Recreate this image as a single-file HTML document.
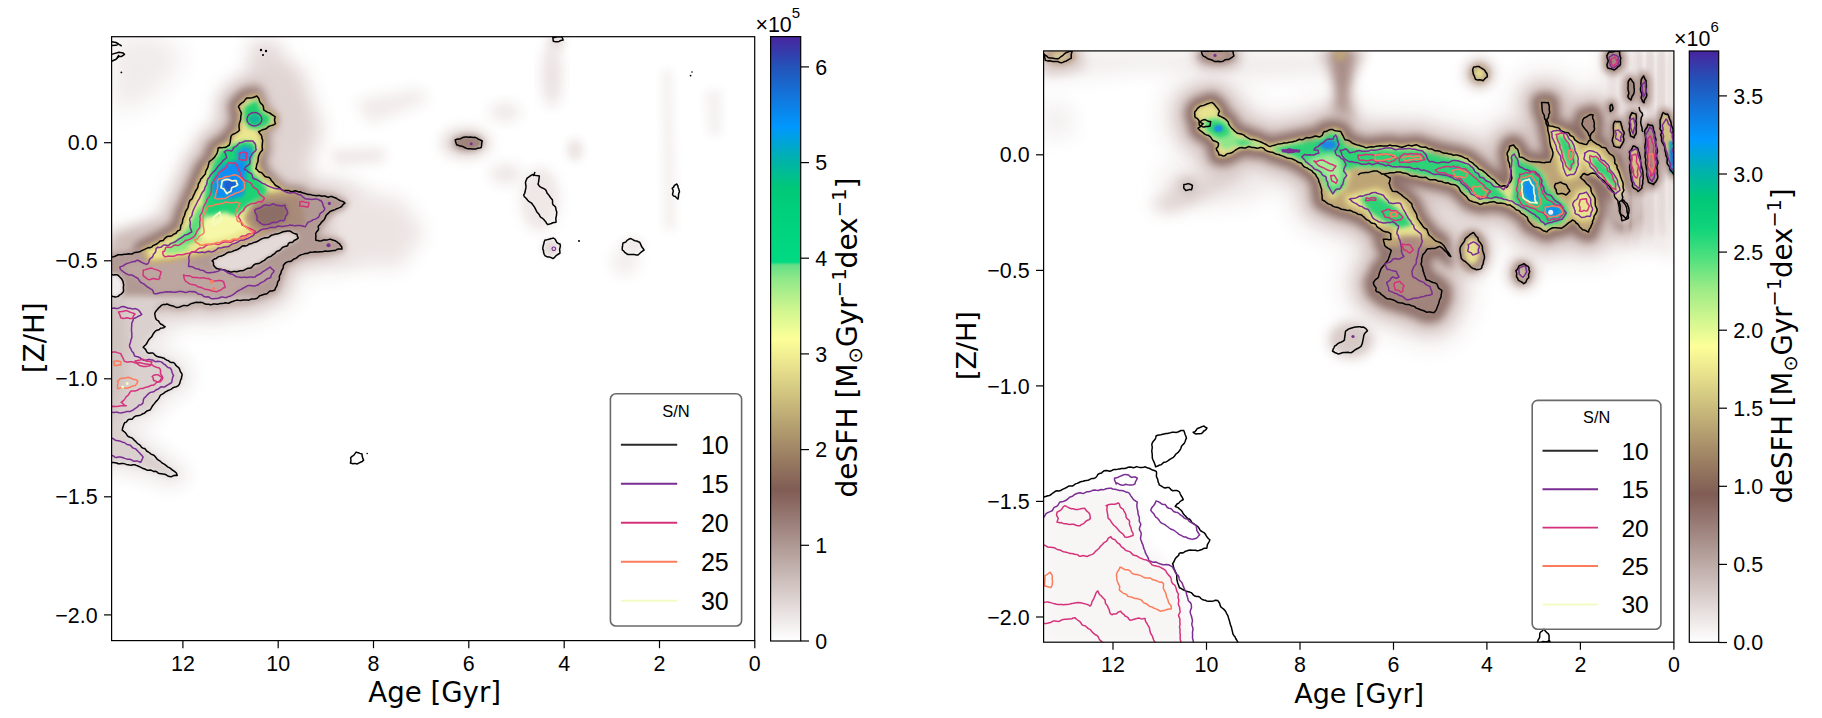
<!DOCTYPE html>
<html><head><meta charset="utf-8"><title>deSFH</title>
<style>html,body{margin:0;padding:0;background:#fff;} svg{display:block;}</style></head>
<body><svg width="1822" height="718" viewBox="0 0 1822 718">
<rect width="1822" height="718" fill="#fff"/>
<defs><clipPath id="clipL"><rect x="111.6" y="36.7" width="643.1" height="603.9"/></clipPath></defs>
<g clip-path="url(#clipL)">
<defs><filter id="b1" x="-50%" y="-50%" width="200%" height="200%"><feGaussianBlur stdDeviation="1"/></filter><filter id="b2" x="-50%" y="-50%" width="200%" height="200%"><feGaussianBlur stdDeviation="2"/></filter><filter id="b3" x="-50%" y="-50%" width="200%" height="200%"><feGaussianBlur stdDeviation="3"/></filter><filter id="b4" x="-50%" y="-50%" width="200%" height="200%"><feGaussianBlur stdDeviation="4"/></filter><filter id="b5" x="-50%" y="-50%" width="200%" height="200%"><feGaussianBlur stdDeviation="5"/></filter><filter id="b6" x="-50%" y="-50%" width="200%" height="200%"><feGaussianBlur stdDeviation="6"/></filter><filter id="b7" x="-50%" y="-50%" width="200%" height="200%"><feGaussianBlur stdDeviation="7"/></filter><filter id="b8" x="-50%" y="-50%" width="200%" height="200%"><feGaussianBlur stdDeviation="8"/></filter><filter id="b9" x="-50%" y="-50%" width="200%" height="200%"><feGaussianBlur stdDeviation="9"/></filter><filter id="b10" x="-50%" y="-50%" width="200%" height="200%"><feGaussianBlur stdDeviation="10"/></filter><filter id="b11" x="-50%" y="-50%" width="200%" height="200%"><feGaussianBlur stdDeviation="11"/></filter><filter id="b12" x="-50%" y="-50%" width="200%" height="200%"><feGaussianBlur stdDeviation="12"/></filter><filter id="b13" x="-50%" y="-50%" width="200%" height="200%"><feGaussianBlur stdDeviation="13"/></filter><filter id="b14" x="-50%" y="-50%" width="200%" height="200%"><feGaussianBlur stdDeviation="14"/></filter><filter id="b15" x="-50%" y="-50%" width="200%" height="200%"><feGaussianBlur stdDeviation="15"/></filter><filter id="b16" x="-50%" y="-50%" width="200%" height="200%"><feGaussianBlur stdDeviation="16"/></filter><filter id="b17" x="-50%" y="-50%" width="200%" height="200%"><feGaussianBlur stdDeviation="17"/></filter><filter id="b18" x="-50%" y="-50%" width="200%" height="200%"><feGaussianBlur stdDeviation="18"/></filter><filter id="b19" x="-50%" y="-50%" width="200%" height="200%"><feGaussianBlur stdDeviation="19"/></filter><filter id="b20" x="-50%" y="-50%" width="200%" height="200%"><feGaussianBlur stdDeviation="20"/></filter><filter id="b21" x="-50%" y="-50%" width="200%" height="200%"><feGaussianBlur stdDeviation="21"/></filter><filter id="b22" x="-50%" y="-50%" width="200%" height="200%"><feGaussianBlur stdDeviation="22"/></filter><filter id="b23" x="-50%" y="-50%" width="200%" height="200%"><feGaussianBlur stdDeviation="23"/></filter><filter id="b24" x="-50%" y="-50%" width="200%" height="200%"><feGaussianBlur stdDeviation="24"/></filter></defs><path d="M159.9,214.0 L157.7,215.4 L148.1,220.9 L147.7,221.1 L141.1,225.1 L135.6,227.3 L126.7,229.9 L116.7,231.2 L115.2,231.5 L110.0,232.6 L101.4,232.0 L99.1,232.0 L96.8,232.2 L94.6,232.6 L92.4,233.2 L90.2,234.1 L88.2,235.1 L86.2,236.4 L84.4,237.8 L82.7,239.3 L81.2,241.1 L79.9,242.9 L78.7,244.9 L77.7,247.0 L77.0,249.2 L76.4,251.4 L76.1,253.7 L76.0,256.0 L76.0,306.0 L76.1,308.4 L76.5,310.7 L77.0,313.0 L77.8,315.2 L78.8,317.3 L80.0,319.3 L81.4,321.2 L83.0,323.0 L84.8,324.6 L86.7,326.0 L88.7,327.2 L90.8,328.2 L93.0,329.0 L95.3,329.5 L97.6,329.9 L100.0,330.0 L159.6,330.0 L162.1,329.9 L164.5,329.5 L166.9,328.9 L166.9,328.9 L169.1,329.4 L171.6,329.9 L174.2,330.0 L181.3,330.0 L183.7,329.9 L186.1,329.5 L190.0,328.7 L190.5,328.6 L199.0,326.7 L202.6,327.9 L204.9,328.6 L207.2,329.0 L209.6,329.2 L212.0,329.1 L214.3,328.9 L224.3,327.2 L224.4,327.1 L233.2,325.6 L251.3,323.9 L254.2,323.4 L257.0,322.6 L274.0,316.6 L275.5,316.0 L284.8,312.0 L286.8,311.1 L288.7,309.9 L290.5,308.5 L292.2,307.0 L293.7,305.4 L295.1,303.6 L296.3,301.6 L297.3,299.6 L298.1,297.5 L301.2,288.1 L304.1,280.7 L304.2,280.4 L307.4,278.5 L310.8,277.1 L324.2,275.8 L325.3,275.7 L337.0,274.0 L338.0,273.8 L346.3,272.2 L348.7,271.6 L350.9,270.8 L353.0,269.8 L355.1,268.6 L357.0,267.2 L358.8,265.6 L360.4,263.8 L361.8,261.9 L363.0,259.9 L364.0,257.7 L364.8,255.5 L365.4,253.2 L365.7,250.8 L365.8,248.4 L365.7,246.1 L365.3,243.7 L364.7,241.4 L363.1,236.3 L362.3,234.0 L361.2,231.9 L359.9,229.8 L358.4,227.9 L356.8,226.1 L356.4,225.8 L357.1,225.3 L358.8,223.8 L362.2,220.4 L363.7,218.7 L365.1,216.8 L366.3,214.9 L367.3,212.8 L368.1,210.6 L368.7,208.4 L369.0,206.2 L369.2,203.9 L369.1,201.6 L368.8,199.3 L368.3,197.0 L367.6,194.9 L366.7,192.8 L365.6,190.8 L364.3,188.9 L362.8,187.1 L361.2,185.5 L359.4,184.0 L357.5,182.8 L349.1,177.8 L347.0,176.7 L344.9,175.8 L342.7,175.1 L336.0,173.4 L332.5,172.8 L316.9,171.2 L301.4,168.2 L299.8,167.9 L292.2,166.9 L288.7,164.6 L283.8,159.9 L284.2,159.0 L285.0,156.8 L285.6,154.4 L286.0,152.1 L286.1,149.7 L286.1,144.9 L288.1,143.8 L290.0,142.4 L291.9,140.9 L293.5,139.1 L295.0,137.2 L296.3,135.1 L297.4,132.9 L298.2,130.7 L298.8,128.3 L299.2,125.9 L299.3,123.5 L299.3,116.8 L299.2,114.5 L298.8,112.2 L298.3,109.9 L297.5,107.7 L296.5,105.6 L295.3,103.6 L293.9,101.7 L292.4,99.9 L290.7,98.4 L288.8,97.0 L283.8,93.6 L282.5,92.8 L282.4,92.7 L281.1,89.8 L277.8,84.0 L276.5,82.0 L275.0,80.1 L273.3,78.4 L271.5,76.9 L269.5,75.5 L267.4,74.3 L265.2,73.4 L262.9,72.7 L260.6,72.2 L258.2,71.9 L255.8,71.9 L253.4,72.2 L251.1,72.6 L241.1,75.1 L238.6,75.9 L236.3,76.9 L234.1,78.1 L232.0,79.6 L230.1,81.3 L225.0,86.3 L224.8,86.4 L221.5,89.7 L220.0,91.4 L218.6,93.2 L217.4,95.2 L216.4,97.3 L215.6,99.4 L215.0,101.6 L214.7,103.9 L214.5,106.1 L214.6,108.4 L214.8,110.7 L215.3,112.9 L216.0,115.1 L216.6,116.6 L216.4,118.2 L214.8,119.8 L213.4,121.4 L212.0,123.2 L210.9,125.0 L210.2,126.2 L210.1,126.3 L207.9,127.2 L205.8,128.3 L203.9,129.6 L202.0,131.2 L200.4,132.8 L198.9,134.7 L197.6,136.7 L196.5,138.8 L195.6,141.0 L195.4,141.5 L192.5,144.4 L191.0,146.1 L189.7,147.8 L188.6,149.7 L187.6,151.6 L186.8,153.7 L184.8,159.6 L184.4,160.8 L184.2,161.6 L183.7,162.0 L182.1,163.9 L180.6,165.8 L179.4,168.0 L178.4,170.2 L177.6,172.5 L176.3,177.0 L174.8,180.0 L173.0,183.1 L170.7,186.1 L169.5,187.9 L168.5,189.8 L167.6,191.8 L162.6,204.9 L161.9,206.9 Z" fill="#f3efee" fill-rule="evenodd" filter="url(#b10)"/><path d="M88.0,462.0 L88.1,463.2 L88.2,464.3 L88.5,465.4 L88.9,466.5 L89.4,467.6 L90.0,468.6 L90.7,469.5 L91.4,470.4 L92.3,471.2 L93.2,471.9 L94.2,472.5 L95.3,473.0 L96.4,473.4 L97.5,473.7 L98.6,473.9 L99.8,474.0 L111.0,474.2 L126.0,475.8 L139.5,479.2 L151.3,482.7 L159.9,486.1 L161.4,486.5 L168.6,488.3 L169.7,488.6 L170.8,488.7 L171.9,488.7 L173.0,488.6 L174.2,488.4 L175.2,488.1 L180.7,486.3 L181.8,485.9 L182.9,485.4 L183.9,484.7 L184.8,484.0 L185.7,483.2 L186.4,482.3 L187.1,481.4 L187.7,480.4 L188.2,479.3 L188.5,478.2 L188.8,477.0 L189.0,475.9 L189.0,474.7 L188.9,473.5 L188.7,472.4 L188.4,471.2 L188.0,470.1 L187.5,469.1 L186.9,468.1 L186.2,467.2 L185.4,466.3 L181.7,462.7 L180.9,462.0 L171.9,454.7 L171.7,454.6 L162.7,447.4 L153.8,440.2 L153.6,440.1 L144.6,432.9 L138.4,428.0 L141.3,426.5 L147.4,424.9 L148.7,424.5 L149.9,424.0 L151.1,423.3 L156.5,419.7 L157.5,418.9 L158.5,417.9 L159.4,416.9 L164.8,409.7 L168.9,404.3 L175.8,400.1 L184.9,394.7 L185.8,394.1 L186.7,393.5 L187.4,392.7 L188.2,391.9 L188.8,391.1 L192.4,385.7 L193.0,384.6 L193.5,383.6 L193.9,382.5 L194.2,381.3 L194.3,380.2 L194.4,379.0 L194.3,377.8 L194.2,376.7 L192.4,367.6 L192.1,366.4 L191.7,365.3 L191.2,364.2 L190.5,363.2 L189.8,362.2 L189.0,361.4 L181.7,354.2 L180.9,353.4 L180.0,352.8 L179.1,352.2 L178.1,351.7 L165.5,346.2 L165.5,346.2 L160.9,344.2 L163.0,341.4 L170.5,337.7 L171.6,337.1 L172.6,336.4 L173.5,335.6 L174.3,334.7 L175.0,333.8 L175.7,332.7 L176.2,331.7 L176.6,330.5 L176.9,329.4 L177.1,328.2 L177.2,327.0 L177.1,325.8 L177.0,324.6 L176.7,323.4 L176.3,322.3 L175.8,321.2 L175.1,320.2 L174.4,319.2 L173.7,318.5 L174.3,318.6 L175.5,318.8 L176.8,318.9 L178.1,318.8 L179.3,318.7 L187.6,317.0 L187.8,316.9 L199.6,314.2 L206.4,316.6 L207.6,316.9 L208.8,317.1 L209.9,317.2 L211.1,317.2 L212.3,317.0 L222.3,315.3 L222.4,315.3 L231.6,313.7 L250.1,311.9 L251.6,311.7 L253.0,311.3 L264.3,307.3 L265.4,306.9 L266.4,306.3 L267.4,305.7 L268.3,305.0 L269.1,304.2 L269.9,303.3 L270.5,302.3 L271.1,301.3 L271.6,300.2 L271.9,299.1 L272.2,298.0 L272.3,296.9 L272.3,295.7 L272.2,294.5 L272.0,293.4 L271.7,292.3 L271.3,291.2 L270.8,290.2 L270.2,289.2 L269.5,288.3 L268.7,287.4 L267.8,286.6 L266.9,286.0 L265.9,285.4 L264.9,284.9 L263.8,284.5 L262.6,284.2 L261.5,284.1 L260.3,284.0 L100.0,284.0 L98.8,284.1 L97.7,284.2 L96.5,284.5 L95.4,284.9 L94.3,285.4 L93.3,286.0 L92.4,286.7 L91.5,287.5 L90.7,288.4 L90.0,289.3 L89.4,290.3 L88.9,291.4 L88.5,292.5 L88.2,293.7 L88.1,294.8 L88.0,296.0 Z" fill="#f1ecec" fill-rule="evenodd" filter="url(#b8)"/><path d="M112.0,36.0 L165.0,36.0 L185.0,60.0 L150.0,100.0 L112.0,115.0 Z" fill="#f1ebeb" filter="url(#b12)"/><path d="M112.0,235.0 L160.0,225.0 L175.0,240.0 L150.0,262.0 L112.0,270.0 Z" fill="#bfa9a4" filter="url(#b8)"/><path d="M250.0,40.0 L280.0,40.0 L288.0,85.0 L262.0,96.0 L247.0,75.0 Z" fill="#e6dddc" filter="url(#b9)"/><path d="M159.7,218.8 L150.7,224.1 L134.5,232.1 L132.7,233.1 L131.1,234.2 L129.6,235.6 L128.2,237.0 L127.0,238.6 L125.9,240.3 L125.0,242.1 L124.3,244.0 L124.2,244.3 L118.6,245.1 L118.0,245.2 L111.0,246.6 L100.6,246.0 L99.6,246.0 L98.7,246.1 L97.7,246.3 L96.8,246.5 L95.9,246.9 L95.1,247.3 L94.3,247.8 L93.5,248.4 L92.8,249.1 L92.2,249.8 L91.6,250.6 L91.1,251.4 L90.7,252.3 L90.4,253.2 L90.2,254.1 L90.0,255.0 L90.0,256.0 L90.0,306.0 L90.0,307.0 L90.2,308.0 L90.4,308.9 L90.8,309.8 L91.2,310.7 L91.7,311.6 L92.3,312.3 L92.9,313.1 L93.7,313.7 L94.4,314.3 L95.3,314.8 L96.2,315.2 L97.1,315.6 L98.0,315.8 L99.0,316.0 L100.0,316.0 L159.6,316.0 L160.6,315.9 L161.7,315.8 L162.7,315.5 L163.6,315.2 L164.5,314.7 L165.4,314.2 L166.4,313.9 L171.0,315.5 L172.1,315.8 L173.1,315.9 L174.2,316.0 L181.3,316.0 L182.3,315.9 L183.3,315.8 L187.2,315.0 L187.4,315.0 L199.7,312.2 L207.1,314.7 L208.0,314.9 L209.0,315.1 L210.0,315.2 L211.0,315.2 L212.0,315.1 L222.0,313.4 L222.0,313.3 L231.3,311.7 L249.9,310.0 L251.2,309.8 L252.3,309.4 L269.3,303.4 L270.0,303.2 L279.3,299.2 L280.1,298.8 L280.9,298.3 L281.7,297.7 L282.3,297.1 L283.0,296.4 L283.5,295.7 L284.0,294.9 L284.5,294.0 L284.8,293.1 L288.0,283.4 L291.0,275.6 L291.4,274.3 L292.1,271.4 L293.8,270.3 L301.1,265.9 L307.5,263.4 L322.8,261.8 L323.2,261.8 L334.9,260.1 L335.4,260.0 L343.7,258.4 L344.7,258.2 L345.6,257.9 L346.5,257.4 L347.3,256.9 L348.1,256.3 L348.9,255.7 L349.5,254.9 L350.1,254.1 L350.6,253.3 L351.1,252.4 L351.4,251.5 L351.6,250.5 L351.8,249.5 L351.8,248.5 L351.7,247.5 L351.6,246.6 L351.3,245.6 L349.7,240.5 L349.4,239.6 L348.9,238.7 L348.4,237.8 L347.8,237.0 L347.1,236.3 L346.3,235.6 L345.5,235.0 L344.6,234.5 L337.9,231.2 L337.1,230.9 L336.2,230.6 L335.3,230.4 L334.4,230.2 L333.5,230.2 L328.4,230.2 L331.4,226.2 L336.4,220.0 L345.7,216.0 L346.6,215.6 L347.4,215.1 L348.2,214.5 L348.9,213.9 L352.3,210.5 L352.9,209.8 L353.5,209.0 L354.0,208.2 L354.4,207.3 L354.7,206.4 L355.0,205.5 L355.1,204.5 L355.2,203.6 L355.2,202.6 L355.1,201.7 L354.8,200.8 L354.5,199.8 L354.2,199.0 L353.7,198.1 L353.2,197.3 L352.5,196.6 L351.9,195.9 L351.1,195.3 L350.3,194.8 L341.9,189.8 L341.1,189.4 L340.2,189.0 L339.3,188.7 L332.6,187.0 L331.1,186.8 L314.9,185.1 L313.8,184.9 L313.5,184.2 L312.5,182.6 L311.3,181.1 L310.0,179.7 L308.6,178.4 L307.0,177.3 L305.4,176.3 L303.7,175.5 L301.9,174.9 L291.9,171.8 L281.9,164.7 L281.1,164.2 L278.8,162.7 L278.2,161.5 L280.7,157.2 L281.7,155.4 L282.5,153.6 L283.0,151.6 L283.4,149.6 L283.6,147.6 L283.6,145.6 L283.3,143.6 L283.1,142.0 L284.2,141.4 L285.9,140.4 L287.6,139.3 L289.1,138.0 L290.5,136.5 L291.7,134.9 L292.8,133.2 L293.7,131.4 L294.4,129.5 L294.9,127.5 L295.2,125.5 L295.3,123.5 L295.3,116.8 L295.2,114.9 L294.9,112.9 L294.5,111.0 L293.8,109.2 L293.0,107.4 L292.0,105.8 L290.8,104.2 L289.5,102.8 L288.1,101.4 L286.5,100.3 L281.5,96.9 L279.3,95.5 L278.7,94.2 L277.6,91.8 L274.3,86.0 L273.2,84.3 L272.0,82.8 L270.6,81.3 L269.1,80.0 L267.4,78.9 L265.7,77.9 L263.8,77.1 L261.9,76.5 L260.0,76.1 L258.0,75.9 L256.0,75.9 L254.0,76.1 L252.0,76.5 L242.0,79.0 L240.0,79.6 L238.1,80.5 L236.2,81.5 L234.5,82.7 L232.9,84.1 L227.8,89.1 L227.7,89.3 L224.4,92.6 L223.1,94.0 L221.9,95.5 L220.9,97.1 L220.1,98.8 L219.4,100.6 L219.0,102.5 L218.6,104.3 L218.5,106.2 L218.6,108.1 L218.8,110.0 L219.2,111.9 L219.8,113.7 L220.7,116.1 L220.4,118.8 L220.1,120.2 L217.7,122.7 L216.2,124.3 L214.9,126.1 L214.2,127.4 L210.9,129.1 L209.0,130.2 L207.3,131.5 L203.3,134.8 L201.7,136.2 L200.3,137.7 L199.1,139.4 L198.1,141.3 L197.3,143.2 L196.6,145.2 L195.4,149.9 L190.9,154.5 L189.6,155.8 L188.5,157.3 L187.5,158.9 L186.7,160.6 L181.7,172.0 L181.6,172.1 L176.6,183.8 L171.8,195.0 L167.1,204.6 L166.4,206.3 L165.8,208.0 L163.3,216.6 Z" fill="#d3c3c0" fill-rule="evenodd" filter="url(#b8)"/><path d="M234.7,96.3 L231.4,99.6 L230.8,100.3 L230.2,101.1 L229.7,101.9 L229.3,102.8 L229.0,103.7 L228.7,104.6 L228.6,105.5 L228.5,106.5 L228.5,107.4 L228.6,108.4 L228.8,109.3 L229.1,110.2 L230.8,114.7 L230.3,120.3 L229.3,125.2 L224.7,129.7 L224.0,130.5 L223.4,131.4 L222.8,132.4 L222.4,133.4 L221.9,134.7 L215.5,138.0 L214.5,138.5 L213.6,139.2 L209.6,142.5 L208.9,143.2 L208.2,144.0 L207.6,144.8 L207.1,145.7 L206.6,146.7 L206.3,147.7 L204.4,155.1 L197.9,161.5 L197.3,162.2 L196.7,163.0 L196.3,163.8 L195.8,164.6 L190.8,176.0 L190.8,176.1 L185.8,187.8 L180.9,199.2 L176.0,209.1 L175.7,209.9 L175.4,210.7 L172.2,221.8 L171.6,223.2 L164.9,227.4 L155.4,232.9 L138.9,241.0 L138.1,241.5 L137.2,242.1 L136.5,242.8 L135.8,243.5 L135.2,244.3 L134.6,245.2 L134.2,246.1 L133.9,247.0 L133.6,248.0 L133.5,249.0 L133.4,250.0 L133.4,251.0 L133.6,252.0 L133.9,253.0 L134.2,253.9 L134.6,254.8 L141.2,266.8 L141.7,267.6 L142.3,268.4 L143.0,269.1 L143.7,269.8 L144.5,270.4 L145.3,270.9 L146.2,271.3 L147.1,271.6 L148.1,271.8 L149.1,272.0 L150.0,272.0 L151.0,272.0 L171.0,270.0 L171.8,269.8 L193.8,265.8 L194.4,265.7 L214.4,260.7 L214.7,260.6 L232.7,255.6 L233.7,255.3 L253.7,247.3 L254.5,246.9 L274.5,236.9 L275.4,236.4 L276.3,235.8 L277.1,235.1 L289.1,223.1 L289.4,222.7 L299.4,211.7 L300.0,211.0 L300.6,210.2 L301.0,209.3 L301.4,208.4 L305.4,197.4 L305.7,196.5 L305.9,195.6 L306.0,194.6 L306.0,193.7 L305.9,192.7 L305.8,191.8 L305.5,190.9 L305.2,190.0 L304.7,189.1 L304.2,188.3 L303.6,187.6 L303.0,186.9 L302.3,186.2 L301.5,185.7 L300.7,185.2 L299.8,184.8 L298.9,184.4 L287.5,180.9 L276.1,172.8 L275.7,172.6 L271.2,169.7 L269.1,165.7 L267.4,162.2 L268.1,158.9 L272.2,152.1 L272.6,151.2 L273.0,150.2 L273.3,149.3 L273.5,148.3 L273.6,147.3 L273.6,146.2 L273.5,145.2 L272.0,136.3 L279.7,132.5 L280.6,132.0 L281.4,131.4 L282.2,130.7 L282.9,130.0 L283.5,129.2 L284.1,128.3 L284.5,127.4 L284.8,126.5 L285.1,125.5 L285.2,124.5 L285.3,123.5 L285.3,116.8 L285.3,115.8 L285.1,114.9 L284.9,113.9 L284.6,113.0 L284.1,112.1 L283.6,111.3 L283.1,110.5 L282.4,109.8 L281.7,109.1 L280.9,108.5 L275.9,105.1 L274.7,104.4 L271.4,102.8 L269.5,97.9 L268.9,96.8 L265.6,91.0 L265.1,90.1 L264.4,89.3 L263.7,88.6 L263.0,88.0 L262.2,87.4 L261.3,86.9 L260.4,86.5 L259.4,86.2 L258.4,86.0 L257.4,85.9 L256.4,85.9 L255.5,86.0 L254.5,86.2 L244.5,88.7 L243.5,89.0 L242.5,89.4 L241.6,89.9 L240.7,90.6 L239.9,91.3 L234.8,96.3 Z" fill="#8f716a" fill-rule="evenodd" filter="url(#b4)"/><path d="M330.0,188.0 L400.0,198.0 L425.0,232.0 L400.0,268.0 L340.0,264.0 Z" fill="#ece4e3" filter="url(#b10)"/><path d="M262.0,58.0 L300.0,66.0 L322.0,130.0 L300.0,192.0 L276.0,182.0 L266.0,120.0 Z" fill="#e0d4d2" filter="url(#b10)"/><path d="M355.0,100.0 L420.0,88.0 L430.0,100.0 L370.0,125.0 Z" fill="#f1ebea" filter="url(#b7)"/><path d="M330.0,150.0 L385.0,148.0 L385.0,162.0 L335.0,166.0 Z" fill="#efe8e7" filter="url(#b6)"/><path d="M162.0,307.8 L166.7,306.6 L173.3,308.8 L173.6,308.9 L173.9,309.0 L174.2,309.0 L181.3,309.0 L181.6,309.0 L181.9,308.9 L185.8,308.1 L185.9,308.1 L200.1,304.9 L209.3,308.0 L209.6,308.1 L209.9,308.2 L210.2,308.2 L210.5,308.2 L210.8,308.2 L220.8,306.5 L220.8,306.5 L230.4,304.8 L249.3,303.0 L249.6,302.9 L250.0,302.8 L267.0,296.8 L267.2,296.8 L276.5,292.8 L276.7,292.6 L277.0,292.5 L277.2,292.3 L277.4,292.1 L277.6,291.9 L277.8,291.7 L277.9,291.5 L278.0,291.2 L278.1,290.9 L281.4,281.0 L284.5,273.1 L284.6,272.7 L285.9,267.1 L290.0,264.4 L298.0,259.6 L305.8,256.5 L322.1,254.9 L322.2,254.9 L333.9,253.2 L334.1,253.1 L342.4,251.5 L342.7,251.5 L342.9,251.4 L343.2,251.3 L343.5,251.1 L343.7,250.9 L343.9,250.7 L344.1,250.5 L344.3,250.3 L344.4,250.0 L344.6,249.7 L344.7,249.5 L344.7,249.2 L344.8,248.9 L344.8,248.6 L344.8,248.3 L344.7,248.0 L344.7,247.7 L343.1,242.6 L343.0,242.3 L342.8,242.0 L342.7,241.8 L342.5,241.5 L342.3,241.3 L342.0,241.1 L341.8,241.0 L341.5,240.8 L334.8,237.5 L334.6,237.4 L334.3,237.3 L334.0,237.3 L333.8,237.2 L333.5,237.2 L318.9,237.2 L318.9,234.0 L321.1,228.3 L325.9,221.9 L332.0,214.3 L343.0,209.6 L343.2,209.4 L343.5,209.3 L343.7,209.1 L343.9,208.9 L347.3,205.5 L347.5,205.3 L347.7,205.1 L347.8,204.8 L348.0,204.6 L348.1,204.3 L348.1,204.0 L348.2,203.7 L348.2,203.5 L348.2,203.2 L348.2,202.9 L348.1,202.6 L348.0,202.3 L347.9,202.1 L347.7,201.8 L347.6,201.6 L347.4,201.4 L347.2,201.2 L347.0,201.0 L346.7,200.8 L338.3,195.8 L338.1,195.7 L337.8,195.6 L337.5,195.5 L330.8,193.8 L330.4,193.7 L313.8,192.0 L297.3,188.8 L297.1,188.7 L284.7,187.1 L275.5,181.1 L269.1,174.8 L268.8,174.6 L268.5,174.4 L263.7,171.6 L258.8,168.0 L260.2,163.3 L262.0,157.6 L264.9,150.9 L265.0,150.6 L265.0,150.3 L265.1,150.0 L265.1,149.7 L265.1,140.0 L265.1,139.8 L264.9,136.6 L264.9,136.3 L264.8,136.0 L264.7,135.7 L264.6,135.4 L264.4,135.1 L263.0,133.0 L266.5,131.2 L276.6,126.2 L276.9,126.0 L277.1,125.9 L277.4,125.7 L277.6,125.4 L277.8,125.2 L277.9,125.0 L278.1,124.7 L278.2,124.4 L278.2,124.1 L278.3,123.8 L278.3,123.5 L278.3,116.8 L278.3,116.5 L278.2,116.2 L278.2,115.9 L278.1,115.7 L278.0,115.4 L277.8,115.1 L277.6,114.9 L277.4,114.7 L277.2,114.5 L277.0,114.3 L272.0,110.9 L271.6,110.7 L266.0,107.9 L263.0,100.6 L262.8,100.2 L259.5,94.4 L259.3,94.2 L259.2,93.9 L259.0,93.7 L258.7,93.5 L258.5,93.3 L258.2,93.2 L257.9,93.1 L257.7,93.0 L257.4,92.9 L257.1,92.9 L256.8,92.9 L256.5,92.9 L256.2,93.0 L246.2,95.5 L245.9,95.6 L245.6,95.7 L245.3,95.9 L245.0,96.0 L244.8,96.3 L239.7,101.3 L239.7,101.3 L236.4,104.6 L236.2,104.8 L236.0,105.0 L235.9,105.3 L235.7,105.5 L235.6,105.8 L235.6,106.1 L235.5,106.3 L235.5,106.6 L235.5,106.9 L235.5,107.2 L235.6,107.5 L235.7,107.7 L237.9,113.8 L237.2,121.4 L235.7,128.6 L229.7,134.7 L229.5,134.9 L229.3,135.1 L229.2,135.3 L227.4,138.5 L227.2,138.8 L227.1,139.1 L227.1,139.4 L226.4,142.7 L217.3,146.0 L217.0,146.1 L216.7,146.2 L216.5,146.4 L216.3,146.6 L216.1,146.8 L215.9,147.0 L215.7,147.3 L215.6,147.5 L215.5,147.8 L213.7,153.0 L207.4,159.3 L207.2,159.5 L207.0,159.7 L206.9,159.9 L206.8,160.2 L206.7,160.4 L204.7,166.3 L204.6,166.5 L202.9,172.5 L198.6,176.9 L198.4,177.1 L198.2,177.4 L198.0,177.6 L197.9,177.9 L197.8,178.2 L196.0,184.7 L193.2,190.2 L190.4,194.8 L187.6,198.6 L187.4,198.8 L187.3,199.1 L187.2,199.3 L182.2,212.4 L182.1,212.7 L178.9,224.0 L177.3,228.0 L168.5,233.4 L158.6,239.1 L158.6,239.1 L150.5,244.0 L142.4,247.2 L131.1,250.5 L119.6,252.0 L119.4,252.1 L111.5,253.7 L100.2,253.0 L99.9,253.0 L99.6,253.0 L99.3,253.1 L99.0,253.2 L98.8,253.3 L98.5,253.4 L98.3,253.5 L98.1,253.7 L97.8,253.9 L97.7,254.1 L97.5,254.4 L97.3,254.6 L97.2,254.9 L97.1,255.1 L97.1,255.4 L97.0,255.7 L97.0,256.0 L97.0,306.0 L97.0,306.3 L97.1,306.6 L97.1,306.9 L97.2,307.1 L97.4,307.4 L97.5,307.7 L97.7,307.9 L97.9,308.1 L98.1,308.3 L98.3,308.5 L98.6,308.6 L98.9,308.8 L99.1,308.9 L99.4,308.9 L99.7,309.0 L100.0,309.0 L159.6,309.0 L159.9,309.0 L160.2,308.9 L160.5,308.9 L160.8,308.7 L161.1,308.6 L161.4,308.4 L161.6,308.3 L161.8,308.0 Z" fill="#b29a94" fill-rule="evenodd" filter="url(#b3)"/><path d="M100.0,462.0 L111.8,462.2 L128.1,464.0 L142.6,467.6 L155.2,471.3 L164.3,474.9 L171.5,476.7 L177.0,474.9 L173.3,471.3 L164.3,464.0 L155.2,456.8 L146.2,449.5 L137.1,442.3 L128.1,435.1 L122.7,429.6 L124.5,422.4 L129.9,418.8 L137.1,415.2 L144.4,413.3 L149.8,409.7 L155.2,402.5 L160.7,395.2 L169.7,389.8 L178.8,384.4 L182.4,379.0 L180.6,369.9 L173.3,362.7 L160.7,357.2 L146.2,350.9 L143.4,347.0 L150.1,338.6 L155.1,331.9 L165.2,326.9 L156.8,320.2 L155.1,313.5 L160.1,305.2 L166.8,303.5 L176.9,306.9 L185.2,305.2 L200.3,301.8 L210.3,305.2 L220.3,303.5 L230.0,301.8 L249.0,300.0 L260.3,296.0 L100.0,296.0 Z" fill="#dad0ce" fill-rule="evenodd" filter="url(#b3)"/><path d="M100.0,300.0 L122.0,300.0 L126.0,330.0 L126.0,380.0 L112.0,420.0 L100.0,420.0 Z" fill="#cfc2bf" filter="url(#b6)"/><path d="M150.1,260.1 L146.7,264.3 L141.7,262.6 L136.7,260.1 L130.0,262.6 L120.0,267.6 L123.4,271.8 L135.1,276.8 L143.4,283.5 L151.8,290.1 L153.5,293.5 L160.1,293.5 L176.9,291.8 L193.6,291.8 L210.3,298.5 L230.0,296.8 L243.5,287.0 L258.6,285.3 L270.3,277.0 L273.6,270.3 L270.3,267.0 L255.2,277.0 L238.5,277.0 L221.8,270.3 L210.0,272.7 L196.9,268.5 L188.5,266.8 L189.4,260.1 L189.7,258.0 L151.4,258.0 Z" fill="#bda5a0" fill-rule="evenodd" filter="url(#b3)"/><path d="M240.0,101.6 L236.7,104.9 L236.6,105.1 L236.4,105.3 L236.3,105.5 L236.2,105.7 L236.1,105.9 L236.1,106.2 L236.0,106.4 L236.0,106.6 L236.0,106.9 L236.0,107.1 L236.1,107.3 L236.2,107.6 L238.5,113.7 L237.7,121.4 L236.2,128.9 L230.0,135.0 L229.8,135.2 L229.7,135.5 L229.6,135.7 L229.4,136.0 L228.0,140.0 L218.9,144.7 L218.6,144.8 L218.4,145.0 L214.4,148.3 L214.2,148.4 L214.0,148.6 L213.9,148.9 L213.8,149.1 L213.7,149.3 L213.6,149.6 L211.2,158.9 L203.2,166.8 L203.1,167.0 L202.9,167.2 L202.8,167.4 L202.7,167.6 L197.7,179.0 L197.7,179.0 L192.7,190.7 L187.7,202.4 L182.8,212.4 L182.7,212.6 L182.6,212.8 L179.3,224.2 L177.7,228.3 L168.7,233.9 L158.9,239.5 L142.3,247.8 L142.1,247.9 L141.9,248.0 L141.7,248.2 L141.5,248.4 L141.3,248.6 L141.2,248.8 L141.1,249.0 L141.0,249.3 L141.0,249.5 L140.9,249.7 L140.9,250.0 L140.9,250.2 L141.0,250.5 L141.0,250.7 L141.1,251.0 L141.2,251.2 L147.8,263.2 L147.9,263.4 L148.1,263.6 L148.2,263.8 L148.4,263.9 L148.6,264.1 L148.8,264.2 L149.1,264.3 L149.3,264.4 L149.5,264.5 L149.8,264.5 L150.0,264.5 L150.2,264.5 L170.2,262.5 L170.4,262.5 L192.4,258.5 L192.6,258.4 L212.6,253.4 L212.7,253.4 L230.7,248.4 L230.9,248.3 L250.9,240.3 L251.1,240.2 L271.1,230.2 L271.4,230.1 L271.6,229.9 L271.8,229.8 L283.8,217.8 L283.8,217.7 L293.8,206.7 L294.0,206.5 L294.1,206.3 L294.3,206.1 L294.3,205.9 L298.3,194.9 L298.4,194.6 L298.5,194.4 L298.5,194.2 L298.5,193.9 L298.5,193.7 L298.4,193.4 L298.4,193.2 L298.3,193.0 L298.2,192.8 L298.1,192.6 L297.9,192.4 L297.7,192.2 L297.6,192.1 L297.4,191.9 L297.2,191.8 L297.0,191.7 L296.7,191.6 L284.1,187.7 L271.7,179.0 L271.7,178.9 L265.5,174.9 L262.4,169.2 L259.5,163.3 L261.0,156.1 L265.7,148.2 L265.9,148.0 L266.0,147.7 L266.0,147.5 L266.1,147.2 L266.1,147.0 L266.1,146.7 L266.1,146.5 L264.4,136.4 L264.3,136.1 L264.2,135.9 L264.1,135.6 L264.0,135.4 L262.2,132.8 L266.3,130.7 L276.4,125.7 L276.6,125.6 L276.8,125.5 L277.0,125.3 L277.2,125.1 L277.4,124.9 L277.5,124.7 L277.6,124.5 L277.7,124.2 L277.7,124.0 L277.8,123.8 L277.8,123.5 L277.8,116.8 L277.8,116.6 L277.8,116.3 L277.7,116.1 L277.6,115.9 L277.5,115.6 L277.4,115.4 L277.2,115.2 L277.1,115.0 L276.9,114.9 L276.7,114.7 L271.7,111.3 L271.4,111.2 L265.6,108.3 L262.5,100.8 L262.4,100.5 L259.1,94.7 L258.9,94.5 L258.8,94.3 L258.6,94.1 L258.4,93.9 L258.2,93.8 L258.0,93.7 L257.8,93.6 L257.5,93.5 L257.3,93.4 L257.0,93.4 L256.8,93.4 L256.5,93.4 L256.3,93.5 L246.3,96.0 L246.0,96.1 L245.8,96.2 L245.6,96.3 L245.3,96.4 L245.1,96.6 L240.0,101.6 Z" fill="#c6ad76" fill-rule="evenodd" filter="url(#b2)"/><path d="M240.8,107.2 L242.9,112.7 L242.9,112.9 L243.0,113.0 L243.0,113.2 L243.0,113.4 L243.0,113.6 L242.2,122.0 L242.2,122.2 L240.5,130.5 L240.4,130.7 L240.3,130.9 L240.3,131.0 L240.2,131.2 L240.0,131.4 L239.9,131.5 L233.5,137.9 L231.9,142.5 L231.8,142.7 L231.7,142.8 L231.6,143.0 L231.5,143.1 L231.4,143.3 L231.2,143.4 L231.1,143.5 L230.9,143.6 L221.1,148.6 L217.8,151.3 L215.3,160.7 L215.3,160.9 L215.2,161.1 L215.1,161.3 L215.0,161.5 L214.8,161.6 L206.7,169.7 L201.8,180.8 L196.8,192.5 L191.8,204.2 L191.8,204.3 L186.9,214.2 L183.6,225.6 L183.6,225.7 L181.6,230.7 L181.5,230.9 L181.4,231.1 L181.2,231.3 L181.1,231.4 L180.9,231.6 L180.8,231.7 L171.1,237.7 L171.0,237.7 L161.1,243.4 L161.0,243.5 L146.2,250.9 L151.1,259.9 L169.7,258.0 L191.6,254.0 L211.5,249.1 L229.4,244.1 L249.2,236.2 L254.5,233.5 L252.0,232.0 L244.0,220.0 L252.0,205.0 L262.0,193.0 L281.6,191.5 L269.2,182.7 L262.5,178.4 L262.4,178.3 L262.2,178.1 L262.1,178.0 L261.9,177.8 L261.8,177.6 L258.4,171.2 L258.4,171.2 L255.1,164.5 L255.0,164.3 L255.0,164.1 L254.9,164.0 L254.9,163.8 L254.9,163.6 L254.9,163.4 L254.9,163.2 L256.6,154.8 L256.7,154.6 L256.8,154.4 L256.9,154.2 L261.5,146.5 L260.0,137.5 L256.9,132.9 L256.8,132.7 L256.7,132.6 L256.7,132.4 L256.6,132.2 L256.6,132.0 L256.6,131.8 L256.6,131.6 L256.6,131.4 L256.7,131.2 L256.8,131.0 L256.9,130.8 L257.0,130.7 L257.1,130.5 L257.2,130.4 L257.4,130.2 L257.5,130.1 L257.7,130.0 L264.3,126.7 L264.3,126.7 L273.3,122.3 L273.3,117.9 L269.3,115.1 L262.7,111.9 L262.5,111.8 L262.4,111.7 L262.2,111.5 L262.1,111.4 L261.9,111.2 L261.8,111.0 L261.7,110.9 L258.4,102.6 L255.9,98.2 L247.9,100.2 L243.2,104.8 Z" fill="#ebe68f" fill-rule="evenodd" filter="url(#b2)"/><path d="M262.0,197.0 L300.0,194.0 L306.0,226.0 L285.0,229.0 L262.0,232.0 L252.0,228.0 L246.0,216.0 L254.0,204.0 Z" fill="#a88a78" fill-rule="evenodd" filter="url(#b3)"/><path d="M256.3,220.9 L263.0,226.0 L263.1,226.1 L263.2,226.1 L263.3,226.1 L263.4,226.2 L263.5,226.2 L263.6,226.2 L263.7,226.2 L263.8,226.2 L273.8,224.5 L273.8,224.5 L273.9,224.4 L283.9,221.0 L284.0,221.0 L284.1,221.0 L284.2,220.9 L284.3,220.9 L284.3,220.8 L284.4,220.7 L284.4,220.6 L284.5,220.6 L287.9,214.0 L287.9,213.9 L288.0,213.8 L288.0,213.7 L288.0,213.6 L288.0,213.5 L288.0,213.4 L288.0,213.3 L286.3,204.8 L286.3,204.7 L286.2,204.6 L286.2,204.5 L286.1,204.4 L286.1,204.4 L286.0,204.3 L285.9,204.2 L285.9,204.2 L285.8,204.1 L285.7,204.1 L285.6,204.0 L285.5,204.0 L285.4,204.0 L285.3,204.0 L267.0,204.0 L266.9,204.0 L266.8,204.0 L266.7,204.0 L266.6,204.1 L254.8,209.2 L254.7,209.2 L254.6,209.3 L254.6,209.3 L254.5,209.4 L254.4,209.5 L254.4,209.5 L254.3,209.6 L254.3,209.7 L254.2,209.8 L254.2,209.9 L254.2,210.0 L254.2,210.1 L254.2,210.2 L254.2,210.3 L255.9,220.3 L255.9,220.4 L256.0,220.4 L256.0,220.5 L256.0,220.6 L256.1,220.7 L256.2,220.8 L256.2,220.8 Z" fill="#8d6e66" fill-rule="evenodd" filter="url(#b2)"/><path d="M211.8,260.3 L221.8,255.2 L235.2,250.2 L250.2,243.5 L266.9,236.9 L283.6,231.8 L290.0,231.5 L297.0,234.3 L298.7,238.5 L290.3,243.5 L273.6,253.6 L258.6,263.6 L243.5,270.3 L230.1,272.0 L216.8,268.6 L213.4,265.3 Z" fill="#e4dad8" fill-rule="evenodd" filter="url(#b2)"/><path d="M100.0,274.0 L111.7,274.3 L118.4,275.1 L123.4,281.8 L123.4,291.8 L118.4,296.8 L111.7,296.8 L100.0,297.0 Z" fill="#f2eded" fill-rule="evenodd" filter="url(#b2)"/><path d="M256.0,100.0 L244.0,107.0 L244.0,120.0 L249.0,128.0 L258.0,129.0 L264.8,125.9 L269.0,123.8 L270.8,116.8 L269.0,115.6 L262.5,112.3 L262.3,112.2 L262.1,112.1 L261.9,111.9 L261.7,111.7 L261.5,111.5 L261.4,111.3 L261.3,111.0 L257.9,102.8 L256.6,100.4 Z" fill="#22cf70" fill-rule="evenodd" filter="url(#b2)"/><path d="M220.2,150.9 L218.7,155.4 L218.6,155.6 L218.5,155.8 L218.4,156.0 L218.2,156.2 L218.1,156.4 L215.2,159.3 L211.0,170.0 L207.0,184.0 L204.0,200.0 L203.0,220.0 L215.0,224.0 L232.0,220.0 L240.0,212.0 L250.0,204.0 L262.0,197.0 L268.0,190.0 L262.0,182.0 L252.0,172.0 L252.0,160.0 L256.0,150.0 L254.0,143.0 L244.0,141.0 L231.4,145.5 L231.4,145.6 L231.3,145.9 L231.2,146.1 L231.1,146.3 L230.9,146.5 L230.7,146.7 L230.5,146.9 L230.3,147.0 L230.1,147.1 L229.9,147.2 L221.2,150.4 Z" fill="#1fd274" fill-rule="evenodd" filter="url(#b2)"/><path d="M200.0,205.0 L214.0,222.0 L205.0,236.0 L185.0,246.0 L166.0,251.0 L176.0,240.0 L188.0,228.0 L195.0,214.0 Z" fill="#5ddc7c" filter="url(#b2)"/><path d="M166.0,247.0 L184.0,243.0 L190.0,249.0 L176.0,253.0 L164.0,253.0 Z" fill="#8ee884" filter="url(#b2)"/><path d="M204.0,218.0 L225.0,212.0 L240.0,218.0 L246.0,228.0 L230.0,236.0 L210.0,241.0 L198.0,238.0 Z" fill="#f6f8a8" filter="url(#b2)"/><path d="M222.0,166.0 L235.0,161.0 L246.0,159.0 L246.0,170.0 L245.0,185.0 L243.0,196.0 L231.0,199.0 L215.0,199.0 L212.0,186.0 L216.0,175.0 Z" fill="#0a8ff5" filter="url(#b2)"/><path d="M236.0,152.0 L246.0,146.0 L252.0,150.0 L250.0,160.0 L240.0,162.0 Z" fill="#1a8ff0" filter="url(#b2)"/><path d="M224.0,181.0 L232.0,179.0 L237.0,183.0 L233.0,190.0 L227.0,192.0 L224.0,187.0 Z" fill="#1a5fd0" filter="url(#b1)"/><ellipse cx="254.4" cy="119.3" rx="5" ry="4.5" fill="#14b59a" filter="url(#b1)"/><ellipse cx="466" cy="143" rx="24" ry="14" fill="#ddd0cd" filter="url(#b7)"/><ellipse cx="468" cy="143" rx="15" ry="8" fill="#a9918b" filter="url(#b3)"/><ellipse cx="468" cy="143" rx="12" ry="5.5" fill="#a0857d" filter="url(#b1)"/><ellipse cx="540" cy="199" rx="14" ry="28" fill="#ebe3e2" filter="url(#b6)"/><ellipse cx="551" cy="248" rx="9" ry="9" fill="#e3dad8" filter="url(#b3)"/><ellipse cx="632" cy="246" rx="12" ry="8" fill="#efe8e7" filter="url(#b4)"/><ellipse cx="552" cy="75" rx="9" ry="32" fill="#e8dfde" filter="url(#b7)"/><ellipse cx="556" cy="42" rx="8" ry="8" fill="#e4dad9" filter="url(#b5)"/><ellipse cx="505" cy="112" rx="16" ry="9" fill="#eee7e6" filter="url(#b7)"/><ellipse cx="575" cy="150" rx="8" ry="11" fill="#eae2e1" filter="url(#b5)"/><ellipse cx="506" cy="174" rx="16" ry="10" fill="#ede6e5" filter="url(#b7)"/><ellipse cx="540" cy="200" rx="18" ry="30" fill="#efe8e7" filter="url(#b8)"/><ellipse cx="625" cy="262" rx="14" ry="14" fill="#f3eeed" filter="url(#b7)"/><path d="M662.0,70.0 L672.0,70.0 L676.0,230.0 L664.0,230.0 Z" fill="#f4f0ef" filter="url(#b5)"/><path d="M705.0,90.0 L722.0,90.0 L722.0,135.0 L708.0,135.0 Z" fill="#f5f1f1" filter="url(#b5)"/><path d="M241.6,103.2 L243.1,102.2 L244.3,100.9 L245.4,99.4 L246.8,98.0 L248.6,97.9 L250.3,98.0 L252.0,97.7 L253.7,97.2 L255.3,96.7 L256.7,96.0 L257.9,97.3 L258.9,98.6 L259.3,100.3 L259.8,101.9 L260.9,103.4 L262.4,104.7 L263.3,106.3 L263.6,108.1 L263.7,109.8 L265.3,110.9 L266.9,111.9 L268.6,112.6 L270.3,113.3 L271.9,114.6 L273.6,115.7 L275.2,116.8 L274.7,118.5 L274.5,120.2 L274.9,121.8 L275.4,123.6 L274.1,124.6 L272.5,125.2 L271.0,125.6 L269.4,126.1 L268.0,127.0 L266.8,128.1 L265.4,129.0 L263.6,129.5 L261.8,130.0 L260.3,131.0 L258.6,131.8 L259.8,133.4 L261.2,134.9 L261.9,136.8 L261.9,138.4 L262.7,140.0 L262.6,141.6 L262.4,143.2 L262.3,144.8 L262.1,146.5 L262.3,148.1 L262.5,149.9 L261.2,151.4 L260.1,152.9 L259.2,154.6 L258.5,156.4 L258.2,158.4 L258.1,160.5 L257.6,162.5 L256.9,164.1 L256.5,165.9 L256.3,167.6 L255.7,168.6 L257.1,169.6 L258.1,171.0 L259.4,172.1 L261.2,172.5 L262.5,173.3 L263.7,175.1 L265.0,176.6 L266.9,177.1 L269.1,177.5 L270.5,178.7 L271.3,180.5 L272.6,181.8 L273.8,183.1 L274.8,184.6 L276.1,185.8 L277.7,186.5 L279.2,187.3 L280.5,188.5 L281.7,189.7 L283.5,190.6 L285.2,190.6 L286.9,190.4 L288.5,190.4 L290.1,191.2 L291.7,191.8 L293.4,191.3 L295.2,190.7 L296.8,191.3 L298.4,191.9 L300.1,191.8 L301.8,192.5 L303.4,193.1 L305.0,193.4 L306.6,194.1 L308.3,194.5 L310.0,194.4 L311.7,194.9 L313.4,195.3 L315.0,195.5 L316.7,195.7 L318.4,195.4 L320.1,195.6 L321.7,196.2 L323.4,196.1 L325.1,196.0 L326.7,196.8 L328.4,197.2 L330.1,196.6 L331.9,196.5 L333.5,197.2 L335.2,197.8 L336.7,198.5 L338.1,199.5 L339.5,200.2 L341.0,200.9 L342.6,201.4 L344.0,202.2 L345.0,203.2 L343.6,204.0 L342.5,205.2 L341.7,206.5 L340.1,207.4 L338.4,208.1 L336.7,208.7 L335.1,209.6 L333.4,210.2 L331.7,210.8 L329.9,211.6 L328.7,212.9 L327.3,214.1 L326.1,215.4 L325.4,217.1 L324.7,218.8 L323.7,220.2 L322.4,221.4 L321.2,222.6 L320.3,224.0 L319.1,225.2 L318.1,226.7 L318.6,228.8 L318.0,230.4 L316.6,231.8 L315.7,233.5 L315.8,235.2 L315.9,236.8 L315.7,238.5 L315.9,240.3 L317.9,240.5 L319.8,241.1 L321.8,240.7 L323.5,240.0 L325.1,240.0 L326.8,240.1 L328.5,239.6 L330.2,239.1 L331.8,239.7 L333.5,240.3 L335.3,240.8 L336.9,241.8 L338.3,243.1 L339.5,243.7 L340.4,245.3 L341.7,246.8 L341.9,249.1 L340.2,249.0 L338.4,248.9 L336.8,249.5 L335.3,250.5 L333.6,250.6 L331.9,250.7 L330.2,251.0 L328.5,251.3 L326.8,251.2 L325.1,251.0 L323.4,251.5 L321.8,251.7 L320.1,251.7 L318.4,252.1 L316.8,252.1 L315.0,251.8 L313.4,252.1 L311.7,252.3 L310.0,252.3 L308.4,253.0 L306.8,253.4 L305.1,253.5 L303.4,254.1 L301.6,254.6 L299.9,255.3 L298.4,256.2 L297.1,257.5 L295.7,258.4 L294.1,258.8 L292.8,259.8 L291.6,261.0 L290.0,261.5 L288.2,261.6 L286.3,262.4 L284.7,263.7 L283.4,265.3 L283.3,267.1 L282.8,268.7 L281.7,270.2 L281.2,271.8 L280.8,273.5 L279.9,275.0 L279.3,276.6 L279.5,278.5 L279.1,280.2 L277.9,281.6 L277.4,283.3 L277.1,285.1 L276.3,286.6 L275.4,288.2 L275.1,289.6 L273.7,290.6 L272.0,290.9 L270.2,291.0 L268.8,291.9 L267.5,293.3 L266.0,294.1 L264.4,294.3 L262.8,294.8 L261.3,295.3 L259.6,295.7 L258.4,297.0 L257.1,298.2 L255.5,298.7 L253.8,298.9 L252.1,298.9 L250.5,299.3 L249.0,300.2 L247.3,300.1 L245.5,300.0 L243.8,300.1 L242.0,300.2 L240.3,300.4 L238.6,300.3 L236.8,300.1 L235.1,300.6 L233.4,301.3 L231.7,301.8 L230.1,302.5 L228.6,303.2 L226.9,303.1 L225.2,302.8 L223.6,303.2 L222.0,303.5 L220.3,303.6 L218.7,303.9 L217.0,304.2 L215.2,304.0 L213.5,303.9 L211.9,304.5 L210.4,304.8 L208.8,304.2 L206.9,304.2 L205.1,304.1 L203.6,303.2 L202.0,302.4 L200.4,302.3 L198.7,302.5 L196.9,302.2 L195.2,302.5 L193.5,303.0 L191.8,303.4 L190.2,304.1 L188.7,305.1 L187.1,305.7 L185.3,305.6 L183.5,305.4 L181.9,306.1 L180.3,306.8 L178.7,307.3 L176.7,307.6 L175.0,306.9 L173.4,306.1 L171.7,305.7 L169.9,305.3 L168.3,304.5 L166.9,304.0 L165.3,304.6 L163.5,304.5 L161.9,305.1 L161.0,305.7 L159.9,306.9 L158.6,308.0 L157.6,309.3 L156.5,310.6 L155.5,311.8 L154.7,313.6 L155.0,315.3 L155.3,317.0 L155.8,318.7 L156.9,320.1 L158.5,320.9 L159.5,322.6 L160.6,324.0 L162.4,324.7 L163.7,325.9 L165.1,326.6 L163.8,327.8 L162.2,328.1 L160.5,328.3 L159.3,329.5 L157.8,330.1 L156.2,330.5 L154.8,331.7 L153.8,333.0 L152.9,334.4 L152.2,336.0 L151.2,337.3 L149.9,338.4 L148.7,339.8 L147.8,341.3 L147.0,343.0 L146.0,344.5 L144.6,345.7 L143.2,347.2 L144.3,348.3 L145.6,349.3 L146.2,350.9 L147.4,352.6 L149.0,353.3 L151.0,353.0 L152.9,353.0 L154.3,354.3 L155.6,355.7 L157.2,356.5 L158.9,356.9 L160.6,357.3 L162.3,357.7 L164.0,358.2 L165.4,359.3 L166.9,360.1 L168.6,360.7 L169.9,362.0 L171.5,362.6 L173.5,362.5 L174.8,363.6 L175.7,365.1 L176.9,366.3 L178.4,367.3 L179.4,368.7 L179.8,370.1 L180.4,371.8 L181.8,373.4 L182.1,375.3 L181.5,377.3 L181.5,378.4 L180.7,379.8 L180.2,381.4 L179.8,383.1 L179.0,384.8 L177.7,386.1 L176.1,386.8 L174.3,387.2 L172.7,388.0 L171.3,389.1 L169.7,389.9 L168.1,390.5 L166.5,391.3 L165.0,392.2 L163.6,393.3 L162.2,394.2 L160.5,395.1 L159.6,396.7 L158.8,398.4 L157.7,399.8 L156.4,401.1 L155.2,402.5 L154.1,403.9 L153.0,405.3 L151.9,406.8 L151.1,408.4 L150.0,410.0 L148.4,410.5 L146.8,411.0 L145.6,412.1 L144.4,413.2 L142.6,413.8 L140.9,414.9 L139.1,415.6 L137.3,415.7 L135.7,416.1 L134.3,416.7 L133.1,418.0 L132.0,419.3 L130.2,419.3 L128.4,419.4 L127.3,420.7 L126.3,422.1 L124.9,422.5 L123.9,424.2 L123.3,425.9 L122.7,427.7 L122.2,430.1 L123.7,431.4 L125.2,432.5 L126.4,434.1 L127.5,435.8 L128.8,436.8 L130.4,437.4 L132.1,438.0 L133.3,439.1 L134.4,440.4 L135.7,441.4 L136.8,442.7 L138.0,443.8 L139.4,444.7 L140.6,445.8 L141.6,447.3 L143.0,448.2 L144.8,448.6 L145.9,449.9 L146.9,451.3 L148.4,452.0 L149.8,453.0 L151.0,454.1 L152.6,454.7 L154.2,455.4 L155.3,456.7 L156.3,458.1 L157.4,459.4 L158.8,460.3 L160.2,461.2 L161.4,462.3 L162.8,463.3 L164.2,464.1 L165.6,465.1 L166.8,466.1 L168.1,467.1 L169.7,467.9 L171.0,468.9 L172.3,470.0 L173.7,470.8 L175.1,471.9 L176.4,473.0 L177.2,475.4 L175.1,475.3 L173.2,475.8 L171.5,476.7 L169.6,476.6 L167.8,476.0 L166.2,474.8 L164.6,474.2 L162.9,474.0 L161.2,473.8 L159.5,473.6 L158.0,473.0 L156.8,471.8 L155.2,471.2 L153.5,471.4 L152.0,470.6 L150.4,470.0 L148.7,470.3 L147.0,470.2 L145.5,469.3 L144.0,468.7 L142.4,468.2 L140.9,467.4 L139.4,466.6 L137.9,466.0 L136.3,465.4 L134.8,464.7 L133.0,464.7 L131.2,465.2 L129.6,465.0 L128.0,464.7 L126.4,464.4 L124.8,463.9 L123.2,463.4 L121.6,463.4 L119.9,463.8 L118.2,463.7 L116.7,463.0 L115.0,462.7 L113.4,462.5 L111.8,462.4 L110.1,462.3 L108.4,462.0 L106.7,461.9 L105.1,462.2 L103.4,462.4 L101.7,462.7 L98.8,462.0 L99.1,460.4 L99.5,458.8 L99.5,457.2 L99.8,455.6 L99.8,454.0 L99.5,452.3 L99.6,450.7 L99.9,449.1 L100.2,447.5 L100.3,445.9 L99.9,444.3 L99.6,442.7 L99.8,441.1 L100.1,439.5 L100.3,437.9 L100.1,436.2 L99.5,434.6 L99.3,433.0 L99.5,431.4 L99.4,429.8 L99.4,428.2 L99.7,426.6 L99.8,425.0 L100.0,423.4 L100.1,421.8 L100.4,420.2 L100.7,418.5 L100.5,416.9 L100.4,415.3 L100.5,413.7 L100.0,412.1 L99.2,410.5 L99.3,408.9 L100.1,407.3 L100.7,405.7 L101.0,404.1 L100.8,402.5 L100.7,400.8 L100.7,399.2 L100.6,397.6 L100.3,396.0 L100.1,394.4 L100.0,392.8 L99.9,391.2 L100.1,389.6 L99.9,388.0 L100.3,386.4 L100.8,384.8 L100.3,383.1 L100.2,381.5 L100.4,379.9 L100.1,378.3 L99.8,376.7 L100.1,375.1 L100.4,373.5 L100.2,371.9 L100.2,370.3 L100.8,368.7 L101.0,367.0 L100.4,365.4 L100.0,363.8 L100.2,362.2 L100.3,360.6 L100.1,359.0 L100.0,357.4 L99.8,355.8 L99.8,354.2 L100.4,352.6 L100.6,351.0 L100.1,349.3 L99.9,347.7 L100.2,346.1 L100.2,344.5 L100.4,342.9 L100.8,341.3 L100.6,339.7 L100.4,338.1 L100.8,336.5 L100.6,334.9 L100.2,333.2 L99.9,331.6 L99.5,330.0 L99.7,328.4 L100.6,326.8 L100.6,325.2 L99.5,323.6 L98.9,322.0 L99.3,320.4 L100.1,318.8 L100.0,317.2 L99.8,315.5 L99.8,313.9 L99.7,312.3 L99.6,310.7 L99.5,309.1 L99.5,307.5 L99.8,305.9 L100.2,304.3 L100.2,302.7 L99.8,301.1 L99.6,299.5 L99.8,297.8 L100.1,296.2 L100.6,294.6 L100.6,293.0 L100.0,291.4 L99.7,289.8 L99.5,288.2 L99.5,286.6 L99.7,285.0 L100.1,283.4 L100.4,281.8 L100.7,280.1 L100.8,278.5 L100.1,276.9 L100.4,275.3 L100.7,273.7 L99.7,272.1 L99.5,270.5 L100.0,268.9 L100.2,267.3 L100.1,265.7 L100.1,264.0 L100.1,262.4 L100.2,260.8 L99.9,259.2 L99.3,257.6 L100.0,255.3 L101.7,255.7 L103.4,255.6 L105.0,255.8 L106.7,256.3 L108.4,256.5 L110.0,256.9 L111.8,257.1 L113.4,256.7 L115.1,256.2 L116.6,255.5 L118.2,254.8 L120.0,254.8 L121.7,254.8 L123.3,254.4 L125.0,254.3 L126.7,254.2 L128.3,253.8 L130.1,254.0 L131.9,254.1 L133.4,253.1 L135.0,252.4 L136.8,252.2 L138.6,252.0 L140.2,251.5 L141.8,250.7 L143.4,249.9 L145.0,249.2 L146.6,248.4 L148.3,247.6 L150.3,247.7 L151.9,246.9 L153.0,245.6 L154.5,245.0 L156.0,244.3 L157.4,243.5 L158.7,242.5 L159.8,241.2 L161.5,240.8 L163.1,240.4 L164.3,239.1 L165.4,237.8 L166.7,236.8 L168.3,236.3 L170.1,236.2 L171.8,235.8 L173.0,234.7 L174.5,233.9 L176.0,233.2 L177.0,231.8 L178.2,230.6 L179.9,230.1 L180.5,228.4 L180.6,226.5 L181.1,224.8 L182.1,223.3 L182.5,221.7 L182.7,219.9 L183.2,218.3 L183.9,216.7 L184.6,215.2 L185.0,213.5 L185.5,211.8 L186.3,210.2 L187.4,208.8 L188.1,207.2 L188.4,205.4 L188.8,203.7 L189.3,202.0 L190.0,200.4 L191.4,199.4 L192.4,198.2 L193.0,196.6 L193.8,194.9 L194.6,193.2 L195.3,191.5 L196.2,190.0 L197.1,188.7 L197.9,187.2 L198.1,185.6 L198.4,183.8 L199.5,182.3 L200.2,180.7 L200.7,179.0 L202.1,177.9 L203.1,176.5 L204.2,175.2 L205.4,174.0 L205.5,172.2 L206.0,170.6 L207.0,169.0 L207.8,167.4 L208.3,165.4 L208.8,163.4 L209.4,161.3 L210.8,160.5 L212.2,159.5 L213.3,158.4 L214.5,157.3 L215.3,155.9 L216.2,154.6 L217.2,152.8 L217.8,150.8 L218.1,148.2 L219.5,147.4 L221.4,147.7 L223.1,147.6 L224.7,147.4 L226.3,147.1 L227.7,146.0 L229.3,145.0 L229.8,143.4 L230.3,141.8 L230.4,140.2 L230.7,138.3 L231.1,136.1 L232.3,134.6 L234.2,133.8 L236.0,132.9 L237.6,131.9 L239.5,130.3 L239.2,128.5 L239.0,126.7 L239.1,125.0 L239.3,123.4 L239.9,121.8 L240.5,120.1 L240.7,118.5 L240.7,116.8 L241.0,115.1 L241.4,113.3 L240.7,111.6 L239.9,110.0 L239.3,108.3 L238.4,106.6 L239.8,104.7 Z" fill="none" stroke="#000000" stroke-width="1.5" stroke-linejoin="round"/><path d="M212.1,260.9 L213.4,259.8 L214.6,258.8 L216.2,258.4 L217.5,257.4 L218.8,256.5 L220.5,256.3 L222.0,255.8 L223.6,255.0 L225.2,254.1 L226.7,253.0 L228.4,252.3 L230.2,252.1 L231.9,251.6 L233.5,250.8 L235.2,250.3 L236.8,249.7 L238.3,249.0 L239.7,248.2 L241.0,247.1 L242.3,246.0 L244.0,245.8 L245.9,245.9 L247.4,245.4 L248.7,244.3 L250.3,243.7 L251.9,243.4 L253.4,242.6 L254.9,242.2 L256.6,241.8 L258.0,241.0 L259.4,240.2 L260.8,239.3 L262.3,238.6 L263.9,238.1 L265.5,237.7 L267.2,237.8 L268.9,237.3 L270.3,236.0 L271.8,235.1 L273.5,234.7 L275.2,234.1 L276.9,233.9 L278.7,233.6 L280.3,232.9 L281.9,232.2 L283.6,231.5 L285.2,231.4 L286.8,231.1 L288.4,230.9 L290.2,231.1 L291.8,232.1 L293.4,233.1 L295.2,233.7 L297.0,234.3 L297.5,236.6 L298.3,237.9 L297.1,239.0 L295.7,239.8 L294.2,240.5 L293.1,241.8 L291.7,242.6 L289.7,242.6 L288.4,243.6 L287.7,245.5 L286.3,246.3 L284.6,246.6 L283.0,247.2 L281.8,248.2 L280.6,249.5 L279.4,250.6 L277.8,251.0 L276.3,251.7 L275.2,253.1 L273.9,254.1 L272.5,255.0 L271.3,256.1 L269.8,256.8 L268.2,257.3 L266.8,258.2 L265.6,259.3 L264.4,260.4 L262.9,261.1 L261.4,262.0 L260.1,262.9 L258.6,263.6 L256.9,263.8 L255.2,264.1 L253.8,265.0 L252.6,266.3 L251.4,267.7 L249.8,268.2 L248.0,268.2 L246.5,268.9 L245.0,269.7 L243.5,270.4 L241.9,270.8 L240.2,270.8 L238.5,271.2 L236.9,271.8 L235.1,271.4 L233.4,271.4 L231.8,272.1 L230.1,272.0 L228.5,271.3 L226.8,270.9 L225.2,270.2 L223.6,269.8 L221.9,269.6 L220.2,269.2 L218.5,268.9 L216.8,268.6 L215.0,267.1 L213.5,265.3 L213.5,263.4 L213.1,261.7 Z" fill="none" stroke="#000000" stroke-width="1.5" stroke-linejoin="round"/><path d="M100.0,274.0 L101.7,273.4 L103.4,273.6 L105.0,274.2 L106.7,274.6 L108.3,274.6 L110.0,274.5 L111.7,274.6 L113.3,274.9 L115.0,274.7 L116.7,274.8 L118.2,275.2 L119.3,276.5 L120.6,277.7 L121.7,278.9 L122.5,280.4 L123.1,281.8 L123.4,283.5 L123.7,285.1 L123.4,286.8 L123.4,288.5 L123.6,290.1 L123.4,291.8 L122.2,293.1 L120.9,294.3 L119.3,295.2 L118.4,296.3 L116.7,296.7 L115.1,296.9 L113.4,296.6 L111.7,296.2 L110.0,296.4 L108.4,296.6 L106.7,296.8 L105.0,296.3 L103.3,296.4 L101.7,297.6 L100.0,297.0" fill="none" stroke="#000000" stroke-width="1.5" stroke-linejoin="round"/><path d="M130.0,262.6 L131.7,261.9 L133.4,261.5 L135.3,261.4 L136.6,260.2 L138.6,260.5 L140.2,261.5 L141.8,262.3 L143.4,263.2 L145.0,263.8 L146.8,264.4 L148.2,263.2 L149.0,261.5 L149.4,259.7 L150.4,258.4 L152.0,257.5 L152.9,256.1 L153.4,254.6 L154.5,253.3 L155.5,252.0 L155.9,250.4 L156.1,248.6 L157.5,247.2 L159.3,247.5 L160.9,247.3 L162.3,246.2 L163.7,245.0 L165.4,245.0 L167.3,245.5 L168.9,245.2 L170.2,243.9 L171.6,243.1 L173.3,242.7 L174.7,242.0 L176.1,241.1 L177.5,240.2 L178.8,239.2 L180.1,238.3 L181.6,237.5 L182.9,236.7 L184.2,235.5 L185.6,234.7 L187.3,234.5 L188.8,233.8 L190.0,232.7 L191.7,232.0 L191.2,229.9 L190.3,228.0 L189.9,226.0 L190.3,224.0 L190.2,222.0 L189.6,219.9 L190.0,218.1 L191.3,216.7 L192.0,215.1 L192.3,213.3 L192.8,211.6 L193.4,210.0 L194.3,208.0 L195.3,206.0 L196.1,204.5 L196.9,203.0 L197.6,201.4 L198.5,199.9 L199.5,198.4 L200.2,196.7 L201.0,195.0 L201.8,193.3 L202.9,191.8 L204.2,190.3 L204.8,188.3 L205.4,186.4 L206.5,184.8 L207.0,182.8 L207.2,180.7 L208.0,178.7 L209.4,177.2 L210.3,175.5 L211.5,173.9 L212.7,172.5 L214.0,171.4 L215.3,170.2 L216.3,168.8 L217.3,167.3 L218.4,166.0 L219.6,164.7 L220.8,163.5 L221.9,162.1 L222.9,160.7 L224.3,159.6 L225.6,158.5 L226.7,157.7 L226.2,156.1 L225.7,154.5 L225.2,153.0 L224.1,152.0 L225.7,150.8 L227.4,150.3 L229.1,150.4 L231.2,151.1 L232.7,150.1 L233.2,148.1 L234.6,147.1 L236.2,146.3 L237.5,145.1 L238.6,143.7 L239.9,142.7 L241.6,142.4 L243.3,142.0 L244.6,141.0 L246.6,140.9 L248.5,141.0 L250.4,141.0 L252.5,140.9 L253.9,142.3 L255.1,143.7 L255.7,145.7 L255.6,147.8 L256.2,149.6 L255.1,151.1 L253.7,152.3 L252.2,153.5 L251.4,155.4 L250.2,157.3 L249.6,159.2 L250.1,161.5 L249.8,163.6 L248.3,165.1 L246.6,166.0 L245.3,167.3 L244.4,169.5 L246.0,170.0 L247.3,171.0 L248.5,172.2 L250.1,173.0 L251.7,173.9 L252.3,175.6 L252.7,177.9 L254.3,179.1 L256.6,179.6 L258.4,180.6 L259.8,181.5 L261.1,182.4 L262.5,183.4 L264.1,183.9 L265.7,184.5 L267.0,185.5 L268.5,186.1 L270.0,186.8 L271.7,187.4 L273.5,188.0 L275.2,188.6 L277.1,188.8 L279.0,188.7 L280.7,189.1 L282.2,189.9 L283.7,190.8 L285.2,191.6 L286.7,192.3 L288.3,192.8 L290.0,193.0 L291.7,192.8 L293.5,192.7 L295.1,192.8 L296.7,193.6 L298.3,194.5 L299.8,194.7 L301.3,195.5 L302.5,196.5 L303.6,197.7 L305.1,198.7 L306.7,199.0 L308.4,199.1 L310.1,199.3 L311.7,199.5 L313.5,199.2 L315.2,199.0 L316.8,199.1 L318.5,199.6 L320.1,200.7 L320.9,200.5 L322.0,201.9 L322.7,203.6 L323.1,205.3 L323.7,207.0 L324.8,208.2 L324.3,210.0 L323.2,211.4 L321.5,212.4 L320.1,213.6 L319.4,215.3 L318.6,217.1 L317.2,218.0 L315.9,218.9 L314.3,219.4 L312.7,219.9 L311.5,220.9 L309.9,221.6 L308.1,222.3 L307.0,223.7 L306.2,225.4 L305.1,226.9 L303.5,226.3 L301.8,225.7 L300.2,225.5 L298.5,225.6 L296.8,225.6 L295.1,225.7 L293.4,225.6 L291.8,225.2 L290.1,225.1 L288.5,225.5 L286.8,225.8 L285.2,225.9 L283.6,226.4 L281.9,226.6 L280.2,226.2 L278.5,226.0 L276.9,226.5 L275.3,227.4 L273.6,227.6 L271.9,227.2 L270.2,227.4 L268.6,228.2 L267.0,228.6 L265.3,228.8 L263.8,228.9 L262.3,229.4 L260.7,230.0 L259.3,230.9 L258.1,231.9 L256.6,232.7 L255.1,233.3 L254.0,234.6 L252.9,235.9 L251.4,236.5 L249.9,237.3 L248.6,238.2 L247.0,238.7 L245.4,239.3 L244.0,240.1 L242.3,240.3 L240.6,240.3 L239.1,241.1 L237.7,242.1 L236.2,242.8 L234.7,243.4 L233.1,243.9 L231.5,244.4 L230.2,245.5 L228.7,246.6 L226.9,246.8 L225.2,246.9 L223.4,247.2 L221.8,247.8 L220.0,247.9 L218.2,248.1 L216.8,249.4 L215.3,250.5 L213.6,251.4 L212.0,251.9 L210.3,251.8 L208.5,251.3 L206.9,251.7 L205.3,252.5 L203.6,252.4 L201.9,252.1 L200.2,252.4 L198.6,252.6 L196.9,252.3 L195.1,251.9 L193.4,251.8 L191.8,252.4 L189.9,253.4 L189.6,255.0 L188.8,256.6 L188.8,258.3 L189.2,260.1 L189.0,261.8 L188.7,263.4 L188.7,265.1 L188.6,266.4 L190.3,266.5 L192.0,266.8 L193.6,267.4 L195.2,268.4 L196.8,268.7 L198.6,268.9 L200.0,270.0 L201.7,270.3 L203.5,270.4 L204.9,271.6 L206.4,272.6 L208.2,272.8 L210.0,272.7 L211.7,272.4 L213.4,272.3 L215.1,271.9 L216.8,271.6 L218.5,271.1 L220.0,270.1 L222.2,269.4 L223.6,270.1 L225.1,271.0 L226.5,271.9 L227.8,272.8 L229.3,273.5 L230.9,273.9 L232.6,274.3 L234.0,275.1 L235.3,276.2 L236.8,276.8 L238.5,277.1 L240.2,277.2 L241.8,277.4 L243.5,277.2 L245.2,277.3 L246.8,277.5 L248.5,277.3 L250.2,277.1 L251.9,276.9 L253.5,277.2 L255.2,277.0 L256.3,275.7 L257.8,275.0 L259.3,274.3 L260.8,273.5 L262.0,272.4 L263.4,271.4 L264.8,270.6 L266.2,269.7 L267.5,268.8 L268.9,267.9 L270.2,267.1 L271.8,268.8 L274.0,270.5 L273.5,272.3 L272.0,273.7 L271.2,275.4 L270.7,277.5 L269.0,278.2 L267.1,278.8 L265.7,279.9 L264.4,281.1 L262.8,281.9 L261.1,282.7 L259.6,283.6 L258.5,284.8 L256.9,285.3 L255.3,285.9 L253.6,286.1 L251.8,285.7 L250.1,285.4 L248.4,285.5 L246.8,286.1 L245.2,287.2 L244.0,287.7 L242.6,288.5 L241.1,289.4 L239.6,290.2 L238.0,290.8 L236.6,291.8 L235.4,292.9 L234.1,293.9 L232.7,294.8 L231.2,295.7 L230.0,296.3 L228.3,296.6 L226.7,297.4 L225.1,297.6 L223.4,297.1 L221.7,297.0 L220.1,297.5 L218.5,298.3 L216.9,298.4 L215.3,298.4 L213.6,298.8 L212.0,298.7 L210.4,298.1 L209.1,297.1 L207.5,296.7 L205.6,296.9 L204.0,296.6 L202.7,295.4 L201.4,294.4 L199.7,294.2 L198.0,293.9 L196.7,292.8 L195.3,291.9 L193.6,291.5 L191.9,291.8 L190.3,291.6 L188.6,291.6 L186.9,292.2 L185.2,292.5 L183.6,291.9 L181.9,291.6 L180.2,291.5 L178.6,291.6 L176.9,291.9 L175.2,292.2 L173.5,292.2 L171.8,291.9 L170.1,291.8 L168.4,292.1 L166.7,291.8 L165.0,291.9 L163.4,292.5 L161.7,292.6 L160.1,292.8 L158.4,293.3 L156.8,293.8 L155.2,293.8 L153.7,293.4 L153.3,291.5 L152.1,289.7 L150.5,288.8 L149.0,287.9 L147.5,287.0 L146.0,285.9 L144.8,284.6 L143.3,283.6 L141.6,282.9 L140.2,281.8 L139.1,280.4 L138.1,278.7 L136.7,277.7 L135.0,276.9 L133.5,275.8 L131.9,275.0 L130.0,275.0 L128.1,274.7 L126.5,273.9 L124.9,272.8 L123.4,271.8 L121.9,270.7 L120.5,269.5 L119.7,267.1 L121.5,266.4 L123.3,265.8 L124.8,264.7 L126.4,263.7 L128.2,263.1 Z" fill="none" stroke="#7a2d92" stroke-width="1.5" stroke-linejoin="round"/><path d="M256.9,220.1 L257.2,218.3 L257.0,216.7 L256.5,215.0 L255.7,213.4 L254.9,211.9 L255.0,209.6 L256.5,209.0 L258.0,208.5 L259.6,208.1 L261.0,207.3 L262.3,206.4 L263.7,205.4 L265.2,204.9 L267.0,205.1 L268.7,205.6 L270.3,205.1 L272.0,204.2 L273.7,203.8 L275.3,204.8 L277.0,205.5 L278.6,205.5 L280.3,205.7 L282.0,205.9 L283.6,205.6 L285.1,205.0 L285.2,206.8 L285.8,208.4 L286.8,210.0 L287.4,211.7 L287.6,213.8 L286.3,215.2 L285.3,216.8 L285.1,218.8 L283.8,220.8 L281.9,220.5 L280.1,220.6 L278.5,221.4 L276.9,222.4 L275.1,222.4 L273.4,222.2 L271.7,222.7 L270.2,223.7 L268.6,224.3 L266.9,224.5 L265.2,224.4 L264.0,224.7 L262.2,224.2 L260.7,223.4 L259.5,222.2 L258.2,221.2 Z" fill="none" stroke="#7a2d92" stroke-width="1.5" stroke-linejoin="round"/><path d="M100.0,308.0 L101.8,308.5 L103.7,308.9 L105.5,308.6 L107.3,308.1 L109.1,308.4 L111.0,308.6 L112.8,308.2 L114.6,308.1 L116.3,308.5 L118.1,308.4 L119.8,307.6 L121.4,306.7 L123.2,306.5 L125.0,307.0 L126.5,307.5 L128.1,308.2 L129.9,308.2 L131.6,308.7 L133.3,309.0 L135.2,308.6 L136.9,309.2 L138.5,310.1 L139.7,311.5 L140.7,313.0 L141.8,314.4 L140.2,315.4 L138.5,316.2 L136.9,317.1 L135.2,318.0 L133.4,318.6 L133.1,320.3 L132.4,321.9 L131.7,323.4 L131.8,325.2 L131.6,326.9 L131.5,328.6 L131.5,330.2 L131.6,331.9 L131.9,333.6 L131.8,335.2 L131.9,336.9 L131.5,338.6 L130.8,340.2 L130.6,341.9 L130.0,343.5 L129.5,345.2 L129.7,347.3 L130.8,348.5 L131.3,350.0 L132.0,351.5 L133.3,352.6 L133.9,354.1 L134.6,356.1 L136.5,356.6 L138.5,357.0 L140.2,357.9 L141.7,359.2 L143.4,360.2 L145.1,360.2 L146.7,360.1 L148.2,359.5 L149.7,359.4 L151.2,360.0 L152.9,360.1 L154.3,361.1 L155.8,361.7 L157.7,361.3 L159.4,361.4 L161.2,361.9 L162.6,362.9 L164.0,364.1 L165.5,365.0 L166.6,366.4 L168.0,367.5 L170.1,367.9 L171.1,369.2 L171.7,370.7 L172.0,372.3 L172.7,373.8 L173.5,375.4 L172.8,377.1 L172.3,378.9 L172.0,380.8 L171.6,382.7 L170.1,383.5 L168.7,384.3 L167.4,385.1 L166.0,386.0 L164.6,386.9 L162.9,387.0 L161.0,386.8 L159.7,387.9 L158.4,389.0 L156.8,389.5 L155.5,390.3 L154.2,391.5 L152.4,392.0 L150.6,392.3 L149.1,393.2 L147.8,394.4 L146.7,395.5 L145.6,396.9 L144.1,398.1 L143.4,399.7 L143.2,401.6 L142.8,403.4 L141.1,404.7 L139.1,405.0 L137.9,406.4 L136.5,407.7 L134.9,408.6 L133.5,409.8 L131.8,410.6 L130.1,411.5 L128.2,411.6 L126.2,411.6 L124.5,412.2 L122.7,412.5 L120.9,412.9 L119.1,412.8 L117.2,412.2 L115.4,412.2 L113.6,412.5 L111.8,412.3 L110.1,412.3 L108.4,412.5 L106.7,412.5 L105.1,412.8 L103.4,412.9 L101.7,413.1 L100.0,412.4" fill="none" stroke="#7a2d92" stroke-width="1.5" stroke-linejoin="round"/><path d="M100.0,438.7 L101.7,438.0 L103.4,437.9 L105.1,438.4 L106.7,438.8 L108.4,438.9 L110.1,438.9 L111.9,438.3 L113.5,438.7 L114.9,440.0 L116.4,440.6 L118.1,440.8 L119.7,441.0 L121.3,441.6 L122.8,442.2 L124.3,442.5 L125.7,443.5 L127.0,444.4 L128.7,444.8 L130.3,445.3 L131.5,446.4 L132.6,447.7 L134.1,448.4 L135.8,449.0 L137.0,450.3 L138.1,451.5 L139.4,452.7 L140.5,454.0 L141.7,455.3 L143.1,457.0 L142.4,458.7 L141.6,460.5 L140.8,462.3 L139.2,461.7 L137.7,461.1 L136.0,461.1 L134.2,461.2 L132.7,460.7 L131.2,459.7 L129.6,459.2 L128.0,459.2 L126.4,458.9 L124.8,458.4 L123.2,457.8 L121.6,457.3 L120.0,457.1 L118.3,457.0 L116.6,457.4 L114.9,457.2 L113.5,456.0 L111.8,455.4 L110.1,455.6 L108.4,455.7 L106.7,455.9 L105.1,456.1 L103.4,455.9 L101.7,455.7 L100.0,455.9" fill="none" stroke="#7a2d92" stroke-width="1.5" stroke-linejoin="round"/><ellipse cx="254.4" cy="119.3" rx="7.5" ry="6.7" fill="none" stroke="#7a2d92" stroke-width="1.5"/><path d="M227.3,164.6 L226.9,166.5 L225.6,167.9 L224.0,169.1 L222.4,170.1 L220.9,171.3 L219.3,172.2 L218.4,173.9 L217.5,175.5 L216.3,177.0 L215.3,178.3 L214.3,179.7 L213.5,181.1 L212.4,182.6 L211.7,184.1 L211.5,185.7 L211.5,187.4 L211.5,189.1 L211.4,190.7 L211.0,192.3 L210.5,193.9 L209.9,195.5 L209.0,196.9 L208.0,198.1 L206.9,199.9 L206.2,202.0 L205.3,203.7 L204.3,205.2 L203.5,206.8 L203.1,208.6 L202.7,210.1 L202.4,211.8 L201.5,213.4 L200.5,214.9 L199.9,216.5 L200.2,218.3 L200.2,220.0 L199.7,221.6 L199.7,223.3 L199.8,225.0 L199.8,226.7 L199.4,228.3 L198.0,229.7 L196.9,231.3 L196.4,232.9 L195.4,234.6 L194.3,236.3 L192.8,237.6 L191.2,238.4 L189.7,239.4 L187.9,239.9 L186.1,240.2 L184.6,241.2 L183.3,242.4 L181.7,243.3 L180.3,244.4 L178.8,245.3 L177.2,245.5 L175.3,245.1 L173.7,245.4 L172.3,246.6 L170.9,247.4 L169.1,247.3 L167.3,246.9 L165.5,247.9 L165.1,249.8 L164.4,251.3 L162.9,251.6 L162.8,253.8 L163.5,255.5 L165.1,256.9 L166.8,256.4 L168.4,256.1 L170.0,256.2 L171.7,256.3 L173.5,256.2 L175.1,255.8 L176.7,255.0 L178.4,254.7 L180.1,254.8 L181.8,254.7 L183.6,254.6 L185.2,254.0 L186.8,253.4 L188.6,253.6 L190.2,252.8 L191.8,251.8 L193.7,251.7 L195.5,251.3 L196.9,250.0 L198.3,248.7 L199.9,248.1 L201.8,248.1 L203.5,247.6 L204.9,246.4 L206.4,245.3 L208.0,244.7 L209.9,244.6 L211.6,244.5 L213.2,243.8 L215.0,243.8 L216.8,244.3 L218.5,244.5 L220.1,243.9 L221.7,243.0 L223.3,242.3 L225.0,242.0 L226.7,242.0 L228.4,242.1 L230.2,242.2 L231.9,241.9 L233.2,240.9 L234.7,240.0 L236.4,240.0 L238.0,239.5 L239.3,238.3 L240.6,237.1 L241.9,236.1 L243.6,235.9 L245.4,235.8 L246.8,234.9 L248.3,234.0 L250.2,233.7 L252.0,233.4 L253.7,232.8 L255.5,231.3 L253.8,230.3 L251.9,229.5 L250.2,228.5 L248.5,227.9 L246.9,227.1 L245.2,226.3 L243.6,225.6 L242.2,225.1 L241.5,223.4 L241.0,221.6 L240.3,220.0 L239.3,218.4 L238.2,216.6 L238.9,215.2 L239.8,213.8 L240.8,212.5 L242.3,211.5 L243.7,210.4 L244.0,209.2 L245.0,207.8 L246.1,206.5 L247.5,205.5 L249.0,204.9 L250.4,204.1 L251.9,203.4 L253.6,203.4 L255.3,203.2 L256.9,202.5 L258.5,201.7 L260.2,201.7 L262.0,201.9 L263.2,200.3 L264.4,198.3 L263.3,197.1 L261.9,196.0 L260.5,195.1 L259.3,193.9 L258.5,192.5 L258.1,190.8 L256.9,189.3 L255.2,188.4 L253.6,187.4 L252.4,185.8 L251.5,183.9 L250.1,182.6 L248.3,181.7 L246.6,180.8 L244.8,180.2 L243.3,179.3 L242.4,177.8 L241.3,176.4 L240.4,175.0 L240.1,173.2 L239.7,172.0 L238.7,170.5 L238.0,168.9 L237.9,167.2 L237.0,165.9 L236.3,164.3 L234.9,162.8 L232.8,163.2 L230.9,163.0 L229.0,162.4 Z" fill="none" stroke="#d4337c" stroke-width="1.5" stroke-linejoin="round"/><path d="M239.3,153.5 L241.2,152.7 L243.1,152.1 L245.0,152.4 L247.1,153.5 L246.4,155.4 L246.7,157.5 L246.0,160.3 L244.0,160.1 L242.0,160.0 L239.2,159.5 L239.3,157.5 L239.7,155.4 Z" fill="none" stroke="#d4337c" stroke-width="1.5" stroke-linejoin="round"/><path d="M143.4,270.1 L145.2,269.8 L146.9,269.3 L148.5,268.7 L150.3,268.3 L151.9,268.1 L153.6,268.9 L155.2,269.4 L156.9,269.9 L158.6,270.5 L160.1,271.5 L161.0,271.8 L160.7,273.6 L160.2,275.3 L159.3,277.0 L159.9,278.3 L158.4,279.4 L156.7,279.2 L154.9,278.7 L153.2,278.6 L151.6,278.8 L150.2,279.7 L148.1,279.4 L146.4,278.4 L145.1,277.0 L143.4,276.0 L143.0,274.0 L143.2,272.0 Z" fill="none" stroke="#d4337c" stroke-width="1.5" stroke-linejoin="round"/><path d="M183.5,275.0 L185.2,275.4 L186.9,275.7 L188.6,275.7 L190.3,276.0 L191.8,277.0 L193.5,277.6 L195.2,277.4 L196.9,277.6 L198.6,277.8 L200.2,277.9 L201.9,277.8 L203.6,277.7 L205.3,278.2 L206.9,278.4 L208.6,278.5 L210.1,279.3 L211.6,280.3 L213.3,280.7 L215.0,280.9 L216.9,280.7 L218.7,280.4 L220.5,280.5 L222.1,281.0 L223.8,281.8 L224.0,283.5 L224.6,285.1 L225.1,286.8 L225.0,287.6 L223.2,288.0 L221.8,289.3 L220.2,290.2 L218.5,290.8 L217.0,291.7 L215.3,291.4 L213.6,291.2 L211.9,290.9 L210.3,290.2 L208.6,289.7 L206.9,289.4 L205.2,289.2 L203.6,288.6 L202.0,287.8 L200.3,287.3 L198.5,287.0 L197.0,286.1 L195.4,285.1 L193.7,284.8 L191.9,284.6 L190.1,284.1 L188.5,283.2 L187.1,282.0 L185.9,281.6 L184.9,280.1 L184.2,278.5 L183.9,276.8 Z" fill="none" stroke="#d4337c" stroke-width="1.5" stroke-linejoin="round"/><path d="M300.0,201.7 L301.7,201.5 L303.4,201.6 L305.0,202.2 L306.7,202.4 L308.9,202.5 L308.7,204.7 L308.0,207.0 L306.4,207.0 L304.8,206.6 L303.2,206.2 L301.6,206.3 L299.6,206.0 L299.8,203.9 Z" fill="none" stroke="#d4337c" stroke-width="1.5" stroke-linejoin="round"/><path d="M118.4,312.0 L120.0,311.7 L121.6,311.6 L123.2,311.4 L124.8,310.8 L126.4,310.8 L127.9,311.1 L129.7,312.0 L131.5,312.6 L133.3,313.2 L135.1,314.0 L133.9,315.3 L133.0,316.8 L133.0,318.3 L131.4,318.6 L129.7,318.5 L128.1,318.0 L126.5,317.7 L124.9,318.2 L123.2,318.5 L121.6,317.9 L120.7,317.8 L120.2,315.8 L119.4,313.8 Z" fill="none" stroke="#d4337c" stroke-width="1.5" stroke-linejoin="round"/><path d="M100.0,350.8 L101.7,351.5 L103.4,352.0 L105.1,351.8 L106.7,352.3 L108.4,352.9 L110.1,352.6 L111.7,352.3 L113.6,352.0 L115.5,352.0 L117.3,352.6 L119.1,353.1 L120.8,353.6 L121.4,355.2 L122.2,356.6 L122.9,358.0 L123.6,359.5 L124.4,361.3 L126.2,361.9 L128.0,361.9 L129.9,361.7 L131.7,361.8 L133.5,362.2 L135.2,362.9 L137.1,362.8 L138.8,362.4 L140.3,362.7 L141.9,363.1 L143.4,363.6 L145.0,363.9 L146.6,363.9 L148.2,364.3 L149.8,364.4 L151.5,364.7 L152.9,365.5 L154.3,366.4 L155.8,367.0 L157.4,367.5 L159.2,368.0 L160.2,369.3 L160.6,370.9 L160.4,372.7 L160.8,374.3 L161.8,375.6 L162.5,377.1 L161.2,378.5 L160.3,380.4 L158.9,381.6 L157.0,382.4 L155.6,383.2 L154.5,384.6 L153.0,385.3 L151.2,385.3 L149.8,386.0 L148.1,386.9 L146.2,387.1 L144.4,387.7 L142.8,388.6 L141.0,388.4 L139.5,388.9 L138.1,390.0 L136.5,390.5 L134.9,390.9 L133.2,390.9 L131.1,391.0 L129.8,392.4 L128.9,394.2 L127.6,395.7 L126.1,396.9 L125.1,398.6 L123.9,400.1 L122.5,401.4 L121.1,402.3 L122.4,403.1 L123.6,404.4 L124.8,405.5 L126.3,405.7 L124.7,405.5 L123.1,405.7 L121.5,405.8 L119.9,405.9 L118.2,406.3 L116.6,406.6 L115.0,406.4 L113.4,406.2 L111.8,406.4 L110.1,406.5 L108.4,406.5 L106.7,406.8 L105.1,407.2 L103.4,406.8 L101.7,406.5 L99.5,406.1 L99.5,404.5 L99.9,402.8 L100.2,401.2 L100.0,399.5 L100.0,397.9 L100.6,396.2 L100.8,394.6 L100.7,392.9 L100.5,391.3 L100.1,389.6 L100.1,388.0 L100.3,386.4 L100.0,384.7 L99.9,383.1 L100.2,381.4 L100.2,379.8 L100.2,378.1 L100.3,376.5 L100.3,374.8 L100.4,373.2 L100.7,371.5 L100.6,369.9 L100.2,368.3 L99.5,366.6 L99.2,365.0 L99.6,363.3 L100.3,361.7 L100.4,360.0 L99.9,358.4 L99.7,356.7 L99.6,355.1 L99.2,353.4 Z" fill="none" stroke="#d4337c" stroke-width="1.5" stroke-linejoin="round"/><path d="M219.0,178.6 L220.8,178.7 L222.5,178.2 L224.0,177.5 L225.4,176.7 L227.0,176.4 L228.8,176.4 L230.5,175.9 L232.2,175.4 L234.0,174.8 L235.8,175.0 L237.4,175.6 L238.9,176.7 L240.0,177.5 L241.5,179.1 L242.9,180.6 L244.2,181.9 L244.3,183.6 L244.4,185.3 L244.6,187.0 L244.5,188.5 L243.1,189.7 L241.9,191.0 L240.2,191.6 L238.6,192.2 L236.9,192.7 L235.4,193.2 L233.9,194.2 L232.4,194.8 L230.8,195.4 L229.3,196.2 L227.8,196.8 L226.4,197.9 L224.9,198.5 L223.1,198.8 L221.2,198.8 L219.2,199.1 L217.2,199.1 L214.8,198.4 L215.3,196.8 L215.6,195.2 L215.9,193.5 L216.5,191.9 L217.0,190.3 L217.3,188.7 L217.6,186.8 L217.8,184.8 L217.4,182.7 L217.5,180.7 Z" fill="none" stroke="#fb7d5d" stroke-width="1.5" stroke-linejoin="round"/><path d="M203.3,216.7 L203.8,214.9 L204.8,213.3 L205.6,211.7 L206.0,209.8 L206.9,208.1 L208.3,206.2 L210.0,205.9 L211.7,205.9 L213.4,205.4 L215.0,204.6 L216.7,204.3 L218.4,204.2 L220.1,203.8 L221.8,203.6 L223.5,203.1 L225.1,202.2 L226.7,202.0 L228.5,202.5 L230.2,202.7 L231.9,202.7 L233.6,202.6 L235.1,202.2 L236.9,202.3 L238.5,202.9 L240.1,203.3 L239.2,204.7 L238.5,206.2 L237.9,207.7 L236.9,209.0 L236.3,210.6 L235.8,211.7 L235.5,213.5 L235.5,215.2 L236.3,216.8 L237.0,218.3 L236.9,220.0 L237.9,221.4 L239.8,221.7 L241.6,222.0 L242.6,223.4 L243.5,224.9 L244.6,226.1 L245.9,227.2 L247.2,228.0 L248.7,229.1 L250.2,230.1 L251.8,231.0 L253.3,231.5 L252.2,232.9 L251.1,234.1 L249.4,234.7 L248.1,235.8 L246.9,237.0 L245.3,237.5 L243.7,238.3 L242.0,238.4 L240.1,238.0 L238.5,238.7 L236.9,239.3 L235.1,239.1 L233.4,239.1 L231.8,240.0 L230.2,240.9 L228.5,240.9 L226.7,240.6 L225.0,240.5 L223.3,240.7 L221.7,241.7 L220.1,242.4 L218.4,242.4 L216.7,242.6 L215.0,243.1 L213.4,243.7 L211.8,244.3 L210.1,244.3 L208.4,244.2 L206.7,244.2 L205.0,244.4 L203.4,245.1 L201.7,245.2 L200.1,245.1 L198.8,243.9 L197.2,243.0 L195.6,242.1 L194.7,239.9 L196.7,239.5 L198.0,238.2 L199.0,236.5 L200.3,235.4 L202.0,234.6 L203.6,233.5 L204.0,231.8 L204.0,230.2 L203.7,228.5 L203.5,226.9 L203.1,225.2 L203.0,223.5 L202.9,221.8 L202.8,220.2 L203.2,218.5 Z" fill="none" stroke="#fb7d5d" stroke-width="1.5" stroke-linejoin="round"/><path d="M117.4,381.4 L118.7,380.2 L120.0,378.7 L121.5,378.2 L123.2,378.2 L124.9,377.9 L126.6,377.8 L128.0,377.3 L129.6,377.7 L131.1,378.3 L132.5,379.1 L134.1,379.5 L135.9,379.6 L137.8,381.1 L137.2,382.6 L136.5,384.1 L135.3,385.4 L133.5,385.8 L131.7,386.5 L130.0,387.3 L128.2,387.9 L126.3,388.3 L124.6,388.1 L122.9,387.7 L121.3,387.5 L119.7,388.1 L118.0,388.9 L117.4,387.3 L117.4,385.7 L117.9,384.0 L118.1,382.3 Z" fill="none" stroke="#fb7d5d" stroke-width="1.5" stroke-linejoin="round"/><path d="M113.6,361.7 L115.4,360.9 L117.2,360.7 L119.1,361.2 L120.9,361.8 L120.7,363.6 L120.9,365.0 L119.1,364.8 L117.2,365.5 L115.4,365.5 L114.2,365.4 L114.2,363.6 Z" fill="none" stroke="#fb7d5d" stroke-width="1.5" stroke-linejoin="round"/><path d="M222.0,181.3 L223.6,180.3 L225.2,179.6 L227.0,179.3 L229.1,179.6 L230.7,180.4 L232.4,180.8 L234.1,180.7 L236.2,180.7 L236.8,182.8 L237.7,184.6 L236.4,185.8 L235.0,186.5 L233.3,186.9 L231.7,187.8 L231.3,189.7 L230.8,191.5 L228.8,192.3 L227.0,193.6 L225.8,192.1 L224.8,190.5 L224.0,189.1 L220.9,187.7 L221.4,185.8 L221.7,183.8 Z" fill="none" stroke="#f4fbc4" stroke-width="1.7" stroke-linejoin="round"/><path d="M213.7,217.3 L215.1,216.3 L216.2,215.0 L217.5,214.0 L219.0,213.1 L219.8,211.9 L220.2,213.5 L220.8,215.1 L221.4,216.7 L221.7,218.4 L221.6,219.7 L220.0,220.3 L218.7,221.3 L217.4,222.4 L216.1,223.4 L215.0,224.7 L212.8,225.2 L213.4,223.5 L213.5,221.8 L213.0,220.2 L213.2,218.5 Z" fill="none" stroke="#f4fbc4" stroke-width="1.7" stroke-linejoin="round"/><path d="M455.2,140.0 L456.9,139.2 L458.8,138.9 L460.7,138.7 L462.0,137.9 L463.6,137.2 L465.3,136.9 L466.9,137.0 L468.5,137.2 L470.1,137.1 L471.8,137.3 L473.4,137.6 L475.1,137.3 L476.9,138.2 L478.5,139.3 L480.3,140.0 L482.2,141.0 L481.7,143.0 L481.6,145.1 L481.2,147.5 L479.5,148.1 L477.6,148.3 L476.0,148.9 L474.2,149.0 L472.3,148.9 L470.5,148.8 L468.6,148.8 L466.8,148.4 L465.1,147.8 L463.4,146.7 L461.6,146.1 L459.7,145.9 L458.0,145.1 L456.8,144.9 L456.1,143.3 L455.6,141.6 Z" fill="none" stroke="#000000" stroke-width="1.5" stroke-linejoin="round"/><path d="M527.1,178.1 L528.6,177.2 L530.0,176.1 L531.5,175.1 L532.9,174.4 L534.5,175.2 L536.3,175.6 L538.2,175.8 L539.4,175.9 L539.1,177.5 L539.0,179.2 L538.7,180.8 L538.5,182.4 L538.0,184.0 L539.0,185.7 L540.3,186.9 L542.0,187.8 L543.8,188.6 L545.5,189.6 L546.4,191.2 L547.0,192.9 L548.1,194.2 L549.2,195.6 L550.1,197.1 L551.2,198.4 L552.4,199.8 L552.6,201.5 L552.5,203.3 L553.1,204.8 L554.6,206.0 L555.6,207.3 L555.9,208.9 L556.2,210.6 L556.8,212.0 L556.6,213.6 L556.5,215.3 L556.1,217.0 L555.8,218.6 L556.0,220.3 L556.0,222.2 L554.4,222.5 L552.8,222.8 L551.3,223.5 L549.7,224.0 L547.6,224.4 L546.5,223.2 L545.7,221.7 L544.6,220.5 L543.6,219.3 L542.3,218.2 L540.9,217.4 L539.8,216.1 L539.2,214.5 L538.1,213.2 L536.9,211.9 L536.1,210.4 L535.4,208.8 L534.6,207.3 L533.6,205.9 L532.6,204.5 L531.7,203.2 L530.3,202.3 L528.8,201.4 L527.7,200.2 L526.7,199.0 L525.6,197.8 L524.4,196.7 L523.7,194.9 L524.7,193.3 L525.2,191.5 L525.5,189.7 L525.9,187.9 L526.0,186.0 L525.7,184.3 L525.5,182.7 L525.8,181.1 L526.5,179.6 Z" fill="none" stroke="#000000" stroke-width="1.5" stroke-linejoin="round"/><path d="M533.0,176.0 L534.2,174.1 L535.0,172.0" fill="none" stroke="#000000" stroke-width="1.5" stroke-linejoin="round"/><path d="M545.0,240.0 L546.6,239.9 L548.2,239.4 L549.8,239.0 L551.4,238.6 L553.4,238.0 L554.9,239.0 L555.9,240.6 L556.8,242.4 L558.2,243.5 L560.0,244.0 L560.4,245.8 L560.0,247.6 L559.6,249.4 L559.8,251.2 L560.0,253.1 L558.6,254.0 L557.2,254.9 L555.8,255.9 L554.6,257.3 L552.9,258.6 L551.4,257.7 L549.8,257.1 L548.1,257.1 L546.6,256.5 L545.2,255.9 L544.2,254.3 L543.6,252.5 L543.5,250.4 L542.8,249.3 L542.9,247.3 L543.3,245.4 L543.9,243.6 L544.2,241.7 Z" fill="none" stroke="#000000" stroke-width="1.5" stroke-linejoin="round"/><path d="M623.0,242.9 L624.6,242.6 L626.0,241.8 L627.1,240.4 L628.4,239.5 L630.1,238.6 L631.8,239.0 L633.3,240.0 L634.9,240.7 L636.7,241.0 L638.3,241.7 L639.6,242.2 L640.5,243.8 L641.1,245.4 L641.9,247.1 L643.1,248.5 L644.1,250.1 L642.5,251.2 L640.9,252.3 L639.4,253.7 L638.0,254.9 L636.2,254.9 L634.3,254.6 L632.5,254.4 L630.7,254.5 L628.8,254.4 L627.6,254.4 L626.2,253.3 L624.7,252.3 L623.6,250.9 L622.3,250.0 L622.2,248.2 L622.5,246.5 L622.7,244.7 Z" fill="none" stroke="#000000" stroke-width="1.5" stroke-linejoin="round"/><path d="M672.2,188.3 L673.6,187.1 L674.4,185.4 L676.9,184.0 L677.7,185.5 L678.1,187.2 L678.7,188.9 L679.2,190.5 L679.5,191.9 L678.7,193.5 L678.5,195.4 L678.4,197.2 L678.0,199.1 L676.5,197.7 L675.1,196.3 L673.4,196.0 L672.5,194.4 L672.9,192.8 L673.3,191.1 L672.8,189.5 Z" fill="none" stroke="#000000" stroke-width="1.5" stroke-linejoin="round"/><path d="M350.6,457.7 L352.0,456.4 L353.7,455.4 L354.8,453.9 L356.1,452.1 L358.1,452.7 L360.0,453.4 L362.0,454.0 L362.2,456.1 L362.7,458.1 L363.6,460.1 L362.2,461.5 L360.4,462.3 L358.7,463.1 L357.0,464.0 L355.0,463.4 L352.9,463.7 L350.3,463.0 L350.9,461.3 L350.9,459.7 Z" fill="none" stroke="#000000" stroke-width="1.5" stroke-linejoin="round"/><circle cx="471.2" cy="143.8" r="1.5" fill="#7a2d92"/><circle cx="553.8" cy="248.8" r="1.8" fill="none" stroke="#7a2d92" stroke-width="1.2"/><circle cx="212" cy="281.8" r="2" fill="#fb7d5d"/><circle cx="213.6" cy="288.5" r="1.6" fill="#fb7d5d"/><circle cx="127.2" cy="383.5" r="1.5" fill="#f4fbc4"/><circle cx="122.7" cy="387.1" r="1.5" fill="#f4fbc4"/><path d="M135.0,361.1 L136.7,360.7 L138.5,360.3 L140.2,360.0 L142.1,359.3 L143.8,359.5 L145.3,360.6 L146.9,361.3 L148.7,361.3 L150.4,361.5 L152.0,362.0 L151.0,364.0 L150.0,365.8 L148.3,365.9 L146.7,366.4 L145.0,366.4 L143.3,366.4 L141.7,366.0 L140.2,365.8 L138.7,364.8 L137.3,363.7 L136.2,362.3 Z" fill="none" stroke="#d4337c" stroke-width="1.5" stroke-linejoin="round"/><path d="M152.1,376.5 L153.9,375.2 L155.9,374.7 L158.1,374.8 L159.7,375.9 L161.3,377.0 L162.9,377.9 L162.2,379.4 L161.2,380.8 L160.0,381.9 L158.3,381.7 L156.5,381.4 L154.8,380.6 L153.9,380.8 L153.2,379.2 L153.1,377.5 Z" fill="none" stroke="#d4337c" stroke-width="1.5" stroke-linejoin="round"/><circle cx="329.3" cy="203.4" r="1.6" fill="#7a2d92"/><circle cx="328.5" cy="245.2" r="2" fill="#7a2d92"/><path d="M111.6,41.8 L116.0,42.5 L118.5,44.0 L116.0,45.3 L111.6,45.5" fill="none" stroke="#000000" stroke-width="1.5" stroke-linejoin="round"/><path d="M119.0,44.3 L121.7,46.0" fill="none" stroke="#000000" stroke-width="1.5" stroke-linejoin="round"/><path d="M111.6,54.4 L118.9,52.3 L123.1,53.0 L124.5,54.4 L121.7,56.4 L118.9,56.4 L116.1,59.2 L111.6,61.3" fill="none" stroke="#000000" stroke-width="1.5" stroke-linejoin="round"/><path d="M119.0,55.0 L117.0,58.0" fill="none" stroke="#000000" stroke-width="1.5" stroke-linejoin="round"/><circle cx="121.4" cy="72.4" r="0.9" fill="#000"/><circle cx="261" cy="50" r="1.2" fill="#000"/><circle cx="266" cy="51" r="1.2" fill="#000"/><circle cx="263" cy="55" r="1.1" fill="#000"/><path d="M552.8,37.4 L554.5,37.5 L556.0,37.0 L557.7,36.8 L559.3,36.7 L561.4,36.7 L562.5,38.1 L563.1,40.1 L560.7,40.5 L559.1,41.4 L557.3,41.7 L555.6,41.7 L553.3,41.2 Z" fill="none" stroke="#000000" stroke-width="1.5" stroke-linejoin="round"/><circle cx="690.6" cy="75.6" r="0.9" fill="#000"/><circle cx="692" cy="72" r="0.8" fill="#000"/><circle cx="367.2" cy="453.5" r="0.8" fill="#000"/><circle cx="579" cy="241" r="1" fill="#000"/>
</g>
<rect x="610.4" y="393.7" width="131.2" height="232.3" rx="5.5" fill="#fff" fill-opacity="0.8" stroke="#6a6a6a" stroke-width="1.6"/>
<text x="676.0" y="416.7" font-size="16.5" text-anchor="middle" font-family="'Liberation Sans', Arial, sans-serif">S/N</text>
<line x1="620.9" y1="444.8" x2="677.2" y2="444.8" stroke="#2a2a2a" stroke-width="1.9"/>
<text x="700.9" y="453.8" font-size="25.0" font-family="'Liberation Sans', Arial, sans-serif">10</text>
<line x1="620.9" y1="483.8" x2="677.2" y2="483.8" stroke="#7a2d92" stroke-width="1.9"/>
<text x="700.9" y="492.8" font-size="25.0" font-family="'Liberation Sans', Arial, sans-serif">15</text>
<line x1="620.9" y1="522.8" x2="677.2" y2="522.8" stroke="#d4337c" stroke-width="1.9"/>
<text x="700.9" y="531.8" font-size="25.0" font-family="'Liberation Sans', Arial, sans-serif">20</text>
<line x1="620.9" y1="561.8" x2="677.2" y2="561.8" stroke="#fb7d5d" stroke-width="1.9"/>
<text x="700.9" y="570.8" font-size="25.0" font-family="'Liberation Sans', Arial, sans-serif">25</text>
<line x1="620.9" y1="600.8" x2="677.2" y2="600.8" stroke="#f4fbc4" stroke-width="1.9"/>
<text x="700.9" y="609.8" font-size="25.0" font-family="'Liberation Sans', Arial, sans-serif">30</text>
<rect x="111.6" y="36.7" width="643.1" height="603.9" fill="none" stroke="#000" stroke-width="1.2"/>
<line x1="182.9" y1="640.6" x2="182.9" y2="648.2" stroke="#000" stroke-width="1.2"/>
<text x="182.9" y="670.6" font-size="21.4" text-anchor="middle" font-family="'Liberation Sans', Arial, sans-serif">12</text>
<line x1="278.2" y1="640.6" x2="278.2" y2="648.2" stroke="#000" stroke-width="1.2"/>
<text x="278.2" y="670.6" font-size="21.4" text-anchor="middle" font-family="'Liberation Sans', Arial, sans-serif">10</text>
<line x1="373.5" y1="640.6" x2="373.5" y2="648.2" stroke="#000" stroke-width="1.2"/>
<text x="373.5" y="670.6" font-size="21.4" text-anchor="middle" font-family="'Liberation Sans', Arial, sans-serif">8</text>
<line x1="468.8" y1="640.6" x2="468.8" y2="648.2" stroke="#000" stroke-width="1.2"/>
<text x="468.8" y="670.6" font-size="21.4" text-anchor="middle" font-family="'Liberation Sans', Arial, sans-serif">6</text>
<line x1="564.2" y1="640.6" x2="564.2" y2="648.2" stroke="#000" stroke-width="1.2"/>
<text x="564.2" y="670.6" font-size="21.4" text-anchor="middle" font-family="'Liberation Sans', Arial, sans-serif">4</text>
<line x1="659.5" y1="640.6" x2="659.5" y2="648.2" stroke="#000" stroke-width="1.2"/>
<text x="659.5" y="670.6" font-size="21.4" text-anchor="middle" font-family="'Liberation Sans', Arial, sans-serif">2</text>
<line x1="754.8" y1="640.6" x2="754.8" y2="648.2" stroke="#000" stroke-width="1.2"/>
<text x="754.8" y="670.6" font-size="21.4" text-anchor="middle" font-family="'Liberation Sans', Arial, sans-serif">0</text>
<line x1="104.0" y1="142.7" x2="111.6" y2="142.7" stroke="#000" stroke-width="1.2"/>
<text x="97.6" y="150.3" font-size="21.4" text-anchor="end" font-family="'Liberation Sans', Arial, sans-serif">0.0</text>
<line x1="104.0" y1="260.8" x2="111.6" y2="260.8" stroke="#000" stroke-width="1.2"/>
<text x="97.6" y="268.4" font-size="21.4" text-anchor="end" font-family="'Liberation Sans', Arial, sans-serif">−0.5</text>
<line x1="104.0" y1="378.8" x2="111.6" y2="378.8" stroke="#000" stroke-width="1.2"/>
<text x="97.6" y="386.4" font-size="21.4" text-anchor="end" font-family="'Liberation Sans', Arial, sans-serif">−1.0</text>
<line x1="104.0" y1="496.8" x2="111.6" y2="496.8" stroke="#000" stroke-width="1.2"/>
<text x="97.6" y="504.4" font-size="21.4" text-anchor="end" font-family="'Liberation Sans', Arial, sans-serif">−1.5</text>
<line x1="104.0" y1="614.9" x2="111.6" y2="614.9" stroke="#000" stroke-width="1.2"/>
<text x="97.6" y="622.5" font-size="21.4" text-anchor="end" font-family="'Liberation Sans', Arial, sans-serif">−2.0</text>
<text x="434.7" y="702.4" font-size="27.6" text-anchor="middle" font-family="'DejaVu Sans', sans-serif">Age [Gyr]</text>
<text transform="translate(43.9,337.7) rotate(-90)" font-size="27.6" text-anchor="middle" font-family="'DejaVu Sans', sans-serif">[Z/H]</text>
<defs><linearGradient id="gL" x1="0" y1="1" x2="0" y2="0"><stop offset="0" stop-color="#ffffff"/><stop offset="0.05" stop-color="#e7e0df"/><stop offset="0.1" stop-color="#cdbfbc"/><stop offset="0.15" stop-color="#b39e99"/><stop offset="0.2" stop-color="#997c76"/><stop offset="0.25" stop-color="#805c54"/><stop offset="0.3" stop-color="#987b61"/><stop offset="0.35" stop-color="#b29c6f"/><stop offset="0.4" stop-color="#ccbe7d"/><stop offset="0.45" stop-color="#e6df8c"/><stop offset="0.5" stop-color="#fdff99"/><stop offset="0.55" stop-color="#cdf58f"/><stop offset="0.6" stop-color="#8ee888"/><stop offset="0.622" stop-color="#66de88"/><stop offset="0.627" stop-color="#00da82"/><stop offset="0.7" stop-color="#00d27c"/><stop offset="0.75" stop-color="#00c878"/><stop offset="0.8" stop-color="#00b0b0"/><stop offset="0.85" stop-color="#0098fe"/><stop offset="0.9" stop-color="#1276dc"/><stop offset="0.95" stop-color="#2353b9"/><stop offset="1.0" stop-color="#48249e"/></linearGradient></defs>
<rect x="770.6" y="36.6" width="30.1" height="604.4" fill="url(#gL)" stroke="#000" stroke-width="1.2"/>
<line x1="800.7" y1="641.0" x2="809.0" y2="641.0" stroke="#000" stroke-width="1.2"/>
<text x="815.3" y="648.6" font-size="21.4" font-family="'Liberation Sans', Arial, sans-serif">0</text>
<line x1="800.7" y1="545.3" x2="809.0" y2="545.3" stroke="#000" stroke-width="1.2"/>
<text x="815.3" y="552.9" font-size="21.4" font-family="'Liberation Sans', Arial, sans-serif">1</text>
<line x1="800.7" y1="449.6" x2="809.0" y2="449.6" stroke="#000" stroke-width="1.2"/>
<text x="815.3" y="457.2" font-size="21.4" font-family="'Liberation Sans', Arial, sans-serif">2</text>
<line x1="800.7" y1="353.9" x2="809.0" y2="353.9" stroke="#000" stroke-width="1.2"/>
<text x="815.3" y="361.5" font-size="21.4" font-family="'Liberation Sans', Arial, sans-serif">3</text>
<line x1="800.7" y1="258.2" x2="809.0" y2="258.2" stroke="#000" stroke-width="1.2"/>
<text x="815.3" y="265.8" font-size="21.4" font-family="'Liberation Sans', Arial, sans-serif">4</text>
<line x1="800.7" y1="162.6" x2="809.0" y2="162.6" stroke="#000" stroke-width="1.2"/>
<text x="815.3" y="170.2" font-size="21.4" font-family="'Liberation Sans', Arial, sans-serif">5</text>
<line x1="800.7" y1="66.9" x2="809.0" y2="66.9" stroke="#000" stroke-width="1.2"/>
<text x="815.3" y="74.5" font-size="21.4" font-family="'Liberation Sans', Arial, sans-serif">6</text>
<text x="755.4" y="32.0" font-size="21.4" font-family="'Liberation Sans', Arial, sans-serif">×10<tspan font-size="15" dy="-14.5">5</tspan></text>
<text transform="translate(857.2,497.4) rotate(-90)" font-size="28.0" font-family="'DejaVu Sans', sans-serif">deSFH [M<tspan font-size="19.6" dy="5.0">⊙</tspan><tspan dy="-5.0">Gyr</tspan><tspan font-size="19.6" dy="-11.0">−1</tspan><tspan dy="11.0">dex</tspan><tspan font-size="19.6" dy="-11.0">−1</tspan><tspan dy="11.0">]</tspan></text>
<defs><clipPath id="clipR"><rect x="1043.6" y="50.9" width="630.3" height="591.3"/></clipPath></defs>
<g clip-path="url(#clipR)">
<path d="M1163.0,111.7 L1163.0,116.7 L1163.2,119.8 L1163.6,122.9 L1164.4,126.0 L1165.4,128.9 L1166.5,131.3 L1166.6,131.6 L1167.0,134.6 L1167.7,137.6 L1168.8,140.5 L1170.1,143.3 L1171.6,145.9 L1173.4,148.4 L1175.4,150.7 L1178.7,154.1 L1181.4,156.6 L1184.4,158.7 L1186.6,160.0 L1187.3,162.6 L1188.2,165.7 L1189.3,168.6 L1190.8,171.4 L1192.5,174.0 L1194.5,176.5 L1196.7,178.7 L1199.1,180.7 L1201.7,182.5 L1204.5,184.0 L1207.4,185.2 L1210.4,186.2 L1213.4,186.8 L1218.5,187.6 L1221.8,188.0 L1225.1,188.0 L1228.4,187.6 L1231.7,186.9 L1234.8,185.9 L1241.4,183.4 L1244.0,182.3 L1246.5,181.0 L1248.8,179.6 L1251.5,180.0 L1254.2,180.4 L1256.1,180.5 L1256.2,180.5 L1259.8,182.0 L1269.9,185.5 L1271.3,186.0 L1279.0,188.3 L1284.8,191.2 L1289.3,194.3 L1289.4,195.7 L1289.4,195.8 L1290.4,203.9 L1291.0,207.1 L1291.9,210.3 L1293.1,213.3 L1294.6,216.2 L1296.4,219.0 L1298.5,221.5 L1300.8,223.8 L1303.4,225.9 L1306.1,227.7 L1312.3,231.3 L1315.9,233.1 L1327.5,238.0 L1329.9,238.9 L1332.3,239.6 L1341.0,241.7 L1347.9,244.7 L1352.6,248.4 L1352.8,249.1 L1353.8,252.4 L1353.0,253.5 L1351.5,256.0 L1350.2,258.6 L1349.1,261.4 L1348.6,263.1 L1347.2,265.2 L1345.5,268.0 L1344.2,271.0 L1343.1,274.1 L1342.4,277.3 L1342.0,280.5 L1341.9,283.8 L1342.2,287.0 L1342.8,290.3 L1344.6,297.8 L1345.4,300.7 L1346.5,303.5 L1347.9,306.2 L1349.5,308.7 L1351.4,311.1 L1353.5,313.3 L1355.7,315.3 L1365.1,322.8 L1367.4,324.5 L1369.8,325.9 L1372.3,327.1 L1374.9,328.1 L1386.2,331.9 L1387.5,332.4 L1399.3,335.7 L1405.9,338.3 L1412.0,341.4 L1414.9,342.7 L1417.9,343.7 L1420.9,344.4 L1424.0,344.8 L1427.2,344.9 L1430.3,344.7 L1437.8,343.8 L1441.1,343.2 L1444.2,342.3 L1447.3,341.1 L1450.2,339.6 L1453.0,337.8 L1455.5,335.7 L1457.9,333.3 L1459.9,330.7 L1461.7,328.0 L1465.5,321.4 L1466.4,319.7 L1470.2,312.1 L1471.4,309.4 L1472.4,306.6 L1473.1,303.7 L1473.5,300.8 L1473.6,297.8 L1473.6,290.3 L1473.4,287.1 L1473.0,284.0 L1472.2,280.9 L1472.1,280.5 L1473.5,279.3 L1475.6,276.9 L1477.5,274.4 L1479.1,271.7 L1480.5,268.9 L1481.6,265.9 L1482.4,262.9 L1482.8,259.8 L1483.0,256.6 L1482.9,253.5 L1482.4,250.3 L1481.6,247.3 L1480.6,244.3 L1479.2,241.5 L1477.6,238.7 L1475.3,235.2 L1475.5,235.3 L1478.4,235.6 L1481.3,235.6 L1484.2,235.3 L1492.9,234.2 L1496.4,234.8 L1496.9,235.0 L1501.3,237.6 L1501.9,238.8 L1503.5,241.6 L1505.5,244.2 L1507.7,246.6 L1510.2,248.7 L1512.9,250.6 L1515.7,252.2 L1524.0,256.4 L1532.3,260.6 L1535.1,261.8 L1538.0,262.8 L1541.0,263.5 L1544.0,263.9 L1547.1,264.0 L1550.1,263.8 L1553.2,263.3 L1556.2,262.6 L1559.0,261.5 L1561.8,260.2 L1562.6,259.7 L1564.4,259.6 L1567.5,259.2 L1568.7,258.9 L1569.3,259.2 L1572.1,260.3 L1578.4,262.4 L1581.5,263.2 L1584.7,263.8 L1587.9,264.0 L1591.2,263.9 L1594.4,263.5 L1597.5,262.7 L1600.6,261.6 L1603.5,260.2 L1606.3,258.6 L1608.9,256.6 L1611.3,254.5 L1613.5,252.0 L1614.0,251.2 L1615.0,251.5 L1618.1,252.1 L1621.3,252.5 L1624.5,252.5 L1627.7,252.1 L1630.8,251.5 L1633.9,250.5 L1636.9,249.3 L1639.7,247.8 L1644.9,244.6 L1647.5,242.8 L1649.9,240.7 L1652.1,238.5 L1654.1,236.0 L1655.8,233.3 L1657.2,230.5 L1658.4,227.6 L1659.3,224.6 L1659.8,221.4 L1660.1,218.3 L1660.0,215.1 L1659.7,212.0 L1657.6,199.5 L1656.9,196.3 L1655.8,193.3 L1655.8,193.2 L1656.0,190.7 L1655.9,187.8 L1655.6,184.9 L1653.5,172.4 L1652.7,169.1 L1651.6,165.8 L1647.4,155.3 L1647.4,155.2 L1643.2,144.8 L1641.8,141.9 L1640.2,139.1 L1638.3,136.6 L1636.1,134.2 L1627.8,125.9 L1626.6,124.8 L1626.7,124.3 L1626.6,121.3 L1626.3,118.4 L1625.7,115.6 L1623.6,107.3 L1622.7,104.3 L1621.5,101.4 L1620.0,98.6 L1618.3,96.0 L1616.3,93.6 L1614.1,91.4 L1611.7,89.4 L1609.1,87.7 L1606.4,86.2 L1603.5,85.0 L1600.5,84.1 L1597.5,83.5 L1594.4,83.2 L1591.3,83.1 L1588.2,83.4 L1585.1,84.0 L1576.8,86.0 L1576.3,86.2 L1575.4,84.8 L1573.6,82.2 L1571.5,79.9 L1569.1,77.8 L1566.6,75.9 L1563.9,74.3 L1561.1,72.9 L1558.1,71.9 L1555.1,71.1 L1551.9,70.7 L1548.8,70.5 L1541.5,70.5 L1538.3,70.7 L1535.2,71.1 L1532.1,71.9 L1529.1,73.0 L1526.2,74.4 L1523.5,76.0 L1521.0,77.9 L1518.7,80.1 L1516.5,82.5 L1514.7,85.0 L1513.1,87.8 L1511.8,90.7 L1510.7,93.7 L1510.0,96.8 L1509.6,99.9 L1509.5,103.1 L1509.7,106.3 L1510.5,113.1 L1508.4,113.3 L1505.4,114.0 L1502.5,114.9 L1499.7,116.1 L1495.8,118.0 L1493.1,119.5 L1490.5,121.2 L1488.2,123.2 L1486.0,125.4 L1484.1,127.8 L1482.4,130.4 L1482.3,130.4 L1481.6,130.0 L1478.6,128.6 L1475.6,127.6 L1463.9,124.3 L1461.1,123.6 L1449.1,121.4 L1439.2,118.6 L1426.3,114.6 L1423.1,113.8 L1419.9,113.3 L1416.7,113.1 L1413.4,113.3 L1401.4,114.5 L1395.7,113.6 L1391.9,113.1 L1388.1,113.2 L1376.4,114.0 L1372.7,114.4 L1369.3,115.1 L1368.6,115.0 L1368.4,114.6 L1366.6,112.0 L1364.6,109.6 L1362.4,107.4 L1360.0,105.5 L1357.4,103.8 L1354.7,102.3 L1351.8,101.2 L1348.9,100.3 L1340.5,98.2 L1337.4,97.5 L1334.3,97.2 L1331.1,97.2 L1328.0,97.5 L1324.9,98.2 L1316.5,100.3 L1313.6,101.1 L1310.8,102.3 L1308.1,103.7 L1305.6,105.3 L1304.3,106.4 L1295.0,108.2 L1295.0,108.2 L1284.6,110.3 L1274.1,112.4 L1274.1,112.4 L1273.4,112.6 L1271.4,111.6 L1267.9,110.1 L1264.3,109.0 L1261.3,108.3 L1258.0,106.6 L1256.1,105.8 L1255.5,104.6 L1253.6,102.0 L1251.5,99.5 L1249.1,97.3 L1248.4,96.8 L1248.4,96.7 L1246.8,94.1 L1243.5,89.1 L1241.7,86.6 L1239.6,84.3 L1237.4,82.2 L1232.4,78.0 L1229.9,76.1 L1227.2,74.4 L1224.3,73.1 L1221.4,72.0 L1218.3,71.2 L1215.2,70.7 L1212.0,70.5 L1208.9,70.6 L1205.7,71.1 L1202.7,71.8 L1194.3,74.3 L1191.5,75.3 L1188.9,76.5 L1182.2,79.9 L1179.3,81.5 L1176.6,83.5 L1174.1,85.7 L1171.9,88.2 L1169.9,90.9 L1168.3,93.7 L1166.6,97.0 L1165.3,99.8 L1164.3,102.7 L1163.6,105.6 L1163.1,108.7 Z" fill="#efe9e8" fill-rule="evenodd" filter="url(#b12)"/><path d="M1043.0,50.0 L1360.0,50.0 L1350.0,75.0 L1250.0,80.0 L1150.0,70.0 L1043.0,80.0 Z" fill="#f1ecec" filter="url(#b10)"/><path d="M1318.0,50.0 L1366.0,50.0 L1356.0,72.0 L1352.0,88.0 L1356.0,125.0 L1328.0,125.0 L1334.0,88.0 L1328.0,70.0 Z" fill="#cdbcb8" filter="url(#b6)"/><path d="M1330.0,50.0 L1354.0,50.0 L1350.0,75.0 L1346.0,95.0 L1350.0,122.0 L1334.0,122.0 L1338.0,95.0 L1334.0,72.0 Z" fill="#a98e88" filter="url(#b4)"/><path d="M1334.0,50.0 L1347.0,50.0 L1345.0,60.0 L1336.0,60.0 Z" fill="#c0a674" filter="url(#b3)"/><path d="M1043.0,50.0 L1080.0,50.0 L1085.0,68.0 L1043.0,75.0 Z" fill="#dcd0ce" filter="url(#b6)"/><path d="M1195.0,50.0 L1240.0,50.0 L1238.0,68.0 L1200.0,68.0 Z" fill="#d7cac7" filter="url(#b5)"/><path d="M1043.0,100.0 L1070.0,105.0 L1075.0,135.0 L1043.0,140.0 Z" fill="#f3efef" filter="url(#b10)"/><path d="M1160.0,170.0 L1240.0,160.0 L1280.0,175.0 L1250.0,200.0 L1200.0,205.0 L1165.0,200.0 Z" fill="#efe9e8" filter="url(#b12)"/><path d="M1148.0,206.0 L1170.0,192.0 L1200.0,180.0 L1235.0,166.0 L1242.0,178.0 L1205.0,196.0 L1170.0,213.0 Z" fill="#ddd0ce" filter="url(#b8)"/><path d="M1600.0,50.0 L1676.0,50.0 L1676.0,260.0 L1600.0,230.0 Z" fill="#f1ebea" filter="url(#b8)"/><path d="M1609.5,50.0 L1614.5,50.0 L1616.0,235.0 L1611.0,235.0 Z" fill="#e4d9d8" filter="url(#b3)"/><path d="M1622.5,50.0 L1627.5,50.0 L1629.0,235.0 L1624.0,235.0 Z" fill="#e4d9d8" filter="url(#b3)"/><path d="M1634.5,50.0 L1639.5,50.0 L1641.0,235.0 L1636.0,235.0 Z" fill="#e4d9d8" filter="url(#b3)"/><path d="M1647.5,50.0 L1652.5,50.0 L1654.0,235.0 L1649.0,235.0 Z" fill="#e4d9d8" filter="url(#b3)"/><path d="M1659.5,50.0 L1664.5,50.0 L1666.0,235.0 L1661.0,235.0 Z" fill="#e4d9d8" filter="url(#b3)"/><path d="M1043.0,500.0 L1077.0,490.0 L1128.0,488.0 L1140.0,505.0 L1145.0,545.0 L1170.0,565.0 L1185.0,590.0 L1193.0,645.0 L1043.0,645.0 Z" fill="#f8f5f5" filter="url(#b6)"/><path d="M1175.0,111.7 L1175.0,116.7 L1175.1,118.7 L1175.4,120.6 L1175.9,122.5 L1176.5,124.4 L1177.4,126.1 L1178.4,127.8 L1178.4,127.9 L1178.4,128.5 L1178.5,130.4 L1178.8,132.3 L1179.2,134.1 L1179.9,135.9 L1180.7,137.7 L1181.7,139.3 L1182.8,140.9 L1184.0,142.3 L1187.3,145.7 L1189.0,147.3 L1190.9,148.6 L1192.9,149.7 L1196.6,151.6 L1197.2,152.1 L1197.3,153.1 L1198.9,159.8 L1199.5,161.7 L1200.2,163.6 L1201.1,165.3 L1202.2,167.0 L1203.4,168.5 L1204.8,169.9 L1206.3,171.2 L1208.0,172.3 L1209.7,173.2 L1211.5,174.0 L1213.4,174.6 L1215.3,175.0 L1220.4,175.8 L1222.5,176.0 L1224.5,176.0 L1226.6,175.8 L1228.6,175.3 L1230.6,174.7 L1237.2,172.2 L1238.8,171.5 L1240.3,170.7 L1245.8,167.4 L1247.2,167.1 L1253.5,168.2 L1255.2,168.4 L1256.9,168.5 L1258.9,168.5 L1261.5,169.7 L1263.8,170.7 L1273.9,174.2 L1274.7,174.5 L1283.5,177.1 L1291.0,180.9 L1299.0,186.4 L1300.6,188.0 L1301.3,194.3 L1301.4,194.4 L1302.4,202.5 L1302.7,204.5 L1303.3,206.4 L1304.0,208.3 L1305.0,210.2 L1306.1,211.9 L1307.4,213.4 L1308.8,214.9 L1310.4,216.2 L1312.2,217.3 L1318.4,220.9 L1320.6,222.0 L1332.2,226.9 L1333.7,227.5 L1335.2,227.9 L1344.9,230.3 L1354.1,234.3 L1361.4,240.1 L1361.9,240.5 L1363.4,241.6 L1363.4,241.7 L1363.7,243.6 L1364.2,245.5 L1366.0,251.2 L1366.7,253.1 L1367.2,254.1 L1366.8,254.7 L1363.0,260.3 L1362.0,261.8 L1361.2,263.5 L1360.5,265.2 L1359.5,268.4 L1357.2,271.8 L1356.2,273.5 L1355.3,275.4 L1354.7,277.3 L1354.2,279.3 L1354.0,281.4 L1353.9,283.4 L1354.1,285.5 L1354.5,287.5 L1356.3,295.0 L1356.8,296.8 L1357.5,298.5 L1358.3,300.2 L1359.3,301.8 L1360.5,303.3 L1361.8,304.7 L1363.2,305.9 L1372.6,313.4 L1374.0,314.5 L1375.5,315.4 L1377.1,316.1 L1378.7,316.8 L1390.0,320.6 L1390.9,320.8 L1403.2,324.4 L1410.8,327.4 L1417.5,330.7 L1419.3,331.5 L1421.1,332.2 L1423.0,332.6 L1425.0,332.8 L1426.9,332.9 L1428.9,332.8 L1436.4,331.9 L1438.4,331.5 L1440.4,330.9 L1442.3,330.2 L1444.2,329.2 L1445.9,328.1 L1447.5,326.8 L1448.9,325.3 L1450.2,323.7 L1451.3,322.0 L1455.1,315.4 L1455.7,314.3 L1459.5,306.7 L1460.2,305.0 L1460.8,303.3 L1461.3,301.5 L1461.5,299.7 L1461.6,297.8 L1461.6,290.3 L1461.5,288.3 L1461.2,286.4 L1460.7,284.4 L1460.0,282.6 L1459.2,280.8 L1458.2,279.1 L1457.0,277.5 L1455.6,276.0 L1455.5,276.0 L1456.6,275.7 L1458.5,275.0 L1460.3,274.2 L1462.0,273.2 L1463.6,272.0 L1465.1,270.7 L1466.4,269.3 L1467.6,267.7 L1468.6,266.0 L1469.4,264.2 L1470.1,262.4 L1470.6,260.5 L1470.9,258.5 L1471.0,256.6 L1470.9,254.6 L1470.6,252.6 L1470.2,250.7 L1469.5,248.9 L1468.7,247.1 L1467.6,245.4 L1463.8,239.7 L1463.2,238.8 L1457.6,231.3 L1456.4,229.8 L1455.0,228.4 L1453.5,227.2 L1451.8,226.1 L1445.5,222.3 L1440.4,216.1 L1436.1,210.2 L1433.5,205.0 L1431.6,200.2 L1437.4,201.3 L1444.9,203.2 L1449.4,207.6 L1456.1,214.3 L1457.4,215.6 L1458.9,216.7 L1460.4,217.6 L1462.1,218.5 L1463.8,219.1 L1473.8,222.5 L1475.5,223.0 L1477.3,223.4 L1479.1,223.6 L1480.9,223.6 L1482.7,223.4 L1493.2,222.1 L1499.1,223.1 L1501.7,223.9 L1508.3,227.8 L1510.9,229.8 L1511.5,231.3 L1512.4,233.1 L1513.5,234.9 L1514.7,236.5 L1516.1,238.0 L1517.6,239.3 L1519.3,240.5 L1521.1,241.5 L1529.4,245.7 L1537.7,249.8 L1539.4,250.6 L1541.2,251.2 L1543.1,251.7 L1545.0,251.9 L1546.9,252.0 L1548.9,251.9 L1550.7,251.6 L1552.6,251.1 L1554.4,250.5 L1556.1,249.6 L1557.8,248.6 L1559.1,247.8 L1561.3,247.8 L1563.3,247.7 L1565.2,247.4 L1567.1,246.9 L1568.9,246.3 L1570.1,245.8 L1570.8,246.3 L1572.4,247.3 L1574.1,248.2 L1575.9,248.9 L1582.2,251.0 L1584.1,251.5 L1586.1,251.9 L1588.1,252.0 L1590.2,251.9 L1592.2,251.7 L1594.1,251.2 L1596.1,250.5 L1597.9,249.7 L1599.6,248.6 L1601.3,247.4 L1602.8,246.0 L1604.1,244.5 L1605.3,242.9 L1606.3,241.1 L1607.1,239.3 L1608.9,234.8 L1609.3,235.1 L1610.8,236.4 L1612.4,237.5 L1614.2,238.5 L1616.0,239.3 L1618.0,239.9 L1619.9,240.3 L1621.9,240.5 L1623.9,240.5 L1625.9,240.3 L1627.9,239.9 L1629.8,239.3 L1631.6,238.5 L1633.4,237.5 L1638.6,234.3 L1640.2,233.2 L1641.7,231.9 L1643.1,230.5 L1644.3,229.0 L1645.4,227.3 L1646.3,225.6 L1647.0,223.7 L1647.6,221.8 L1647.9,219.9 L1648.1,217.9 L1648.1,215.9 L1647.8,214.0 L1645.7,201.5 L1645.3,199.5 L1644.7,197.6 L1643.8,195.7 L1643.4,195.0 L1643.6,194.2 L1643.9,192.4 L1644.0,190.5 L1643.9,188.7 L1643.7,186.9 L1641.6,174.4 L1641.2,172.3 L1640.5,170.3 L1636.3,159.8 L1636.2,159.7 L1632.0,149.3 L1631.2,147.5 L1630.2,145.8 L1629.0,144.1 L1627.6,142.7 L1619.3,134.4 L1617.7,132.9 L1616.0,131.7 L1614.1,130.6 L1614.0,130.5 L1614.6,125.8 L1614.7,123.9 L1614.7,122.1 L1614.5,120.3 L1614.1,118.5 L1612.0,110.2 L1611.4,108.3 L1610.7,106.5 L1609.8,104.8 L1608.7,103.2 L1607.4,101.7 L1606.1,100.3 L1604.6,99.1 L1602.9,98.0 L1601.2,97.1 L1599.4,96.3 L1597.6,95.7 L1595.7,95.3 L1593.7,95.1 L1591.8,95.1 L1589.8,95.3 L1587.9,95.7 L1579.6,97.7 L1577.7,98.2 L1575.8,99.0 L1574.0,99.9 L1572.3,101.1 L1570.8,102.4 L1569.4,103.8 L1569.1,104.2 L1568.7,100.6 L1568.4,98.7 L1568.0,96.7 L1567.3,94.9 L1566.5,93.1 L1565.5,91.4 L1564.3,89.8 L1563.0,88.4 L1561.5,87.1 L1559.9,85.9 L1558.2,84.9 L1556.5,84.0 L1554.6,83.4 L1552.7,82.9 L1550.8,82.6 L1548.8,82.5 L1541.5,82.5 L1539.5,82.6 L1537.6,82.9 L1535.6,83.4 L1533.8,84.1 L1532.0,84.9 L1530.3,86.0 L1528.7,87.1 L1527.2,88.5 L1525.9,90.0 L1524.7,91.6 L1523.7,93.3 L1522.9,95.1 L1522.3,97.0 L1521.8,98.9 L1521.6,100.9 L1521.5,102.9 L1521.6,104.9 L1522.6,113.3 L1522.9,115.0 L1523.4,116.7 L1524.0,118.4 L1527.5,127.1 L1528.3,131.2 L1527.8,130.8 L1526.4,129.5 L1524.9,128.3 L1523.3,127.3 L1521.6,126.5 L1519.8,125.8 L1517.9,125.4 L1516.1,125.0 L1514.2,124.9 L1512.3,125.0 L1510.4,125.2 L1508.5,125.6 L1506.7,126.2 L1504.9,126.9 L1501.0,128.8 L1499.4,129.7 L1497.8,130.8 L1496.3,132.1 L1494.9,133.4 L1493.7,134.9 L1492.6,136.5 L1491.7,138.2 L1491.0,140.0 L1490.4,141.8 L1488.4,149.6 L1488.3,150.0 L1487.7,149.5 L1479.5,142.8 L1477.8,141.6 L1476.1,140.6 L1474.2,139.8 L1472.3,139.2 L1460.6,135.9 L1458.9,135.4 L1446.4,133.1 L1435.8,130.1 L1422.7,126.0 L1420.7,125.5 L1418.7,125.2 L1416.7,125.1 L1414.6,125.2 L1401.0,126.6 L1393.7,125.4 L1391.3,125.1 L1388.9,125.1 L1377.2,125.9 L1374.9,126.2 L1369.6,127.2 L1364.2,126.5 L1360.2,124.7 L1359.1,122.5 L1358.1,120.8 L1357.1,119.2 L1355.8,117.7 L1354.4,116.4 L1352.9,115.2 L1351.3,114.1 L1349.6,113.2 L1347.8,112.5 L1346.0,111.9 L1337.6,109.8 L1335.6,109.4 L1333.7,109.2 L1331.7,109.2 L1329.8,109.4 L1327.8,109.8 L1319.4,111.9 L1317.6,112.4 L1315.9,113.2 L1314.2,114.0 L1312.6,115.1 L1311.1,116.2 L1309.8,117.5 L1307.9,117.9 L1297.4,120.0 L1297.3,120.0 L1287.0,122.1 L1276.5,124.2 L1276.4,124.2 L1271.7,125.2 L1266.0,122.3 L1263.8,121.3 L1261.5,120.6 L1257.1,119.6 L1252.6,117.3 L1250.4,116.3 L1248.1,115.6 L1247.7,115.5 L1246.4,112.9 L1245.4,111.1 L1244.2,109.4 L1242.9,107.9 L1241.4,106.5 L1239.7,105.3 L1238.8,104.6 L1238.6,104.0 L1237.8,102.3 L1236.8,100.7 L1233.5,95.7 L1232.4,94.1 L1231.1,92.7 L1229.7,91.4 L1224.7,87.2 L1223.1,86.0 L1221.4,85.0 L1219.6,84.1 L1217.8,83.4 L1215.9,82.9 L1213.9,82.6 L1211.9,82.5 L1210.0,82.6 L1208.0,82.9 L1206.1,83.3 L1197.7,85.8 L1196.0,86.4 L1194.3,87.2 L1187.6,90.6 L1185.8,91.6 L1184.2,92.8 L1182.6,94.2 L1181.2,95.8 L1180.0,97.4 L1178.9,99.2 L1177.2,102.5 L1176.4,104.3 L1175.8,106.1 L1175.4,107.9 L1175.1,109.8 Z" fill="#d3c3c0" fill-rule="evenodd" filter="url(#b8)"/><path d="M1185.0,111.7 L1185.0,116.7 L1185.0,117.7 L1185.2,118.7 L1185.4,119.6 L1185.8,120.5 L1186.2,121.4 L1186.7,122.3 L1187.3,123.0 L1187.9,123.8 L1189.0,124.9 L1188.8,125.6 L1188.6,126.5 L1188.4,127.5 L1188.4,128.4 L1188.4,129.4 L1188.6,130.3 L1188.8,131.3 L1189.1,132.2 L1189.5,133.0 L1190.0,133.9 L1190.6,134.6 L1191.2,135.4 L1194.5,138.8 L1195.4,139.5 L1196.3,140.2 L1197.3,140.8 L1202.5,143.3 L1206.3,147.2 L1206.8,147.6 L1206.8,148.1 L1206.8,149.0 L1206.9,149.9 L1207.1,150.8 L1208.7,157.5 L1208.9,158.5 L1209.3,159.4 L1209.8,160.3 L1210.3,161.1 L1210.9,161.8 L1211.6,162.5 L1212.4,163.2 L1213.2,163.7 L1214.0,164.2 L1214.9,164.6 L1215.9,164.9 L1216.9,165.1 L1222.0,165.9 L1223.0,166.0 L1224.0,166.0 L1225.0,165.9 L1226.1,165.7 L1227.0,165.4 L1233.6,162.9 L1234.4,162.5 L1235.2,162.1 L1242.2,158.0 L1247.1,157.0 L1255.2,158.4 L1256.1,158.5 L1256.9,158.5 L1261.3,158.5 L1265.9,160.8 L1267.0,161.2 L1277.1,164.7 L1277.6,164.9 L1287.2,167.7 L1296.2,172.3 L1305.4,178.7 L1309.4,182.6 L1310.4,185.7 L1311.3,193.1 L1311.3,193.1 L1312.3,201.2 L1312.5,202.2 L1312.7,203.2 L1313.1,204.2 L1313.6,205.1 L1314.1,205.9 L1314.8,206.7 L1315.5,207.4 L1316.3,208.1 L1317.2,208.6 L1323.4,212.2 L1324.5,212.8 L1336.1,217.7 L1336.8,218.0 L1337.6,218.2 L1348.1,220.8 L1359.3,225.7 L1367.7,232.3 L1367.9,232.5 L1373.7,236.8 L1373.5,237.6 L1373.3,238.6 L1373.3,239.6 L1373.4,240.6 L1373.5,241.6 L1373.8,242.5 L1375.6,248.2 L1375.9,249.1 L1376.3,250.0 L1376.8,250.8 L1377.4,251.6 L1378.1,252.3 L1379.9,254.1 L1379.7,255.3 L1376.2,258.9 L1375.6,259.6 L1375.0,260.3 L1371.2,265.9 L1370.7,266.7 L1370.3,267.5 L1370.0,268.3 L1368.5,272.8 L1365.6,277.3 L1365.0,278.2 L1364.6,279.1 L1364.3,280.1 L1364.1,281.1 L1363.9,282.1 L1363.9,283.1 L1364.0,284.1 L1364.2,285.1 L1366.0,292.6 L1366.2,293.5 L1366.6,294.4 L1367.0,295.3 L1367.5,296.1 L1368.1,296.8 L1368.8,297.5 L1369.5,298.1 L1378.9,305.6 L1379.6,306.1 L1380.3,306.6 L1381.1,307.0 L1381.9,307.3 L1393.2,311.1 L1393.6,311.2 L1406.4,314.9 L1414.9,318.2 L1422.0,321.8 L1422.9,322.2 L1423.8,322.5 L1424.8,322.7 L1425.7,322.9 L1426.7,322.9 L1427.7,322.8 L1435.2,321.9 L1436.2,321.8 L1437.2,321.5 L1438.2,321.1 L1439.1,320.6 L1439.9,320.0 L1440.7,319.4 L1441.5,318.7 L1442.1,317.9 L1442.7,317.0 L1446.5,310.4 L1446.7,309.9 L1450.5,302.3 L1450.9,301.4 L1451.2,300.5 L1451.4,299.6 L1451.6,298.7 L1451.6,297.8 L1451.6,290.3 L1451.6,289.3 L1451.4,288.3 L1451.2,287.4 L1450.8,286.4 L1450.4,285.5 L1449.9,284.7 L1449.3,283.9 L1448.6,283.2 L1442.9,277.6 L1442.0,276.8 L1441.1,276.1 L1434.2,272.0 L1432.2,268.0 L1431.2,263.8 L1432.0,259.5 L1433.2,258.3 L1437.2,257.7 L1440.4,260.0 L1443.8,263.5 L1444.6,264.2 L1445.3,264.7 L1446.2,265.3 L1447.1,265.7 L1448.0,266.0 L1449.0,266.3 L1449.9,266.4 L1450.9,266.5 L1451.9,266.5 L1452.9,266.3 L1453.8,266.1 L1454.8,265.8 L1455.6,265.4 L1456.5,264.9 L1457.3,264.3 L1458.0,263.6 L1458.7,262.9 L1459.3,262.1 L1459.8,261.3 L1460.2,260.4 L1460.6,259.4 L1460.8,258.5 L1460.9,257.5 L1461.0,256.5 L1461.0,255.5 L1460.8,254.6 L1460.6,253.6 L1460.2,252.7 L1459.8,251.8 L1459.3,251.0 L1455.5,245.3 L1455.2,244.8 L1449.6,237.3 L1449.0,236.6 L1448.3,235.9 L1447.5,235.3 L1446.7,234.7 L1438.9,230.0 L1432.5,222.2 L1427.5,215.4 L1424.3,209.1 L1420.8,200.1 L1420.4,199.2 L1419.8,198.3 L1419.2,197.5 L1418.5,196.7 L1410.9,189.2 L1410.2,188.5 L1409.3,187.9 L1408.4,187.4 L1399.9,183.0 L1399.4,182.3 L1399.5,182.2 L1406.8,184.7 L1407.9,185.0 L1423.0,188.3 L1423.2,188.3 L1439.6,191.6 L1450.1,194.2 L1456.4,200.6 L1463.1,207.3 L1463.8,207.9 L1464.5,208.4 L1465.3,208.9 L1466.1,209.3 L1467.0,209.7 L1477.0,213.1 L1477.9,213.3 L1478.7,213.5 L1479.6,213.6 L1480.6,213.6 L1481.5,213.5 L1493.4,212.0 L1501.4,213.4 L1505.8,214.6 L1513.9,219.5 L1519.1,223.4 L1520.8,227.4 L1521.2,228.4 L1521.7,229.2 L1522.3,230.0 L1523.0,230.8 L1523.8,231.5 L1524.6,232.0 L1525.5,232.5 L1533.9,236.7 L1542.2,240.9 L1543.1,241.3 L1544.0,241.6 L1544.9,241.8 L1545.9,242.0 L1546.8,242.0 L1547.8,241.9 L1548.7,241.8 L1549.7,241.6 L1550.6,241.2 L1551.4,240.8 L1552.2,240.3 L1556.0,237.8 L1561.3,237.8 L1562.3,237.8 L1563.2,237.6 L1564.2,237.4 L1565.1,237.0 L1566.0,236.6 L1566.8,236.1 L1572.0,232.7 L1573.9,235.4 L1574.4,236.2 L1575.1,236.9 L1575.8,237.6 L1576.5,238.1 L1577.3,238.6 L1578.2,239.0 L1579.0,239.4 L1585.3,241.5 L1586.3,241.8 L1587.3,241.9 L1588.3,242.0 L1589.3,242.0 L1590.3,241.8 L1591.3,241.6 L1592.3,241.3 L1593.2,240.8 L1594.1,240.3 L1594.9,239.7 L1595.6,239.0 L1596.3,238.3 L1596.9,237.4 L1597.4,236.6 L1597.8,235.6 L1601.9,225.2 L1606.1,214.8 L1606.4,214.0 L1606.6,213.1 L1606.7,212.2 L1606.8,211.3 L1606.8,210.4 L1606.7,209.4 L1604.6,197.1 L1605.0,197.6 L1608.2,203.9 L1610.0,213.1 L1610.3,214.2 L1613.4,223.6 L1613.8,224.6 L1614.2,225.5 L1614.8,226.3 L1615.4,227.1 L1616.1,227.8 L1616.8,228.5 L1617.7,229.0 L1618.5,229.5 L1619.5,229.9 L1620.4,230.2 L1621.4,230.4 L1622.4,230.5 L1623.4,230.5 L1624.4,230.4 L1625.4,230.2 L1626.3,229.9 L1627.3,229.5 L1628.1,229.0 L1633.3,225.8 L1634.2,225.3 L1634.9,224.6 L1635.6,223.9 L1636.2,223.1 L1636.8,222.3 L1637.2,221.4 L1637.6,220.5 L1637.8,219.6 L1638.0,218.6 L1638.1,217.6 L1638.1,216.6 L1638.0,215.6 L1635.9,203.1 L1635.6,202.2 L1635.3,201.2 L1634.9,200.3 L1634.4,199.4 L1633.8,198.6 L1633.2,197.8 L1632.7,197.4 L1633.8,192.2 L1633.9,191.3 L1634.0,190.4 L1634.0,189.5 L1633.9,188.5 L1631.8,176.0 L1631.5,175.0 L1631.2,174.0 L1627.0,163.5 L1627.0,163.5 L1622.8,153.1 L1622.4,152.1 L1621.8,151.3 L1621.2,150.5 L1620.6,149.7 L1612.3,141.4 L1611.5,140.7 L1610.6,140.1 L1609.7,139.6 L1602.7,136.1 L1603.0,135.6 L1603.3,134.7 L1603.5,133.9 L1603.6,133.0 L1604.6,124.6 L1604.7,123.7 L1604.7,122.8 L1604.6,121.8 L1604.4,120.9 L1602.3,112.6 L1602.0,111.7 L1601.6,110.8 L1601.2,110.0 L1600.6,109.1 L1600.0,108.4 L1599.3,107.7 L1598.6,107.1 L1597.8,106.5 L1596.9,106.1 L1596.0,105.7 L1595.1,105.4 L1594.1,105.2 L1593.2,105.1 L1592.2,105.1 L1591.2,105.2 L1590.3,105.4 L1582.0,107.4 L1581.0,107.7 L1580.0,108.0 L1579.2,108.5 L1578.3,109.1 L1577.5,109.7 L1576.8,110.5 L1576.2,111.2 L1575.6,112.1 L1575.2,113.0 L1574.8,113.9 L1572.7,120.2 L1572.4,121.2 L1572.3,122.1 L1572.2,123.1 L1572.2,123.9 L1563.6,119.6 L1562.9,119.3 L1562.1,119.0 L1558.5,118.0 L1558.7,117.5 L1559.1,116.6 L1559.4,115.7 L1559.6,114.8 L1559.8,113.9 L1559.8,113.0 L1559.8,112.1 L1558.8,101.6 L1558.6,100.6 L1558.4,99.6 L1558.0,98.7 L1557.6,97.8 L1557.1,97.0 L1556.5,96.2 L1555.9,95.4 L1555.2,94.8 L1554.4,94.2 L1553.5,93.7 L1552.6,93.3 L1551.7,92.9 L1550.8,92.7 L1549.8,92.5 L1548.8,92.5 L1541.5,92.5 L1540.5,92.5 L1539.5,92.7 L1538.6,92.9 L1537.6,93.3 L1536.7,93.7 L1535.9,94.2 L1535.1,94.8 L1534.4,95.5 L1533.7,96.2 L1533.1,97.0 L1532.6,97.9 L1532.2,98.8 L1531.9,99.7 L1531.7,100.7 L1531.5,101.7 L1531.5,102.7 L1531.6,103.7 L1532.6,112.1 L1532.7,113.0 L1532.9,113.8 L1533.2,114.6 L1537.1,124.2 L1539.0,133.6 L1541.0,146.0 L1541.2,146.8 L1542.6,152.4 L1541.4,152.5 L1534.9,151.7 L1528.9,150.1 L1528.1,149.7 L1527.3,146.4 L1527.1,145.6 L1526.7,144.7 L1526.3,143.9 L1525.8,143.1 L1525.3,142.4 L1524.7,141.7 L1520.8,137.8 L1520.1,137.2 L1519.3,136.6 L1518.5,136.1 L1517.6,135.7 L1516.7,135.4 L1515.8,135.1 L1514.9,135.0 L1513.9,134.9 L1513.0,134.9 L1512.0,135.0 L1511.1,135.2 L1510.2,135.5 L1509.3,135.9 L1505.4,137.8 L1504.6,138.3 L1503.8,138.8 L1503.0,139.4 L1502.4,140.1 L1501.8,140.9 L1501.2,141.7 L1500.8,142.5 L1500.4,143.4 L1500.1,144.3 L1498.1,152.1 L1497.9,153.0 L1497.8,153.9 L1497.8,154.8 L1497.9,155.7 L1498.0,156.6 L1499.9,166.1 L1500.9,173.2 L1498.6,171.0 L1498.2,170.7 L1489.9,164.0 L1489.8,164.0 L1481.5,157.3 L1473.2,150.6 L1472.4,150.0 L1471.5,149.5 L1470.6,149.1 L1469.6,148.8 L1457.9,145.5 L1457.0,145.3 L1444.1,142.9 L1433.0,139.7 L1419.7,135.6 L1418.7,135.3 L1417.7,135.2 L1416.7,135.1 L1415.7,135.2 L1400.6,136.7 L1392.0,135.2 L1390.8,135.1 L1389.6,135.1 L1377.9,135.9 L1376.8,136.1 L1369.8,137.4 L1361.5,136.2 L1355.7,133.7 L1352.7,132.2 L1352.1,131.0 L1350.1,126.9 L1349.6,126.1 L1349.1,125.3 L1348.5,124.5 L1347.8,123.8 L1347.0,123.2 L1346.2,122.7 L1345.3,122.2 L1344.5,121.9 L1343.5,121.6 L1335.1,119.5 L1334.2,119.3 L1333.2,119.2 L1332.2,119.2 L1331.2,119.3 L1330.3,119.5 L1321.9,121.6 L1321.0,121.9 L1320.1,122.2 L1319.3,122.7 L1318.5,123.2 L1317.7,123.8 L1317.0,124.4 L1316.4,125.1 L1315.9,125.9 L1315.5,126.5 L1309.8,127.7 L1299.3,129.8 L1299.3,129.8 L1288.9,131.9 L1278.4,134.0 L1278.4,134.0 L1270.8,135.5 L1267.6,134.3 L1261.4,131.2 L1260.3,130.7 L1259.2,130.4 L1253.7,129.0 L1248.0,126.2 L1246.9,125.7 L1245.8,125.4 L1241.9,124.4 L1240.0,122.5 L1237.4,117.3 L1236.9,116.4 L1236.4,115.6 L1235.7,114.8 L1234.9,114.1 L1234.1,113.5 L1230.1,110.8 L1230.0,110.6 L1229.9,109.7 L1229.7,108.8 L1229.3,107.9 L1228.9,107.0 L1228.4,106.2 L1225.1,101.2 L1224.6,100.4 L1223.9,99.7 L1223.2,99.0 L1218.2,94.8 L1217.4,94.2 L1216.6,93.7 L1215.7,93.3 L1214.8,93.0 L1213.8,92.7 L1212.9,92.6 L1211.9,92.5 L1210.9,92.5 L1209.9,92.7 L1208.9,92.9 L1200.5,95.4 L1199.7,95.7 L1198.9,96.1 L1192.2,99.5 L1191.3,100.0 L1190.4,100.6 L1189.7,101.3 L1189.0,102.1 L1188.3,102.9 L1187.8,103.8 L1186.1,107.1 L1185.7,108.0 L1185.4,108.9 L1185.2,109.8 L1185.0,110.8 Z" fill="#8f716a" fill-rule="evenodd" filter="url(#b4)"/><path d="M1193.0,111.7 L1193.0,116.7 L1193.0,116.9 L1193.0,117.1 L1193.1,117.3 L1193.2,117.5 L1193.2,117.6 L1193.3,117.8 L1193.5,118.0 L1193.6,118.1 L1197.0,121.5 L1197.1,121.6 L1197.3,121.8 L1199.4,123.2 L1199.2,123.3 L1199.0,123.4 L1198.8,123.5 L1198.7,123.7 L1198.5,123.8 L1198.4,124.0 L1198.3,124.2 L1196.6,127.5 L1196.5,127.7 L1196.5,127.8 L1196.4,128.0 L1196.4,128.2 L1196.4,128.4 L1196.4,128.6 L1196.4,128.8 L1196.5,129.0 L1196.5,129.2 L1196.6,129.3 L1196.7,129.5 L1196.8,129.6 L1197.0,129.8 L1200.3,133.2 L1200.4,133.3 L1200.6,133.5 L1200.8,133.6 L1207.2,136.7 L1212.0,141.5 L1212.1,141.6 L1212.3,141.8 L1216.0,144.3 L1214.9,147.9 L1214.8,148.1 L1214.8,148.2 L1214.8,148.4 L1214.8,148.6 L1214.8,148.8 L1214.9,149.0 L1216.5,155.7 L1216.5,155.9 L1216.6,156.0 L1216.7,156.2 L1216.8,156.4 L1216.9,156.5 L1217.0,156.7 L1217.2,156.8 L1217.4,156.9 L1217.5,157.0 L1217.7,157.1 L1217.9,157.1 L1218.1,157.2 L1223.2,158.0 L1223.4,158.0 L1223.6,158.0 L1223.8,158.0 L1224.0,157.9 L1224.2,157.9 L1230.8,155.4 L1231.0,155.3 L1231.1,155.2 L1239.2,150.4 L1246.9,148.8 L1256.6,150.5 L1256.7,150.5 L1256.9,150.5 L1263.1,150.5 L1269.4,153.6 L1269.6,153.7 L1279.7,157.2 L1279.8,157.2 L1290.2,160.3 L1300.3,165.4 L1310.5,172.5 L1316.4,178.3 L1318.2,183.9 L1319.2,192.1 L1319.2,192.1 L1320.2,200.2 L1320.3,200.4 L1320.3,200.6 L1320.4,200.8 L1320.5,201.0 L1320.6,201.2 L1320.7,201.3 L1320.9,201.5 L1321.0,201.6 L1321.2,201.7 L1327.4,205.3 L1327.6,205.4 L1339.2,210.3 L1339.4,210.4 L1339.5,210.4 L1350.7,213.2 L1363.5,218.7 L1372.7,226.1 L1372.7,226.1 L1380.2,231.7 L1380.3,231.8 L1380.5,231.9 L1380.7,232.0 L1388.8,235.2 L1388.8,237.5 L1383.3,237.5 L1383.1,237.5 L1382.9,237.5 L1382.7,237.6 L1382.5,237.7 L1382.4,237.7 L1382.2,237.8 L1382.0,238.0 L1381.9,238.1 L1381.7,238.2 L1381.6,238.4 L1381.5,238.6 L1381.4,238.7 L1381.4,238.9 L1381.3,239.1 L1381.3,239.3 L1381.3,239.5 L1381.3,239.7 L1381.3,239.9 L1381.4,240.1 L1383.2,245.8 L1383.3,246.0 L1383.3,246.2 L1383.4,246.3 L1383.6,246.5 L1383.7,246.6 L1388.6,251.5 L1387.1,259.2 L1381.9,264.5 L1381.8,264.6 L1381.6,264.8 L1377.8,270.4 L1377.7,270.5 L1377.7,270.7 L1377.6,270.9 L1375.8,276.3 L1372.2,281.7 L1372.1,281.9 L1372.0,282.1 L1372.0,282.3 L1371.9,282.5 L1371.9,282.7 L1371.9,282.9 L1371.9,283.1 L1372.0,283.3 L1373.8,290.8 L1373.8,290.9 L1373.9,291.1 L1374.0,291.3 L1374.1,291.5 L1374.2,291.6 L1374.3,291.7 L1374.5,291.9 L1383.9,299.4 L1384.0,299.5 L1384.1,299.6 L1384.3,299.6 L1384.5,299.7 L1395.8,303.5 L1395.8,303.5 L1409.0,307.3 L1418.2,310.9 L1425.6,314.7 L1425.8,314.8 L1426.0,314.8 L1426.2,314.9 L1426.3,314.9 L1426.5,314.9 L1426.7,314.9 L1434.2,314.0 L1434.4,314.0 L1434.6,313.9 L1434.8,313.8 L1435.0,313.7 L1435.2,313.6 L1435.3,313.5 L1435.5,313.3 L1435.6,313.2 L1435.7,313.0 L1439.5,306.4 L1439.6,306.3 L1443.4,298.7 L1443.5,298.5 L1443.5,298.3 L1443.6,298.2 L1443.6,298.0 L1443.6,297.8 L1443.6,290.3 L1443.6,290.1 L1443.6,289.9 L1443.5,289.7 L1443.4,289.5 L1443.4,289.3 L1443.3,289.2 L1443.1,289.0 L1443.0,288.9 L1437.3,283.3 L1437.1,283.1 L1436.9,283.0 L1428.0,277.6 L1424.7,270.8 L1423.0,264.0 L1424.6,255.6 L1429.4,250.9 L1439.2,249.2 L1445.7,253.9 L1449.6,257.9 L1449.7,258.0 L1449.9,258.1 L1450.0,258.3 L1450.2,258.3 L1450.4,258.4 L1450.6,258.5 L1450.8,258.5 L1451.0,258.5 L1451.2,258.5 L1451.4,258.5 L1451.6,258.4 L1451.8,258.4 L1451.9,258.3 L1452.1,258.2 L1452.3,258.1 L1452.4,257.9 L1452.5,257.8 L1452.7,257.6 L1452.8,257.5 L1452.8,257.3 L1452.9,257.1 L1453.0,256.9 L1453.0,256.7 L1453.0,256.5 L1453.0,256.3 L1453.0,256.1 L1452.9,255.9 L1452.8,255.7 L1452.8,255.6 L1452.7,255.4 L1448.9,249.7 L1448.8,249.6 L1443.2,242.1 L1443.1,242.0 L1442.9,241.8 L1442.8,241.7 L1442.6,241.6 L1433.5,236.2 L1426.2,227.1 L1420.7,219.6 L1417.0,212.4 L1413.4,203.1 L1413.3,202.9 L1413.2,202.7 L1413.0,202.5 L1412.9,202.4 L1405.3,194.9 L1405.2,194.7 L1405.0,194.6 L1404.8,194.5 L1394.1,189.1 L1390.8,183.3 L1392.2,178.6 L1392.3,178.4 L1392.3,178.2 L1392.3,178.0 L1392.3,177.8 L1392.3,177.6 L1392.2,177.5 L1392.2,177.3 L1392.1,177.1 L1392.0,176.9 L1391.9,176.8 L1391.8,176.6 L1391.6,176.5 L1391.5,176.4 L1391.3,176.3 L1388.9,174.8 L1390.3,174.5 L1399.7,173.8 L1409.4,177.1 L1409.6,177.2 L1424.7,180.5 L1424.7,180.5 L1441.4,183.8 L1454.2,187.0 L1462.1,194.9 L1468.8,201.6 L1468.9,201.7 L1469.1,201.8 L1469.2,201.9 L1469.4,202.0 L1469.6,202.1 L1479.6,205.5 L1479.7,205.5 L1479.9,205.6 L1480.1,205.6 L1480.3,205.6 L1480.5,205.6 L1493.6,203.9 L1503.2,205.6 L1509.0,207.2 L1518.4,212.9 L1525.7,218.4 L1528.2,224.4 L1528.2,224.6 L1528.3,224.7 L1528.5,224.9 L1528.6,225.0 L1528.8,225.2 L1528.9,225.3 L1529.1,225.4 L1537.5,229.6 L1545.8,233.8 L1546.0,233.9 L1546.2,233.9 L1546.3,234.0 L1546.5,234.0 L1546.7,234.0 L1546.9,234.0 L1547.1,234.0 L1547.3,233.9 L1547.5,233.8 L1547.6,233.8 L1547.8,233.7 L1553.6,229.8 L1561.3,229.8 L1561.5,229.8 L1561.7,229.8 L1561.9,229.7 L1562.1,229.6 L1562.2,229.6 L1562.4,229.5 L1568.7,225.3 L1568.9,225.1 L1569.0,225.0 L1572.0,222.0 L1576.6,225.0 L1580.5,231.0 L1580.6,231.2 L1580.8,231.3 L1580.9,231.4 L1581.1,231.5 L1581.2,231.6 L1581.4,231.7 L1581.6,231.8 L1587.9,233.9 L1588.1,234.0 L1588.3,234.0 L1588.5,234.0 L1588.7,234.0 L1588.9,234.0 L1589.1,233.9 L1589.3,233.9 L1589.4,233.8 L1589.6,233.7 L1589.8,233.5 L1589.9,233.4 L1590.1,233.3 L1590.2,233.1 L1590.3,232.9 L1590.4,232.7 L1594.5,222.2 L1598.7,211.8 L1598.7,211.7 L1598.8,211.5 L1598.8,211.3 L1598.8,211.1 L1598.8,211.0 L1598.8,210.8 L1596.7,198.3 L1596.6,198.1 L1596.6,197.9 L1592.4,187.4 L1592.3,187.2 L1592.2,187.0 L1592.0,186.8 L1591.9,186.7 L1585.7,180.5 L1582.9,177.7 L1585.1,175.5 L1592.1,175.5 L1599.8,179.3 L1605.7,185.3 L1611.8,193.4 L1615.8,201.3 L1617.8,211.5 L1617.9,211.7 L1621.0,221.1 L1621.1,221.3 L1621.2,221.5 L1621.3,221.7 L1621.4,221.8 L1621.5,222.0 L1621.7,222.1 L1621.9,222.2 L1622.0,222.3 L1622.2,222.4 L1622.4,222.4 L1622.6,222.5 L1622.8,222.5 L1623.0,222.5 L1623.2,222.5 L1623.4,222.4 L1623.6,222.4 L1623.8,222.3 L1623.9,222.2 L1629.1,219.0 L1629.3,218.9 L1629.5,218.8 L1629.6,218.6 L1629.7,218.5 L1629.8,218.3 L1629.9,218.1 L1630.0,217.9 L1630.0,217.8 L1630.1,217.6 L1630.1,217.4 L1630.1,217.2 L1630.1,217.0 L1628.0,204.5 L1627.9,204.3 L1627.9,204.1 L1627.8,203.9 L1627.7,203.7 L1627.6,203.6 L1627.4,203.4 L1624.1,200.0 L1626.0,190.6 L1626.0,190.4 L1626.0,190.2 L1626.0,190.1 L1626.0,189.9 L1623.9,177.4 L1623.8,177.2 L1623.8,177.0 L1619.6,166.5 L1619.6,166.5 L1615.4,156.1 L1615.3,155.9 L1615.2,155.7 L1615.0,155.5 L1614.9,155.4 L1606.6,147.1 L1606.5,146.9 L1606.3,146.8 L1606.1,146.7 L1598.0,142.7 L1592.9,137.6 L1595.5,132.7 L1595.6,132.6 L1595.6,132.4 L1595.7,132.2 L1595.7,132.0 L1596.7,123.6 L1596.7,123.5 L1596.7,123.3 L1596.7,123.1 L1596.6,122.9 L1594.5,114.6 L1594.5,114.4 L1594.4,114.2 L1594.3,114.1 L1594.2,113.9 L1594.1,113.8 L1593.9,113.6 L1593.8,113.5 L1593.6,113.4 L1593.5,113.3 L1593.3,113.2 L1593.1,113.2 L1592.9,113.1 L1592.7,113.1 L1592.5,113.1 L1592.3,113.1 L1592.1,113.2 L1583.8,115.2 L1583.6,115.2 L1583.4,115.3 L1583.3,115.4 L1583.1,115.5 L1582.9,115.6 L1582.8,115.8 L1582.7,115.9 L1582.6,116.1 L1582.5,116.3 L1582.4,116.5 L1580.3,122.8 L1580.2,123.0 L1580.2,123.1 L1580.2,123.3 L1580.2,123.5 L1580.2,123.7 L1580.3,123.9 L1580.3,124.1 L1580.4,124.3 L1584.6,132.7 L1588.1,139.7 L1585.8,142.1 L1579.0,140.4 L1571.1,132.4 L1571.0,132.2 L1570.8,132.1 L1570.6,132.0 L1560.1,126.8 L1559.9,126.7 L1559.8,126.7 L1550.4,123.9 L1548.9,119.4 L1551.6,113.9 L1551.7,113.7 L1551.7,113.5 L1551.8,113.4 L1551.8,113.2 L1551.8,113.0 L1551.8,112.8 L1550.8,102.3 L1550.8,102.1 L1550.7,101.9 L1550.6,101.7 L1550.6,101.6 L1550.5,101.4 L1550.3,101.2 L1550.2,101.1 L1550.1,101.0 L1549.9,100.8 L1549.7,100.7 L1549.6,100.7 L1549.4,100.6 L1549.2,100.5 L1549.0,100.5 L1548.8,100.5 L1541.5,100.5 L1541.3,100.5 L1541.1,100.5 L1540.9,100.6 L1540.7,100.7 L1540.5,100.7 L1540.4,100.8 L1540.2,101.0 L1540.1,101.1 L1539.9,101.2 L1539.8,101.4 L1539.7,101.6 L1539.6,101.8 L1539.6,101.9 L1539.5,102.1 L1539.5,102.3 L1539.5,102.5 L1539.5,102.7 L1540.5,111.1 L1540.5,111.3 L1540.6,111.5 L1540.6,111.6 L1544.8,121.9 L1546.8,132.2 L1548.9,144.6 L1549.0,144.8 L1550.9,152.6 L1549.4,160.1 L1541.1,160.5 L1533.4,159.5 L1526.1,157.6 L1521.2,155.2 L1519.5,148.3 L1519.5,148.2 L1519.4,148.0 L1519.3,147.8 L1519.2,147.7 L1519.1,147.5 L1519.0,147.4 L1515.1,143.5 L1515.0,143.4 L1514.8,143.2 L1514.7,143.1 L1514.5,143.1 L1514.3,143.0 L1514.1,142.9 L1513.9,142.9 L1513.7,142.9 L1513.6,142.9 L1513.4,142.9 L1513.2,143.0 L1513.0,143.0 L1512.8,143.1 L1508.9,145.0 L1508.8,145.1 L1508.6,145.2 L1508.4,145.3 L1508.3,145.5 L1508.2,145.6 L1508.1,145.8 L1508.0,145.9 L1507.9,146.1 L1507.9,146.3 L1505.9,154.1 L1505.8,154.3 L1505.8,154.5 L1505.8,154.6 L1505.8,154.8 L1505.8,155.0 L1507.8,164.7 L1509.6,177.7 L1505.9,185.4 L1501.3,184.2 L1493.2,177.0 L1493.2,176.9 L1484.9,170.2 L1484.8,170.2 L1476.5,163.5 L1468.2,156.8 L1468.0,156.7 L1467.8,156.6 L1467.6,156.5 L1467.4,156.5 L1455.7,153.2 L1455.6,153.1 L1442.3,150.7 L1430.7,147.4 L1417.3,143.2 L1417.1,143.1 L1416.9,143.1 L1416.7,143.1 L1416.5,143.1 L1400.4,144.8 L1390.6,143.1 L1390.4,143.1 L1390.2,143.1 L1378.5,143.9 L1378.2,143.9 L1370.0,145.5 L1359.3,144.0 L1352.3,141.0 L1346.7,138.1 L1344.9,134.5 L1342.9,130.4 L1342.8,130.3 L1342.7,130.1 L1342.6,129.9 L1342.4,129.8 L1342.3,129.7 L1342.1,129.6 L1341.9,129.5 L1341.8,129.4 L1341.6,129.4 L1333.2,127.3 L1333.0,127.2 L1332.8,127.2 L1332.6,127.2 L1332.4,127.2 L1332.2,127.3 L1323.8,129.4 L1323.6,129.4 L1323.5,129.5 L1323.3,129.6 L1323.1,129.7 L1323.0,129.8 L1322.8,129.9 L1322.7,130.1 L1322.6,130.2 L1322.5,130.4 L1320.9,133.6 L1311.4,135.5 L1300.9,137.6 L1300.9,137.6 L1290.5,139.7 L1280.0,141.8 L1280.0,141.8 L1270.2,143.8 L1264.4,141.7 L1257.8,138.3 L1257.6,138.2 L1257.4,138.2 L1250.9,136.6 L1244.4,133.3 L1244.2,133.2 L1244.0,133.2 L1237.8,131.7 L1233.4,127.2 L1230.3,120.9 L1230.2,120.7 L1230.1,120.6 L1229.9,120.4 L1229.8,120.3 L1229.6,120.1 L1224.6,116.7 L1224.6,116.7 L1221.0,114.4 L1221.9,112.6 L1222.0,112.4 L1222.0,112.2 L1222.1,112.1 L1222.1,111.9 L1222.1,111.7 L1222.1,111.5 L1222.1,111.3 L1222.0,111.1 L1221.9,110.9 L1221.9,110.8 L1221.8,110.6 L1218.5,105.6 L1218.4,105.4 L1218.2,105.3 L1218.1,105.2 L1213.1,101.0 L1212.9,100.8 L1212.8,100.7 L1212.6,100.7 L1212.4,100.6 L1212.2,100.5 L1212.0,100.5 L1211.8,100.5 L1211.6,100.5 L1211.4,100.5 L1211.2,100.6 L1202.8,103.1 L1202.7,103.1 L1202.5,103.2 L1195.8,106.6 L1195.6,106.7 L1195.4,106.8 L1195.3,107.0 L1195.2,107.1 L1195.0,107.3 L1194.9,107.5 L1193.2,110.8 L1193.1,111.0 L1193.1,111.1 L1193.0,111.3 L1193.0,111.5 Z" fill="#a0847c" fill-rule="evenodd" filter="url(#b2)"/><path d="M1442.8,242.4 L1442.7,242.3 L1442.6,242.2 L1442.5,242.1 L1442.4,242.0 L1433.2,236.5 L1425.8,227.4 L1420.3,219.9 L1416.6,212.6 L1412.9,203.3 L1412.8,203.1 L1412.8,203.0 L1412.7,202.8 L1412.6,202.7 L1405.0,195.2 L1404.8,195.1 L1404.7,195.0 L1404.6,195.0 L1393.8,189.5 L1390.2,183.3 L1391.7,178.4 L1391.8,178.3 L1391.8,178.2 L1391.8,178.0 L1391.8,177.9 L1391.8,177.7 L1391.7,177.6 L1391.7,177.5 L1391.6,177.3 L1391.6,177.2 L1391.5,177.1 L1391.4,177.0 L1391.3,176.9 L1391.2,176.8 L1391.1,176.7 L1387.6,174.6 L1390.2,174.0 L1399.8,173.3 L1409.5,176.6 L1409.7,176.7 L1424.8,180.0 L1424.8,180.0 L1441.5,183.3 L1454.4,186.6 L1462.4,194.6 L1469.1,201.3 L1469.2,201.4 L1469.4,201.4 L1469.5,201.5 L1469.6,201.6 L1469.7,201.6 L1479.7,205.0 L1479.8,205.1 L1480.0,205.1 L1480.1,205.1 L1480.3,205.1 L1480.4,205.1 L1493.6,203.4 L1503.3,205.1 L1509.2,206.8 L1518.7,212.4 L1526.1,218.1 L1528.6,224.2 L1528.7,224.3 L1528.8,224.4 L1528.9,224.6 L1529.0,224.7 L1529.1,224.8 L1529.2,224.9 L1529.3,224.9 L1537.7,229.1 L1546.0,233.3 L1546.2,233.4 L1546.3,233.4 L1546.4,233.5 L1546.6,233.5 L1546.7,233.5 L1546.9,233.5 L1547.0,233.5 L1547.1,233.4 L1547.3,233.4 L1547.4,233.3 L1547.5,233.2 L1553.5,229.3 L1561.3,229.3 L1561.4,229.3 L1561.6,229.3 L1561.7,229.2 L1561.9,229.2 L1562.0,229.1 L1562.1,229.0 L1568.4,224.8 L1568.6,224.8 L1568.7,224.7 L1572.0,221.3 L1576.9,224.7 L1581.0,230.7 L1581.0,230.8 L1581.1,231.0 L1581.2,231.0 L1581.3,231.1 L1581.5,231.2 L1581.6,231.3 L1581.7,231.3 L1588.0,233.4 L1588.2,233.5 L1588.3,233.5 L1588.5,233.5 L1588.6,233.5 L1588.8,233.5 L1588.9,233.4 L1589.1,233.4 L1589.2,233.3 L1589.3,233.2 L1589.5,233.2 L1589.6,233.1 L1589.7,232.9 L1589.8,232.8 L1589.8,232.7 L1589.9,232.5 L1594.0,222.1 L1598.2,211.7 L1598.2,211.5 L1598.3,211.4 L1598.3,211.3 L1598.3,211.1 L1598.3,211.0 L1598.3,210.9 L1596.2,198.4 L1596.1,198.2 L1596.1,198.0 L1591.9,187.5 L1591.8,187.4 L1591.8,187.3 L1591.7,187.2 L1591.6,187.0 L1585.4,180.8 L1582.2,177.7 L1584.9,175.0 L1592.2,175.0 L1600.1,178.9 L1606.1,185.0 L1612.2,193.1 L1616.3,201.1 L1618.3,211.4 L1618.4,211.6 L1621.5,221.0 L1621.5,221.1 L1621.6,221.2 L1621.7,221.4 L1621.8,221.5 L1621.9,221.6 L1622.0,221.7 L1622.1,221.8 L1622.2,221.9 L1622.4,221.9 L1622.5,222.0 L1622.7,222.0 L1622.8,222.0 L1623.0,222.0 L1623.1,222.0 L1623.3,222.0 L1623.4,221.9 L1623.6,221.8 L1623.7,221.8 L1628.9,218.6 L1629.0,218.5 L1629.1,218.4 L1629.2,218.3 L1629.3,218.2 L1629.4,218.1 L1629.5,217.9 L1629.5,217.8 L1629.6,217.6 L1629.6,217.5 L1629.6,217.3 L1629.6,217.2 L1629.6,217.1 L1627.5,204.6 L1627.4,204.4 L1627.4,204.3 L1627.3,204.1 L1627.3,204.0 L1627.2,203.9 L1627.1,203.8 L1623.5,200.1 L1625.5,190.5 L1625.5,190.4 L1625.5,190.2 L1625.5,190.1 L1625.5,190.0 L1623.4,177.5 L1623.3,177.3 L1623.3,177.1 L1619.1,166.6 L1619.1,166.6 L1614.9,156.2 L1614.8,156.1 L1614.8,156.0 L1614.7,155.9 L1614.6,155.7 L1606.3,147.4 L1606.1,147.3 L1606.0,147.2 L1605.9,147.2 L1597.7,143.1 L1592.3,137.7 L1595.0,132.5 L1595.1,132.4 L1595.1,132.2 L1595.2,132.1 L1595.2,132.0 L1596.2,123.6 L1596.2,123.4 L1596.2,123.3 L1596.2,123.2 L1596.2,123.0 L1594.1,114.7 L1594.0,114.6 L1594.0,114.5 L1593.9,114.3 L1593.8,114.2 L1593.7,114.1 L1593.6,114.0 L1593.5,113.9 L1593.4,113.8 L1593.2,113.7 L1593.1,113.7 L1593.0,113.6 L1592.8,113.6 L1592.7,113.6 L1592.5,113.6 L1592.4,113.6 L1592.2,113.6 L1583.9,115.6 L1583.8,115.7 L1583.7,115.7 L1583.5,115.8 L1583.4,115.9 L1583.3,116.0 L1583.2,116.1 L1583.1,116.2 L1583.0,116.3 L1582.9,116.5 L1582.9,116.6 L1580.8,122.9 L1580.7,123.1 L1580.7,123.2 L1580.7,123.4 L1580.7,123.5 L1580.7,123.7 L1580.8,123.8 L1580.8,123.9 L1580.9,124.1 L1585.1,132.5 L1588.7,139.8 L1585.9,142.6 L1578.8,140.8 L1570.8,132.7 L1570.6,132.6 L1570.5,132.5 L1570.4,132.5 L1559.9,127.3 L1559.7,127.2 L1559.6,127.2 L1550.0,124.3 L1548.3,119.3 L1551.1,113.7 L1551.2,113.5 L1551.2,113.4 L1551.3,113.3 L1551.3,113.1 L1551.3,113.0 L1551.3,112.9 L1550.3,102.4 L1550.3,102.2 L1550.2,102.1 L1550.2,101.9 L1550.1,101.8 L1550.0,101.7 L1550.0,101.6 L1549.9,101.4 L1549.8,101.3 L1549.6,101.3 L1549.5,101.2 L1549.4,101.1 L1549.2,101.1 L1549.1,101.0 L1548.9,101.0 L1548.8,101.0 L1541.5,101.0 L1541.4,101.0 L1541.2,101.0 L1541.1,101.1 L1540.9,101.1 L1540.8,101.2 L1540.7,101.3 L1540.5,101.3 L1540.4,101.4 L1540.3,101.6 L1540.2,101.7 L1540.2,101.8 L1540.1,101.9 L1540.1,102.1 L1540.0,102.2 L1540.0,102.4 L1540.0,102.5 L1540.0,102.7 L1541.0,111.1 L1541.0,111.2 L1541.1,111.3 L1541.1,111.5 L1545.3,121.7 L1547.3,132.1 L1549.4,144.5 L1549.4,144.7 L1551.5,152.6 L1549.8,160.6 L1541.1,161.0 L1533.3,160.0 L1525.9,158.1 L1520.8,155.6 L1519.1,148.4 L1519.0,148.3 L1519.0,148.2 L1518.9,148.1 L1518.8,147.9 L1518.8,147.8 L1518.7,147.7 L1514.8,143.8 L1514.7,143.7 L1514.5,143.7 L1514.4,143.6 L1514.3,143.5 L1514.2,143.5 L1514.0,143.4 L1513.9,143.4 L1513.7,143.4 L1513.6,143.4 L1513.4,143.4 L1513.3,143.5 L1513.2,143.5 L1513.0,143.6 L1509.1,145.5 L1509.0,145.5 L1508.9,145.6 L1508.8,145.7 L1508.7,145.8 L1508.6,145.9 L1508.5,146.0 L1508.4,146.2 L1508.4,146.3 L1508.3,146.4 L1506.3,154.2 L1506.3,154.4 L1506.3,154.5 L1506.3,154.6 L1506.3,154.8 L1506.3,154.9 L1508.3,164.7 L1510.2,177.8 L1506.2,185.9 L1501.0,184.6 L1492.9,177.4 L1492.8,177.3 L1484.5,170.6 L1484.5,170.6 L1476.1,163.9 L1467.8,157.2 L1467.7,157.1 L1467.6,157.1 L1467.5,157.0 L1467.3,157.0 L1455.6,153.7 L1455.5,153.6 L1442.1,151.1 L1430.5,147.9 L1417.1,143.7 L1417.0,143.6 L1416.9,143.6 L1416.7,143.6 L1416.5,143.6 L1400.3,145.3 L1390.6,143.6 L1390.4,143.6 L1390.2,143.6 L1378.5,144.4 L1378.3,144.4 L1370.0,146.0 L1359.2,144.4 L1352.1,141.4 L1346.3,138.5 L1344.4,134.7 L1342.4,130.6 L1342.4,130.5 L1342.3,130.4 L1342.2,130.3 L1342.1,130.2 L1342.0,130.1 L1341.9,130.0 L1341.7,129.9 L1341.6,129.9 L1341.5,129.8 L1333.1,127.7 L1332.9,127.7 L1332.8,127.7 L1332.6,127.7 L1332.5,127.7 L1332.3,127.7 L1323.9,129.8 L1323.8,129.9 L1323.7,129.9 L1323.5,130.0 L1323.4,130.1 L1323.3,130.2 L1323.2,130.3 L1323.1,130.4 L1323.0,130.5 L1323.0,130.6 L1321.2,134.1 L1311.5,136.0 L1301.0,138.1 L1301.0,138.1 L1290.6,140.2 L1280.1,142.3 L1280.1,142.3 L1270.1,144.3 L1264.2,142.1 L1257.6,138.8 L1257.4,138.7 L1257.2,138.6 L1250.7,137.1 L1244.2,133.8 L1244.0,133.7 L1243.8,133.6 L1237.6,132.1 L1233.0,127.5 L1229.8,121.1 L1229.8,121.0 L1229.7,120.9 L1229.6,120.8 L1229.5,120.7 L1229.3,120.6 L1224.3,117.2 L1224.3,117.1 L1220.3,114.6 L1221.4,112.4 L1221.5,112.2 L1221.5,112.1 L1221.6,112.0 L1221.6,111.8 L1221.6,111.7 L1221.6,111.5 L1221.6,111.4 L1221.5,111.3 L1221.5,111.1 L1221.4,111.0 L1221.4,110.9 L1218.1,105.9 L1218.0,105.8 L1217.9,105.6 L1217.8,105.6 L1212.8,101.4 L1212.6,101.3 L1212.5,101.2 L1212.4,101.1 L1212.2,101.1 L1212.1,101.0 L1212.0,101.0 L1211.8,101.0 L1211.7,101.0 L1211.5,101.0 L1211.4,101.1 L1203.0,103.6 L1202.8,103.6 L1202.7,103.7 L1196.0,107.1 L1195.9,107.1 L1195.8,107.2 L1195.6,107.3 L1195.5,107.5 L1195.4,107.6 L1195.4,107.7 L1193.7,111.0 L1193.6,111.1 L1193.6,111.3 L1193.5,111.4 L1193.5,111.6 L1193.5,111.7 L1193.5,116.7 L1193.5,116.8 L1193.5,117.0 L1193.6,117.1 L1193.6,117.3 L1193.7,117.4 L1193.8,117.5 L1193.8,117.7 L1193.9,117.8 L1197.3,121.2 L1197.5,121.3 L1197.6,121.4 L1200.4,123.2 L1199.4,123.8 L1199.3,123.8 L1199.2,123.9 L1199.0,124.0 L1198.9,124.2 L1198.8,124.3 L1198.8,124.4 L1197.1,127.7 L1197.0,127.8 L1197.0,128.0 L1196.9,128.1 L1196.9,128.3 L1196.9,128.4 L1196.9,128.5 L1196.9,128.7 L1197.0,128.8 L1197.0,129.0 L1197.1,129.1 L1197.1,129.2 L1197.2,129.3 L1197.3,129.4 L1200.6,132.8 L1200.7,133.0 L1200.9,133.1 L1201.0,133.1 L1207.5,136.3 L1212.3,141.2 L1212.4,141.3 L1212.6,141.3 L1216.6,144.1 L1215.4,148.0 L1215.3,148.2 L1215.3,148.3 L1215.3,148.4 L1215.3,148.6 L1215.3,148.7 L1215.3,148.8 L1216.9,155.5 L1217.0,155.7 L1217.0,155.8 L1217.1,156.0 L1217.2,156.1 L1217.3,156.2 L1217.4,156.3 L1217.5,156.4 L1217.6,156.5 L1217.7,156.6 L1217.9,156.6 L1218.0,156.7 L1218.2,156.7 L1223.3,157.5 L1223.4,157.5 L1223.6,157.5 L1223.7,157.5 L1223.9,157.5 L1224.0,157.4 L1230.6,154.9 L1230.8,154.9 L1230.9,154.8 L1239.0,149.9 L1246.9,148.3 L1256.6,150.0 L1256.8,150.0 L1256.9,150.0 L1263.3,150.0 L1269.6,153.1 L1269.8,153.2 L1279.9,156.7 L1280.0,156.7 L1290.3,159.8 L1300.5,165.0 L1310.8,172.2 L1316.8,178.0 L1318.7,183.8 L1319.7,192.1 L1319.7,192.1 L1320.7,200.2 L1320.7,200.3 L1320.8,200.5 L1320.8,200.6 L1320.9,200.8 L1321.0,200.9 L1321.1,201.0 L1321.2,201.1 L1321.3,201.2 L1321.4,201.3 L1327.6,204.9 L1327.8,205.0 L1339.4,209.9 L1339.5,209.9 L1339.6,210.0 L1350.8,212.7 L1363.7,218.3 L1373.0,225.7 L1373.0,225.7 L1380.5,231.3 L1380.6,231.4 L1380.7,231.4 L1380.8,231.5 L1389.3,234.9 L1389.3,238.0 L1383.3,238.0 L1383.2,238.0 L1383.0,238.0 L1382.9,238.1 L1382.7,238.1 L1382.6,238.2 L1382.5,238.3 L1382.3,238.3 L1382.2,238.4 L1382.1,238.6 L1382.0,238.7 L1382.0,238.8 L1381.9,238.9 L1381.9,239.1 L1381.8,239.2 L1381.8,239.4 L1381.8,239.5 L1381.8,239.7 L1381.8,239.8 L1381.9,240.0 L1383.6,245.5 L1383.7,245.6 L1383.7,245.7 L1383.8,245.8 L1383.9,246.0 L1384.0,246.1 L1384.1,246.2 L1384.2,246.3 L1384.3,246.3 L1384.5,246.4 L1384.6,246.4 L1384.7,246.5 L1384.9,246.5 L1385.0,246.5 L1442.9,246.5 L1443.0,246.5 L1443.2,246.5 L1443.3,246.4 L1443.4,246.4 L1443.6,246.3 L1443.7,246.3 L1443.8,246.2 L1443.9,246.1 L1444.0,246.0 L1444.1,245.9 L1444.2,245.7 L1444.2,245.6 L1444.3,245.5 L1444.3,245.3 L1444.4,245.2 L1444.4,245.0 L1444.4,244.9 L1444.4,244.8 L1444.3,244.6 L1444.3,244.5 L1444.2,244.3 L1444.2,244.2 L1444.1,244.1 Z" fill="#bda576" fill-rule="evenodd" filter="url(#b2)"/><path d="M1556.7,171.3 L1556.9,172.0 L1557.2,172.6 L1557.6,173.2 L1561.8,179.5 L1562.2,180.0 L1562.7,180.6 L1563.2,181.0 L1563.8,181.5 L1564.4,181.8 L1565.0,182.1 L1565.7,182.3 L1566.4,182.5 L1567.1,182.6 L1567.8,182.6 L1568.5,182.5 L1569.2,182.4 L1569.8,182.2 L1576.0,180.1 L1576.7,179.9 L1577.2,179.6 L1577.8,179.2 L1578.3,178.8 L1578.8,178.4 L1579.2,177.9 L1579.6,177.4 L1583.8,171.1 L1584.2,170.5 L1584.5,169.9 L1584.6,169.6 L1588.3,174.5 L1592.4,174.5 L1600.4,178.5 L1606.4,184.7 L1612.6,192.8 L1616.7,200.9 L1616.8,201.3 L1617.0,201.3 L1617.6,201.1 L1618.3,200.9 L1618.9,200.6 L1619.5,200.2 L1620.0,199.8 L1620.5,199.3 L1623.8,196.1 L1625.0,190.4 L1625.0,190.3 L1625.0,190.2 L1625.0,190.1 L1625.0,190.0 L1622.9,177.5 L1622.9,177.4 L1622.8,177.3 L1621.2,173.2 L1619.8,170.4 L1619.4,169.8 L1619.1,169.3 L1612.8,161.0 L1612.2,160.3 L1606.5,154.5 L1602.6,148.7 L1602.2,148.2 L1601.8,147.7 L1601.3,147.2 L1600.8,146.8 L1600.2,146.5 L1599.6,146.2 L1599.0,146.0 L1592.7,143.9 L1592.1,143.7 L1591.5,143.6 L1590.8,143.5 L1590.2,143.5 L1589.5,143.6 L1588.9,143.7 L1588.3,143.9 L1582.1,146.0 L1581.6,146.2 L1579.3,141.5 L1578.5,141.3 L1570.4,133.1 L1570.3,133.0 L1570.2,133.0 L1570.1,132.9 L1559.6,127.7 L1559.6,127.7 L1559.5,127.6 L1549.8,124.8 L1548.7,125.2 L1548.0,125.4 L1547.4,125.7 L1546.8,126.1 L1546.7,126.2 L1547.8,132.0 L1549.9,144.5 L1549.9,144.5 L1552.0,152.6 L1551.7,153.9 L1554.6,160.9 L1556.5,170.7 ZM1297.9,163.1 L1300.8,164.6 L1311.2,171.8 L1317.2,177.7 L1317.6,179.0 L1319.9,180.9 L1320.6,185.6 L1320.7,186.4 L1320.9,187.1 L1321.2,187.7 L1321.6,188.4 L1322.1,189.0 L1322.6,189.5 L1324.5,191.5 L1326.1,196.2 L1326.3,196.8 L1326.6,197.5 L1327.0,198.0 L1327.4,198.6 L1327.9,199.1 L1328.4,199.5 L1328.9,199.9 L1329.5,200.2 L1330.1,200.5 L1330.8,200.7 L1331.5,200.9 L1332.1,201.0 L1332.8,201.0 L1333.5,201.0 L1334.2,200.8 L1334.8,200.7 L1335.5,200.4 L1336.1,200.1 L1336.7,199.8 L1337.2,199.4 L1337.7,198.9 L1338.2,198.4 L1338.6,197.8 L1339.6,196.2 L1344.2,194.0 L1344.7,193.7 L1345.3,193.3 L1345.8,192.9 L1346.2,192.5 L1346.6,192.0 L1347.0,191.5 L1349.0,188.4 L1349.3,187.8 L1349.6,187.2 L1349.8,186.6 L1350.0,185.9 L1350.1,185.3 L1350.1,184.6 L1350.1,181.7 L1351.8,179.5 L1352.2,178.9 L1352.6,178.3 L1352.9,177.6 L1353.1,177.0 L1353.2,176.3 L1353.3,175.5 L1353.3,174.8 L1353.2,174.1 L1353.1,173.4 L1352.8,172.7 L1352.6,172.1 L1351.5,169.9 L1351.6,169.3 L1357.3,170.5 L1358.1,170.7 L1358.9,170.7 L1373.3,170.5 L1389.4,172.1 L1395.4,173.1 L1399.9,172.8 L1404.1,174.3 L1415.3,175.4 L1431.4,180.2 L1432.0,180.4 L1447.8,183.5 L1451.4,185.3 L1454.7,186.1 L1456.3,187.7 L1459.1,189.1 L1466.3,197.7 L1467.6,199.0 L1468.2,199.5 L1472.3,202.0 L1479.9,204.5 L1480.0,204.6 L1480.1,204.6 L1480.1,204.6 L1480.2,204.6 L1480.3,204.6 L1493.6,202.9 L1503.4,204.6 L1509.4,206.3 L1518.9,212.0 L1526.1,217.4 L1534.2,222.4 L1539.3,229.1 L1539.7,229.6 L1544.2,231.9 L1544.6,231.9 L1545.3,231.9 L1546.0,231.8 L1546.6,231.7 L1550.4,230.7 L1553.3,228.8 L1556.8,228.8 L1565.0,225.5 L1565.6,225.2 L1566.2,224.9 L1566.8,224.4 L1567.3,224.0 L1567.8,223.5 L1568.2,222.9 L1571.0,218.7 L1571.3,219.0 L1578.3,223.3 L1579.0,223.6 L1579.6,223.9 L1580.3,224.1 L1581.0,224.2 L1581.7,224.3 L1582.4,224.3 L1583.1,224.2 L1591.1,222.9 L1591.8,222.8 L1592.5,222.6 L1593.1,222.3 L1593.4,222.1 L1593.5,221.9 L1597.7,211.5 L1597.8,211.4 L1597.8,211.3 L1597.8,211.2 L1597.8,211.1 L1597.8,211.0 L1597.8,210.9 L1595.7,198.4 L1595.7,198.3 L1595.6,198.2 L1591.6,188.1 L1591.3,187.8 L1590.9,187.3 L1590.4,186.8 L1589.8,186.4 L1589.3,186.1 L1588.7,185.8 L1588.0,185.6 L1587.4,185.4 L1586.7,185.3 L1586.1,185.3 L1585.4,185.3 L1584.7,185.4 L1584.1,185.6 L1578.1,187.3 L1577.4,187.5 L1576.7,187.8 L1576.1,188.2 L1575.5,188.6 L1575.0,189.1 L1574.5,189.6 L1574.1,190.2 L1567.5,200.6 L1567.1,200.2 L1566.6,199.8 L1558.8,193.9 L1558.8,193.9 L1552.3,189.1 L1549.5,183.5 L1547.8,176.4 L1547.6,175.7 L1547.4,175.1 L1547.1,174.6 L1546.7,174.0 L1546.3,173.5 L1545.9,173.0 L1540.0,167.2 L1539.5,166.8 L1539.0,166.4 L1538.4,166.0 L1537.8,165.7 L1537.2,165.5 L1536.5,165.3 L1528.1,163.6 L1525.7,162.0 L1524.7,158.0 L1520.4,155.9 L1518.9,149.9 L1518.6,149.7 L1518.1,149.2 L1517.6,148.8 L1517.0,148.4 L1516.3,148.1 L1515.7,147.9 L1515.0,147.7 L1514.3,147.6 L1513.6,147.6 L1512.9,147.6 L1512.2,147.8 L1511.6,147.9 L1510.9,148.2 L1510.3,148.5 L1509.7,148.9 L1509.1,149.3 L1508.6,149.8 L1508.2,150.3 L1507.8,150.9 L1507.7,151.0 L1506.8,154.4 L1506.8,154.4 L1506.8,154.5 L1506.8,154.6 L1506.8,154.7 L1506.8,154.8 L1508.8,164.6 L1510.7,177.8 L1506.5,186.5 L1500.8,185.1 L1492.6,177.8 L1492.5,177.7 L1484.2,171.0 L1484.2,171.0 L1475.8,164.3 L1467.5,157.6 L1467.4,157.6 L1467.4,157.5 L1467.3,157.5 L1467.2,157.4 L1455.5,154.1 L1455.4,154.1 L1453.7,153.8 L1443.1,155.6 L1434.2,155.0 L1430.0,148.2 L1417.0,144.1 L1416.9,144.1 L1416.8,144.1 L1416.7,144.1 L1416.6,144.1 L1400.3,145.8 L1390.5,144.1 L1390.4,144.1 L1390.2,144.1 L1378.5,144.9 L1378.4,144.9 L1370.0,146.5 L1359.1,144.9 L1357.4,144.2 L1351.3,144.9 L1349.1,143.3 L1348.5,142.9 L1347.9,142.6 L1347.2,142.4 L1346.5,142.2 L1345.8,142.0 L1345.4,142.0 L1345.3,141.8 L1343.3,137.8 L1341.3,132.8 L1341.0,132.2 L1340.7,131.6 L1340.3,131.0 L1339.8,130.5 L1339.3,130.0 L1338.9,129.7 L1333.9,128.5 L1333.4,128.5 L1332.8,128.7 L1332.1,128.9 L1331.5,129.2 L1330.9,129.6 L1330.3,130.0 L1329.8,130.5 L1329.4,131.0 L1328.9,131.6 L1328.3,132.6 L1323.5,134.0 L1322.9,134.2 L1322.3,134.4 L1321.8,134.7 L1316.6,137.8 L1316.1,138.1 L1315.7,138.5 L1315.3,138.9 L1309.0,145.2 L1308.5,145.7 L1308.1,146.2 L1307.7,146.8 L1307.4,147.4 L1307.2,148.1 L1307.1,148.3 L1307.0,148.3 L1307.0,145.0 L1307.0,144.3 L1306.9,143.7 L1306.7,143.0 L1306.5,142.4 L1306.2,141.8 L1305.9,141.2 L1305.5,140.7 L1305.0,140.2 L1304.6,139.7 L1304.0,139.3 L1303.5,138.9 L1302.9,138.6 L1302.3,138.4 L1301.1,138.6 L1301.1,138.6 L1290.7,140.7 L1280.2,142.8 L1280.2,142.8 L1270.1,144.9 L1264.0,142.6 L1257.4,139.2 L1257.2,139.2 L1257.1,139.1 L1250.5,137.6 L1244.0,134.2 L1243.8,134.2 L1243.7,134.1 L1237.3,132.6 L1232.6,127.8 L1229.4,121.4 L1229.3,121.3 L1229.3,121.2 L1229.2,121.1 L1229.1,121.0 L1229.1,121.0 L1224.1,117.6 L1224.0,117.6 L1219.7,114.7 L1221.0,112.1 L1221.0,112.1 L1221.1,112.0 L1221.1,111.9 L1221.1,111.8 L1221.1,111.7 L1221.1,111.6 L1221.1,111.5 L1221.1,111.4 L1221.0,111.3 L1221.0,111.2 L1220.9,111.1 L1217.6,106.1 L1217.6,106.1 L1217.5,106.0 L1217.4,105.9 L1212.4,101.7 L1212.4,101.7 L1212.3,101.6 L1212.2,101.6 L1212.1,101.5 L1212.0,101.5 L1211.9,101.5 L1211.8,101.5 L1211.7,101.5 L1211.6,101.5 L1211.5,101.5 L1203.1,104.0 L1203.0,104.1 L1202.9,104.1 L1196.2,107.5 L1196.2,107.6 L1196.1,107.6 L1196.0,107.7 L1195.9,107.8 L1195.9,107.9 L1195.8,107.9 L1194.1,111.2 L1194.1,111.3 L1194.0,111.4 L1194.0,111.5 L1194.0,111.6 L1194.0,111.7 L1194.0,116.7 L1194.0,116.8 L1194.0,116.9 L1194.0,117.0 L1194.1,117.1 L1194.1,117.2 L1194.2,117.3 L1194.2,117.3 L1194.3,117.4 L1197.7,120.8 L1197.8,120.9 L1197.8,120.9 L1201.4,123.3 L1199.6,124.2 L1199.6,124.3 L1199.5,124.3 L1199.4,124.4 L1199.3,124.5 L1199.3,124.6 L1199.2,124.6 L1197.5,127.9 L1197.5,128.0 L1197.4,128.1 L1197.4,128.2 L1197.4,128.3 L1197.4,128.4 L1197.4,128.5 L1197.4,128.6 L1197.4,128.7 L1197.5,128.8 L1197.5,128.9 L1197.6,128.9 L1197.6,129.0 L1197.7,129.1 L1201.0,132.5 L1201.1,132.6 L1201.2,132.6 L1201.3,132.7 L1207.8,135.9 L1212.7,140.8 L1212.8,140.9 L1212.8,140.9 L1217.2,143.9 L1215.8,148.2 L1215.8,148.3 L1215.8,148.4 L1215.8,148.5 L1215.8,148.6 L1215.8,148.6 L1215.8,148.7 L1217.4,155.4 L1217.5,155.5 L1217.5,155.6 L1217.5,155.7 L1217.6,155.8 L1217.7,155.9 L1217.7,155.9 L1217.8,156.0 L1217.9,156.1 L1218.0,156.1 L1218.1,156.1 L1218.1,156.2 L1218.2,156.2 L1223.3,157.0 L1223.4,157.0 L1223.6,157.0 L1223.7,157.0 L1223.8,157.0 L1223.9,156.9 L1230.5,154.4 L1230.5,154.4 L1230.6,154.4 L1238.9,149.4 L1246.9,147.8 L1256.7,149.5 L1256.8,149.5 L1256.9,149.5 L1263.4,149.5 L1269.9,152.7 L1270.0,152.7 L1280.1,156.2 L1280.1,156.3 L1290.5,159.3 L1297.5,162.9 L1297.7,162.9 ZM1389.6,232.2 L1389.5,232.9 L1389.4,233.6 L1389.4,234.3 L1389.4,234.4 L1389.8,234.6 L1389.8,236.2 L1389.9,236.4 L1390.2,237.1 L1390.6,238.0 L1429.2,238.0 L1427.7,232.2 L1427.5,231.6 L1427.3,231.0 L1427.0,230.4 L1426.6,229.9 L1426.2,229.4 L1425.8,228.9 L1421.0,224.2 L1417.8,217.6 L1417.4,216.9 L1416.9,216.3 L1416.4,215.7 L1411.9,211.3 L1410.5,207.3 L1410.3,206.7 L1410.1,206.2 L1409.8,205.7 L1406.1,200.0 L1405.7,199.4 L1405.2,198.9 L1404.7,198.4 L1404.1,198.0 L1403.5,197.6 L1402.8,197.3 L1402.2,197.1 L1401.5,196.9 L1400.8,196.8 L1392.6,196.2 L1388.9,191.1 L1388.5,190.6 L1388.0,190.1 L1387.5,189.7 L1386.9,189.3 L1386.3,189.0 L1385.7,188.7 L1378.1,185.9 L1377.5,185.7 L1376.8,185.6 L1376.2,185.5 L1375.5,185.5 L1374.8,185.6 L1374.2,185.7 L1357.3,189.5 L1356.8,189.6 L1347.4,192.4 L1346.7,192.6 L1346.1,192.9 L1345.5,193.3 L1345.0,193.7 L1344.5,194.1 L1344.0,194.7 L1343.6,195.2 L1343.2,195.8 L1342.9,196.4 L1342.7,197.1 L1342.5,197.7 L1342.4,198.4 L1342.4,199.1 L1342.4,199.8 L1342.5,200.5 L1342.7,201.2 L1342.9,201.8 L1343.2,202.4 L1343.6,203.0 L1345.5,205.8 L1345.9,206.4 L1346.4,206.9 L1346.9,207.3 L1347.5,207.8 L1348.1,208.1 L1348.7,208.4 L1357.8,212.1 L1363.3,214.8 L1366.1,219.6 L1373.3,225.3 L1373.3,225.3 L1379.1,229.6 L1390.3,229.6 Z" fill="#cdb77c" fill-rule="evenodd" filter="url(#b2)"/><path d="M1617.7,196.5 L1621.9,192.3 L1622.1,192.2 L1622.5,190.2 L1621.7,185.3 L1620.6,181.2 L1620.5,180.9 L1620.4,180.6 L1616.2,172.2 L1616.0,171.9 L1615.9,171.7 L1609.6,163.4 L1609.3,163.1 L1603.3,157.0 L1599.3,150.9 L1599.1,150.7 L1598.9,150.5 L1598.7,150.3 L1598.5,150.1 L1598.3,150.0 L1598.0,149.9 L1597.7,149.8 L1591.4,147.7 L1591.2,147.6 L1590.9,147.5 L1590.6,147.5 L1590.4,147.5 L1590.1,147.5 L1589.8,147.6 L1589.5,147.7 L1583.3,149.8 L1583.1,149.9 L1582.8,150.0 L1582.6,150.1 L1582.3,150.3 L1582.1,150.5 L1581.9,150.7 L1581.8,151.0 L1581.6,151.2 L1581.5,151.5 L1581.4,151.8 L1581.4,152.0 L1581.3,152.3 L1581.3,152.6 L1581.3,158.9 L1581.3,159.2 L1581.4,159.5 L1581.4,159.8 L1581.5,160.0 L1581.7,160.3 L1581.8,160.6 L1582.0,160.8 L1582.2,161.0 L1586.2,165.1 L1591.4,172.0 L1592.6,172.0 L1592.7,172.0 L1592.9,172.0 L1593.0,172.1 L1593.1,172.1 L1593.3,172.2 L1601.7,176.4 L1601.8,176.4 L1601.9,176.5 L1602.1,176.6 L1608.3,182.9 L1608.4,183.1 L1614.7,191.4 L1614.8,191.5 L1614.8,191.6 L1617.4,196.8 L1617.5,196.7 ZM1591.1,218.8 L1591.3,218.7 L1591.6,218.5 L1591.8,218.4 L1592.1,218.2 L1592.3,218.0 L1592.5,217.7 L1592.6,217.5 L1593.0,216.6 L1595.1,210.0 L1593.2,199.0 L1591.8,195.3 L1588.5,190.6 L1588.3,190.4 L1588.1,190.1 L1587.9,190.0 L1587.6,189.8 L1587.4,189.6 L1587.1,189.5 L1586.9,189.4 L1586.6,189.4 L1586.3,189.3 L1586.0,189.3 L1585.7,189.3 L1585.5,189.3 L1585.2,189.4 L1579.2,191.1 L1578.9,191.2 L1578.6,191.3 L1578.3,191.5 L1578.1,191.7 L1577.9,191.9 L1577.6,192.1 L1577.5,192.4 L1570.5,203.4 L1570.3,203.7 L1570.2,203.9 L1570.1,204.2 L1570.0,204.5 L1570.0,204.8 L1570.0,205.1 L1570.0,205.4 L1570.1,205.7 L1572.1,213.7 L1572.2,214.0 L1572.3,214.3 L1572.4,214.5 L1572.6,214.8 L1572.8,215.0 L1573.0,215.2 L1573.2,215.4 L1573.4,215.6 L1580.4,219.9 L1580.7,220.0 L1581.0,220.1 L1581.3,220.2 L1581.6,220.3 L1581.9,220.3 L1582.2,220.3 L1582.5,220.3 L1590.5,219.0 L1590.8,218.9 ZM1560.5,170.2 L1560.6,170.5 L1560.8,170.7 L1560.9,171.0 L1565.1,177.3 L1565.3,177.5 L1565.5,177.7 L1565.7,177.9 L1566.0,178.1 L1566.2,178.3 L1566.5,178.4 L1566.8,178.5 L1567.1,178.6 L1567.4,178.6 L1567.7,178.6 L1568.0,178.6 L1568.3,178.5 L1568.6,178.4 L1574.8,176.3 L1575.0,176.2 L1575.3,176.1 L1575.5,176.0 L1575.7,175.8 L1575.9,175.6 L1576.1,175.4 L1576.3,175.2 L1580.5,168.9 L1580.6,168.6 L1580.8,168.3 L1580.9,168.1 L1580.9,167.8 L1581.0,167.5 L1581.0,167.2 L1581.0,158.9 L1581.0,158.5 L1580.9,158.2 L1578.8,149.8 L1578.7,149.5 L1578.6,149.2 L1574.5,140.9 L1574.4,140.7 L1568.8,135.0 L1558.6,130.0 L1552.4,128.1 L1549.9,129.0 L1549.8,129.0 L1550.3,131.5 L1550.3,131.6 L1552.4,144.0 L1553.2,147.4 L1554.4,149.7 L1558.4,159.8 L1560.5,169.9 ZM1299.9,159.0 L1300.0,159.2 L1302.7,162.8 L1312.7,169.8 L1312.8,169.8 L1312.9,169.9 L1314.4,171.4 L1318.3,174.4 L1323.6,178.8 L1324.5,185.0 L1324.6,185.4 L1324.7,185.7 L1324.8,185.9 L1325.0,186.2 L1325.2,186.5 L1325.4,186.7 L1328.0,189.3 L1329.9,194.9 L1330.0,195.2 L1330.1,195.5 L1330.2,195.7 L1330.4,196.0 L1330.6,196.2 L1330.8,196.4 L1331.1,196.5 L1331.3,196.7 L1331.6,196.8 L1331.9,196.9 L1332.2,197.0 L1332.5,197.0 L1332.7,197.0 L1333.0,197.0 L1333.3,196.9 L1333.6,196.9 L1333.9,196.8 L1334.1,196.6 L1334.4,196.5 L1334.6,196.3 L1334.8,196.1 L1335.0,195.9 L1335.2,195.6 L1336.9,193.1 L1342.4,190.4 L1342.7,190.3 L1342.9,190.1 L1343.1,189.9 L1343.3,189.8 L1343.5,189.5 L1343.6,189.3 L1345.6,186.2 L1345.8,186.0 L1345.9,185.7 L1346.0,185.4 L1346.0,185.2 L1346.1,184.9 L1346.1,184.6 L1346.1,180.3 L1348.7,177.0 L1348.8,176.8 L1349.0,176.5 L1349.1,176.2 L1349.2,176.0 L1349.3,175.7 L1349.3,175.3 L1349.3,175.0 L1349.3,174.7 L1349.2,174.4 L1349.1,174.1 L1349.0,173.9 L1347.3,170.5 L1348.2,165.2 L1348.2,164.9 L1348.2,164.6 L1348.2,164.4 L1348.2,164.3 L1348.2,164.4 L1348.5,164.5 L1348.7,164.5 L1358.1,166.6 L1358.5,166.7 L1358.8,166.7 L1373.5,166.5 L1389.9,168.2 L1399.5,169.8 L1399.7,169.8 L1416.1,171.5 L1432.5,176.4 L1432.8,176.4 L1449.1,179.7 L1461.6,185.9 L1469.6,195.4 L1469.8,195.7 L1470.1,195.9 L1470.3,196.1 L1478.6,201.2 L1478.9,201.3 L1479.2,201.4 L1479.4,201.5 L1479.7,201.6 L1480.0,201.6 L1480.3,201.6 L1480.6,201.6 L1493.6,199.9 L1501.3,200.9 L1507.4,203.2 L1510.2,204.0 L1510.3,204.0 L1510.5,204.1 L1510.6,204.1 L1512.4,205.2 L1518.1,208.0 L1527.8,213.8 L1537.0,219.4 L1542.5,226.7 L1542.7,226.9 L1542.9,227.1 L1543.1,227.3 L1543.4,227.5 L1543.6,227.6 L1543.9,227.7 L1544.2,227.8 L1544.5,227.9 L1544.8,227.9 L1545.1,227.9 L1545.4,227.9 L1545.6,227.8 L1553.4,225.8 L1553.8,225.7 L1563.5,221.8 L1563.8,221.7 L1564.0,221.5 L1564.3,221.3 L1564.5,221.1 L1564.7,220.9 L1564.9,220.7 L1568.8,214.9 L1568.9,214.6 L1569.1,214.4 L1569.2,214.1 L1569.2,213.8 L1569.3,213.5 L1569.3,213.2 L1569.3,213.0 L1569.3,212.7 L1569.2,212.4 L1569.1,212.1 L1569.0,211.9 L1565.1,204.1 L1564.9,203.8 L1564.8,203.6 L1564.6,203.4 L1564.4,203.2 L1564.2,203.0 L1556.4,197.1 L1556.4,197.1 L1549.2,191.7 L1545.7,184.9 L1543.9,177.3 L1543.8,177.0 L1543.7,176.8 L1543.6,176.5 L1543.5,176.3 L1543.3,176.1 L1543.1,175.9 L1537.2,170.1 L1537.0,169.9 L1536.8,169.7 L1536.5,169.6 L1536.3,169.4 L1536.0,169.3 L1535.7,169.3 L1526.6,167.4 L1522.1,164.4 L1520.8,158.9 L1518.8,157.9 L1518.7,157.9 L1518.6,157.8 L1518.5,157.7 L1518.4,157.6 L1518.3,157.5 L1518.2,157.4 L1518.1,157.2 L1518.1,157.1 L1518.0,157.0 L1517.3,154.0 L1515.8,152.5 L1515.6,152.3 L1515.4,152.1 L1515.1,151.9 L1514.8,151.8 L1514.6,151.7 L1514.3,151.7 L1514.0,151.6 L1513.7,151.6 L1513.4,151.6 L1513.1,151.7 L1512.8,151.7 L1512.5,151.8 L1512.2,152.0 L1512.0,152.1 L1511.7,152.3 L1511.5,152.5 L1511.3,152.8 L1511.2,153.0 L1511.0,153.3 L1509.6,156.0 L1511.3,164.1 L1511.3,164.2 L1513.2,177.8 L1513.2,177.9 L1513.2,178.1 L1513.2,178.2 L1513.2,178.4 L1513.1,178.5 L1513.0,178.7 L1508.3,188.4 L1508.3,188.5 L1508.2,188.6 L1508.1,188.7 L1508.0,188.8 L1507.9,188.9 L1507.8,189.0 L1507.6,189.1 L1507.5,189.1 L1507.4,189.2 L1507.2,189.2 L1507.1,189.2 L1506.9,189.2 L1506.8,189.2 L1506.6,189.2 L1499.9,187.5 L1499.8,187.4 L1499.7,187.4 L1499.5,187.3 L1499.4,187.2 L1499.3,187.1 L1492.2,180.8 L1482.2,174.5 L1477.0,168.5 L1474.3,166.3 L1474.3,166.3 L1467.2,160.5 L1463.7,159.0 L1457.3,157.3 L1443.3,159.6 L1431.8,158.9 L1426.1,149.6 L1418.1,147.1 L1415.4,146.7 L1400.5,148.3 L1400.3,148.3 L1400.2,148.3 L1400.0,148.3 L1390.2,146.6 L1378.8,147.4 L1370.3,149.0 L1370.1,149.0 L1370.0,149.0 L1369.8,149.0 L1361.7,147.8 L1358.5,148.1 L1358.5,148.1 L1350.2,149.1 L1346.8,146.6 L1346.5,146.4 L1346.2,146.3 L1345.9,146.2 L1345.6,146.1 L1345.3,146.0 L1345.0,146.0 L1344.7,146.0 L1344.4,146.1 L1341.5,146.6 L1341.7,146.3 L1341.8,146.0 L1341.9,145.7 L1341.9,145.5 L1342.0,145.2 L1342.0,144.9 L1342.0,144.6 L1342.0,144.4 L1341.9,144.1 L1341.8,143.8 L1341.7,143.6 L1339.6,139.5 L1337.6,134.3 L1337.5,134.0 L1337.3,133.8 L1337.1,133.5 L1336.9,133.3 L1336.7,133.1 L1336.5,132.9 L1336.2,132.8 L1336.0,132.6 L1335.7,132.5 L1335.4,132.5 L1335.1,132.4 L1334.8,132.4 L1334.5,132.4 L1334.2,132.5 L1333.9,132.5 L1333.6,132.6 L1333.4,132.8 L1333.1,132.9 L1332.9,133.1 L1332.7,133.3 L1332.5,133.5 L1332.3,133.8 L1330.8,136.0 L1324.6,137.8 L1324.3,137.9 L1324.1,138.0 L1323.9,138.1 L1318.7,141.2 L1318.5,141.4 L1318.3,141.5 L1318.1,141.7 L1311.8,148.0 L1311.6,148.2 L1311.4,148.4 L1311.3,148.7 L1311.1,149.0 L1311.0,149.2 L1311.0,149.5 L1310.9,149.8 L1310.9,150.1 L1310.9,150.4 L1311.0,150.7 L1311.0,151.0 L1311.1,151.2 L1311.3,151.5 L1311.4,151.8 L1311.6,152.0 L1311.8,152.2 L1311.4,152.3 L1304.5,152.3 L1304.2,152.3 L1303.9,152.4 L1303.6,152.4 L1303.4,152.5 L1303.1,152.7 L1303.0,152.7 L1303.0,145.0 L1303.0,144.7 L1302.9,144.4 L1302.9,144.2 L1302.8,143.9 L1302.7,143.6 L1302.5,143.4 L1302.4,143.1 L1302.2,142.9 L1302.0,142.7 L1301.7,142.5 L1301.5,142.4 L1301.2,142.3 L1301.0,142.2 L1300.7,142.1 L1300.4,142.0 L1300.1,142.0 L1299.8,142.0 L1295.9,142.2 L1291.2,143.2 L1291.2,143.2 L1280.7,145.3 L1270.3,147.4 L1270.2,147.4 L1270.0,147.4 L1269.9,147.4 L1269.7,147.4 L1269.6,147.3 L1269.5,147.3 L1263.1,144.9 L1262.9,144.8 L1256.4,141.5 L1249.9,140.0 L1249.7,139.9 L1249.5,139.8 L1243.0,136.5 L1236.5,135.0 L1236.3,134.9 L1236.2,134.9 L1236.1,134.8 L1235.9,134.7 L1235.8,134.6 L1235.7,134.6 L1230.7,129.5 L1230.6,129.3 L1230.5,129.2 L1230.5,129.1 L1227.3,122.8 L1222.7,119.7 L1217.6,116.4 L1217.5,116.3 L1217.4,116.2 L1217.3,116.1 L1217.2,116.0 L1217.1,115.8 L1217.0,115.7 L1217.0,115.6 L1216.9,115.4 L1216.9,115.3 L1216.9,115.1 L1216.9,115.0 L1216.9,114.8 L1217.0,114.7 L1217.0,114.6 L1217.1,114.4 L1218.4,111.8 L1215.7,107.7 L1211.5,104.2 L1204.0,106.4 L1197.8,109.5 L1196.5,112.1 L1196.5,116.1 L1199.4,118.9 L1204.2,122.1 L1204.3,122.2 L1204.5,122.3 L1204.6,122.4 L1204.6,122.6 L1204.7,122.7 L1204.8,122.8 L1204.8,123.0 L1204.9,123.1 L1204.9,123.3 L1204.9,123.4 L1204.9,123.6 L1204.9,123.7 L1204.8,123.8 L1204.8,124.0 L1204.7,124.1 L1204.6,124.2 L1204.5,124.4 L1204.4,124.5 L1204.3,124.6 L1204.2,124.7 L1204.1,124.7 L1201.2,126.2 L1200.2,128.1 L1202.6,130.6 L1209.1,133.8 L1209.2,133.8 L1209.3,133.9 L1209.5,134.0 L1214.4,138.9 L1219.2,142.3 L1219.4,142.3 L1219.5,142.4 L1219.6,142.6 L1219.7,142.7 L1219.7,142.8 L1219.8,142.9 L1219.8,143.1 L1219.9,143.2 L1219.9,143.4 L1219.9,143.5 L1219.9,143.7 L1219.9,143.8 L1219.8,144.0 L1218.4,148.6 L1219.6,153.9 L1223.3,154.5 L1229.4,152.1 L1237.7,147.2 L1237.9,147.1 L1238.0,147.1 L1238.2,147.0 L1246.6,145.3 L1246.7,145.3 L1246.9,145.3 L1247.0,145.3 L1247.2,145.3 L1257.0,147.0 L1263.6,147.0 L1263.7,147.0 L1263.9,147.0 L1264.0,147.1 L1264.1,147.1 L1264.3,147.2 L1270.9,150.4 L1280.9,153.9 L1291.3,157.0 L1291.5,157.0 L1291.6,157.1 L1294.8,158.7 L1299.8,159.0 ZM1374.8,223.3 L1377.9,225.6 L1391.8,225.6 L1394.9,227.7 L1393.5,233.2 L1393.4,233.5 L1393.4,233.8 L1393.4,234.1 L1393.4,234.4 L1393.5,234.7 L1393.6,235.0 L1393.7,235.3 L1395.1,238.0 L1425.0,238.0 L1423.8,233.2 L1423.7,232.9 L1423.6,232.6 L1423.5,232.4 L1423.4,232.2 L1423.2,232.0 L1423.0,231.8 L1417.7,226.5 L1414.2,219.4 L1414.0,219.1 L1413.8,218.8 L1413.6,218.6 L1408.4,213.5 L1406.7,208.5 L1406.7,208.3 L1406.5,208.1 L1406.4,207.9 L1402.7,202.2 L1402.5,201.9 L1402.3,201.7 L1402.1,201.5 L1401.9,201.3 L1401.6,201.1 L1401.3,201.0 L1401.0,200.9 L1400.7,200.8 L1400.4,200.8 L1390.5,200.0 L1385.7,193.5 L1385.5,193.3 L1385.3,193.1 L1385.1,192.9 L1384.9,192.7 L1384.6,192.6 L1384.3,192.5 L1376.7,189.7 L1376.5,189.6 L1376.2,189.5 L1375.9,189.5 L1375.6,189.5 L1375.3,189.5 L1375.0,189.6 L1358.1,193.4 L1357.9,193.4 L1348.5,196.2 L1348.3,196.3 L1348.0,196.4 L1347.7,196.6 L1347.5,196.8 L1347.3,197.0 L1347.1,197.2 L1346.9,197.4 L1346.8,197.7 L1346.6,198.0 L1346.5,198.2 L1346.5,198.5 L1346.4,198.8 L1346.4,199.1 L1346.4,199.4 L1346.5,199.7 L1346.5,200.0 L1346.6,200.3 L1346.8,200.5 L1346.9,200.8 L1348.8,203.6 L1349.0,203.8 L1349.2,204.0 L1349.4,204.2 L1349.7,204.4 L1349.9,204.6 L1350.2,204.7 L1359.5,208.4 L1366.1,211.8 L1371.3,220.5 L1371.5,220.6 Z" fill="#e8e38f" fill-rule="evenodd" filter="url(#b2)"/><path d="M1400.2,241.4 L1402.1,248.9 L1403.9,256.5 L1392.7,260.2 L1385.1,264.0 L1387.0,269.6 L1396.4,271.5 L1398.3,277.2 L1392.7,277.2 L1387.0,282.8 L1388.9,290.3 L1396.4,294.1 L1407.7,299.7 L1419.0,297.8 L1432.2,294.1 L1430.3,286.6 L1420.9,280.9 L1413.3,277.2 L1411.5,271.5 L1415.2,264.0 L1417.1,256.5 L1419.0,248.9 L1422.8,241.4 L1421.4,236.0 L1397.5,236.0 Z" fill="#ab8b80" fill-rule="evenodd" filter="url(#b3)"/><path d="M1541.0,102.6 L1542.0,111.0 L1542.0,111.0 L1544.5,126.1 L1544.5,126.1 L1544.5,126.2 L1544.6,126.2 L1544.6,126.3 L1544.6,126.3 L1544.6,126.3 L1544.7,126.4 L1544.7,126.4 L1544.7,126.4 L1544.8,126.5 L1544.8,126.5 L1544.9,126.5 L1544.9,126.5 L1545.0,126.5 L1545.0,126.5 L1545.1,126.5 L1548.9,126.0 L1548.9,126.0 L1549.0,126.0 L1549.0,126.0 L1549.0,125.9 L1549.1,125.9 L1549.1,125.9 L1549.2,125.8 L1549.2,125.8 L1549.2,125.8 L1549.2,125.7 L1549.3,125.7 L1549.3,125.6 L1549.3,125.6 L1549.3,125.5 L1549.3,125.5 L1549.3,125.4 L1549.3,125.4 L1549.3,125.3 L1547.2,119.2 L1550.2,113.2 L1550.3,113.2 L1550.3,113.1 L1550.3,113.1 L1550.3,113.0 L1550.3,113.0 L1550.3,113.0 L1549.3,102.5 L1549.3,102.4 L1549.3,102.4 L1549.3,102.3 L1549.2,102.3 L1549.2,102.2 L1549.2,102.2 L1549.2,102.1 L1549.1,102.1 L1549.1,102.1 L1549.0,102.1 L1549.0,102.0 L1548.9,102.0 L1548.9,102.0 L1548.8,102.0 L1548.8,102.0 L1541.5,102.0 L1541.5,102.0 L1541.4,102.0 L1541.4,102.0 L1541.3,102.0 L1541.3,102.1 L1541.2,102.1 L1541.2,102.1 L1541.1,102.1 L1541.1,102.2 L1541.1,102.2 L1541.1,102.3 L1541.0,102.3 L1541.0,102.4 L1541.0,102.4 L1541.0,102.5 L1541.0,102.5 Z" fill="#a3857c" fill-rule="evenodd" filter="url(#b1)"/><path d="M1586.0,132.1 L1590.1,138.3 L1590.1,138.3 L1590.1,138.4 L1590.2,138.4 L1590.2,138.4 L1590.3,138.4 L1590.3,138.5 L1590.4,138.5 L1590.4,138.5 L1590.5,138.5 L1590.5,138.5 L1590.6,138.5 L1590.6,138.5 L1590.6,138.5 L1590.7,138.5 L1590.7,138.4 L1590.8,138.4 L1590.8,138.4 L1590.9,138.3 L1590.9,138.3 L1590.9,138.3 L1590.9,138.2 L1594.1,132.0 L1594.2,132.0 L1594.2,131.9 L1594.2,131.9 L1594.2,131.9 L1595.2,123.5 L1595.2,123.4 L1595.2,123.4 L1595.2,123.3 L1595.2,123.3 L1593.1,115.0 L1593.1,114.9 L1593.1,114.9 L1593.0,114.8 L1593.0,114.8 L1593.0,114.8 L1592.9,114.7 L1592.9,114.7 L1592.9,114.7 L1592.8,114.6 L1592.8,114.6 L1592.7,114.6 L1592.7,114.6 L1592.6,114.6 L1592.6,114.6 L1592.5,114.6 L1592.5,114.6 L1584.2,116.6 L1584.1,116.6 L1584.1,116.6 L1584.0,116.7 L1584.0,116.7 L1584.0,116.7 L1583.9,116.8 L1583.9,116.8 L1583.9,116.8 L1583.8,116.9 L1583.8,116.9 L1581.7,123.2 L1581.7,123.3 L1581.7,123.3 L1581.7,123.4 L1581.7,123.4 L1581.7,123.5 L1581.7,123.5 L1581.7,123.6 L1581.8,123.6 L1586.0,132.0 Z" fill="#a3857c" fill-rule="evenodd" filter="url(#b1)"/><path d="M1214.0,117.0 L1203.0,120.0 L1203.1,120.8 L1204.5,121.7 L1204.7,121.8 L1204.8,122.0 L1204.9,122.1 L1205.1,122.3 L1205.2,122.5 L1205.2,122.6 L1205.3,122.8 L1205.4,123.0 L1205.4,123.2 L1205.4,123.4 L1205.4,123.6 L1205.4,123.8 L1205.3,124.0 L1205.2,124.2 L1205.2,124.4 L1205.1,124.5 L1204.9,124.7 L1204.8,124.8 L1204.6,125.0 L1204.5,125.1 L1204.3,125.2 L1203.6,125.6 L1204.0,130.0 L1205.4,131.4 L1209.3,133.3 L1209.5,133.4 L1209.7,133.5 L1209.8,133.7 L1214.7,138.6 L1219.5,141.8 L1219.7,142.0 L1219.8,142.1 L1220.0,142.2 L1220.1,142.4 L1220.2,142.6 L1220.3,142.8 L1220.3,142.9 L1220.4,143.1 L1220.4,143.3 L1220.4,143.5 L1220.4,143.7 L1220.4,143.9 L1220.3,144.1 L1219.8,145.8 L1220.0,146.0 L1226.0,150.0 L1236.0,146.0 L1240.8,146.0 L1246.5,144.8 L1246.7,144.8 L1246.9,144.8 L1247.1,144.8 L1247.2,144.8 L1257.1,146.5 L1262.0,146.5 L1262.0,144.9 L1259.3,143.5 L1250.0,142.0 L1240.0,139.0 L1236.5,135.5 L1236.3,135.4 L1236.2,135.4 L1236.0,135.3 L1235.8,135.2 L1235.7,135.1 L1235.5,135.0 L1235.4,134.9 L1230.4,129.8 L1230.2,129.6 L1230.1,129.5 L1230.0,129.3 L1227.3,123.8 L1226.7,123.0 L1224.0,121.2 Z" fill="#8fe68a" fill-rule="evenodd" filter="url(#b2)"/><path d="M1218.0,120.0 L1206.0,122.0 L1206.2,122.3 L1206.3,122.5 L1206.3,122.8 L1206.4,123.1 L1206.4,123.4 L1206.4,123.7 L1206.4,123.8 L1207.9,131.5 L1209.7,132.4 L1210.0,132.6 L1210.3,132.8 L1210.5,133.0 L1211.1,133.5 L1220.0,138.0 L1230.0,134.0 L1228.8,129.0 L1226.9,125.4 Z" fill="#2ed276" fill-rule="evenodd" filter="url(#b2)"/><path d="M1236.0,141.0 L1240.0,145.0 L1241.1,144.9 L1246.3,143.9 L1246.6,143.8 L1246.9,143.8 L1247.1,143.8 L1247.4,143.8 L1249.5,144.2 L1252.0,144.0 L1250.9,141.7 L1249.5,141.4 L1249.2,141.3 L1248.8,141.2 L1247.0,140.2 Z" fill="#2ed276" fill-rule="evenodd" filter="url(#b2)"/><path d="M1320.0,139.0 L1318.2,139.3 L1312.4,140.4 L1312.4,140.4 L1301.9,142.5 L1291.5,144.6 L1291.5,144.6 L1281.0,146.7 L1270.9,148.8 L1271.5,149.0 L1281.3,152.4 L1291.7,155.5 L1292.0,155.6 L1292.3,155.7 L1302.7,161.0 L1303.0,161.2 L1313.5,168.5 L1313.7,168.7 L1313.9,168.9 L1320.2,175.1 L1320.4,175.3 L1320.6,175.5 L1320.7,175.7 L1320.8,176.0 L1320.9,176.3 L1321.4,177.6 L1322.0,178.0 L1328.0,190.0 L1335.0,193.0 L1345.0,186.0 L1345.0,170.0 L1355.0,167.0 L1380.0,168.0 L1389.6,169.5 L1389.8,169.5 L1399.8,168.8 L1400.1,168.8 L1400.4,168.8 L1400.7,168.9 L1401.0,169.0 L1410.8,172.3 L1425.7,175.6 L1442.4,178.9 L1442.5,178.9 L1455.9,182.3 L1456.2,182.4 L1456.5,182.5 L1456.8,182.7 L1457.1,182.9 L1457.3,183.1 L1465.6,191.4 L1466.5,192.2 L1480.0,199.0 L1489.1,199.5 L1493.2,198.9 L1493.5,198.9 L1493.8,198.9 L1494.1,198.9 L1500.3,200.0 L1509.0,200.0 L1503.0,194.0 L1494.5,184.8 L1490.0,180.8 L1481.7,174.1 L1473.3,167.4 L1473.3,167.4 L1472.1,166.5 L1460.0,160.0 L1440.0,156.0 L1420.0,150.0 L1400.0,150.0 L1380.0,149.0 L1378.3,149.0 L1370.5,150.4 L1370.2,150.5 L1369.9,150.5 L1369.6,150.5 L1359.3,149.0 L1358.0,149.0 L1346.0,146.0 L1343.9,142.3 L1343.8,142.3 L1343.6,142.1 L1343.3,141.9 L1343.1,141.7 L1342.9,141.5 L1342.7,141.2 L1342.5,140.9 L1341.1,138.1 L1336.2,133.2 L1335.7,133.0 L1326.3,134.0 L1324.9,136.8 L1324.7,137.0 L1324.5,137.3 L1324.3,137.5 L1324.1,137.7 L1323.9,137.9 L1323.6,138.0 L1323.4,138.2 L1323.1,138.3 L1322.8,138.3 L1320.2,138.9 Z" fill="#2ed276" fill-rule="evenodd" filter="url(#b2)"/><path d="M1512.1,150.0 L1512.0,150.4 L1511.5,157.7 L1512.7,163.8 L1512.8,164.0 L1514.7,177.6 L1514.7,177.9 L1514.7,178.2 L1514.7,178.5 L1514.6,178.8 L1514.5,179.0 L1514.4,179.3 L1513.4,181.3 L1514.0,185.0 L1512.0,200.0 L1520.0,208.0 L1521.0,208.6 L1521.3,208.8 L1529.1,214.7 L1529.4,214.9 L1529.6,215.1 L1529.8,215.4 L1529.9,215.7 L1530.1,215.9 L1530.2,216.3 L1535.0,220.0 L1548.0,227.0 L1549.4,226.6 L1551.3,225.3 L1551.6,225.2 L1551.9,225.0 L1552.1,224.9 L1552.4,224.9 L1552.7,224.8 L1553.0,224.8 L1555.7,224.8 L1562.0,223.0 L1569.0,214.0 L1566.0,205.0 L1558.0,198.0 L1548.0,188.0 L1543.0,174.0 L1535.0,167.0 L1522.0,162.0 L1521.6,161.0 L1518.2,159.3 L1517.9,159.2 L1517.7,159.0 L1517.5,158.8 L1517.3,158.6 L1517.1,158.4 L1516.9,158.1 L1516.8,157.9 L1516.7,157.6 L1516.6,157.3 L1515.1,151.0 Z" fill="#2ed276" fill-rule="evenodd" filter="url(#b2)"/><path d="M1560.0,145.0 L1565.0,160.0 L1570.0,172.0 L1576.0,165.0 L1574.0,150.0 L1566.0,138.0 L1556.0,134.0 Z" fill="#2ed276" fill-rule="evenodd" filter="url(#b2)"/><path d="M1618.0,186.0 L1612.0,173.0 L1600.0,160.0 L1590.0,155.0 L1594.0,168.0 L1598.1,172.9 L1602.3,175.0 L1602.6,175.2 L1602.9,175.4 L1603.1,175.6 L1609.3,181.9 L1609.6,182.2 L1615.4,189.9 Z" fill="#2ed276" fill-rule="evenodd" filter="url(#b2)"/><path d="M1370.0,212.0 L1385.0,222.0 L1400.0,228.0 L1412.0,225.0 L1405.0,215.0 L1392.0,205.0 L1376.0,195.0 L1360.0,198.0 Z" fill="#2ed276" fill-rule="evenodd" filter="url(#b2)"/><path d="M1306.0,160.0 L1318.0,156.0 L1332.0,153.0 L1340.0,158.0 L1343.0,170.0 L1342.0,182.0 L1335.0,189.0 L1328.0,184.0 L1322.0,173.0 L1312.0,166.0 Z" fill="#a6ec98" filter="url(#b3)"/><path d="M1318.0,145.0 L1330.0,140.0 L1337.0,142.0 L1336.0,149.0 L1325.0,150.0 Z" fill="#1a86e8" filter="url(#b2)"/><ellipse cx="1218.4" cy="128.4" rx="4.5" ry="3.5" fill="#1a8fe0" filter="url(#b1)"/><path d="M1523.0,180.0 L1533.0,178.0 L1537.0,192.0 L1538.0,203.0 L1528.0,202.0 L1522.0,192.0 Z" fill="#0a8ff5" filter="url(#b2)"/><path d="M1544.0,206.0 L1558.0,205.0 L1563.0,212.0 L1556.0,218.0 L1546.0,216.0 Z" fill="#0a8ff5" filter="url(#b2)"/><ellipse cx="1550.7" cy="212.2" rx="2.5" ry="2.5" fill="#f0f4f8"/><ellipse cx="1328" cy="144.5" rx="6" ry="3" fill="#1a86e8" filter="url(#b1)"/><ellipse cx="1455" cy="168.5" rx="4" ry="2.5" fill="#14b5a0" filter="url(#b1)"/><ellipse cx="1671" cy="158" rx="3" ry="14" fill="#1a90e0" filter="url(#b1)"/><ellipse cx="1060" cy="56" rx="22" ry="15" fill="#ddd0ce" filter="url(#b6)"/><ellipse cx="1060" cy="56" rx="16" ry="9" fill="#b89a80" filter="url(#b3)"/><ellipse cx="1060" cy="56" rx="8.4" ry="4.8999999999999995" fill="#d5c59a" filter="url(#b2)"/><ellipse cx="1217" cy="56" rx="25" ry="15" fill="#ddd0ce" filter="url(#b6)"/><ellipse cx="1217" cy="56" rx="19" ry="9" fill="#a08680" filter="url(#b3)"/><ellipse cx="1217" cy="56" rx="10.2" ry="4.8999999999999995" fill="#b69a8f" filter="url(#b2)"/><ellipse cx="1188" cy="187" rx="13" ry="12" fill="#ddd0ce" filter="url(#b6)"/><ellipse cx="1188" cy="187" rx="7" ry="6" fill="#cfc2bf" filter="url(#b3)"/><ellipse cx="1188" cy="187" rx="3.0" ry="2.8" fill="#cfc2bf" filter="url(#b2)"/><ellipse cx="1479.5" cy="73.5" rx="16" ry="16" fill="#ddd0ce" filter="url(#b6)"/><ellipse cx="1479.5" cy="73.5" rx="10" ry="10" fill="#b49a80" filter="url(#b3)"/><ellipse cx="1479.5" cy="73.5" rx="4.8" ry="5.6" fill="#e6de90" filter="url(#b2)"/><ellipse cx="1472" cy="251" rx="21" ry="27" fill="#ddd0ce" filter="url(#b6)"/><ellipse cx="1472" cy="251" rx="15" ry="21" fill="#a88c80" filter="url(#b3)"/><ellipse cx="1472" cy="251" rx="7.8" ry="13.299999999999999" fill="#e6de90" filter="url(#b2)"/><ellipse cx="1522" cy="273" rx="16" ry="18" fill="#ddd0ce" filter="url(#b6)"/><ellipse cx="1522" cy="273" rx="10" ry="12" fill="#a88c80" filter="url(#b3)"/><ellipse cx="1522" cy="273" rx="4.8" ry="7.0" fill="#c9b6a0" filter="url(#b2)"/><ellipse cx="1351" cy="340" rx="23" ry="19" fill="#ddd0ce" filter="url(#b6)"/><ellipse cx="1351" cy="340" rx="17" ry="13" fill="#d9cdca" filter="url(#b3)"/><ellipse cx="1351" cy="340" rx="9.0" ry="7.699999999999999" fill="#d6c9c6" filter="url(#b2)"/><ellipse cx="1624" cy="209" rx="13" ry="17" fill="#ddd0ce" filter="url(#b6)"/><ellipse cx="1624" cy="209" rx="7" ry="11" fill="#a48a84" filter="url(#b3)"/><ellipse cx="1624" cy="209" rx="3.0" ry="6.3" fill="#b89c90" filter="url(#b2)"/><path d="M1648.0,50.0 L1652.0,50.0 L1652.0,220.0 L1650.0,245.0 L1648.0,220.0 Z" fill="#ddd0cd" filter="url(#b3)"/><path d="M1659.0,50.0 L1663.0,50.0 L1663.0,215.0 L1661.0,240.0 L1659.0,215.0 Z" fill="#ddd0cd" filter="url(#b3)"/><path d="M1669.5,50.0 L1672.5,50.0 L1672.5,210.0 L1671.0,235.0 L1669.5,210.0 Z" fill="#ddd0cd" filter="url(#b3)"/><path d="M1634.0,140.0 L1638.0,140.0 L1638.0,225.0 L1636.0,250.0 L1634.0,225.0 Z" fill="#ddd0cd" filter="url(#b3)"/><path d="M1624.5,190.0 L1627.5,190.0 L1627.5,225.0 L1626.0,250.0 L1624.5,225.0 Z" fill="#ddd0cd" filter="url(#b3)"/><path d="M1638.5,50.0 L1641.5,50.0 L1641.5,85.0 L1640.0,110.0 L1638.5,85.0 Z" fill="#ddd0cd" filter="url(#b3)"/><path d="M1602.0,56.4 L1603.0,68.4 L1603.1,68.9 L1603.2,69.4 L1603.4,69.9 L1603.6,70.3 L1603.8,70.7 L1604.1,71.1 L1604.4,71.5 L1604.8,71.8 L1605.2,72.1 L1605.6,72.4 L1606.1,72.6 L1612.1,75.1 L1612.5,75.3 L1613.0,75.4 L1613.4,75.5 L1613.9,75.5 L1614.4,75.5 L1614.9,75.4 L1615.3,75.3 L1615.8,75.2 L1616.2,75.0 L1616.6,74.8 L1617.0,74.5 L1623.0,70.0 L1623.4,69.7 L1623.7,69.3 L1624.1,68.9 L1624.3,68.5 L1624.6,68.1 L1624.7,67.6 L1624.9,67.1 L1625.0,66.6 L1626.0,58.6 L1626.0,58.2 L1626.0,57.7 L1625.9,57.3 L1625.9,56.8 L1625.7,56.4 L1623.7,50.4 L1623.6,50.0 L1623.4,49.5 L1623.1,49.1 L1622.8,48.8 L1622.5,48.4 L1622.1,48.1 L1621.7,47.8 L1621.3,47.6 L1620.9,47.4 L1620.4,47.2 L1620.0,47.1 L1619.5,47.0 L1619.0,47.0 L1609.0,47.0 L1608.5,47.0 L1608.0,47.1 L1607.5,47.2 L1607.0,47.4 L1606.6,47.6 L1606.2,47.9 L1605.8,48.2 L1605.4,48.5 L1605.1,48.9 L1604.8,49.3 L1604.5,49.8 L1602.5,53.8 L1602.3,54.2 L1602.2,54.6 L1602.1,55.1 L1602.0,55.5 L1602.0,56.0 Z" fill="#b09690" fill-rule="evenodd" filter="url(#b3)"/><path d="M1606.0,56.1 L1607.0,68.1 L1607.0,68.2 L1607.0,68.3 L1607.1,68.4 L1607.1,68.5 L1607.2,68.5 L1607.2,68.6 L1607.3,68.7 L1607.4,68.8 L1607.4,68.8 L1607.5,68.9 L1607.6,68.9 L1613.6,71.4 L1613.7,71.5 L1613.8,71.5 L1613.9,71.5 L1614.0,71.5 L1614.1,71.5 L1614.2,71.5 L1614.3,71.5 L1614.4,71.4 L1614.4,71.4 L1614.5,71.4 L1614.6,71.3 L1620.6,66.8 L1620.7,66.7 L1620.7,66.7 L1620.8,66.6 L1620.9,66.5 L1620.9,66.4 L1620.9,66.3 L1621.0,66.2 L1621.0,66.1 L1622.0,58.1 L1622.0,58.0 L1622.0,57.9 L1622.0,57.9 L1622.0,57.8 L1621.9,57.7 L1619.9,51.7 L1619.9,51.6 L1619.9,51.5 L1619.8,51.4 L1619.8,51.4 L1619.7,51.3 L1619.6,51.2 L1619.5,51.2 L1619.5,51.1 L1619.4,51.1 L1619.3,51.0 L1619.2,51.0 L1619.1,51.0 L1619.0,51.0 L1609.0,51.0 L1608.9,51.0 L1608.8,51.0 L1608.7,51.0 L1608.6,51.1 L1608.5,51.1 L1608.4,51.2 L1608.4,51.2 L1608.3,51.3 L1608.2,51.4 L1608.2,51.5 L1608.1,51.6 L1606.1,55.6 L1606.1,55.6 L1606.0,55.7 L1606.0,55.8 L1606.0,55.9 L1606.0,56.0 Z" fill="#a3877f" fill-rule="evenodd" filter="url(#b1)"/><path d="M1623.0,82.0 L1623.0,96.0 L1623.0,96.5 L1623.1,96.9 L1623.2,97.4 L1623.3,97.8 L1623.5,98.2 L1623.7,98.6 L1624.0,99.0 L1627.0,103.0 L1627.3,103.4 L1627.6,103.7 L1628.0,104.0 L1628.4,104.3 L1628.8,104.5 L1629.3,104.7 L1629.7,104.8 L1630.2,104.9 L1630.7,105.0 L1631.2,105.0 L1631.6,105.0 L1632.1,104.9 L1632.6,104.7 L1633.0,104.6 L1633.5,104.4 L1633.9,104.1 L1634.2,103.8 L1634.6,103.5 L1634.9,103.1 L1635.2,102.7 L1635.4,102.3 L1638.0,97.3 L1638.2,96.9 L1638.4,96.4 L1638.5,96.0 L1638.6,95.5 L1638.6,95.0 L1638.6,83.0 L1638.6,82.5 L1638.5,82.0 L1638.4,81.5 L1638.2,81.0 L1637.9,80.5 L1637.6,80.1 L1637.3,79.7 L1633.7,75.7 L1633.4,75.3 L1633.0,75.0 L1632.6,74.7 L1632.2,74.5 L1631.8,74.3 L1631.3,74.2 L1630.8,74.1 L1630.4,74.0 L1629.9,74.0 L1629.4,74.0 L1628.9,74.1 L1628.5,74.2 L1628.0,74.4 L1627.6,74.6 L1627.2,74.9 L1626.8,75.2 L1626.4,75.5 L1626.1,75.8 L1625.8,76.2 L1623.8,79.2 L1623.6,79.6 L1623.4,80.1 L1623.2,80.6 L1623.1,81.0 L1623.0,81.5 Z" fill="#b09690" fill-rule="evenodd" filter="url(#b3)"/><path d="M1627.0,82.0 L1627.0,96.0 L1627.0,96.1 L1627.0,96.2 L1627.0,96.3 L1627.1,96.4 L1627.1,96.4 L1627.1,96.5 L1627.2,96.6 L1630.2,100.6 L1630.3,100.7 L1630.3,100.7 L1630.4,100.8 L1630.5,100.9 L1630.6,100.9 L1630.7,100.9 L1630.7,101.0 L1630.8,101.0 L1630.9,101.0 L1631.0,101.0 L1631.1,101.0 L1631.2,101.0 L1631.3,100.9 L1631.4,100.9 L1631.5,100.9 L1631.6,100.8 L1631.6,100.8 L1631.7,100.7 L1631.8,100.6 L1631.8,100.5 L1631.9,100.5 L1634.5,95.5 L1634.5,95.4 L1634.6,95.3 L1634.6,95.2 L1634.6,95.1 L1634.6,95.0 L1634.6,83.0 L1634.6,82.9 L1634.6,82.8 L1634.6,82.7 L1634.5,82.6 L1634.5,82.5 L1634.4,82.4 L1634.3,82.3 L1630.7,78.3 L1630.7,78.3 L1630.6,78.2 L1630.5,78.1 L1630.4,78.1 L1630.4,78.1 L1630.3,78.0 L1630.2,78.0 L1630.1,78.0 L1630.0,78.0 L1629.9,78.0 L1629.8,78.0 L1629.7,78.0 L1629.6,78.1 L1629.5,78.1 L1629.4,78.2 L1629.4,78.2 L1629.3,78.3 L1629.2,78.4 L1629.2,78.4 L1627.2,81.4 L1627.1,81.5 L1627.1,81.6 L1627.0,81.7 L1627.0,81.8 L1627.0,81.9 Z" fill="#a3877f" fill-rule="evenodd" filter="url(#b1)"/><path d="M1636.0,80.0 L1636.0,98.0 L1636.0,98.5 L1636.1,98.9 L1636.2,99.4 L1636.3,99.8 L1636.5,100.2 L1636.8,100.6 L1639.8,105.4 L1640.0,105.8 L1640.3,106.2 L1640.7,106.6 L1641.1,106.9 L1641.5,107.1 L1641.9,107.3 L1642.3,107.5 L1642.8,107.7 L1643.3,107.7 L1643.8,107.8 L1644.2,107.8 L1644.7,107.7 L1645.2,107.7 L1645.7,107.5 L1646.1,107.3 L1646.5,107.1 L1646.9,106.8 L1647.3,106.5 L1647.7,106.2 L1648.0,105.8 L1648.2,105.4 L1648.5,105.0 L1648.7,104.6 L1650.9,98.8 L1651.0,98.3 L1651.1,97.9 L1651.2,97.5 L1651.2,97.0 L1651.2,81.0 L1651.2,80.5 L1651.1,80.0 L1651.0,79.5 L1650.8,79.1 L1650.6,78.6 L1647.9,73.6 L1647.6,73.2 L1647.3,72.8 L1647.0,72.4 L1646.6,72.1 L1646.2,71.8 L1645.8,71.6 L1645.4,71.4 L1644.9,71.2 L1644.4,71.1 L1643.9,71.0 L1643.4,71.0 L1642.9,71.0 L1642.4,71.1 L1641.9,71.2 L1641.5,71.4 L1641.0,71.6 L1640.6,71.9 L1640.2,72.2 L1639.9,72.6 L1639.5,72.9 L1639.3,73.4 L1636.8,77.4 L1636.5,77.8 L1636.3,78.2 L1636.2,78.6 L1636.1,79.1 L1636.0,79.5 Z" fill="#b09690" fill-rule="evenodd" filter="url(#b3)"/><path d="M1640.0,80.0 L1640.0,98.0 L1640.0,98.1 L1640.0,98.2 L1640.0,98.3 L1640.1,98.4 L1640.1,98.4 L1640.2,98.5 L1643.2,103.3 L1643.2,103.4 L1643.3,103.5 L1643.3,103.6 L1643.4,103.6 L1643.5,103.7 L1643.6,103.7 L1643.7,103.7 L1643.8,103.8 L1643.9,103.8 L1644.0,103.8 L1644.0,103.8 L1644.1,103.8 L1644.2,103.8 L1644.3,103.7 L1644.4,103.7 L1644.5,103.7 L1644.6,103.6 L1644.7,103.5 L1644.7,103.5 L1644.8,103.4 L1644.8,103.3 L1644.9,103.2 L1644.9,103.2 L1647.1,97.4 L1647.2,97.3 L1647.2,97.2 L1647.2,97.1 L1647.2,97.0 L1647.2,81.0 L1647.2,80.9 L1647.2,80.8 L1647.2,80.7 L1647.1,80.6 L1647.1,80.5 L1644.4,75.5 L1644.3,75.4 L1644.3,75.4 L1644.2,75.3 L1644.1,75.2 L1644.0,75.2 L1644.0,75.1 L1643.9,75.1 L1643.8,75.0 L1643.7,75.0 L1643.6,75.0 L1643.5,75.0 L1643.4,75.0 L1643.3,75.0 L1643.2,75.0 L1643.1,75.1 L1643.0,75.1 L1642.9,75.2 L1642.8,75.2 L1642.8,75.3 L1642.7,75.4 L1642.7,75.5 L1640.2,79.5 L1640.1,79.6 L1640.1,79.6 L1640.0,79.7 L1640.0,79.8 L1640.0,79.9 Z" fill="#a3877f" fill-rule="evenodd" filter="url(#b1)"/><path d="M1605.0,104.5 L1604.7,107.5 L1604.7,108.0 L1604.7,108.5 L1604.8,108.9 L1604.9,109.4 L1605.0,109.8 L1606.3,113.1 L1606.5,113.6 L1606.8,114.0 L1607.1,114.4 L1607.4,114.8 L1607.7,115.1 L1608.1,115.4 L1608.5,115.7 L1609.0,115.9 L1609.4,116.0 L1609.9,116.2 L1610.4,116.3 L1610.9,116.3 L1611.4,116.3 L1611.8,116.2 L1612.3,116.1 L1612.8,116.0 L1613.2,115.8 L1613.7,115.5 L1614.1,115.3 L1614.4,114.9 L1614.8,114.6 L1615.1,114.2 L1615.3,113.8 L1615.6,113.4 L1617.1,110.1 L1617.2,109.6 L1617.4,109.2 L1617.4,108.7 L1617.5,108.3 L1617.5,107.8 L1617.5,107.3 L1617.0,103.5 L1616.9,103.1 L1616.7,102.6 L1616.6,102.2 L1616.4,101.7 L1616.1,101.3 L1615.8,101.0 L1615.5,100.6 L1615.1,100.3 L1614.7,100.0 L1614.3,99.8 L1613.9,99.6 L1613.4,99.4 L1613.0,99.3 L1612.5,99.2 L1612.0,99.2 L1611.5,99.2 L1611.1,99.3 L1610.6,99.4 L1610.1,99.6 L1608.1,100.4 L1607.7,100.6 L1607.3,100.8 L1606.9,101.1 L1606.5,101.4 L1606.2,101.8 L1605.9,102.2 L1605.6,102.6 L1605.4,103.1 L1605.2,103.5 L1605.1,104.0 Z" fill="#b09690" fill-rule="evenodd" filter="url(#b3)"/><path d="M1609.0,104.9 L1608.7,107.9 L1608.7,108.0 L1608.7,108.1 L1608.7,108.2 L1608.7,108.3 L1608.8,108.4 L1610.1,111.7 L1610.1,111.8 L1610.2,111.8 L1610.2,111.9 L1610.3,112.0 L1610.3,112.1 L1610.4,112.1 L1610.5,112.2 L1610.6,112.2 L1610.7,112.2 L1610.8,112.3 L1610.9,112.3 L1611.0,112.3 L1611.1,112.3 L1611.2,112.3 L1611.3,112.3 L1611.4,112.2 L1611.4,112.2 L1611.5,112.1 L1611.6,112.1 L1611.7,112.0 L1611.8,112.0 L1611.8,111.9 L1611.9,111.8 L1611.9,111.7 L1613.4,108.4 L1613.4,108.3 L1613.5,108.2 L1613.5,108.1 L1613.5,108.1 L1613.5,108.0 L1613.5,107.9 L1613.0,104.1 L1613.0,104.0 L1612.9,103.9 L1612.9,103.8 L1612.9,103.7 L1612.8,103.6 L1612.8,103.6 L1612.7,103.5 L1612.6,103.4 L1612.5,103.4 L1612.5,103.3 L1612.4,103.3 L1612.3,103.2 L1612.2,103.2 L1612.1,103.2 L1612.0,103.2 L1611.9,103.2 L1611.8,103.2 L1611.7,103.2 L1611.6,103.3 L1609.6,104.1 L1609.5,104.1 L1609.5,104.2 L1609.4,104.2 L1609.3,104.3 L1609.2,104.4 L1609.2,104.4 L1609.1,104.5 L1609.1,104.6 L1609.0,104.7 L1609.0,104.8 Z" fill="#a3877f" fill-rule="evenodd" filter="url(#b1)"/><path d="M1607.5,128.0 L1607.5,137.0 L1607.5,137.4 L1607.6,137.8 L1609.1,146.8 L1609.2,147.3 L1609.3,147.8 L1609.5,148.2 L1609.8,148.7 L1610.0,149.1 L1610.4,149.4 L1610.7,149.8 L1611.1,150.1 L1611.5,150.3 L1612.0,150.6 L1612.4,150.7 L1618.4,152.7 L1618.9,152.9 L1619.4,153.0 L1619.9,153.0 L1620.3,153.0 L1620.8,152.9 L1621.3,152.8 L1621.8,152.7 L1622.2,152.5 L1622.6,152.2 L1623.0,152.0 L1623.4,151.7 L1623.7,151.3 L1624.1,150.9 L1624.3,150.5 L1627.8,144.5 L1628.1,144.1 L1628.2,143.6 L1628.4,143.1 L1628.5,142.6 L1628.5,142.1 L1628.7,132.1 L1628.7,131.6 L1628.6,131.2 L1628.5,130.7 L1628.4,130.3 L1624.7,120.3 L1624.5,119.8 L1624.2,119.4 L1623.9,118.9 L1623.6,118.5 L1623.2,118.2 L1622.8,117.9 L1622.4,117.6 L1622.0,117.4 L1621.5,117.2 L1621.0,117.1 L1616.0,116.1 L1615.5,116.0 L1615.0,116.0 L1614.6,116.0 L1614.1,116.1 L1613.6,116.2 L1613.2,116.3 L1612.7,116.5 L1612.3,116.8 L1611.9,117.0 L1611.6,117.4 L1611.3,117.7 L1611.0,118.1 L1610.7,118.5 L1610.5,118.9 L1610.3,119.3 L1607.8,126.3 L1607.6,126.9 L1607.5,127.4 Z" fill="#b09690" fill-rule="evenodd" filter="url(#b3)"/><path d="M1611.5,128.0 L1611.5,137.0 L1611.5,137.1 L1611.5,137.2 L1613.0,146.2 L1613.0,146.3 L1613.1,146.4 L1613.1,146.4 L1613.2,146.5 L1613.2,146.6 L1613.3,146.7 L1613.3,146.8 L1613.4,146.8 L1613.5,146.9 L1613.6,146.9 L1613.7,146.9 L1619.7,148.9 L1619.8,149.0 L1619.9,149.0 L1620.0,149.0 L1620.1,149.0 L1620.2,149.0 L1620.3,149.0 L1620.4,148.9 L1620.4,148.9 L1620.5,148.8 L1620.6,148.8 L1620.7,148.7 L1620.7,148.7 L1620.8,148.6 L1620.9,148.5 L1624.4,142.5 L1624.4,142.4 L1624.4,142.3 L1624.5,142.2 L1624.5,142.1 L1624.5,142.0 L1624.7,132.0 L1624.7,131.9 L1624.7,131.8 L1624.7,131.7 L1624.6,131.7 L1620.9,121.7 L1620.9,121.6 L1620.8,121.5 L1620.8,121.4 L1620.7,121.3 L1620.6,121.2 L1620.6,121.2 L1620.5,121.1 L1620.4,121.1 L1620.3,121.0 L1620.2,121.0 L1615.2,120.0 L1615.1,120.0 L1615.0,120.0 L1614.9,120.0 L1614.8,120.0 L1614.7,120.0 L1614.6,120.1 L1614.5,120.1 L1614.5,120.2 L1614.4,120.2 L1614.3,120.3 L1614.3,120.3 L1614.2,120.4 L1614.1,120.5 L1614.1,120.6 L1614.1,120.7 L1611.6,127.7 L1611.5,127.8 L1611.5,127.9 Z" fill="#a3877f" fill-rule="evenodd" filter="url(#b1)"/><path d="M1624.4,118.2 L1625.0,136.2 L1625.0,136.7 L1625.1,137.1 L1625.3,137.6 L1625.4,138.1 L1625.7,138.5 L1625.9,138.9 L1626.2,139.3 L1626.6,139.6 L1626.9,140.0 L1627.3,140.2 L1627.8,140.5 L1631.8,142.5 L1632.2,142.7 L1632.7,142.8 L1633.2,142.9 L1633.7,143.0 L1634.2,143.0 L1634.7,143.0 L1635.2,142.9 L1635.6,142.7 L1636.1,142.5 L1636.6,142.3 L1637.0,142.0 L1637.4,141.7 L1637.7,141.4 L1638.0,141.0 L1638.3,140.6 L1638.5,140.1 L1638.7,139.6 L1638.9,139.2 L1641.3,129.2 L1641.3,128.7 L1641.4,128.3 L1641.4,127.9 L1641.0,113.9 L1641.0,113.4 L1640.9,112.9 L1640.8,112.5 L1640.6,112.0 L1640.4,111.6 L1640.1,111.2 L1639.9,110.8 L1639.5,110.5 L1639.2,110.2 L1638.8,109.9 L1638.4,109.6 L1638.0,109.4 L1637.5,109.2 L1633.5,107.9 L1633.1,107.8 L1632.6,107.7 L1632.1,107.7 L1631.7,107.7 L1631.2,107.8 L1630.7,107.9 L1630.3,108.0 L1629.8,108.2 L1629.4,108.4 L1629.0,108.7 L1628.7,109.0 L1628.3,109.3 L1628.0,109.7 L1627.7,110.1 L1627.5,110.5 L1624.9,115.8 L1624.7,116.2 L1624.6,116.7 L1624.5,117.2 L1624.4,117.7 Z" fill="#b09690" fill-rule="evenodd" filter="url(#b3)"/><path d="M1628.4,118.0 L1629.0,136.0 L1629.0,136.1 L1629.0,136.2 L1629.1,136.3 L1629.1,136.4 L1629.1,136.5 L1629.2,136.6 L1629.2,136.7 L1629.3,136.7 L1629.4,136.8 L1629.5,136.8 L1629.6,136.9 L1633.6,138.9 L1633.6,138.9 L1633.7,139.0 L1633.8,139.0 L1633.9,139.0 L1634.0,139.0 L1634.1,139.0 L1634.2,139.0 L1634.3,138.9 L1634.4,138.9 L1634.5,138.9 L1634.6,138.8 L1634.7,138.7 L1634.7,138.7 L1634.8,138.6 L1634.9,138.5 L1634.9,138.4 L1634.9,138.3 L1635.0,138.2 L1637.4,128.2 L1637.4,128.1 L1637.4,128.1 L1637.4,128.0 L1637.0,114.0 L1637.0,113.9 L1637.0,113.8 L1637.0,113.7 L1636.9,113.6 L1636.9,113.5 L1636.8,113.4 L1636.8,113.4 L1636.7,113.3 L1636.6,113.2 L1636.6,113.2 L1636.5,113.1 L1636.4,113.1 L1636.3,113.0 L1632.3,111.7 L1632.2,111.7 L1632.1,111.7 L1632.0,111.7 L1631.9,111.7 L1631.8,111.7 L1631.7,111.7 L1631.7,111.8 L1631.6,111.8 L1631.5,111.8 L1631.4,111.9 L1631.3,112.0 L1631.3,112.0 L1631.2,112.1 L1631.1,112.2 L1631.1,112.3 L1628.5,117.6 L1628.5,117.6 L1628.4,117.7 L1628.4,117.8 L1628.4,117.9 Z" fill="#a3877f" fill-rule="evenodd" filter="url(#b1)"/><path d="M1624.4,152.2 L1625.0,170.2 L1625.0,170.5 L1625.1,170.9 L1628.1,186.9 L1628.2,187.4 L1628.3,187.8 L1628.5,188.2 L1628.8,188.7 L1629.0,189.0 L1629.3,189.4 L1634.3,194.8 L1634.7,195.1 L1635.0,195.4 L1635.4,195.7 L1635.9,195.9 L1636.3,196.1 L1636.8,196.2 L1637.2,196.3 L1637.7,196.4 L1638.2,196.4 L1638.7,196.4 L1639.1,196.3 L1639.6,196.1 L1640.0,196.0 L1640.5,195.8 L1640.9,195.5 L1641.2,195.2 L1645.2,191.8 L1645.6,191.5 L1645.9,191.1 L1646.2,190.7 L1646.4,190.3 L1646.6,189.9 L1646.8,189.5 L1646.9,189.0 L1647.0,188.5 L1648.4,175.5 L1648.4,175.1 L1648.4,174.7 L1648.3,174.2 L1645.9,159.2 L1645.9,158.8 L1642.9,146.8 L1642.7,146.3 L1642.5,145.8 L1642.3,145.4 L1642.0,145.0 L1641.6,144.6 L1641.3,144.2 L1640.9,143.9 L1640.5,143.6 L1640.0,143.4 L1639.5,143.2 L1634.5,141.6 L1634.0,141.5 L1633.5,141.4 L1633.0,141.4 L1632.5,141.4 L1632.0,141.5 L1631.5,141.6 L1631.1,141.8 L1630.6,142.0 L1630.2,142.3 L1629.8,142.6 L1629.4,142.9 L1629.1,143.3 L1628.8,143.7 L1625.2,149.3 L1624.9,149.7 L1624.7,150.2 L1624.6,150.7 L1624.5,151.2 L1624.4,151.7 Z" fill="#b09690" fill-rule="evenodd" filter="url(#b3)"/><path d="M1628.4,152.0 L1629.0,170.0 L1629.0,170.1 L1629.0,170.2 L1632.0,186.2 L1632.0,186.3 L1632.1,186.4 L1632.1,186.4 L1632.2,186.5 L1632.2,186.6 L1632.3,186.7 L1637.3,192.1 L1637.3,192.1 L1637.4,192.2 L1637.5,192.3 L1637.6,192.3 L1637.7,192.3 L1637.8,192.4 L1637.8,192.4 L1637.9,192.4 L1638.0,192.4 L1638.1,192.4 L1638.2,192.4 L1638.3,192.3 L1638.4,192.3 L1638.5,192.3 L1638.6,192.2 L1638.6,192.2 L1642.6,188.8 L1642.7,188.7 L1642.8,188.6 L1642.8,188.5 L1642.9,188.5 L1642.9,188.4 L1643.0,188.3 L1643.0,188.2 L1643.0,188.1 L1644.4,175.1 L1644.4,175.0 L1644.4,174.9 L1644.4,174.8 L1642.0,159.8 L1642.0,159.8 L1639.0,147.8 L1638.9,147.7 L1638.9,147.6 L1638.9,147.5 L1638.8,147.4 L1638.7,147.3 L1638.7,147.2 L1638.6,147.2 L1638.5,147.1 L1638.4,147.1 L1638.3,147.0 L1633.3,145.4 L1633.2,145.4 L1633.1,145.4 L1633.0,145.4 L1632.9,145.4 L1632.8,145.4 L1632.7,145.4 L1632.6,145.5 L1632.5,145.5 L1632.4,145.6 L1632.4,145.6 L1632.3,145.7 L1632.2,145.8 L1632.2,145.9 L1628.6,151.5 L1628.5,151.5 L1628.5,151.6 L1628.4,151.7 L1628.4,151.8 L1628.4,151.9 Z" fill="#a3877f" fill-rule="evenodd" filter="url(#b1)"/><path d="M1639.8,132.1 L1640.5,160.1 L1640.5,160.6 L1643.0,182.6 L1643.1,183.1 L1643.2,183.5 L1643.4,184.0 L1643.7,184.5 L1643.9,184.9 L1644.2,185.3 L1644.6,185.7 L1645.0,186.0 L1650.0,189.8 L1650.4,190.1 L1650.8,190.3 L1651.2,190.5 L1651.7,190.6 L1652.2,190.7 L1652.7,190.8 L1653.1,190.8 L1653.6,190.8 L1654.1,190.7 L1654.6,190.5 L1655.0,190.4 L1655.5,190.2 L1655.9,189.9 L1656.3,189.6 L1656.6,189.3 L1656.9,188.9 L1657.2,188.5 L1657.4,188.1 L1661.4,180.3 L1661.6,179.9 L1661.8,179.5 L1661.9,179.0 L1662.0,178.6 L1662.0,178.1 L1662.5,160.1 L1662.5,159.6 L1661.0,139.6 L1660.9,139.0 L1657.9,124.0 L1657.8,123.5 L1657.6,123.1 L1657.4,122.6 L1657.2,122.2 L1656.9,121.8 L1656.5,121.5 L1656.2,121.1 L1655.8,120.8 L1655.4,120.6 L1654.9,120.4 L1654.5,120.2 L1654.0,120.1 L1649.0,119.1 L1648.5,119.0 L1648.0,119.0 L1647.5,119.0 L1647.0,119.1 L1646.5,119.2 L1646.1,119.4 L1645.6,119.6 L1645.2,119.9 L1644.8,120.2 L1644.4,120.5 L1644.1,120.9 L1643.8,121.3 L1643.6,121.7 L1643.4,122.1 L1640.2,130.1 L1640.0,130.6 L1639.9,131.1 L1639.8,131.6 Z" fill="#b09690" fill-rule="evenodd" filter="url(#b3)"/><path d="M1643.8,132.0 L1644.5,160.0 L1644.5,160.1 L1647.0,182.1 L1647.0,182.2 L1647.0,182.3 L1647.1,182.4 L1647.1,182.5 L1647.2,182.6 L1647.2,182.7 L1647.3,182.7 L1647.4,182.8 L1652.4,186.6 L1652.5,186.7 L1652.6,186.7 L1652.6,186.7 L1652.7,186.8 L1652.8,186.8 L1652.9,186.8 L1653.0,186.8 L1653.1,186.8 L1653.2,186.8 L1653.3,186.7 L1653.4,186.7 L1653.5,186.7 L1653.6,186.6 L1653.7,186.6 L1653.7,186.5 L1653.8,186.4 L1653.8,186.3 L1653.9,186.3 L1657.9,178.5 L1657.9,178.4 L1658.0,178.3 L1658.0,178.2 L1658.0,178.1 L1658.0,178.0 L1658.5,160.0 L1658.5,159.9 L1657.0,139.9 L1657.0,139.8 L1654.0,124.8 L1654.0,124.7 L1653.9,124.6 L1653.9,124.5 L1653.8,124.4 L1653.8,124.4 L1653.7,124.3 L1653.6,124.2 L1653.6,124.2 L1653.5,124.1 L1653.4,124.1 L1653.3,124.0 L1653.2,124.0 L1648.2,123.0 L1648.1,123.0 L1648.0,123.0 L1647.9,123.0 L1647.8,123.0 L1647.7,123.0 L1647.6,123.1 L1647.5,123.1 L1647.4,123.2 L1647.4,123.2 L1647.3,123.3 L1647.2,123.4 L1647.2,123.5 L1647.1,123.5 L1647.1,123.6 L1643.9,131.6 L1643.8,131.7 L1643.8,131.8 L1643.8,131.9 Z" fill="#a3877f" fill-rule="evenodd" filter="url(#b1)"/><path d="M1655.0,120.3 L1656.0,135.3 L1656.1,135.8 L1656.2,136.3 L1660.2,151.3 L1665.1,171.2 L1665.3,171.6 L1665.4,172.1 L1665.6,172.5 L1665.9,172.8 L1666.2,173.2 L1666.5,173.5 L1671.0,178.0 L1671.3,178.4 L1671.7,178.7 L1672.1,178.9 L1672.6,179.1 L1673.0,179.3 L1673.5,179.4 L1674.0,179.5 L1674.5,179.5 L1675.0,179.5 L1675.5,179.4 L1676.0,179.3 L1676.4,179.1 L1676.9,178.9 L1677.3,178.7 L1677.7,178.4 L1678.0,178.0 L1678.4,177.7 L1678.7,177.3 L1678.9,176.9 L1679.1,176.4 L1679.3,176.0 L1679.4,175.5 L1679.5,175.0 L1679.5,174.5 L1679.5,140.0 L1679.5,139.6 L1679.4,139.2 L1676.9,124.2 L1676.8,123.7 L1676.7,123.3 L1672.7,112.3 L1672.5,111.8 L1672.3,111.4 L1672.0,111.0 L1671.7,110.6 L1671.4,110.3 L1671.0,110.0 L1670.6,109.7 L1670.2,109.5 L1669.7,109.3 L1669.3,109.2 L1664.3,107.9 L1663.8,107.8 L1663.3,107.7 L1662.8,107.7 L1662.4,107.7 L1661.9,107.8 L1661.4,108.0 L1661.0,108.1 L1660.6,108.3 L1660.1,108.6 L1659.8,108.9 L1659.4,109.2 L1659.1,109.6 L1658.8,110.0 L1658.6,110.4 L1658.4,110.8 L1655.4,118.1 L1655.2,118.5 L1655.1,119.0 L1655.0,119.4 L1655.0,119.9 Z" fill="#b09690" fill-rule="evenodd" filter="url(#b3)"/><path d="M1659.0,120.1 L1660.0,135.1 L1660.0,135.2 L1660.0,135.3 L1664.0,150.3 L1669.0,170.2 L1669.1,170.3 L1669.1,170.4 L1669.1,170.5 L1669.2,170.6 L1669.2,170.6 L1669.3,170.7 L1673.8,175.2 L1673.9,175.3 L1673.9,175.3 L1674.0,175.4 L1674.1,175.4 L1674.2,175.5 L1674.3,175.5 L1674.4,175.5 L1674.5,175.5 L1674.6,175.5 L1674.7,175.5 L1674.8,175.5 L1674.9,175.4 L1675.0,175.4 L1675.1,175.3 L1675.1,175.3 L1675.2,175.2 L1675.3,175.1 L1675.3,175.1 L1675.4,175.0 L1675.4,174.9 L1675.5,174.8 L1675.5,174.7 L1675.5,174.6 L1675.5,174.5 L1675.5,140.0 L1675.5,139.9 L1675.5,139.8 L1673.0,124.8 L1673.0,124.7 L1672.9,124.7 L1668.9,113.7 L1668.9,113.6 L1668.9,113.5 L1668.8,113.4 L1668.7,113.3 L1668.7,113.3 L1668.6,113.2 L1668.5,113.1 L1668.4,113.1 L1668.3,113.1 L1668.3,113.0 L1663.3,111.7 L1663.2,111.7 L1663.1,111.7 L1663.0,111.7 L1662.9,111.7 L1662.8,111.7 L1662.7,111.8 L1662.6,111.8 L1662.5,111.8 L1662.4,111.9 L1662.4,111.9 L1662.3,112.0 L1662.2,112.1 L1662.2,112.2 L1662.1,112.2 L1662.1,112.3 L1659.1,119.6 L1659.0,119.7 L1659.0,119.8 L1659.0,119.9 L1659.0,120.0 Z" fill="#a3877f" fill-rule="evenodd" filter="url(#b1)"/><path d="M1613.7,128.2 L1613.7,136.9 L1615.1,145.1 L1619.5,146.6 L1622.3,141.7 L1622.5,132.2 L1619.1,123.0 L1615.8,122.4 Z" fill="#d2bf84" fill-rule="evenodd" filter="url(#b1)"/><path d="M1630.6,118.3 L1631.2,135.2 L1633.2,136.3 L1635.2,127.9 L1634.8,114.9 L1632.6,114.2 Z" fill="#d2bf84" fill-rule="evenodd" filter="url(#b1)"/><path d="M1630.6,152.3 L1631.2,169.9 L1634.1,185.4 L1638.1,189.7 L1640.9,187.4 L1642.2,175.0 L1639.8,160.2 L1637.0,148.9 L1633.5,147.8 Z" fill="#d2bf84" fill-rule="evenodd" filter="url(#b1)"/><path d="M1661.2,120.2 L1662.2,134.8 L1666.2,149.7 L1666.2,149.7 L1671.1,169.4 L1673.3,171.6 L1673.3,140.1 L1670.8,125.3 L1667.1,115.0 L1663.7,114.1 Z" fill="#d2bf84" fill-rule="evenodd" filter="url(#b1)"/><path d="M1668.7,141.0 L1674.0,141.0 L1674.0,174.5 L1670.0,172.0 Z" fill="#19a6b0" filter="url(#b1)"/><path d="M1670.0,150.0 L1674.0,150.0 L1674.0,168.0 L1671.0,166.0 Z" fill="#2070d8" filter="url(#b1)"/><path d="M1194.9,111.6 L1196.3,110.3 L1197.0,108.9 L1198.4,107.6 L1199.9,106.4 L1201.6,105.7 L1203.5,105.4 L1205.2,104.8 L1206.8,104.0 L1208.4,103.5 L1210.1,102.9 L1211.9,102.4 L1213.2,103.3 L1214.4,104.4 L1215.4,105.8 L1216.4,106.9 L1217.7,108.5 L1218.9,110.1 L1219.5,111.4 L1218.6,113.1 L1218.2,115.4 L1220.1,116.2 L1221.9,117.1 L1223.7,118.0 L1225.4,119.1 L1226.9,120.5 L1228.2,121.9 L1228.7,123.8 L1229.5,125.4 L1230.6,126.9 L1231.8,128.4 L1233.2,129.5 L1234.4,130.9 L1235.8,132.0 L1236.9,133.0 L1238.6,133.6 L1240.3,133.8 L1241.9,134.2 L1243.6,134.9 L1245.1,136.1 L1246.6,137.2 L1248.3,138.1 L1250.0,139.2 L1251.7,139.5 L1253.5,139.4 L1255.2,140.0 L1256.7,140.5 L1258.5,141.1 L1260.3,141.7 L1262.0,142.5 L1263.7,143.4 L1265.2,144.0 L1266.7,144.8 L1268.2,145.9 L1270.1,146.6 L1271.8,145.9 L1273.5,145.4 L1275.3,145.1 L1276.9,144.4 L1278.6,143.9 L1280.4,143.8 L1282.2,143.5 L1283.9,143.1 L1285.7,142.9 L1287.5,142.7 L1289.2,142.2 L1291.0,142.1 L1292.7,141.9 L1294.4,141.2 L1296.1,140.9 L1297.8,140.0 L1299.4,139.3 L1301.3,139.7 L1303.1,139.6 L1304.7,138.5 L1306.4,137.6 L1308.2,137.7 L1310.0,137.7 L1311.8,137.3 L1313.4,136.7 L1315.1,136.0 L1317.0,136.3 L1318.9,136.9 L1320.6,136.5 L1322.2,135.4 L1323.0,133.2 L1324.3,131.5 L1326.1,131.4 L1327.7,130.7 L1329.3,129.8 L1331.0,129.5 L1332.6,129.5 L1334.2,130.4 L1335.9,130.8 L1337.6,131.1 L1339.3,131.3 L1340.8,131.5 L1341.7,133.5 L1342.9,135.5 L1343.9,137.6 L1345.1,139.8 L1346.9,140.1 L1348.7,140.5 L1350.3,141.3 L1351.6,142.6 L1353.3,143.5 L1355.2,144.3 L1357.1,144.9 L1358.9,145.2 L1360.5,145.8 L1362.0,146.3 L1363.6,146.6 L1365.1,147.4 L1366.7,147.7 L1368.4,147.3 L1369.9,147.0 L1371.7,146.8 L1373.4,146.9 L1375.2,146.6 L1376.9,146.2 L1378.6,145.9 L1380.3,145.7 L1382.0,145.9 L1383.6,145.9 L1385.3,146.1 L1387.0,146.1 L1388.6,145.5 L1390.3,145.1 L1391.9,145.7 L1393.6,145.8 L1395.3,145.7 L1397.0,146.0 L1398.7,146.4 L1400.3,147.1 L1402.0,147.2 L1403.6,146.7 L1405.2,146.3 L1406.8,145.6 L1408.4,145.1 L1410.1,145.6 L1411.8,146.0 L1413.4,145.5 L1415.0,145.0 L1416.8,144.8 L1418.4,145.6 L1419.9,146.5 L1421.6,147.1 L1423.4,147.2 L1425.3,147.0 L1426.9,147.7 L1428.4,148.8 L1430.2,149.1 L1432.0,149.1 L1433.5,149.9 L1435.1,150.8 L1436.9,150.8 L1438.7,150.9 L1440.3,151.5 L1441.9,152.3 L1443.4,153.1 L1445.2,153.2 L1446.9,153.2 L1448.5,153.9 L1450.2,154.1 L1451.9,154.5 L1453.4,155.3 L1455.2,155.1 L1457.0,155.0 L1458.7,155.5 L1460.4,156.0 L1462.0,156.5 L1463.6,157.3 L1465.1,158.2 L1466.9,158.4 L1468.2,159.6 L1469.3,161.1 L1470.9,161.9 L1472.5,162.8 L1473.7,164.1 L1475.1,165.3 L1476.5,166.3 L1477.7,167.7 L1478.9,169.1 L1480.7,169.7 L1482.4,170.4 L1483.7,171.6 L1485.2,172.7 L1486.5,173.8 L1487.7,175.2 L1489.1,176.3 L1490.4,177.5 L1491.8,178.7 L1493.2,179.5 L1494.5,180.4 L1495.5,181.7 L1496.5,183.0 L1497.7,184.0 L1499.0,185.0 L1500.3,186.1 L1502.0,186.2 L1503.9,185.7 L1505.6,186.1 L1506.6,187.5 L1507.8,186.1 L1508.3,184.4 L1509.5,182.9 L1510.7,181.5 L1511.4,179.8 L1511.9,178.0 L1511.4,176.3 L1511.2,174.6 L1511.1,172.9 L1511.1,171.2 L1510.8,169.5 L1510.2,167.8 L1509.7,166.2 L1509.6,164.5 L1509.2,162.8 L1508.4,161.3 L1508.0,159.7 L1508.0,158.0 L1507.8,156.3 L1507.1,154.4 L1507.2,152.8 L1508.0,151.3 L1509.0,149.9 L1509.3,148.3 L1509.5,146.2 L1511.6,145.5 L1513.6,145.0 L1514.7,146.5 L1515.8,148.0 L1517.2,148.9 L1518.1,150.3 L1518.4,151.9 L1518.9,153.4 L1519.2,155.0 L1519.4,156.9 L1521.0,157.2 L1522.7,157.6 L1524.1,158.4 L1525.5,159.3 L1527.2,160.3 L1529.1,161.1 L1530.9,161.6 L1533.0,161.8 L1534.6,161.7 L1536.2,162.0 L1537.8,162.0 L1539.4,162.0 L1541.0,162.4 L1542.7,162.6 L1544.3,162.7 L1546.0,162.3 L1547.7,162.2 L1549.3,161.9 L1550.4,161.9 L1550.7,160.3 L1551.5,158.8 L1552.2,157.3 L1552.6,155.8 L1552.9,154.2 L1553.0,152.6 L1552.5,151.0 L1552.1,149.3 L1551.2,147.7 L1550.6,146.1 L1550.3,144.4 L1549.9,142.6 L1549.7,140.8 L1549.5,139.0 L1549.4,137.2 L1549.1,135.4 L1548.7,133.6 L1548.2,131.9 L1547.8,130.2 L1547.7,128.4 L1547.5,126.6 L1546.9,124.9 L1546.0,123.3 L1546.0,121.6 L1545.6,120.0 L1544.7,118.7 L1544.4,117.1 L1544.3,115.4 L1543.5,114.0 L1542.7,112.6 L1542.3,110.9 L1542.2,109.2 L1541.9,107.6 L1542.0,105.9 L1541.8,104.2 L1541.5,102.4 L1543.3,102.4 L1545.2,102.6 L1547.0,102.8 L1548.3,102.5 L1548.7,104.3 L1549.3,106.0 L1549.3,107.7 L1549.2,109.5 L1549.5,111.3 L1549.7,112.9 L1548.8,114.4 L1548.6,116.3 L1548.2,118.0 L1547.0,119.1 L1547.1,120.8 L1547.8,122.3 L1548.3,123.9 L1548.7,125.8 L1550.5,126.1 L1552.4,126.2 L1554.1,126.8 L1555.8,127.4 L1557.6,127.6 L1559.3,128.4 L1560.4,130.0 L1561.7,131.0 L1563.3,131.6 L1564.8,132.3 L1566.6,132.5 L1568.3,132.8 L1569.4,134.0 L1570.3,135.5 L1572.0,136.2 L1573.5,137.1 L1574.2,138.8 L1575.2,140.2 L1576.7,141.1 L1578.0,142.3 L1579.6,142.9 L1581.3,143.3 L1582.9,143.8 L1584.6,144.2 L1586.6,144.5 L1587.7,142.8 L1588.6,141.0 L1590.5,140.1 L1590.6,138.0 L1589.7,136.4 L1588.7,134.8 L1588.1,133.0 L1587.2,131.4 L1585.9,129.9 L1584.6,128.5 L1583.5,127.0 L1582.4,125.4 L1582.0,123.3 L1582.6,121.8 L1582.7,120.1 L1583.6,118.6 L1584.4,117.7 L1586.1,117.2 L1587.6,116.1 L1589.1,115.2 L1590.7,114.5 L1593.2,114.9 L1592.6,116.9 L1592.8,118.6 L1593.7,120.1 L1593.9,121.8 L1594.4,123.4 L1594.2,125.0 L1594.1,126.7 L1594.6,128.5 L1594.3,130.2 L1593.3,131.6 L1591.9,132.8 L1590.8,134.2 L1590.3,135.9 L1590.0,138.5 L1591.3,139.7 L1592.5,141.1 L1593.9,142.1 L1595.4,143.2 L1596.8,144.2 L1598.7,144.8 L1600.2,145.8 L1601.7,147.2 L1603.6,147.5 L1605.8,147.9 L1606.6,149.5 L1607.5,150.9 L1608.5,152.3 L1609.5,153.7 L1611.0,154.6 L1612.5,155.4 L1613.8,156.7 L1614.3,158.2 L1614.8,159.7 L1614.8,161.5 L1614.7,163.2 L1616.0,164.4 L1617.0,165.8 L1617.0,167.5 L1617.5,169.0 L1618.4,170.4 L1619.0,171.9 L1619.6,173.4 L1620.1,174.9 L1620.5,176.5 L1621.0,177.8 L1621.6,179.6 L1622.4,181.3 L1623.0,183.0 L1623.2,184.8 L1623.0,186.7 L1623.3,188.5 L1623.9,190.2 L1623.1,191.8 L1622.0,193.4 L1622.2,195.3 L1622.8,197.2 L1622.4,198.9 L1621.8,200.7 L1623.1,202.1 L1624.4,203.6 L1625.4,204.9 L1626.2,206.6 L1626.8,208.3 L1626.9,210.2 L1627.1,212.0 L1627.6,213.7 L1628.2,215.4 L1628.5,218.0 L1626.8,219.0 L1624.9,219.9 L1622.0,220.8 L1621.5,219.2 L1621.6,217.5 L1621.0,215.9 L1620.5,214.4 L1620.0,212.8 L1619.3,211.2 L1619.4,209.4 L1619.2,207.6 L1618.8,205.8 L1618.4,204.1 L1618.1,202.3 L1617.8,200.6 L1616.6,199.1 L1615.2,197.7 L1614.4,196.0 L1614.3,194.0 L1613.8,192.1 L1612.6,190.8 L1611.5,189.5 L1610.5,188.0 L1609.6,186.5 L1608.4,185.3 L1607.0,184.2 L1605.8,182.9 L1604.7,181.5 L1603.3,180.4 L1601.9,179.3 L1600.7,178.3 L1599.0,177.5 L1597.6,176.1 L1596.4,174.3 L1594.8,173.4 L1592.6,173.1 L1590.9,173.4 L1589.3,174.2 L1587.6,175.0 L1586.0,174.6 L1584.3,173.5 L1582.5,174.5 L1581.5,176.3 L1580.4,177.4 L1581.8,178.8 L1583.4,180.0 L1584.8,181.4 L1585.8,182.8 L1587.0,184.1 L1588.4,185.2 L1589.7,186.4 L1590.9,187.9 L1590.9,189.7 L1591.2,191.3 L1591.8,192.8 L1592.5,194.3 L1593.6,195.6 L1594.5,196.9 L1595.1,198.5 L1595.2,200.3 L1595.2,202.2 L1595.2,204.0 L1595.5,205.8 L1596.4,207.5 L1597.1,209.2 L1597.0,211.2 L1596.3,212.6 L1595.6,214.1 L1594.5,215.4 L1593.9,216.8 L1593.9,218.6 L1593.1,220.0 L1592.5,221.5 L1592.5,223.2 L1591.7,224.6 L1591.1,226.1 L1590.6,227.6 L1589.4,228.9 L1588.9,230.4 L1588.5,232.1 L1587.0,231.3 L1585.5,230.5 L1583.9,229.9 L1582.6,229.7 L1581.2,228.3 L1579.7,227.0 L1578.8,225.4 L1577.7,224.0 L1576.1,223.0 L1575.0,221.3 L1573.4,220.4 L1572.4,220.0 L1571.0,221.4 L1569.2,222.4 L1567.6,223.6 L1566.2,224.9 L1564.7,226.1 L1563.2,227.2 L1561.3,228.3 L1559.6,228.1 L1558.0,227.9 L1556.3,227.7 L1554.7,227.7 L1552.9,227.7 L1551.2,228.5 L1549.5,229.4 L1548.0,230.5 L1546.8,231.9 L1545.0,231.3 L1543.2,230.7 L1541.7,229.6 L1540.2,228.4 L1538.5,227.7 L1536.6,227.3 L1534.7,226.9 L1533.0,225.9 L1531.7,224.4 L1530.5,223.4 L1529.4,221.9 L1528.2,220.5 L1527.7,218.8 L1527.2,217.2 L1525.9,216.3 L1524.7,215.2 L1523.3,214.3 L1521.8,213.6 L1520.5,212.5 L1519.6,211.1 L1518.2,210.3 L1516.5,209.9 L1515.2,209.0 L1514.1,207.7 L1512.7,206.8 L1511.3,206.0 L1509.9,204.9 L1508.2,205.0 L1506.6,204.7 L1505.2,203.9 L1503.6,203.4 L1501.9,203.2 L1500.2,203.1 L1498.5,203.3 L1496.8,203.1 L1495.3,202.2 L1493.6,201.6 L1491.9,202.0 L1490.2,202.0 L1488.6,202.4 L1486.9,203.1 L1485.2,203.0 L1483.5,203.1 L1482.0,204.0 L1479.9,204.4 L1478.4,203.5 L1476.8,202.7 L1475.1,202.3 L1473.3,201.9 L1471.7,201.3 L1469.8,200.6 L1468.3,199.4 L1467.3,197.8 L1466.1,196.2 L1464.6,195.1 L1463.2,193.8 L1462.0,192.6 L1460.8,191.5 L1459.9,190.0 L1459.2,188.3 L1458.2,187.0 L1456.9,185.9 L1455.3,184.9 L1453.6,184.6 L1451.8,184.5 L1450.1,184.1 L1448.6,183.1 L1446.9,182.7 L1445.1,182.9 L1443.4,182.4 L1441.9,181.4 L1440.2,181.2 L1438.4,181.3 L1436.9,180.4 L1435.3,179.7 L1433.5,179.7 L1431.8,179.8 L1430.1,179.7 L1428.4,179.3 L1426.9,178.0 L1425.4,177.2 L1423.5,177.6 L1421.8,177.6 L1420.1,177.2 L1418.4,176.9 L1416.8,176.3 L1415.1,176.1 L1413.3,176.3 L1411.6,176.1 L1410.0,175.3 L1408.4,174.3 L1406.8,173.6 L1405.1,173.3 L1403.3,173.1 L1401.6,172.5 L1400.0,171.9 L1398.3,171.9 L1396.7,172.1 L1395.0,172.5 L1393.4,172.7 L1391.7,172.8 L1390.1,172.8 L1388.5,173.2 L1386.9,173.5 L1385.2,173.8 L1383.6,174.0 L1385.2,175.2 L1386.9,176.1 L1388.5,177.2 L1390.2,178.0 L1390.1,179.9 L1389.6,181.8 L1389.0,183.3 L1389.7,184.8 L1390.1,186.4 L1390.6,188.0 L1391.5,189.4 L1392.4,191.1 L1394.2,191.6 L1396.3,191.5 L1397.9,192.2 L1399.3,193.4 L1400.9,194.3 L1402.3,195.6 L1403.5,196.7 L1405.0,197.8 L1406.5,198.8 L1407.8,200.0 L1409.0,201.3 L1410.3,202.4 L1411.8,203.7 L1412.1,205.4 L1412.5,207.0 L1413.3,208.5 L1414.1,210.0 L1415.0,211.5 L1415.8,212.9 L1416.6,214.4 L1416.9,216.1 L1417.2,217.8 L1418.1,219.3 L1419.0,220.7 L1420.1,222.3 L1421.2,223.8 L1422.3,225.3 L1423.3,226.9 L1424.8,228.2 L1426.5,229.0 L1427.4,230.5 L1427.8,232.3 L1428.5,234.0 L1429.4,235.5 L1430.9,236.5 L1432.2,237.7 L1433.5,239.1 L1434.9,240.3 L1436.4,241.3 L1438.2,241.9 L1440.0,242.5 L1441.5,243.3 L1442.9,244.7 L1444.2,246.1 L1445.2,247.6 L1446.1,249.3 L1447.1,250.9 L1448.1,252.2 L1449.2,253.6 L1450.0,255.1 L1450.8,256.7 L1449.0,255.7 L1447.9,254.1 L1446.9,252.5 L1445.4,251.5 L1444.2,250.1 L1442.9,248.8 L1441.6,247.6 L1439.6,246.4 L1438.0,247.0 L1436.5,247.8 L1434.9,248.4 L1433.3,248.5 L1431.7,248.6 L1430.0,248.8 L1428.1,248.7 L1426.5,249.9 L1425.5,251.7 L1424.2,253.2 L1422.8,254.6 L1422.4,256.5 L1421.8,258.3 L1421.7,260.3 L1421.6,262.2 L1421.0,264.0 L1421.7,265.8 L1422.6,267.6 L1422.8,269.5 L1423.2,271.3 L1423.9,272.8 L1424.2,274.5 L1424.9,276.1 L1425.5,277.7 L1426.1,279.7 L1427.8,280.3 L1429.7,280.8 L1431.2,281.8 L1433.0,282.5 L1434.9,282.8 L1436.8,283.8 L1437.6,285.8 L1438.4,287.8 L1440.0,289.1 L1441.8,290.3 L1441.7,292.2 L1441.3,294.1 L1441.1,295.9 L1440.9,297.5 L1440.0,298.9 L1439.4,300.5 L1439.0,302.2 L1438.5,303.9 L1437.9,305.5 L1437.2,307.3 L1436.6,309.1 L1435.6,310.7 L1434.1,312.6 L1432.1,312.4 L1430.2,312.1 L1428.3,312.1 L1426.8,312.3 L1425.3,311.5 L1423.8,310.8 L1422.2,310.2 L1420.5,309.8 L1419.0,309.0 L1417.4,308.5 L1415.9,307.9 L1414.6,306.6 L1413.0,305.9 L1411.3,305.7 L1409.8,304.8 L1408.1,304.5 L1406.3,304.6 L1404.7,304.0 L1403.1,303.3 L1401.4,302.9 L1399.6,302.8 L1397.9,302.6 L1396.4,301.7 L1394.9,300.6 L1393.3,300.0 L1391.7,299.4 L1390.1,299.1 L1388.3,299.0 L1386.7,298.5 L1385.3,297.6 L1384.0,296.4 L1382.6,295.4 L1381.2,294.4 L1380.1,293.1 L1378.6,292.1 L1376.8,291.7 L1375.7,290.3 L1376.2,288.2 L1375.0,286.5 L1373.8,284.8 L1373.4,282.5 L1374.3,281.1 L1375.4,279.7 L1376.9,278.7 L1378.3,277.4 L1378.8,275.5 L1379.3,273.6 L1379.9,271.8 L1380.5,270.2 L1381.2,268.5 L1382.2,267.2 L1383.3,265.9 L1384.6,264.4 L1385.8,262.8 L1387.1,261.3 L1388.1,260.0 L1388.6,258.2 L1389.4,256.4 L1389.9,254.5 L1390.6,252.7 L1391.2,250.4 L1389.6,249.1 L1387.8,248.1 L1386.1,247.0 L1384.6,245.4 L1384.3,243.4 L1383.7,241.5 L1383.3,239.3 L1385.2,239.2 L1387.0,239.3 L1388.9,239.7 L1391.1,239.5 L1390.8,237.6 L1390.6,235.8 L1390.8,233.9 L1389.4,232.9 L1387.9,232.1 L1386.1,231.9 L1384.4,231.6 L1382.9,230.9 L1381.5,230.0 L1380.1,228.7 L1378.4,227.8 L1376.9,226.7 L1376.0,224.8 L1374.6,223.6 L1372.6,223.3 L1371.0,222.7 L1369.8,221.4 L1368.4,220.4 L1366.7,219.7 L1365.4,218.6 L1364.3,217.4 L1362.9,216.2 L1361.5,214.9 L1359.7,214.5 L1357.9,214.2 L1356.4,213.1 L1354.8,212.3 L1353.0,211.9 L1351.4,210.9 L1349.8,210.3 L1348.1,210.4 L1346.4,210.3 L1344.8,209.7 L1343.2,209.4 L1341.5,209.2 L1340.0,208.5 L1338.4,207.7 L1336.6,207.2 L1334.8,206.9 L1333.1,206.4 L1331.6,205.2 L1330.0,204.4 L1328.2,203.9 L1326.8,202.9 L1325.4,201.7 L1323.9,200.7 L1322.4,200.0 L1322.1,198.4 L1322.1,196.7 L1322.1,195.1 L1321.6,193.5 L1321.5,191.9 L1321.7,190.1 L1321.3,188.5 L1320.7,186.8 L1320.3,185.2 L1319.8,183.6 L1319.0,182.2 L1318.7,180.5 L1318.2,178.9 L1317.5,177.9 L1316.4,176.4 L1315.7,174.6 L1314.4,173.4 L1313.0,172.3 L1311.9,170.8 L1310.3,169.9 L1308.7,169.1 L1307.2,168.0 L1305.4,167.4 L1303.8,166.5 L1302.6,165.0 L1301.5,163.3 L1299.9,162.7 L1298.2,162.3 L1296.9,161.3 L1295.5,160.4 L1294.0,159.7 L1292.5,159.0 L1290.9,158.4 L1289.0,158.3 L1287.2,158.0 L1285.5,157.3 L1283.9,156.5 L1282.1,155.9 L1280.4,155.3 L1278.8,154.5 L1277.0,154.2 L1275.3,153.7 L1273.7,152.8 L1272.1,152.2 L1270.2,152.0 L1268.3,151.5 L1266.6,150.9 L1265.0,149.8 L1263.6,148.2 L1261.9,147.6 L1260.2,147.5 L1258.6,147.9 L1257.0,148.2 L1255.3,147.7 L1253.6,147.5 L1251.9,147.5 L1250.3,146.9 L1248.7,146.6 L1247.0,147.3 L1245.4,148.1 L1243.6,147.9 L1241.8,147.5 L1240.1,147.7 L1238.4,148.3 L1237.0,149.2 L1235.6,150.0 L1234.3,151.0 L1233.0,152.0 L1231.6,152.8 L1230.0,153.3 L1228.2,153.4 L1226.6,154.1 L1225.2,155.5 L1223.5,156.1 L1221.8,155.5 L1220.2,154.9 L1219.1,155.0 L1218.6,153.4 L1217.9,151.8 L1216.7,150.3 L1216.3,148.4 L1217.8,147.0 L1218.4,145.3 L1218.5,143.4 L1217.0,142.0 L1215.1,141.2 L1213.0,140.5 L1211.9,139.1 L1210.9,137.6 L1209.7,136.3 L1208.3,135.3 L1206.4,134.9 L1204.7,134.1 L1203.3,132.8 L1201.8,131.7 L1199.8,130.4 L1198.0,128.2 L1199.9,127.1 L1200.6,126.1 L1202.0,124.7 L1203.2,123.6 L1201.3,123.0 L1199.7,121.8 L1198.5,120.0 L1197.5,118.7 L1196.0,117.9 L1194.8,116.7 L1194.9,115.0 L1194.6,113.4 Z" fill="none" stroke="#000000" stroke-width="1.5" stroke-linejoin="round"/><path d="M1555.6,183.5 L1557.5,183.4 L1559.2,182.6 L1560.8,182.2 L1562.4,183.4 L1564.3,184.0 L1566.3,184.8 L1567.2,186.3 L1567.8,188.0 L1568.9,189.4 L1569.9,191.2 L1568.6,192.3 L1567.6,193.6 L1565.9,195.0 L1564.4,194.2 L1562.8,193.6 L1561.2,193.6 L1559.6,193.8 L1557.3,193.9 L1556.4,192.0 L1556.2,189.7 L1554.9,188.0 L1554.5,186.3 L1555.1,184.6 Z" fill="none" stroke="#000000" stroke-width="1.5" stroke-linejoin="round"/><path d="M1358.0,175.0 L1359.8,173.6 L1361.9,172.9 L1363.6,172.8 L1365.3,172.5 L1367.0,172.5 L1368.7,172.4 L1370.3,171.9 L1371.9,171.4 L1373.6,171.1 L1375.2,170.9 L1376.9,170.9 L1378.6,171.8 L1380.2,172.6 L1381.6,174.0 L1383.6,174.0" fill="none" stroke="#000000" stroke-width="1.5" stroke-linejoin="round"/><path d="M1282.0,150.0 L1290.0,149.0 L1300.0,150.5 L1299.0,152.2 L1290.0,152.0 L1283.0,151.8 Z" fill="#7a2d92"/><path d="M1282.0,149.9 L1283.6,150.0 L1285.3,150.1 L1286.8,149.7 L1288.4,149.1 L1290.0,149.0 L1291.6,149.6 L1293.3,150.0 L1295.0,149.9 L1296.7,149.9 L1298.3,150.5 L1299.7,150.3 L1299.0,152.0 L1297.2,151.6 L1295.4,151.6 L1293.6,152.3 L1291.8,152.4 L1290.0,152.6 L1288.2,152.7 L1286.5,152.1 L1284.8,151.7 L1283.0,151.8 Z" fill="none" stroke="#7a2d92" stroke-width="1.5" stroke-linejoin="round"/><path d="M1301.9,156.9 L1304.5,154.5 L1306.3,154.8 L1308.2,155.1 L1310.0,154.7 L1311.7,154.9 L1313.7,155.0 L1315.4,154.2 L1317.2,153.4 L1318.8,153.3 L1318.3,151.7 L1318.1,150.2 L1316.0,150.1 L1313.9,150.1 L1314.7,148.4 L1316.1,147.3 L1318.0,146.6 L1319.3,145.4 L1320.4,144.2 L1322.3,143.3 L1323.9,142.1 L1325.4,140.5 L1327.0,139.4 L1328.9,139.0 L1330.9,139.3 L1333.1,138.9 L1333.8,137.0 L1335.6,135.1 L1336.7,136.7 L1337.1,138.6 L1337.4,140.4 L1338.3,142.6 L1339.0,144.9 L1337.7,146.8 L1336.9,149.0 L1334.9,151.0 L1335.6,153.3 L1336.9,155.4 L1338.5,155.7 L1339.7,156.6 L1341.1,158.3 L1343.2,159.4 L1344.3,161.0 L1345.2,162.7 L1346.0,164.8 L1344.9,166.8 L1344.0,168.8 L1343.7,171.3 L1345.3,173.1 L1346.8,175.6 L1345.6,176.9 L1344.5,178.2 L1343.9,179.3 L1343.6,181.1 L1343.1,182.8 L1342.8,184.4 L1341.5,185.7 L1341.0,187.5 L1339.7,188.9 L1337.9,189.1 L1336.1,189.5 L1334.8,190.8 L1333.8,192.5 L1332.9,193.9 L1332.0,192.5 L1331.1,191.0 L1330.2,189.6 L1329.8,188.5 L1328.6,186.6 L1327.8,184.6 L1327.8,182.7 L1326.8,180.9 L1326.1,179.1 L1326.3,177.4 L1325.1,176.3 L1323.5,175.7 L1322.2,174.6 L1321.4,173.1 L1320.3,171.8 L1318.9,170.8 L1317.4,170.0 L1315.5,169.6 L1314.0,168.7 L1312.9,167.2 L1311.6,166.1 L1310.1,165.0 L1308.6,163.8 L1307.1,162.7 L1305.6,161.6 L1304.8,160.0 L1303.5,158.8 Z" fill="none" stroke="#7a2d92" stroke-width="1.5" stroke-linejoin="round"/><path d="M1340.1,150.3 L1341.8,150.2 L1343.4,149.9 L1345.0,149.0 L1346.9,149.5 L1348.1,151.0 L1349.5,152.8 L1351.4,152.6 L1353.2,152.1 L1355.1,151.7 L1356.9,151.0 L1358.8,150.6 L1360.4,150.8 L1362.0,151.2 L1363.7,151.3 L1365.3,151.3 L1366.9,151.2 L1368.5,151.1 L1370.0,150.4 L1371.7,149.9 L1373.4,150.3 L1375.1,150.3 L1376.8,150.1 L1378.5,149.6 L1380.1,149.2 L1381.8,148.9 L1383.5,148.4 L1385.2,148.0 L1386.9,148.0 L1388.6,147.9 L1390.3,147.8 L1391.9,148.2 L1393.6,149.0 L1395.2,149.7 L1396.8,149.6 L1398.5,149.1 L1400.1,149.0 L1401.8,148.9 L1403.4,148.9 L1405.1,148.8 L1406.7,148.7 L1408.4,148.6 L1410.1,148.6 L1411.7,149.1 L1413.4,149.3 L1415.1,149.2 L1416.7,149.7 L1418.4,150.2 L1420.1,150.4 L1421.7,150.8 L1422.9,151.2 L1423.9,152.7 L1425.4,153.9 L1426.4,155.5 L1426.8,157.4 L1427.6,159.1 L1428.7,160.5 L1430.1,161.9 L1431.8,161.4 L1433.5,161.8 L1435.1,162.6 L1436.8,162.8 L1438.4,162.9 L1440.1,162.5 L1441.9,162.0 L1443.4,162.1 L1445.2,162.3 L1446.9,162.6 L1448.6,162.6 L1450.2,161.9 L1451.8,160.9 L1453.4,160.4 L1455.1,160.5 L1456.9,160.8 L1458.2,160.7 L1459.9,161.5 L1461.6,162.0 L1463.4,162.5 L1465.1,163.2 L1466.9,163.6 L1468.6,164.3 L1469.9,165.4 L1471.1,166.6 L1472.6,167.5 L1473.5,169.0 L1474.4,170.5 L1475.2,172.0 L1476.7,173.0 L1478.6,173.7 L1479.1,175.5 L1479.9,177.2 L1481.9,177.4 L1483.6,178.0 L1484.8,179.4 L1486.0,180.7 L1487.7,181.5 L1489.4,182.0 L1490.8,183.0 L1492.0,184.4 L1493.3,185.9 L1494.9,186.8 L1496.8,187.0 L1498.8,186.8 L1500.6,187.3 L1502.0,188.7 L1503.7,189.6 L1504.8,188.0 L1506.1,186.6 L1507.5,185.2 L1508.5,183.9 L1509.0,182.2 L1509.6,180.5 L1510.1,178.8 L1510.5,177.1 L1510.5,175.3 L1510.7,173.5 L1510.8,171.8 L1510.5,170.0 L1510.8,168.3 L1511.4,166.6 L1511.6,164.9 L1511.6,163.1 L1511.9,161.4 L1511.9,159.7 L1511.3,157.7 L1511.9,155.8 L1514.3,154.0 L1515.1,155.8 L1516.1,157.4 L1517.2,158.6 L1517.7,160.1 L1518.2,161.7 L1518.3,163.3 L1518.5,164.9 L1519.3,166.6 L1521.0,167.3 L1522.6,168.0 L1524.1,169.0 L1525.5,169.7 L1527.2,169.8 L1528.7,170.5 L1530.3,171.2 L1531.9,171.5 L1533.5,171.6 L1535.4,171.9 L1536.5,173.2 L1537.8,174.2 L1539.1,175.2 L1539.8,176.9 L1540.5,178.1 L1541.5,179.6 L1542.0,181.1 L1541.5,182.9 L1541.7,184.5 L1542.7,186.0 L1543.8,187.4 L1543.9,189.3 L1544.2,191.1 L1545.3,192.5 L1546.5,194.1 L1548.1,194.7 L1549.9,195.0 L1551.3,195.8 L1552.3,197.1 L1553.3,198.5 L1554.3,199.9 L1555.5,201.0 L1557.0,201.7 L1558.5,202.5 L1559.7,203.5 L1560.8,204.8 L1561.6,205.8 L1562.5,207.3 L1563.2,208.9 L1564.2,210.4 L1565.4,211.7 L1566.2,213.2 L1565.3,214.6 L1564.4,216.1 L1563.3,217.5 L1562.4,219.0 L1560.7,219.5 L1559.0,219.9 L1557.4,220.7 L1555.7,221.1 L1554.0,221.4 L1552.5,222.2 L1551.0,222.6 L1549.4,222.8 L1547.8,223.1 L1546.3,223.9 L1545.0,224.8 L1544.3,223.3 L1543.0,222.3 L1541.3,221.5 L1540.3,220.2 L1539.5,218.8 L1538.7,217.6 L1537.2,216.9 L1535.9,215.9 L1534.8,214.6 L1533.4,213.8 L1531.9,213.2 L1530.6,212.3 L1529.3,211.3 L1527.9,210.4 L1526.5,209.6 L1525.1,208.6 L1523.7,207.9 L1522.0,207.5 L1520.7,206.6 L1519.4,205.5 L1517.8,204.8 L1516.2,204.2 L1514.7,203.3 L1513.4,202.1 L1511.9,201.1 L1510.1,200.8 L1508.4,200.4 L1506.9,199.7 L1505.1,199.5 L1503.4,199.3 L1502.0,198.3 L1500.3,198.0 L1498.6,197.7 L1497.0,197.2 L1495.3,197.1 L1493.7,197.5 L1492.1,198.3 L1490.4,198.4 L1488.6,197.9 L1486.9,197.7 L1485.2,197.8 L1483.5,198.1 L1481.9,198.8 L1479.8,199.3 L1478.5,198.3 L1477.2,197.3 L1475.9,196.3 L1474.6,195.4 L1472.9,194.9 L1471.2,194.1 L1470.3,192.7 L1469.5,191.3 L1468.8,189.7 L1467.6,188.5 L1466.5,187.4 L1465.4,186.2 L1464.0,185.2 L1463.0,184.5 L1461.6,183.5 L1460.6,181.9 L1459.5,180.4 L1457.9,179.9 L1456.0,179.8 L1454.5,179.1 L1453.2,178.1 L1451.7,177.3 L1450.1,176.7 L1448.5,176.1 L1446.9,175.6 L1445.2,175.2 L1443.5,174.9 L1441.8,174.7 L1440.2,174.4 L1438.5,174.2 L1436.7,174.2 L1434.9,174.5 L1433.2,174.1 L1431.6,173.3 L1430.1,172.5 L1428.5,171.5 L1426.9,171.0 L1425.2,170.5 L1423.5,170.1 L1421.6,170.4 L1420.0,169.8 L1418.5,168.5 L1416.7,168.5 L1415.0,169.0 L1413.3,168.6 L1411.7,168.1 L1410.1,167.3 L1408.4,167.0 L1406.7,167.2 L1405.0,167.1 L1403.4,167.0 L1401.7,166.7 L1400.1,166.4 L1398.3,166.7 L1396.7,166.9 L1395.0,166.8 L1393.4,166.7 L1391.8,166.4 L1390.2,165.8 L1388.6,165.1 L1386.9,165.4 L1385.2,165.7 L1383.6,164.7 L1382.0,164.2 L1380.3,163.9 L1378.7,163.2 L1377.0,163.1 L1375.3,163.6 L1373.6,164.3 L1372.0,164.7 L1370.3,163.7 L1368.7,163.2 L1367.0,163.9 L1365.4,164.3 L1363.7,164.2 L1362.1,164.3 L1360.4,163.8 L1358.9,163.1 L1357.4,162.6 L1355.8,162.6 L1354.2,162.4 L1352.7,161.7 L1351.1,161.4 L1349.3,161.7 L1347.5,160.9 L1346.0,159.8 L1344.4,158.6 L1343.1,156.9 L1341.9,155.1 L1341.5,153.3 L1340.9,151.6 Z" fill="none" stroke="#7a2d92" stroke-width="1.5" stroke-linejoin="round"/><path d="M1349.4,199.2 L1351.0,198.6 L1352.6,198.4 L1354.3,198.2 L1355.9,197.9 L1357.4,197.4 L1358.8,196.4 L1360.5,196.1 L1362.3,196.2 L1364.0,195.6 L1365.6,194.9 L1367.3,194.5 L1369.0,194.2 L1370.6,193.5 L1372.2,192.8 L1373.9,192.6 L1375.7,192.5 L1377.2,193.2 L1378.7,193.7 L1380.3,194.1 L1381.8,194.7 L1383.3,195.3 L1384.4,196.8 L1385.5,198.4 L1387.0,199.6 L1388.2,201.1 L1388.9,202.7 L1390.5,203.1 L1392.1,203.4 L1393.7,203.4 L1395.4,203.2 L1397.0,203.0 L1398.6,203.1 L1400.6,203.6 L1401.3,205.1 L1402.0,206.7 L1402.7,208.3 L1403.5,209.6 L1404.5,211.4 L1405.6,213.1 L1406.2,214.7 L1407.3,216.4 L1408.3,218.3 L1409.5,219.9 L1410.8,221.0 L1411.3,222.7 L1412.2,224.1 L1413.6,225.3 L1414.0,227.0 L1414.6,228.9 L1416.1,230.2 L1417.8,231.4 L1419.3,232.7 L1420.9,233.9 L1421.5,235.7 L1421.5,237.7 L1421.7,239.7 L1422.4,241.2 L1421.7,242.8 L1421.2,244.4 L1420.7,246.0 L1419.7,247.4 L1418.8,248.9 L1418.5,250.8 L1418.1,252.7 L1417.9,254.7 L1417.5,256.6 L1416.7,258.4 L1416.4,260.3 L1416.4,262.3 L1415.9,264.3 L1414.7,265.6 L1413.7,267.0 L1413.1,268.5 L1412.5,270.1 L1411.9,271.4 L1412.2,273.4 L1412.4,275.4 L1413.3,277.3 L1414.9,277.8 L1416.4,278.6 L1417.7,279.7 L1419.2,280.6 L1420.7,281.2 L1422.5,281.9 L1424.1,282.7 L1425.4,284.1 L1426.9,285.1 L1428.7,285.8 L1430.1,286.7 L1430.6,288.5 L1431.4,290.3 L1431.9,292.2 L1432.2,294.0 L1430.6,294.9 L1429.0,295.3 L1427.2,295.4 L1425.5,295.7 L1423.9,296.4 L1422.3,296.8 L1420.6,297.0 L1419.0,297.6 L1417.4,298.1 L1415.7,298.1 L1414.1,298.2 L1412.5,298.5 L1410.9,299.2 L1409.3,299.6 L1407.6,300.0 L1405.9,299.2 L1404.5,298.1 L1403.1,296.9 L1401.5,296.0 L1399.7,295.5 L1398.1,294.6 L1396.6,293.7 L1395.0,293.2 L1393.4,292.6 L1391.9,291.9 L1390.2,291.4 L1388.6,290.4 L1388.7,288.4 L1388.2,286.5 L1387.3,284.7 L1386.7,282.5 L1388.4,281.4 L1390.0,280.2 L1391.0,278.3 L1392.7,276.9 L1394.6,277.7 L1396.4,278.2 L1399.0,277.0 L1397.9,275.2 L1397.0,273.4 L1396.4,271.6 L1394.5,271.1 L1392.6,270.7 L1390.8,270.1 L1389.0,269.4 L1387.3,269.5 L1386.4,267.7 L1385.8,265.9 L1385.1,264.0 L1386.6,263.1 L1388.2,262.6 L1389.9,262.2 L1391.3,261.2 L1392.5,259.5 L1394.0,258.7 L1395.7,258.6 L1397.7,259.1 L1399.4,259.1 L1400.9,258.1 L1402.4,257.3 L1403.9,256.5 L1402.7,254.8 L1401.9,253.0 L1401.4,251.1 L1401.5,249.1 L1401.4,247.1 L1400.9,245.2 L1400.6,243.3 L1400.2,241.4 L1399.7,239.8 L1398.9,238.3 L1398.5,236.6 L1398.0,235.0 L1396.9,234.0 L1397.0,232.1 L1397.4,230.2 L1398.3,228.4 L1398.6,225.9 L1397.1,225.1 L1395.9,223.9 L1394.7,222.7 L1392.7,221.8 L1390.8,222.4 L1388.9,222.4 L1387.1,222.5 L1385.2,223.1 L1383.3,223.0 L1381.4,222.4 L1379.5,222.0 L1378.4,221.8 L1377.1,220.6 L1375.5,219.8 L1373.9,218.9 L1372.6,217.6 L1371.8,215.9 L1371.1,214.2 L1370.1,212.6 L1369.2,211.0 L1368.2,209.4 L1366.5,209.0 L1364.9,208.6 L1363.5,207.7 L1362.2,206.5 L1360.5,206.2 L1358.9,205.7 L1357.5,204.5 L1356.1,203.6 L1354.5,202.9 L1353.0,202.1 L1352.0,201.4 L1350.9,200.1 Z" fill="none" stroke="#7a2d92" stroke-width="1.5" stroke-linejoin="round"/><path d="M1551.0,132.1 L1552.5,131.3 L1554.0,130.8 L1555.8,130.8 L1556.7,130.4 L1558.8,130.5 L1560.6,131.0 L1562.0,132.4 L1563.7,133.2 L1565.9,133.5 L1567.1,134.8 L1567.9,136.4 L1568.6,138.1 L1569.6,139.5 L1571.1,140.6 L1572.2,142.0 L1572.9,143.7 L1573.9,145.3 L1574.4,147.1 L1574.7,149.0 L1575.1,150.7 L1575.7,152.3 L1576.8,153.8 L1577.4,155.5 L1577.9,157.2 L1578.3,158.9 L1577.9,160.6 L1577.9,162.2 L1578.4,163.9 L1578.1,165.5 L1577.5,166.8 L1576.6,168.6 L1576.2,170.5 L1575.4,172.3 L1574.0,174.2 L1572.4,174.5 L1570.7,174.4 L1569.1,175.0 L1567.2,175.9 L1565.9,174.4 L1565.1,172.7 L1564.5,170.8 L1563.8,169.2 L1563.2,167.5 L1562.9,165.8 L1562.9,164.0 L1562.4,162.3 L1561.3,160.7 L1560.8,159.1 L1560.9,157.3 L1560.5,155.8 L1559.4,154.5 L1558.6,153.1 L1557.8,151.7 L1557.0,150.3 L1556.5,148.8 L1556.3,146.8 L1555.7,145.0 L1554.9,143.3 L1554.2,141.6 L1553.4,140.0 L1552.6,138.4 L1552.0,136.8 L1552.0,135.1 L1551.9,133.3 Z" fill="none" stroke="#7a2d92" stroke-width="1.5" stroke-linejoin="round"/><path d="M1584.5,153.2 L1586.0,152.5 L1587.4,151.4 L1588.9,150.8 L1590.4,150.7 L1592.1,151.1 L1593.7,151.5 L1595.2,152.1 L1596.9,152.6 L1598.0,154.1 L1599.4,155.4 L1600.3,157.1 L1600.7,159.2 L1602.2,160.2 L1604.1,160.8 L1605.4,162.1 L1606.5,163.4 L1608.0,164.6 L1609.0,166.0 L1609.3,168.0 L1609.8,169.8 L1611.1,170.9 L1612.2,172.3 L1613.4,173.6 L1614.5,175.1 L1615.3,176.8 L1616.5,178.3 L1617.4,180.0 L1617.7,181.9 L1617.7,183.7 L1618.3,185.3 L1619.1,186.8 L1619.7,188.5 L1619.9,190.3 L1618.3,191.5 L1616.6,192.6 L1616.0,193.7 L1614.3,192.9 L1612.5,192.2 L1611.0,191.0 L1609.8,189.8 L1608.6,188.6 L1607.5,187.2 L1607.0,185.5 L1606.0,184.1 L1604.5,183.0 L1603.1,181.9 L1602.0,180.6 L1601.2,179.2 L1600.1,177.8 L1599.0,176.6 L1597.8,175.4 L1596.8,174.0 L1595.9,172.6 L1594.8,171.3 L1593.8,169.9 L1592.6,168.6 L1591.2,167.6 L1590.1,166.2 L1589.6,164.4 L1588.9,162.7 L1587.2,161.6 L1585.4,160.6 L1583.9,158.9 L1584.4,156.8 L1584.9,154.7 Z" fill="none" stroke="#7a2d92" stroke-width="1.5" stroke-linejoin="round"/><path d="M1579.9,193.8 L1582.0,193.6 L1584.0,193.0 L1586.2,192.1 L1587.4,193.5 L1588.3,194.9 L1589.2,196.5 L1590.2,197.9 L1590.8,199.6 L1590.6,201.4 L1590.7,203.1 L1591.1,204.8 L1591.4,206.5 L1592.4,207.9 L1592.6,209.8 L1591.8,211.3 L1591.0,212.8 L1590.9,214.5 L1590.1,216.5 L1588.4,216.2 L1586.8,216.3 L1585.2,216.9 L1583.6,217.3 L1581.8,217.6 L1580.4,216.7 L1579.2,215.5 L1577.8,214.6 L1576.2,214.2 L1574.9,213.0 L1575.2,211.3 L1574.6,209.7 L1574.1,208.1 L1573.5,206.6 L1572.6,204.8 L1573.1,203.1 L1573.8,201.7 L1575.0,200.5 L1576.5,199.5 L1577.6,198.3 L1578.1,196.7 L1578.8,195.1 Z" fill="none" stroke="#7a2d92" stroke-width="1.5" stroke-linejoin="round"/><path d="M1468.1,244.4 L1469.8,243.9 L1471.3,242.9 L1473.4,241.9 L1475.0,242.6 L1476.5,243.4 L1477.8,244.7 L1479.4,246.0 L1479.1,247.8 L1478.3,249.5 L1478.2,251.2 L1478.9,252.6 L1476.9,253.5 L1475.0,254.3 L1472.9,255.1 L1471.9,253.8 L1470.8,252.6 L1469.2,252.1 L1467.6,251.0 L1468.1,249.2 L1468.5,247.5 L1468.5,245.8 Z" fill="none" stroke="#7a2d92" stroke-width="1.5" stroke-linejoin="round"/><path d="M1519.7,267.4 L1521.6,267.1 L1523.2,266.3 L1525.5,265.8 L1525.9,267.9 L1526.3,270.0 L1526.7,271.8 L1525.9,273.1 L1525.1,274.6 L1524.1,275.9 L1522.9,277.2 L1521.4,276.3 L1520.3,275.1 L1519.2,274.0 L1519.1,272.0 L1518.8,269.9 Z" fill="none" stroke="#7a2d92" stroke-width="1.5" stroke-linejoin="round"/><path d="M1313.9,160.9 L1315.6,161.4 L1317.2,161.5 L1318.8,160.6 L1320.4,160.2 L1322.1,160.1 L1323.7,160.5 L1325.2,161.4 L1326.8,162.1 L1328.3,163.0 L1329.6,163.7 L1331.2,164.2 L1332.7,164.8 L1334.2,165.5 L1336.0,166.1 L1334.9,167.7 L1333.4,169.0 L1333.1,170.4 L1331.4,170.8 L1329.8,170.8 L1328.2,170.2 L1326.7,169.5 L1325.7,169.1 L1324.2,168.1 L1322.6,167.5 L1320.9,166.8 L1319.4,166.0 L1317.9,165.1 L1316.7,163.6 L1315.3,162.3 Z" fill="none" stroke="#d4337c" stroke-width="1.5" stroke-linejoin="round"/><path d="M1330.6,175.6 L1332.3,175.7 L1333.8,175.1 L1335.3,176.7 L1336.2,178.6 L1337.4,179.7 L1336.9,181.7 L1336.0,183.4 L1334.7,182.3 L1333.2,181.5 L1331.8,181.0 L1331.2,179.1 L1331.0,177.1 Z" fill="none" stroke="#d4337c" stroke-width="1.5" stroke-linejoin="round"/><path d="M1400.1,156.2 L1401.7,155.7 L1403.3,154.2 L1404.9,153.6 L1406.6,154.2 L1408.3,154.2 L1410.0,153.7 L1411.6,153.6 L1413.3,153.9 L1415.0,153.9 L1416.7,153.7 L1418.4,154.3 L1420.1,154.8 L1420.6,153.9 L1422.0,155.4 L1423.2,156.8 L1424.1,158.5 L1425.0,159.8 L1423.3,159.9 L1421.7,160.4 L1420.0,160.9 L1418.4,161.4 L1416.7,161.8 L1415.0,161.4 L1413.3,161.3 L1411.7,161.8 L1410.0,162.3 L1408.4,162.5 L1406.7,162.1 L1405.0,162.1 L1403.3,162.3 L1401.6,162.1 L1400.0,162.6 L1399.1,160.7 L1399.3,158.8 L1400.4,157.0 Z" fill="none" stroke="#d4337c" stroke-width="1.5" stroke-linejoin="round"/><path d="M1435.1,170.0 L1436.8,169.5 L1438.3,168.4 L1440.1,168.0 L1441.9,167.7 L1443.5,166.9 L1445.2,166.7 L1446.8,166.6 L1448.5,166.5 L1450.2,166.9 L1451.9,166.8 L1453.5,166.1 L1455.1,166.7 L1456.7,167.2 L1458.5,167.1 L1460.1,167.9 L1461.6,169.1 L1463.3,168.7 L1465.3,168.8 L1466.6,169.9 L1467.6,171.1 L1468.7,172.4 L1469.9,173.4 L1471.3,174.3 L1472.5,175.5 L1473.6,176.7 L1474.9,177.6 L1476.3,178.5 L1477.4,179.8 L1478.6,181.0 L1479.8,182.0 L1481.1,183.1 L1482.5,183.9 L1483.8,185.0 L1484.8,186.7 L1486.0,188.2 L1487.7,189.2 L1489.4,190.1 L1490.5,192.0 L1488.7,193.2 L1487.7,195.0 L1486.9,197.2 L1485.2,197.4 L1483.6,197.0 L1481.9,196.4 L1480.2,196.8 L1478.6,197.5 L1476.8,197.0 L1476.1,195.3 L1474.9,193.9 L1473.7,192.6 L1472.5,191.2 L1471.4,189.8 L1470.2,188.5 L1468.8,187.4 L1467.7,186.0 L1466.5,184.7 L1465.1,183.6 L1463.6,182.6 L1462.4,181.3 L1461.5,179.7 L1460.2,178.6 L1458.3,178.7 L1456.7,177.8 L1455.3,176.3 L1453.6,175.9 L1451.8,175.6 L1450.2,175.0 L1448.4,174.9 L1446.7,174.2 L1445.3,173.0 L1443.5,172.8 L1441.6,172.8 L1439.8,172.6 L1438.1,172.1 L1436.6,171.3 Z" fill="none" stroke="#d4337c" stroke-width="1.5" stroke-linejoin="round"/><path d="M1357.9,155.2 L1359.6,155.2 L1361.4,155.4 L1363.1,155.1 L1364.8,154.5 L1366.5,154.4 L1368.4,154.7 L1370.0,154.6 L1371.6,154.5 L1373.3,155.0 L1374.9,155.4 L1376.6,155.2 L1378.3,154.5 L1380.0,154.1 L1381.7,154.5 L1383.3,154.7 L1385.0,154.4 L1386.7,154.1 L1388.4,154.5 L1390.0,154.9 L1391.7,155.4 L1393.1,156.4 L1394.6,157.5 L1396.3,157.6 L1397.9,157.8 L1396.2,158.5 L1395.0,160.1 L1393.5,161.0 L1391.7,161.3 L1390.0,162.6 L1388.3,162.8 L1386.7,162.0 L1385.0,161.5 L1383.3,161.5 L1381.7,161.1 L1380.0,160.8 L1378.3,161.2 L1376.6,161.7 L1375.0,161.2 L1373.4,160.2 L1371.7,159.8 L1370.1,160.2 L1368.4,160.6 L1366.7,160.7 L1365.0,160.5 L1363.3,160.2 L1361.7,160.2 L1359.6,160.2 L1358.3,158.3 Z" fill="none" stroke="#d4337c" stroke-width="1.5" stroke-linejoin="round"/><path d="M1519.5,174.2 L1521.3,174.2 L1523.0,174.0 L1524.6,173.1 L1526.2,172.4 L1528.1,172.9 L1529.8,173.1 L1531.4,171.8 L1534.0,171.4 L1534.8,172.9 L1535.7,174.3 L1537.0,175.4 L1538.4,176.3 L1539.9,177.8 L1539.9,179.5 L1539.7,181.3 L1539.8,183.0 L1540.2,184.6 L1540.8,186.1 L1541.1,187.8 L1541.7,189.4 L1542.2,191.1 L1542.6,192.8 L1543.5,194.4 L1544.6,195.8 L1545.3,197.1 L1546.3,198.5 L1547.4,199.7 L1548.9,200.4 L1550.4,201.1 L1551.9,201.7 L1553.0,202.7 L1554.3,204.2 L1555.7,205.2 L1557.6,205.2 L1559.4,205.3 L1561.1,206.0 L1563.1,207.1 L1563.1,209.3 L1563.1,211.5 L1564.1,212.9 L1563.1,214.2 L1561.8,215.3 L1560.8,216.6 L1559.6,217.8 L1558.5,218.8 L1556.9,219.1 L1555.3,219.3 L1553.7,218.8 L1552.0,219.0 L1550.4,220.2 L1547.7,220.1 L1547.2,218.2 L1546.7,216.4 L1545.5,215.2 L1544.3,214.1 L1543.1,212.8 L1541.5,212.1 L1539.7,211.8 L1538.1,211.1 L1536.7,210.0 L1535.2,208.9 L1533.6,208.4 L1531.8,208.1 L1530.1,207.5 L1528.5,206.7 L1526.9,206.0 L1525.1,205.9 L1523.0,205.7 L1522.0,204.4 L1520.9,203.2 L1520.1,201.8 L1519.4,200.3 L1518.4,199.0 L1517.4,197.6 L1517.4,195.9 L1517.7,194.3 L1517.6,192.6 L1516.9,190.9 L1516.4,189.2 L1516.9,187.6 L1517.5,185.9 L1517.7,184.2 L1518.1,182.5 L1518.2,180.8 L1518.5,179.1 L1519.5,177.6 L1519.8,175.9 Z" fill="none" stroke="#d4337c" stroke-width="1.5" stroke-linejoin="round"/><path d="M1381.5,211.5 L1383.3,211.0 L1385.2,210.5 L1386.9,209.5 L1389.0,209.2 L1390.7,210.4 L1392.5,210.8 L1394.6,210.7 L1396.6,211.1 L1397.7,212.2 L1399.1,213.2 L1400.2,214.4 L1401.4,215.4 L1402.9,217.4 L1401.2,218.9 L1400.3,220.1 L1398.4,220.0 L1396.3,220.4 L1394.4,220.2 L1392.5,219.7 L1390.7,218.7 L1389.0,217.6 L1387.0,217.5 L1384.9,217.1 L1384.3,215.5 L1383.6,213.9 L1382.8,212.4 Z" fill="none" stroke="#d4337c" stroke-width="1.5" stroke-linejoin="round"/><path d="M1366.3,197.8 L1368.2,198.4 L1370.1,198.2 L1371.9,197.8 L1373.8,197.8 L1375.9,198.2 L1375.7,200.3 L1373.8,200.3 L1371.9,200.0 L1370.1,199.9 L1368.2,200.7 L1365.6,200.5 Z" fill="none" stroke="#d4337c" stroke-width="1.5" stroke-linejoin="round"/><path d="M1402.0,244.1 L1403.6,244.2 L1405.2,244.7 L1406.8,244.8 L1408.4,244.5 L1410.2,244.9 L1411.2,246.6 L1412.3,248.3 L1413.3,249.8 L1411.7,251.4 L1409.9,253.1 L1408.2,252.1 L1406.7,250.8 L1405.1,249.9 L1403.7,249.9 L1403.2,248.0 L1402.5,246.1 Z" fill="none" stroke="#d4337c" stroke-width="1.5" stroke-linejoin="round"/><path d="M1394.6,282.7 L1396.4,282.3 L1398.2,281.7 L1399.7,281.3 L1400.7,282.5 L1401.8,283.6 L1403.2,284.6 L1404.2,286.1 L1403.0,287.5 L1403.0,289.3 L1402.8,291.2 L1400.9,292.5 L1399.3,290.7 L1397.2,290.1 L1395.1,290.0 L1394.9,288.4 L1394.5,286.8 L1393.9,285.3 L1394.4,283.6 Z" fill="none" stroke="#d4337c" stroke-width="1.5" stroke-linejoin="round"/><path d="M1556.0,134.4 L1558.0,134.3 L1560.0,133.3 L1563.1,133.2 L1563.8,135.0 L1564.1,136.9 L1564.9,138.6 L1565.9,140.1 L1567.0,141.5 L1568.3,142.9 L1569.1,144.3 L1569.3,146.0 L1569.7,147.6 L1570.2,149.2 L1571.0,150.6 L1572.7,151.9 L1573.8,153.6 L1573.4,155.5 L1572.7,157.6 L1573.2,159.4 L1573.7,161.2 L1573.8,162.9 L1572.4,164.0 L1571.3,165.2 L1571.3,167.0 L1571.0,168.7 L1569.9,170.1 L1568.8,168.7 L1567.5,167.5 L1566.2,166.3 L1565.5,164.9 L1565.4,163.2 L1564.6,161.7 L1563.9,160.1 L1563.1,158.6 L1562.6,157.0 L1562.5,155.3 L1562.0,153.7 L1561.8,152.1 L1561.4,150.3 L1560.4,148.8 L1559.8,147.1 L1559.9,145.1 L1559.3,143.4 L1558.3,141.9 L1557.8,140.4 L1557.2,138.8 L1556.9,137.2 L1556.7,135.5 Z" fill="none" stroke="#d4337c" stroke-width="1.5" stroke-linejoin="round"/><path d="M1590.0,155.6 L1592.0,156.5 L1594.0,156.9 L1595.7,156.3 L1597.3,157.3 L1598.4,158.8 L1599.2,160.5 L1600.7,161.7 L1602.2,162.8 L1603.3,164.1 L1604.7,165.2 L1606.1,166.2 L1607.1,167.7 L1607.3,169.8 L1608.1,171.4 L1610.0,172.0 L1611.3,173.5 L1612.1,175.1 L1612.7,176.9 L1613.0,178.8 L1613.8,180.5 L1615.0,182.0 L1615.6,183.6 L1615.7,185.2 L1615.4,186.8 L1615.7,188.4 L1616.0,190.0 L1614.5,188.9 L1612.9,188.2 L1611.6,187.6 L1610.8,186.0 L1609.6,184.8 L1608.0,183.7 L1607.0,182.3 L1606.1,180.8 L1605.2,179.3 L1604.3,177.7 L1603.2,176.6 L1602.4,175.2 L1601.3,174.0 L1599.5,173.4 L1598.3,172.3 L1597.5,170.9 L1596.8,169.4 L1596.0,168.0 L1594.8,166.8 L1593.5,165.7 L1592.3,164.5 L1591.2,163.2 L1590.3,162.0 L1590.2,160.0 L1589.6,158.0 Z" fill="none" stroke="#d4337c" stroke-width="1.5" stroke-linejoin="round"/><path d="M1580.0,199.9 L1581.9,199.3 L1583.9,198.9 L1586.4,198.8 L1586.6,200.8 L1587.1,202.7 L1588.3,204.2 L1589.3,206.2 L1588.6,207.7 L1588.1,209.3 L1587.1,210.7 L1586.2,211.1 L1584.2,210.4 L1582.0,211.4 L1579.4,211.0 L1580.1,209.2 L1580.0,207.3 L1579.2,205.5 L1579.1,203.7 L1579.8,201.8 Z" fill="none" stroke="#d4337c" stroke-width="1.5" stroke-linejoin="round"/><path d="M1375.0,154.9 L1376.7,155.0 L1378.3,154.9 L1380.0,154.6 L1381.7,154.5 L1383.3,154.2 L1385.0,154.1 L1386.7,154.3 L1388.4,154.5 L1389.9,154.2 L1391.6,154.6 L1393.1,155.2 L1394.7,155.8 L1396.2,157.4 L1394.4,157.6 L1392.6,157.7 L1391.1,158.5 L1390.0,159.4 L1388.2,159.1 L1386.5,159.3 L1384.8,159.8 L1383.0,160.2 L1381.2,160.4 L1379.5,160.2 L1377.8,160.4 L1375.1,160.2 L1375.3,158.4 L1375.4,156.6 Z" fill="none" stroke="#fb7d5d" stroke-width="1.5" stroke-linejoin="round"/><path d="M1452.1,170.5 L1453.6,170.1 L1455.2,169.7 L1456.8,169.4 L1458.4,169.5 L1459.8,169.4 L1461.5,170.0 L1463.1,170.9 L1464.6,171.7 L1466.4,172.2 L1468.1,173.1 L1467.1,174.7 L1466.0,176.3 L1465.0,177.8 L1463.4,177.5 L1461.7,177.1 L1460.1,176.6 L1458.3,176.6 L1456.6,176.9 L1454.7,176.2 L1454.2,174.5 L1453.6,172.9 L1453.2,171.3 Z" fill="none" stroke="#fb7d5d" stroke-width="1.5" stroke-linejoin="round"/><path d="M1568.0,150.7 L1570.0,150.2 L1572.4,149.9 L1572.6,151.5 L1573.0,153.1 L1573.3,154.7 L1572.6,156.4 L1572.6,157.3 L1570.8,158.7 L1569.4,160.0 L1569.3,158.3 L1568.5,156.7 L1568.2,155.0 L1568.5,153.3 L1568.6,151.6 Z" fill="none" stroke="#fb7d5d" stroke-width="1.5" stroke-linejoin="round"/><path d="M1521.4,177.6 L1523.1,177.5 L1524.8,177.5 L1526.4,177.1 L1527.9,176.2 L1529.5,175.8 L1531.5,175.8 L1532.4,177.2 L1533.5,178.5 L1534.4,179.9 L1535.4,181.4 L1536.7,182.1 L1537.0,183.7 L1537.0,185.4 L1537.5,186.9 L1538.4,188.5 L1539.1,190.0 L1539.1,191.7 L1539.1,193.4 L1539.3,195.1 L1539.5,196.8 L1540.0,198.4 L1540.8,200.0 L1541.0,201.7 L1540.8,203.2 L1539.8,204.8 L1538.6,206.2 L1537.2,207.1 L1535.4,206.8 L1533.7,206.3 L1532.2,205.4 L1530.4,205.1 L1528.8,204.4 L1527.4,203.3 L1526.4,202.0 L1525.5,200.5 L1524.5,199.2 L1523.4,198.0 L1522.1,197.5 L1521.1,196.0 L1520.6,194.4 L1520.2,192.8 L1519.9,191.1 L1519.9,189.4 L1519.5,187.8 L1519.3,186.1 L1519.2,184.3 L1519.8,182.8 L1521.0,181.3 L1521.2,179.6 Z" fill="none" stroke="#fb7d5d" stroke-width="1.5" stroke-linejoin="round"/><path d="M1545.1,207.2 L1546.8,206.8 L1548.6,206.7 L1550.3,206.3 L1551.9,205.8 L1553.6,206.1 L1555.2,206.4 L1556.9,206.6 L1558.6,207.0 L1560.2,207.9 L1561.5,209.4 L1562.5,211.1 L1563.0,212.9 L1561.6,213.8 L1560.1,214.5 L1558.5,215.1 L1558.0,215.7 L1556.2,216.2 L1554.4,216.4 L1552.6,216.4 L1550.8,217.0 L1549.0,217.0 L1547.9,215.4 L1546.4,214.3 L1544.8,213.0 L1545.1,211.0 L1545.4,209.0 Z" fill="none" stroke="#fb7d5d" stroke-width="1.5" stroke-linejoin="round"/><path d="M1473.4,186.0 L1475.2,186.9 L1476.8,187.1 L1478.4,186.5 L1480.0,186.0 L1481.4,187.0 L1482.3,188.7 L1483.4,190.0 L1485.2,190.4 L1486.6,190.8 L1486.0,192.4 L1485.7,194.1 L1485.0,195.5 L1484.0,197.3 L1482.3,197.5 L1480.8,197.0 L1479.2,196.0 L1477.6,195.8 L1476.2,195.9 L1475.0,193.8 L1473.5,192.0 L1472.8,190.3 L1472.4,188.6 Z" fill="none" stroke="#fb7d5d" stroke-width="1.5" stroke-linejoin="round"/><path d="M1403.0,157.2 L1404.7,157.2 L1406.4,156.5 L1408.1,156.1 L1409.8,156.2 L1411.5,156.6 L1413.2,156.7 L1414.9,156.3 L1416.6,156.0 L1418.3,156.1 L1420.1,156.0 L1421.0,159.2 L1419.4,159.2 L1417.8,159.2 L1416.2,159.0 L1414.6,159.1 L1413.0,159.5 L1411.4,159.5 L1409.8,159.7 L1408.2,160.2 L1406.6,160.7 L1404.2,160.6 L1403.5,158.8 Z" fill="none" stroke="#fb7d5d" stroke-width="1.5" stroke-linejoin="round"/><path d="M1390.8,212.5 L1392.7,212.7 L1394.5,212.3 L1396.4,212.3 L1396.1,214.7 L1396.4,216.6 L1394.5,216.5 L1392.7,216.3 L1391.2,217.0 L1390.7,214.7 Z" fill="none" stroke="#fb7d5d" stroke-width="1.5" stroke-linejoin="round"/><path d="M1523.0,181.2 L1524.5,180.5 L1526.1,180.1 L1527.9,179.8 L1529.2,179.1 L1530.1,180.8 L1530.8,182.7 L1531.8,184.4 L1533.4,185.9 L1533.8,187.5 L1533.7,189.3 L1533.8,191.0 L1534.0,192.6 L1534.4,194.3 L1535.0,195.9 L1534.8,197.7 L1535.0,199.8 L1535.8,201.7 L1537.2,203.1 L1535.6,203.0 L1534.0,202.6 L1532.4,202.5 L1530.7,202.6 L1529.0,201.9 L1527.7,200.7 L1526.1,199.9 L1524.6,199.0 L1523.1,197.7 L1522.9,196.1 L1522.6,194.5 L1522.3,192.9 L1522.1,191.3 L1521.9,189.9 L1522.2,188.3 L1522.2,186.7 L1521.7,184.9 L1521.8,183.3 Z" fill="none" stroke="#f4fbc4" stroke-width="1.7" stroke-linejoin="round"/><path d="M1043.2,52.8 L1044.2,54.3 L1045.6,55.4 L1047.1,56.4 L1048.0,57.6 L1049.7,58.0 L1051.3,58.0 L1053.0,58.2 L1054.7,58.6 L1056.3,58.8 L1058.5,58.8 L1059.9,57.5 L1061.4,56.4 L1063.0,55.3 L1064.3,53.9 L1065.9,52.8 L1067.9,52.0 L1069.9,51.3 L1072.2,51.0 L1071.7,52.7 L1071.2,54.5 L1071.3,56.3 L1071.2,58.3 L1069.4,59.1 L1067.8,60.1 L1066.0,61.2 L1064.4,61.6 L1062.8,62.4 L1061.1,62.9 L1059.4,62.3 L1057.6,61.4 L1056.1,61.5 L1054.3,61.6 L1052.6,61.5 L1051.0,61.1 L1049.3,60.8 L1047.5,60.9 L1045.3,60.3 L1045.0,58.3 L1044.6,56.5 L1043.5,54.8 Z" fill="none" stroke="#000000" stroke-width="1.5" stroke-linejoin="round"/><path d="M1201.3,51.1 L1201.8,52.9 L1202.3,54.7 L1203.8,56.4 L1205.5,57.0 L1206.9,58.2 L1208.5,59.1 L1210.3,59.5 L1212.0,60.0 L1213.5,60.9 L1215.0,61.6 L1216.8,61.4 L1218.5,61.2 L1219.9,61.7 L1221.7,61.6 L1223.3,61.1 L1224.7,60.0 L1226.3,59.5 L1228.3,59.5 L1230.1,58.6 L1231.9,57.4 L1233.9,56.0 L1233.4,54.3 L1233.1,52.7 L1233.0,50.9 L1231.3,50.7 L1229.7,50.6 L1228.0,50.7 L1226.4,50.9 L1224.7,50.7 L1223.1,50.7 L1221.4,51.1 L1219.7,51.3 L1218.1,51.1 L1216.4,51.0 L1214.8,51.1 L1213.1,51.3 L1211.4,50.9 L1209.8,50.8 L1208.1,51.2 L1206.5,51.3 L1204.8,51.2 L1203.2,51.0 Z" fill="none" stroke="#000000" stroke-width="1.5" stroke-linejoin="round"/><path d="M1183.9,184.6 L1186.0,184.2 L1188.1,183.6 L1190.2,184.2 L1192.4,185.5 L1192.1,187.8 L1191.5,189.8 L1189.6,189.4 L1187.8,190.1 L1185.8,190.4 L1183.7,188.0 Z" fill="none" stroke="#000000" stroke-width="1.5" stroke-linejoin="round"/><path d="M1199.0,122.1 L1200.9,121.2 L1202.7,120.0 L1205.1,119.6 L1207.0,120.6 L1208.9,121.5 L1210.7,121.4 L1210.4,123.7 L1210.0,126.0 L1208.0,126.4 L1206.0,126.4 L1204.0,126.9 L1202.3,126.7 L1200.7,125.7 L1199.5,125.5 L1199.2,123.8 Z" fill="none" stroke="#000000" stroke-width="1.5" stroke-linejoin="round"/><path d="M1473.7,67.0 L1475.5,66.8 L1477.2,66.5 L1479.1,66.6 L1480.5,67.6 L1482.0,68.4 L1483.4,69.4 L1484.6,70.1 L1485.7,72.0 L1487.0,73.8 L1487.4,76.6 L1485.8,77.8 L1484.4,79.2 L1483.0,80.7 L1481.3,80.0 L1479.5,79.8 L1477.6,80.1 L1475.5,79.3 L1474.8,77.4 L1474.2,75.6 L1473.3,74.1 L1473.0,71.9 L1472.6,69.8 Z" fill="none" stroke="#000000" stroke-width="1.5" stroke-linejoin="round"/><path d="M1459.9,250.0 L1460.1,248.2 L1460.6,246.6 L1461.6,245.1 L1462.5,243.7 L1463.6,242.4 L1464.5,240.9 L1465.1,239.1 L1466.3,237.7 L1467.4,236.8 L1468.7,235.7 L1470.0,234.5 L1471.5,233.7 L1473.4,232.5 L1474.6,233.8 L1475.5,235.5 L1476.8,236.7 L1478.0,238.0 L1478.2,239.9 L1479.0,241.5 L1480.4,242.8 L1481.3,244.3 L1482.2,245.9 L1482.5,247.7 L1482.4,249.5 L1482.9,251.2 L1483.5,252.9 L1484.1,254.5 L1484.4,256.2 L1484.5,258.0 L1484.0,259.6 L1483.5,261.3 L1483.3,263.0 L1482.8,264.7 L1481.9,266.2 L1481.9,267.8 L1480.6,268.9 L1479.1,269.4 L1477.3,269.4 L1476.6,269.8 L1475.0,269.0 L1473.2,268.5 L1471.6,267.7 L1470.4,266.5 L1469.3,265.2 L1468.0,264.0 L1466.6,262.8 L1465.3,261.5 L1463.6,260.6 L1462.2,259.5 L1461.1,258.0 L1461.0,256.4 L1460.7,254.8 L1460.4,253.2 L1460.1,251.6 Z" fill="none" stroke="#000000" stroke-width="1.5" stroke-linejoin="round"/><path d="M1515.9,270.7 L1517.2,269.7 L1517.9,268.2 L1518.6,266.7 L1519.2,265.7 L1520.9,265.1 L1522.5,264.5 L1523.9,263.7 L1525.2,264.7 L1526.6,265.7 L1528.1,266.4 L1529.1,268.0 L1528.9,269.7 L1529.7,271.3 L1529.2,273.0 L1528.5,274.7 L1528.7,276.3 L1528.7,277.7 L1527.3,278.8 L1526.5,280.5 L1525.8,282.3 L1523.7,283.7 L1522.4,282.5 L1521.0,281.6 L1519.4,280.9 L1518.2,279.9 L1517.6,278.3 L1516.5,276.8 L1516.6,275.0 L1516.7,273.1 L1516.2,271.5 Z" fill="none" stroke="#000000" stroke-width="1.5" stroke-linejoin="round"/><path d="M1345.6,331.1 L1347.1,330.1 L1348.4,329.1 L1350.1,328.5 L1351.7,328.0 L1353.4,327.6 L1355.0,327.0 L1356.7,327.0 L1358.4,326.8 L1360.0,326.8 L1361.7,327.2 L1363.5,327.1 L1365.0,328.0 L1366.3,329.1 L1367.5,330.7 L1366.0,332.1 L1364.7,333.5 L1363.8,335.3 L1363.5,337.4 L1363.1,339.3 L1362.7,341.3 L1362.4,343.1 L1361.7,344.9 L1361.0,346.4 L1359.5,347.3 L1358.1,348.3 L1356.5,349.0 L1354.7,350.1 L1353.1,351.5 L1351.2,352.7 L1349.4,352.5 L1347.5,352.2 L1345.7,352.5 L1343.8,352.5 L1342.0,352.8 L1340.2,353.6 L1338.3,354.1 L1336.6,353.2 L1334.8,352.5 L1332.5,351.0 L1333.2,349.2 L1334.1,347.5 L1334.7,346.0 L1336.3,345.1 L1337.7,343.7 L1339.3,342.8 L1341.0,342.2 L1342.7,341.4 L1344.4,340.1 L1344.6,337.9 L1345.0,335.7 L1345.2,333.4 Z" fill="none" stroke="#000000" stroke-width="1.5" stroke-linejoin="round"/><path d="M1151.8,444.9 L1152.1,443.3 L1152.9,441.8 L1154.0,440.5 L1155.1,439.2 L1155.8,437.7 L1156.0,436.0 L1157.6,435.3 L1159.3,435.0 L1160.9,434.7 L1162.6,434.3 L1164.3,433.9 L1165.9,433.6 L1167.6,433.4 L1169.3,433.1 L1170.9,432.6 L1172.6,432.2 L1174.3,432.2 L1176.1,432.4 L1177.8,432.0 L1179.5,431.2 L1181.1,430.5 L1183.8,430.6 L1184.5,432.4 L1185.0,434.3 L1185.8,436.0 L1186.5,438.2 L1185.7,439.6 L1185.2,441.2 L1184.6,442.8 L1183.6,444.1 L1182.2,445.3 L1181.4,446.5 L1180.9,448.2 L1180.2,449.8 L1179.2,451.1 L1178.1,452.4 L1176.7,453.5 L1175.6,454.4 L1174.6,456.0 L1173.4,457.3 L1171.9,458.2 L1170.3,459.1 L1168.9,460.0 L1167.5,461.1 L1166.0,461.9 L1164.1,462.2 L1162.6,463.4 L1161.2,464.7 L1159.4,465.1 L1157.8,466.0 L1155.6,466.7 L1155.1,464.9 L1154.4,463.1 L1153.7,461.4 L1152.9,459.7 L1152.3,458.0 L1152.3,456.4 L1152.2,454.8 L1152.1,453.1 L1151.8,451.5 L1151.9,449.9 L1152.2,448.2 L1152.2,446.6 Z" fill="none" stroke="#000000" stroke-width="1.5" stroke-linejoin="round"/><path d="M1193.1,432.2 L1194.9,431.8 L1196.0,430.6 L1196.8,429.1 L1198.1,428.2 L1200.1,427.5 L1202.0,426.6 L1204.0,426.0 L1205.3,427.3 L1207.0,428.0 L1206.2,429.4 L1204.9,430.5 L1203.4,431.2 L1202.9,432.4 L1201.3,433.6 L1199.5,433.8 L1197.8,433.8 L1195.9,434.1 L1194.3,433.2 Z" fill="none" stroke="#000000" stroke-width="1.5" stroke-linejoin="round"/><path d="M1619.4,201.6 L1620.9,200.9 L1622.4,200.2 L1623.6,200.0 L1624.6,201.7 L1626.2,203.0 L1627.4,204.1 L1627.8,205.7 L1628.6,207.3 L1628.9,209.0 L1629.1,210.6 L1628.8,212.3 L1628.6,213.7 L1627.7,215.1 L1627.1,216.8 L1625.7,218.4 L1624.4,216.9 L1623.0,215.4 L1621.4,215.0 L1620.5,213.4 L1619.8,211.8 L1620.0,210.2 L1620.2,208.5 L1620.1,206.9 L1620.2,205.2 L1619.6,203.6 Z" fill="none" stroke="#000000" stroke-width="1.5" stroke-linejoin="round"/><path d="M1537.5,641.9 L1538.1,640.2 L1539.0,638.7 L1539.7,637.1 L1539.7,635.2 L1539.8,633.4 L1540.8,631.8 L1542.4,630.9 L1543.4,629.6 L1543.9,628.1 L1544.6,629.8 L1545.5,631.3 L1546.9,632.6 L1548.4,633.9 L1549.0,635.4 L1549.1,637.1 L1549.0,638.9 L1549.2,640.5 L1550.0,641.2 L1548.3,641.1 L1546.6,641.7 L1544.9,641.7 L1543.1,641.5 L1541.4,642.2 L1539.7,642.6 Z" fill="none" stroke="#000000" stroke-width="1.5" stroke-linejoin="round"/><path d="M1606.8,55.9 L1607.8,53.9 L1609.0,51.8 L1610.7,51.9 L1612.3,52.0 L1614.0,51.6 L1615.7,51.1 L1617.3,51.0 L1619.7,51.8 L1619.6,54.0 L1620.0,56.1 L1620.8,58.0 L1620.4,59.6 L1620.3,61.2 L1620.5,62.8 L1620.3,64.4 L1619.7,65.6 L1618.1,66.5 L1616.8,68.0 L1615.4,69.2 L1614.2,70.0 L1612.7,69.3 L1611.2,68.7 L1609.6,68.4 L1607.8,68.0 L1607.2,66.3 L1606.9,64.6 L1607.6,62.9 L1608.3,61.1 L1607.8,59.4 L1607.2,57.7 Z" fill="none" stroke="#000000" stroke-width="1.5" stroke-linejoin="round"/><path d="M1628.1,82.1 L1628.9,80.4 L1630.4,78.6 L1631.6,80.0 L1632.5,81.6 L1633.7,83.0 L1633.9,84.7 L1633.9,86.4 L1634.1,88.1 L1634.3,89.9 L1634.2,91.6 L1633.9,93.3 L1633.2,94.8 L1632.1,96.3 L1631.5,98.1 L1630.9,100.0 L1629.6,99.0 L1628.4,97.8 L1627.8,96.0 L1628.7,94.2 L1628.8,92.5 L1628.3,90.8 L1628.0,89.0 L1628.0,87.2 L1628.2,85.5 L1628.1,83.8 Z" fill="none" stroke="#000000" stroke-width="1.5" stroke-linejoin="round"/><path d="M1641.1,80.1 L1642.1,77.9 L1643.7,75.9 L1644.3,77.7 L1645.2,79.4 L1646.2,81.0 L1646.0,82.6 L1646.1,84.2 L1646.4,85.8 L1646.3,87.4 L1646.2,89.0 L1646.2,90.6 L1646.2,92.2 L1646.6,93.8 L1646.8,95.4 L1646.3,97.0 L1645.1,98.8 L1644.1,100.6 L1644.1,102.8 L1642.6,101.4 L1642.0,99.6 L1641.1,98.0 L1641.5,96.4 L1642.1,94.7 L1641.6,93.1 L1640.8,91.5 L1640.5,89.8 L1640.5,88.2 L1641.1,86.5 L1641.1,84.9 L1640.8,83.3 L1641.1,81.6 Z" fill="none" stroke="#000000" stroke-width="1.5" stroke-linejoin="round"/><path d="M1610.2,105.5 L1611.7,104.2 L1612.5,106.1 L1613.0,108.2 L1612.5,110.0 L1610.4,111.5 L1610.2,109.7 L1609.9,108.0 Z" fill="none" stroke="#000000" stroke-width="1.5" stroke-linejoin="round"/><path d="M1613.3,128.3 L1613.4,126.3 L1613.4,124.4 L1614.1,122.6 L1614.9,121.3 L1616.6,121.7 L1618.4,121.5 L1620.5,121.8 L1621.0,123.5 L1621.4,125.3 L1622.0,127.0 L1622.3,128.7 L1622.8,130.4 L1624.0,132.0 L1624.2,133.7 L1623.5,135.3 L1623.2,137.0 L1623.8,138.7 L1623.9,140.3 L1623.3,141.9 L1622.5,143.4 L1621.7,145.0 L1620.6,146.4 L1620.1,147.8 L1618.0,147.3 L1615.9,146.9 L1613.7,146.0 L1613.5,144.2 L1612.8,142.5 L1612.2,140.7 L1612.5,138.8 L1613.1,137.0 L1613.5,135.2 L1613.7,133.4 L1613.6,131.6 L1613.5,129.8 Z" fill="none" stroke="#000000" stroke-width="1.5" stroke-linejoin="round"/><path d="M1629.7,118.2 L1630.2,116.2 L1631.1,114.4 L1632.0,112.6 L1634.0,113.4 L1636.0,114.0 L1636.2,115.7 L1636.4,117.5 L1636.2,119.2 L1635.9,121.0 L1636.3,122.7 L1636.5,124.5 L1636.2,126.3 L1636.1,127.9 L1636.1,129.7 L1636.3,131.5 L1636.2,133.2 L1635.4,134.8 L1634.3,136.3 L1634.1,137.8 L1632.2,136.7 L1630.5,136.0 L1630.3,134.4 L1630.0,132.7 L1629.4,131.1 L1629.2,129.5 L1629.6,127.8 L1629.9,126.2 L1629.6,124.5 L1629.3,122.9 L1629.6,121.3 L1630.2,119.6 Z" fill="none" stroke="#000000" stroke-width="1.5" stroke-linejoin="round"/><path d="M1629.3,151.9 L1630.4,150.7 L1631.6,149.4 L1632.3,147.9 L1633.1,146.0 L1634.9,146.3 L1636.4,147.3 L1637.8,148.1 L1638.1,149.8 L1638.7,151.5 L1639.4,153.1 L1639.7,154.9 L1640.2,156.5 L1640.5,158.3 L1640.4,160.1 L1640.6,161.8 L1641.2,163.4 L1641.3,165.1 L1641.5,166.8 L1642.0,168.4 L1642.5,170.0 L1642.8,171.7 L1642.9,173.4 L1643.1,175.0 L1643.1,176.6 L1643.2,178.3 L1642.9,179.9 L1642.7,181.5 L1642.8,183.2 L1642.4,184.8 L1641.9,186.3 L1641.9,187.9 L1640.7,189.2 L1639.4,190.4 L1638.0,191.4 L1636.9,189.9 L1635.3,188.9 L1633.6,188.0 L1632.3,186.1 L1632.6,184.4 L1632.4,182.8 L1631.7,181.3 L1631.2,179.7 L1631.1,178.1 L1630.8,176.5 L1630.5,174.9 L1630.3,173.2 L1630.1,171.6 L1629.8,170.0 L1629.7,168.4 L1629.6,166.7 L1629.9,165.1 L1630.6,163.4 L1630.7,161.8 L1630.2,160.2 L1629.5,158.5 L1629.6,156.9 L1630.0,155.3 L1629.8,153.6 Z" fill="none" stroke="#000000" stroke-width="1.5" stroke-linejoin="round"/><path d="M1644.5,131.9 L1645.0,130.2 L1645.9,128.7 L1647.0,127.3 L1647.6,125.7 L1647.9,124.3 L1649.5,125.0 L1651.2,125.4 L1652.2,125.2 L1653.0,126.7 L1653.4,128.4 L1653.4,130.1 L1654.3,131.7 L1654.7,133.3 L1654.6,135.1 L1655.0,136.7 L1655.7,138.3 L1656.0,140.0 L1655.5,141.7 L1655.5,143.4 L1655.9,145.0 L1656.3,146.7 L1656.8,148.3 L1657.3,150.0 L1657.5,151.6 L1656.9,153.3 L1656.4,155.1 L1656.5,156.7 L1656.8,158.4 L1657.2,160.0 L1657.9,161.6 L1657.9,163.3 L1657.3,164.9 L1657.0,166.5 L1656.9,168.2 L1657.3,169.8 L1657.5,171.5 L1657.2,173.1 L1657.5,174.7 L1657.8,176.4 L1657.6,178.3 L1656.8,179.8 L1656.0,181.4 L1654.8,182.8 L1653.2,183.9 L1653.8,184.7 L1651.9,183.7 L1649.9,183.0 L1648.3,182.0 L1648.1,180.3 L1647.6,178.6 L1647.2,176.9 L1646.8,175.3 L1646.8,173.6 L1647.1,171.8 L1646.8,170.1 L1646.4,168.5 L1646.2,166.8 L1645.9,165.1 L1645.5,163.4 L1645.5,161.7 L1645.9,160.0 L1645.5,158.4 L1645.0,156.7 L1645.1,155.1 L1645.1,153.4 L1645.3,151.8 L1645.4,150.1 L1645.0,148.5 L1644.9,146.8 L1645.1,145.2 L1645.4,143.5 L1645.7,141.9 L1645.7,140.2 L1645.7,138.6 L1645.5,136.9 L1645.2,135.3 L1645.0,133.6 Z" fill="none" stroke="#000000" stroke-width="1.5" stroke-linejoin="round"/><path d="M1660.1,120.1 L1660.9,118.3 L1661.6,116.4 L1662.1,114.5 L1663.1,112.5 L1664.6,113.5 L1666.1,114.4 L1667.6,114.1 L1668.5,115.6 L1669.0,117.2 L1669.5,118.8 L1670.2,120.3 L1670.9,121.9 L1671.1,123.5 L1671.3,125.1 L1671.9,126.7 L1672.9,128.3 L1673.2,129.9 L1673.1,131.7 L1672.9,133.4 L1673.2,135.1 L1673.5,136.7 L1673.5,138.5 L1673.9,140.0 L1673.8,141.6 L1673.4,143.3 L1673.6,144.9 L1674.0,146.6 L1674.5,148.2 L1675.3,149.9 L1675.5,151.5 L1674.9,153.1 L1674.1,154.8 L1674.0,156.4 L1674.2,158.1 L1674.0,159.7 L1673.8,161.4 L1674.1,163.0 L1675.0,164.6 L1675.3,166.3 L1675.2,167.9 L1674.7,169.6 L1674.2,171.2 L1674.7,172.9 L1674.1,174.9 L1672.9,173.1 L1671.6,171.4 L1670.1,170.0 L1669.9,168.3 L1669.4,166.6 L1668.2,165.1 L1667.2,163.6 L1667.0,161.9 L1667.2,160.1 L1667.3,158.3 L1666.5,156.7 L1665.8,155.1 L1665.8,153.3 L1665.3,151.7 L1664.9,150.0 L1664.9,148.2 L1664.7,146.5 L1663.8,145.0 L1662.9,143.4 L1662.0,141.9 L1661.5,140.2 L1661.7,138.4 L1661.5,136.7 L1660.7,135.0 L1661.3,133.3 L1661.8,131.6 L1660.6,130.0 L1659.8,128.4 L1660.3,126.7 L1660.2,125.0 L1660.1,123.3 L1660.2,121.7 Z" fill="none" stroke="#000000" stroke-width="1.5" stroke-linejoin="round"/><path d="M1609.1,57.1 L1610.6,56.4 L1612.0,55.5 L1612.7,54.5 L1614.7,54.9 L1616.6,55.6 L1618.2,57.0 L1618.2,58.6 L1617.9,60.2 L1618.0,61.8 L1618.4,63.4 L1618.0,65.1 L1616.3,65.9 L1614.8,67.2 L1612.8,68.2 L1611.6,66.9 L1610.5,65.7 L1609.8,64.0 L1610.2,62.2 L1610.0,60.4 L1609.3,58.7 Z" fill="none" stroke="#7a2d92" stroke-width="1.5" stroke-linejoin="round"/><path d="M1642.5,84.0 L1643.8,83.1 L1644.8,82.0 L1645.3,83.7 L1645.6,85.3 L1645.4,87.0 L1645.9,88.6 L1646.4,90.3 L1645.9,92.2 L1645.1,93.8 L1644.4,95.4 L1643.3,97.0 L1643.1,95.3 L1643.0,93.5 L1642.7,91.8 L1642.2,90.0 L1642.1,88.0 L1642.2,86.0 Z" fill="none" stroke="#7a2d92" stroke-width="1.5" stroke-linejoin="round"/><path d="M1614.9,130.8 L1617.0,130.3 L1618.4,129.9 L1619.4,131.4 L1620.9,132.6 L1622.2,134.0 L1621.4,135.7 L1620.6,137.3 L1620.7,139.0 L1620.9,141.2 L1619.2,140.6 L1617.7,139.5 L1616.2,139.0 L1615.5,137.4 L1615.7,135.8 L1616.3,134.1 L1615.8,132.5 Z" fill="none" stroke="#7a2d92" stroke-width="1.5" stroke-linejoin="round"/><path d="M1630.3,119.0 L1632.4,118.9 L1633.6,118.0 L1634.0,119.7 L1634.2,121.3 L1634.6,123.0 L1635.3,124.6 L1635.1,126.3 L1634.5,127.8 L1633.8,129.8 L1633.5,131.9 L1633.2,133.9 L1632.3,132.0 L1631.6,130.0 L1630.8,128.0 L1630.6,126.4 L1630.8,124.8 L1630.4,123.2 L1629.6,121.6 Z" fill="none" stroke="#7a2d92" stroke-width="1.5" stroke-linejoin="round"/><path d="M1630.6,151.4 L1632.4,150.5 L1634.0,149.5 L1636.6,148.8 L1637.4,150.3 L1637.9,151.9 L1637.8,153.7 L1638.1,155.4 L1638.8,156.9 L1639.5,158.4 L1640.1,160.0 L1640.4,161.6 L1640.9,163.2 L1641.0,164.8 L1640.5,166.4 L1640.1,168.0 L1640.0,169.6 L1640.3,171.2 L1641.1,172.8 L1641.4,174.4 L1641.1,176.0 L1640.1,177.6 L1639.7,179.3 L1639.9,181.1 L1639.7,182.8 L1639.7,184.6 L1639.7,186.4 L1638.8,188.4 L1637.3,187.1 L1635.9,185.6 L1634.7,184.9 L1634.3,183.2 L1633.2,181.7 L1632.4,180.1 L1632.5,178.4 L1632.1,176.7 L1631.2,175.2 L1631.5,173.4 L1632.0,171.5 L1631.6,170.0 L1631.1,168.4 L1631.2,166.7 L1631.2,165.1 L1630.9,163.5 L1631.0,161.8 L1631.2,160.2 L1631.4,158.5 L1631.3,156.9 L1630.7,155.3 L1630.3,153.6 Z" fill="none" stroke="#7a2d92" stroke-width="1.5" stroke-linejoin="round"/><path d="M1647.0,132.4 L1648.2,130.7 L1648.9,128.7 L1650.0,127.0 L1651.0,128.2 L1652.3,129.3 L1652.8,130.9 L1653.0,132.1 L1653.8,133.7 L1654.2,135.3 L1653.9,137.0 L1654.3,138.6 L1654.9,140.2 L1655.2,141.8 L1655.6,143.4 L1656.3,145.0 L1656.7,146.6 L1656.4,148.3 L1655.9,150.0 L1655.6,151.7 L1655.9,153.4 L1656.5,155.1 L1656.2,156.8 L1655.5,158.5 L1656.1,160.2 L1656.7,161.9 L1656.4,163.6 L1655.9,165.2 L1655.4,166.9 L1654.9,168.6 L1654.5,170.3 L1654.6,171.7 L1654.5,173.5 L1654.5,175.4 L1654.3,177.2 L1653.5,178.8 L1652.2,180.2 L1652.6,181.6 L1651.1,180.4 L1649.9,179.1 L1649.1,177.4 L1648.3,176.0 L1647.9,174.4 L1647.5,172.8 L1647.5,171.2 L1647.7,169.5 L1647.9,167.9 L1648.0,166.3 L1647.7,164.7 L1647.6,163.1 L1647.9,161.4 L1648.0,159.8 L1647.9,158.2 L1647.7,156.6 L1647.5,155.0 L1647.0,153.4 L1646.3,151.7 L1645.9,150.1 L1646.3,148.4 L1647.0,146.8 L1647.3,145.1 L1647.0,143.5 L1647.1,141.8 L1647.3,140.2 L1646.5,138.6 L1645.6,137.0 L1645.6,135.3 L1646.4,133.6 Z" fill="none" stroke="#7a2d92" stroke-width="1.5" stroke-linejoin="round"/><path d="M1662.3,125.2 L1663.3,123.7 L1664.2,122.1 L1665.2,120.6 L1666.0,119.0 L1667.1,120.2 L1667.7,121.7 L1668.1,123.4 L1669.0,124.7 L1670.4,125.9 L1670.9,127.6 L1670.5,129.6 L1670.5,131.4 L1671.8,132.9 L1672.5,134.6 L1672.2,136.5 L1672.5,138.3 L1673.1,140.0 L1673.1,141.7 L1673.3,143.3 L1673.8,145.0 L1673.6,146.7 L1673.0,148.4 L1672.8,150.0 L1673.0,151.7 L1673.7,153.3 L1674.1,155.0 L1673.5,156.7 L1673.5,158.4 L1673.9,160.0 L1673.6,161.7 L1673.6,163.4 L1674.5,165.0 L1675.3,166.6 L1675.1,168.3 L1674.2,170.4 L1672.5,169.4 L1670.6,168.1 L1670.2,166.5 L1670.4,164.6 L1670.2,162.9 L1669.3,161.4 L1668.8,159.8 L1668.4,158.2 L1667.9,156.5 L1667.6,154.8 L1667.2,153.2 L1666.6,151.6 L1666.0,150.0 L1665.5,148.3 L1665.1,146.6 L1664.9,144.8 L1664.4,143.1 L1663.3,141.6 L1662.9,139.8 L1663.3,138.0 L1663.6,136.3 L1663.2,134.7 L1662.6,133.1 L1662.5,131.5 L1663.0,129.8 L1663.0,128.2 L1662.6,126.6 Z" fill="none" stroke="#7a2d92" stroke-width="1.5" stroke-linejoin="round"/><path d="M1611.0,59.1 L1613.1,58.1 L1615.0,57.0 L1615.8,58.6 L1616.5,60.3 L1617.6,62.4 L1616.4,63.6 L1614.8,64.5 L1614.0,66.0 L1612.4,65.1 L1611.3,64.0 L1611.6,62.3 L1611.3,60.7 Z" fill="none" stroke="#d4337c" stroke-width="1.5" stroke-linejoin="round"/><path d="M1631.8,155.6 L1633.9,154.8 L1635.7,154.0 L1636.3,155.8 L1636.8,157.6 L1636.6,159.6 L1636.4,161.5 L1636.9,163.3 L1638.1,165.0 L1638.5,166.7 L1638.1,168.3 L1637.7,169.9 L1637.4,171.5 L1637.6,173.1 L1637.9,174.8 L1637.4,176.4 L1636.9,178.1 L1635.4,177.1 L1634.2,176.0 L1633.7,174.3 L1633.3,172.7 L1633.5,170.9 L1633.1,169.3 L1632.3,167.7 L1631.8,166.0 L1631.4,164.3 L1631.3,162.7 L1631.7,161.0 L1632.1,159.3 L1631.9,157.7 Z" fill="none" stroke="#d4337c" stroke-width="1.5" stroke-linejoin="round"/><path d="M1647.8,139.8 L1648.2,138.1 L1649.5,137.0 L1650.7,136.1 L1651.2,137.8 L1651.9,139.4 L1651.9,141.2 L1652.4,142.9 L1653.3,144.5 L1653.7,146.3 L1653.6,148.0 L1653.4,149.6 L1653.3,151.2 L1653.7,152.8 L1654.3,154.4 L1654.5,156.0 L1654.3,157.6 L1654.0,159.2 L1653.8,160.8 L1653.7,162.4 L1653.9,164.0 L1654.3,165.6 L1654.4,167.2 L1654.3,168.8 L1654.2,170.4 L1654.4,172.3 L1653.5,173.7 L1652.4,175.0 L1650.6,176.1 L1650.8,174.4 L1651.0,172.7 L1650.2,171.2 L1649.4,169.7 L1649.5,168.0 L1649.8,166.4 L1649.6,164.7 L1649.5,163.1 L1649.7,161.5 L1649.3,160.0 L1648.9,158.3 L1648.6,156.7 L1648.1,155.0 L1647.9,153.3 L1648.0,151.7 L1648.4,150.0 L1648.7,148.3 L1648.6,146.7 L1648.4,145.0 L1648.3,143.3 L1648.2,141.7 Z" fill="none" stroke="#d4337c" stroke-width="1.5" stroke-linejoin="round"/><path d="M1649.3,154.3 L1652.9,153.9 L1652.6,155.9 L1652.8,157.7 L1653.2,159.5 L1653.4,161.3 L1653.7,163.2 L1654.2,165.1 L1653.9,166.8 L1653.3,168.4 L1652.7,170.1 L1651.8,171.8 L1651.0,169.7 L1649.9,168.0 L1649.1,166.4 L1649.0,164.8 L1649.3,163.1 L1649.5,161.5 L1649.4,159.9 L1649.3,158.2 L1649.0,156.6 Z" fill="none" stroke="#fb7d5d" stroke-width="1.5" stroke-linejoin="round"/><path d="M1639.0,107.0 L1639.4,108.7 L1639.7,110.4 L1640.7,111.8 L1642.1,113.1 L1642.7,115.2 L1641.6,116.8 L1641.1,118.5 L1641.0,120.4 L1640.6,121.8 L1640.9,123.6 L1641.2,125.3 L1641.8,126.9 L1642.1,128.6 L1642.1,130.4 L1643.0,132.0" fill="none" stroke="#000000" stroke-width="1.5" stroke-linejoin="round"/><circle cx="1215" cy="55.4" r="1.6" fill="#7a2d92"/><circle cx="1353" cy="336.5" r="1.6" fill="#7a2d92"/><path d="M1030.0,497.2 L1031.6,497.0 L1033.2,496.8 L1034.9,497.5 L1036.5,498.1 L1038.1,498.1 L1039.8,497.9 L1041.4,497.6 L1043.1,497.4 L1044.7,496.8 L1046.3,496.3 L1047.9,495.7 L1049.6,495.4 L1051.1,494.5 L1052.5,493.3 L1053.9,492.3 L1055.3,491.3 L1057.0,490.8 L1058.8,490.9 L1060.6,490.6 L1062.0,489.7 L1063.6,488.9 L1065.1,488.2 L1066.5,487.5 L1067.9,486.7 L1069.3,485.9 L1071.1,486.0 L1072.8,485.9 L1074.2,484.9 L1075.5,483.9 L1077.1,483.4 L1078.6,482.8 L1080.0,482.0 L1081.6,481.6 L1083.1,481.3 L1084.7,480.8 L1086.3,480.5 L1087.9,480.3 L1089.4,479.7 L1090.8,478.9 L1092.3,478.4 L1094.0,478.4 L1095.7,477.6 L1096.9,476.1 L1097.9,474.4 L1099.5,473.5 L1101.6,473.1 L1102.7,471.8 L1104.3,470.7 L1106.0,470.5 L1107.8,470.8 L1109.6,471.2 L1111.3,470.8 L1112.9,469.8 L1114.6,469.6 L1116.4,469.6 L1118.1,469.1 L1119.8,469.0 L1121.4,468.6 L1123.1,468.4 L1124.9,468.5 L1126.5,468.1 L1128.2,467.2 L1129.9,466.9 L1131.6,467.3 L1133.4,467.8 L1135.1,467.3 L1136.7,466.6 L1138.5,467.1 L1140.2,467.6 L1141.9,467.5 L1143.6,467.2 L1145.2,466.8 L1146.6,467.5 L1148.2,468.1 L1149.8,468.5 L1151.2,469.3 L1152.6,470.1 L1154.2,470.5 L1156.3,471.4 L1156.6,473.1 L1156.4,475.0 L1156.5,476.8 L1157.3,478.4 L1157.9,480.1 L1158.1,481.9 L1158.9,483.5 L1159.2,484.8 L1160.6,485.7 L1162.1,486.5 L1163.5,487.5 L1165.1,487.9 L1167.0,487.4 L1168.7,487.4 L1170.1,488.5 L1171.3,490.0 L1172.9,490.7 L1174.7,490.5 L1176.5,490.4 L1178.0,491.0 L1179.5,492.0 L1180.2,493.8 L1181.0,495.5 L1182.1,497.2 L1183.3,499.5 L1181.6,500.5 L1180.0,501.6 L1178.8,503.1 L1177.0,504.0 L1175.2,506.5 L1176.8,507.1 L1178.4,507.9 L1179.5,509.0 L1180.8,510.0 L1181.9,511.2 L1182.7,512.7 L1183.5,514.1 L1184.6,515.3 L1185.8,516.4 L1186.7,517.7 L1188.1,518.7 L1189.7,519.3 L1190.8,520.5 L1191.5,522.1 L1192.8,523.1 L1194.2,524.0 L1195.4,525.0 L1196.8,525.9 L1198.1,526.8 L1199.0,528.2 L1199.8,529.7 L1201.0,531.0 L1202.6,531.9 L1204.3,532.8 L1205.4,534.2 L1206.3,535.9 L1207.3,537.4 L1208.6,538.7 L1209.9,539.8 L1209.2,541.5 L1208.3,543.1 L1207.4,544.7 L1207.1,546.6 L1206.7,548.3 L1205.0,548.3 L1203.4,548.6 L1201.9,549.5 L1200.3,550.0 L1198.8,550.5 L1197.2,550.8 L1195.4,550.2 L1193.7,550.2 L1192.1,550.3 L1190.4,550.0 L1188.8,550.3 L1187.2,550.8 L1185.6,551.2 L1184.2,552.2 L1182.6,553.0 L1180.9,552.8 L1179.2,553.4 L1178.7,555.2 L1177.5,556.4 L1176.1,557.6 L1175.1,559.0 L1174.4,560.7 L1173.6,562.3 L1172.6,563.7 L1173.2,565.3 L1173.5,566.9 L1174.0,568.5 L1174.7,570.0 L1175.3,571.5 L1176.1,573.0 L1176.7,574.6 L1176.8,576.3 L1176.8,578.0 L1176.9,579.7 L1177.3,581.3 L1177.7,582.9 L1178.3,584.5 L1178.9,586.0 L1179.4,587.7 L1180.8,588.3 L1182.2,589.2 L1183.6,590.0 L1185.1,590.6 L1186.5,591.3 L1188.1,591.7 L1189.7,592.1 L1191.2,592.6 L1192.4,593.8 L1193.5,595.2 L1194.9,596.1 L1196.5,596.4 L1198.3,596.5 L1199.8,597.1 L1200.9,598.5 L1202.2,599.5 L1203.8,599.9 L1205.4,600.2 L1206.7,601.1 L1208.4,601.3 L1210.1,601.3 L1211.8,601.3 L1213.6,600.9 L1215.3,600.3 L1217.8,600.6 L1218.8,602.0 L1219.7,603.5 L1220.1,605.3 L1220.8,606.9 L1222.2,608.0 L1223.6,609.1 L1224.8,610.3 L1225.8,611.7 L1226.5,613.3 L1227.4,614.8 L1228.1,616.4 L1228.5,617.9 L1229.0,619.5 L1229.5,621.1 L1229.9,622.7 L1230.3,624.3 L1230.9,625.9 L1231.5,627.4 L1231.8,629.0 L1232.2,630.7 L1232.6,632.3 L1232.9,633.9 L1233.8,635.4 L1235.0,636.8 L1235.7,638.5 L1236.7,640.0 L1237.6,641.6 L1238.2,643.4 L1239.0,645.0" fill="none" stroke="#000000" stroke-width="1.5" stroke-linejoin="round"/><path d="M1030.0,517.7 L1031.6,517.3 L1033.2,517.5 L1034.9,518.0 L1036.5,517.9 L1038.1,518.1 L1039.8,518.1 L1041.4,517.5 L1043.0,517.7 L1044.3,516.7 L1045.2,515.2 L1046.0,513.7 L1047.4,512.8 L1049.0,512.1 L1050.6,511.4 L1052.1,510.7 L1053.1,509.3 L1053.8,507.7 L1055.3,506.9 L1056.9,506.2 L1058.1,505.0 L1058.9,503.5 L1059.9,502.1 L1061.7,501.7 L1063.4,501.4 L1065.0,500.7 L1066.6,500.0 L1067.9,498.9 L1069.2,497.4 L1070.8,496.8 L1072.5,496.3 L1073.8,495.1 L1075.2,494.2 L1076.9,493.5 L1078.5,493.0 L1080.2,492.8 L1081.9,493.2 L1083.6,493.4 L1085.1,492.6 L1086.6,491.8 L1088.3,491.8 L1089.9,491.6 L1091.5,490.9 L1093.0,490.2 L1094.6,489.9 L1096.4,490.3 L1098.1,490.5 L1099.6,490.0 L1101.2,489.5 L1102.9,489.7 L1104.4,489.4 L1106.1,488.7 L1107.7,488.5 L1109.3,488.3 L1111.1,488.3 L1112.7,489.0 L1114.4,489.2 L1116.2,489.4 L1117.8,490.1 L1119.5,490.4 L1121.2,490.4 L1123.0,490.7 L1124.6,491.4 L1126.2,492.2 L1127.6,492.3 L1129.2,493.2 L1130.1,494.6 L1131.0,496.1 L1132.0,497.5 L1133.0,498.9 L1134.1,500.1 L1135.7,501.0 L1137.3,502.2 L1137.0,503.9 L1136.8,505.6 L1137.1,507.3 L1137.3,508.9 L1137.7,510.5 L1138.0,512.1 L1138.0,513.8 L1138.5,515.4 L1139.2,517.0 L1139.4,518.6 L1139.2,520.3 L1139.5,521.9 L1140.6,523.4 L1140.7,525.1 L1139.9,526.8 L1139.4,528.6 L1139.6,530.2 L1140.6,531.7 L1141.2,533.3 L1141.1,535.0 L1140.8,536.7 L1140.5,538.4 L1140.9,540.0 L1141.6,541.6 L1142.0,543.2 L1142.8,544.7 L1143.3,546.3 L1143.6,547.9 L1144.3,549.5 L1145.0,551.0 L1145.3,552.6 L1146.1,554.2 L1146.9,555.6 L1147.8,557.1 L1148.4,558.6 L1148.7,560.4 L1150.2,561.1 L1151.7,561.8 L1153.3,562.2 L1155.1,562.1 L1156.7,562.3 L1158.2,563.1 L1159.8,563.7 L1161.4,564.2 L1162.9,564.8 L1164.6,564.8 L1166.4,564.6 L1168.1,564.8 L1169.7,565.3 L1171.2,566.1 L1172.7,567.1 L1173.3,568.6 L1174.2,570.0 L1174.9,571.5 L1175.5,573.1 L1176.7,574.3 L1178.1,575.4 L1178.9,576.9 L1179.1,578.7 L1179.7,580.3 L1180.9,581.5 L1182.0,582.7 L1182.6,584.3 L1183.1,585.9 L1183.8,587.4 L1184.5,589.0 L1185.3,590.5 L1186.1,592.0 L1186.5,593.6 L1186.8,595.3 L1187.4,596.9 L1187.8,598.5 L1188.1,600.2 L1189.2,601.6 L1190.6,602.9 L1191.3,604.5 L1191.4,606.2 L1191.5,608.0 L1190.7,609.6 L1190.2,611.3 L1190.3,612.9 L1190.8,614.5 L1191.4,616.1 L1191.8,617.7 L1192.2,619.2 L1192.5,620.8 L1192.1,622.5 L1191.8,624.1 L1192.1,625.7 L1192.7,627.3 L1193.0,628.9 L1192.8,630.5 L1192.5,632.1 L1192.5,633.7 L1192.6,635.3 L1192.5,637.0 L1192.6,638.6 L1193.1,640.2 L1193.4,641.8 L1193.6,643.4 L1193.0,645.0" fill="none" stroke="#7a2d92" stroke-width="1.5" stroke-linejoin="round"/><path d="M1030.0,545.0 L1031.6,545.2 L1033.2,545.6 L1034.9,545.7 L1036.5,545.4 L1038.1,545.4 L1039.8,545.5 L1041.4,545.6 L1043.0,545.1 L1044.7,545.2 L1046.2,546.1 L1047.6,547.0 L1049.3,547.2 L1051.0,547.2 L1052.7,547.4 L1054.4,547.7 L1055.8,548.6 L1057.3,549.4 L1059.0,549.8 L1060.6,550.2 L1062.0,551.1 L1063.6,551.7 L1065.2,552.0 L1066.9,552.4 L1068.5,552.9 L1070.0,553.5 L1071.6,553.5 L1073.2,553.8 L1074.7,554.3 L1076.4,554.4 L1077.9,554.9 L1079.3,556.2 L1080.9,556.3 L1082.6,555.6 L1084.3,555.8 L1085.8,556.2 L1087.1,556.6 L1088.5,555.7 L1090.0,555.1 L1091.7,554.6 L1093.2,553.9 L1094.4,552.7 L1095.4,551.4 L1096.7,550.4 L1098.0,549.3 L1099.1,548.2 L1100.1,546.8 L1101.2,545.6 L1102.5,544.5 L1103.5,543.1 L1104.9,542.1 L1106.4,541.3 L1107.4,539.9 L1108.2,538.3 L1109.5,537.3 L1110.8,536.6 L1111.6,538.1 L1113.0,539.0 L1114.7,539.6 L1115.8,540.8 L1116.8,542.1 L1118.0,543.1 L1119.5,544.0 L1120.4,545.3 L1121.3,546.7 L1122.7,547.6 L1124.0,548.6 L1125.0,549.8 L1126.4,550.7 L1128.0,551.1 L1129.6,551.6 L1130.9,552.6 L1132.1,553.9 L1133.3,555.1 L1134.9,555.4 L1136.6,555.8 L1138.0,556.7 L1139.3,557.6 L1140.9,558.2 L1142.3,558.9 L1143.9,559.5 L1145.6,559.8 L1147.1,560.4 L1148.5,561.2 L1149.9,562.2 L1151.0,563.6 L1152.1,564.9 L1153.7,565.5 L1155.3,565.8 L1157.0,566.2 L1158.7,566.5 L1160.2,567.1 L1161.5,568.0 L1163.0,568.7 L1164.4,569.6 L1165.7,570.6 L1166.4,572.1 L1167.3,573.5 L1168.4,574.9 L1169.6,576.1 L1170.7,577.4 L1171.2,579.1 L1171.4,580.9 L1171.9,582.6 L1173.0,583.9 L1174.5,585.0 L1175.5,586.4 L1176.0,588.1 L1176.5,589.8 L1176.8,591.1 L1177.5,592.6 L1178.5,594.2 L1178.2,595.8 L1178.0,597.4 L1178.6,599.0 L1178.8,600.6 L1178.6,602.2 L1178.3,603.9 L1178.7,605.4 L1179.5,607.0 L1179.7,608.6 L1179.9,610.2 L1180.2,611.8 L1179.3,613.5 L1178.5,615.1 L1178.9,616.7 L1179.7,618.3 L1179.9,619.9 L1179.8,621.6 L1180.0,623.3 L1180.0,625.0 L1179.5,626.7 L1179.8,628.3 L1180.1,630.0 L1179.9,631.7 L1180.0,633.3 L1180.3,635.0 L1180.2,636.7 L1180.1,638.4 L1180.4,640.0 L1180.8,641.7 L1180.9,643.3 L1181.1,645.0" fill="none" stroke="#d4337c" stroke-width="1.5" stroke-linejoin="round"/><path d="M1030.0,601.2 L1031.6,601.6 L1033.2,600.9 L1034.9,600.6 L1036.5,600.8 L1038.1,601.2 L1039.8,601.3 L1041.4,601.3 L1042.9,602.0 L1044.6,602.4 L1046.4,601.9 L1048.1,602.0 L1049.8,602.4 L1051.5,602.9 L1053.2,603.4 L1054.9,603.7 L1056.5,604.2 L1058.2,604.6 L1060.0,604.4 L1061.8,604.5 L1063.5,604.7 L1065.2,604.5 L1066.8,604.4 L1068.5,604.2 L1070.1,603.9 L1071.7,603.5 L1073.4,603.3 L1075.0,603.0 L1076.6,602.7 L1078.3,602.6 L1080.1,602.7 L1081.8,603.1 L1083.5,603.4 L1085.2,603.9 L1086.8,604.4 L1088.5,605.0 L1090.1,606.1 L1091.2,604.7 L1091.7,603.1 L1092.1,601.4 L1093.0,600.0 L1093.9,598.6 L1094.4,596.9 L1095.2,595.4 L1095.7,593.8 L1096.4,592.3 L1097.7,590.9 L1098.5,592.4 L1099.2,594.0 L1100.4,595.2 L1101.6,596.3 L1102.6,597.6 L1103.9,598.7 L1105.1,600.0 L1105.2,601.7 L1105.5,603.4 L1106.6,604.7 L1107.7,606.1 L1108.1,607.7 L1108.9,609.1 L1109.5,610.7 L1109.7,612.4 L1110.6,613.8 L1111.9,614.7 L1113.4,614.0 L1115.3,614.1 L1116.9,613.5 L1118.2,612.1 L1120.7,611.2 L1121.5,612.7 L1122.8,613.6 L1124.1,614.6 L1125.0,616.0 L1126.6,616.6 L1127.9,617.5 L1128.8,619.0 L1130.0,620.2 L1131.7,620.1 L1133.4,619.5 L1135.1,619.0 L1136.7,618.6 L1138.4,618.0 L1140.2,618.4 L1141.9,619.1 L1143.6,618.6 L1145.1,618.4 L1145.2,620.3 L1145.9,621.9 L1147.0,623.5 L1147.8,625.1 L1148.8,626.6 L1149.5,628.3 L1149.8,630.1 L1150.1,631.8 L1150.7,633.5 L1151.7,635.0 L1152.6,636.6 L1153.0,638.3 L1153.7,640.0 L1154.6,641.6 L1155.2,643.2 L1155.5,645.0" fill="none" stroke="#d4337c" stroke-width="1.5" stroke-linejoin="round"/><path d="M1030.0,625.0 L1031.6,625.7 L1033.2,625.0 L1034.9,624.4 L1036.5,625.3 L1038.1,625.8 L1039.8,625.1 L1041.4,624.6 L1042.8,624.3 L1044.2,623.4 L1045.9,623.4 L1047.5,623.2 L1049.0,622.7 L1050.7,622.5 L1052.1,621.7 L1053.5,620.9 L1055.2,620.9 L1057.0,621.3 L1058.8,621.5 L1060.1,620.8 L1061.7,620.0 L1063.3,619.4 L1065.0,619.3 L1066.7,619.3 L1068.3,619.0 L1070.0,618.9 L1071.7,618.7 L1073.3,618.0 L1075.2,617.8 L1076.2,619.0 L1077.5,620.0 L1078.8,620.9 L1080.1,621.8 L1081.1,623.2 L1081.9,624.7 L1083.4,625.4 L1085.2,625.7 L1086.4,626.8 L1087.5,628.0 L1088.9,628.8 L1090.4,629.6 L1091.4,631.1 L1092.6,632.4 L1093.9,633.6 L1095.3,634.7 L1097.0,635.5 L1098.2,636.8 L1098.9,638.6 L1099.9,640.1 L1101.3,641.2 L1102.6,642.4 L1103.6,643.9 L1105.0,645.0" fill="none" stroke="#d4337c" stroke-width="1.5" stroke-linejoin="round"/><path d="M1150.7,510.2 L1151.4,508.5 L1152.3,507.0 L1153.5,505.7 L1154.6,504.3 L1155.4,502.7 L1156.0,500.9 L1157.6,501.4 L1159.1,502.1 L1160.5,503.0 L1161.8,504.1 L1163.4,504.4 L1165.3,504.6 L1166.3,506.0 L1167.3,507.5 L1168.8,508.2 L1170.5,508.5 L1171.9,509.4 L1173.0,510.8 L1174.2,511.8 L1175.9,512.3 L1177.7,512.6 L1179.0,513.5 L1180.2,514.7 L1181.6,515.6 L1182.9,516.6 L1184.0,517.9 L1185.4,518.7 L1187.2,519.0 L1188.4,520.1 L1189.4,521.7 L1190.8,522.4 L1192.3,523.2 L1193.7,524.1 L1195.5,524.8 L1196.4,526.4 L1196.6,528.4 L1196.8,530.3 L1197.7,532.0 L1198.7,533.5 L1199.7,534.7 L1198.4,536.1 L1197.2,537.6 L1195.6,538.5 L1193.6,538.9 L1192.2,539.4 L1190.6,538.9 L1189.0,538.6 L1187.5,538.0 L1186.1,537.1 L1184.5,536.9 L1182.9,536.5 L1181.5,535.5 L1180.0,534.9 L1178.7,534.1 L1177.5,533.0 L1176.2,532.0 L1174.9,531.0 L1173.6,530.1 L1172.1,529.5 L1170.5,529.0 L1169.2,528.0 L1168.0,527.0 L1166.6,526.0 L1165.2,524.9 L1163.7,524.1 L1162.0,523.4 L1160.6,522.4 L1159.5,520.9 L1158.6,519.5 L1157.4,518.2 L1155.8,517.2 L1154.8,515.7 L1154.0,514.0 L1152.8,512.7 L1151.6,511.4 Z" fill="none" stroke="#7a2d92" stroke-width="1.5" stroke-linejoin="round"/><path d="M1114.6,477.9 L1116.5,477.9 L1118.1,477.2 L1119.8,476.4 L1121.5,475.8 L1123.1,475.0 L1125.1,474.4 L1126.9,474.7 L1128.6,475.0 L1130.0,476.5 L1131.6,477.4 L1133.4,477.1 L1135.2,477.0 L1137.3,478.2 L1136.4,480.1 L1135.4,481.9 L1135.0,483.9 L1133.2,484.7 L1131.4,485.0 L1129.5,485.0 L1127.6,484.7 L1125.7,484.3 L1124.0,485.0 L1122.2,485.2 L1120.4,484.8 L1118.7,483.9 L1117.0,483.0 L1116.2,483.9 L1115.4,482.0 L1114.5,480.0 Z" fill="none" stroke="#7a2d92" stroke-width="1.5" stroke-linejoin="round"/><path d="M1057.1,512.2 L1058.6,511.3 L1060.1,510.5 L1061.4,509.6 L1062.4,508.1 L1063.4,506.6 L1065.1,505.7 L1066.7,506.6 L1068.3,507.4 L1069.9,508.3 L1071.6,508.8 L1073.5,508.8 L1074.9,509.4 L1076.6,509.6 L1078.3,509.4 L1080.0,508.9 L1081.7,508.6 L1083.4,508.5 L1084.7,508.2 L1085.7,509.8 L1086.9,511.2 L1088.5,512.5 L1089.7,514.0 L1090.0,515.9 L1090.4,518.4 L1089.2,519.6 L1087.7,520.2 L1086.2,521.0 L1085.1,522.1 L1084.0,523.3 L1082.6,524.1 L1081.1,524.8 L1080.1,525.7 L1078.3,525.7 L1076.6,525.5 L1075.0,524.8 L1073.4,524.2 L1071.7,524.2 L1069.9,524.4 L1068.2,524.2 L1066.5,523.8 L1064.8,523.7 L1063.1,523.4 L1061.4,522.6 L1059.6,522.7 L1057.0,522.1 L1057.5,520.4 L1058.2,518.6 L1057.6,517.0 L1056.6,515.4 L1056.7,513.7 Z" fill="none" stroke="#d4337c" stroke-width="1.5" stroke-linejoin="round"/><path d="M1106.1,505.7 L1107.8,505.0 L1109.4,504.5 L1111.2,504.2 L1112.9,504.3 L1114.7,504.3 L1116.4,503.7 L1118.2,502.9 L1119.4,504.0 L1119.8,505.7 L1120.4,507.3 L1121.8,508.3 L1123.2,509.2 L1123.9,510.8 L1124.6,512.1 L1125.5,513.7 L1126.0,515.4 L1126.1,517.2 L1127.0,518.7 L1128.7,519.9 L1129.6,521.4 L1129.4,523.4 L1129.7,525.1 L1130.5,526.7 L1131.1,528.3 L1131.4,530.0 L1132.0,531.7 L1133.0,533.2 L1133.1,535.5 L1131.5,535.9 L1130.0,536.5 L1128.4,537.0 L1126.8,537.2 L1124.9,537.1 L1124.0,535.5 L1122.9,534.0 L1121.4,532.9 L1120.0,531.7 L1118.7,530.4 L1117.6,529.0 L1116.5,527.6 L1115.3,526.5 L1114.0,525.5 L1113.0,524.3 L1112.0,523.0 L1111.1,521.6 L1110.3,520.3 L1109.2,519.1 L1108.0,518.0 L1107.9,516.4 L1107.7,514.7 L1107.4,513.1 L1107.2,511.5 L1106.8,509.9 L1107.0,508.2 L1107.2,506.5 Z" fill="none" stroke="#d4337c" stroke-width="1.5" stroke-linejoin="round"/><path d="M1116.4,575.0 L1116.9,573.3 L1117.5,571.7 L1118.6,570.2 L1119.5,568.7 L1119.9,567.2 L1121.6,567.6 L1123.1,568.6 L1124.5,569.6 L1126.3,569.8 L1128.2,569.8 L1129.7,570.6 L1130.9,571.9 L1132.0,573.3 L1133.5,574.1 L1135.1,574.5 L1136.8,574.6 L1138.5,574.9 L1140.1,575.4 L1141.7,576.1 L1143.3,577.1 L1144.8,577.8 L1146.5,578.0 L1148.3,577.9 L1150.0,577.9 L1151.6,579.0 L1153.2,579.8 L1155.0,580.2 L1156.7,580.8 L1158.3,581.6 L1160.0,582.3 L1161.7,582.1 L1163.3,583.4 L1163.6,585.1 L1163.3,587.0 L1163.5,588.7 L1164.1,590.2 L1165.0,591.7 L1165.9,593.3 L1166.2,594.9 L1166.5,596.7 L1167.2,598.3 L1167.9,599.8 L1168.3,601.6 L1168.9,603.2 L1170.1,604.6 L1171.2,606.0 L1171.2,608.9 L1169.5,609.0 L1167.8,609.2 L1166.3,609.8 L1164.8,610.4 L1163.2,610.6 L1161.5,610.9 L1160.2,611.2 L1158.8,610.3 L1157.4,609.5 L1155.9,608.9 L1154.3,608.4 L1152.9,607.5 L1151.5,606.7 L1149.8,606.4 L1148.4,605.5 L1147.2,604.2 L1145.7,603.5 L1144.0,603.0 L1142.8,601.8 L1141.7,600.3 L1140.2,599.4 L1138.4,599.0 L1136.7,598.5 L1134.8,598.4 L1133.1,597.8 L1131.5,596.9 L1129.7,596.7 L1127.8,596.3 L1126.9,594.8 L1125.5,593.8 L1123.6,593.5 L1122.3,592.5 L1121.0,591.4 L1119.4,590.1 L1119.5,588.4 L1119.7,586.5 L1119.0,584.9 L1118.1,583.4 L1117.5,581.8 L1117.0,580.1 L1116.8,578.4 L1116.7,576.7 Z" fill="none" stroke="#fb7d5d" stroke-width="1.5" stroke-linejoin="round"/><path d="M1045.0,575.6 L1046.8,574.7 L1048.4,573.5 L1050.1,572.2 L1051.0,573.5 L1052.0,574.9 L1052.4,576.6 L1052.2,577.8 L1052.2,579.5 L1052.6,581.2 L1052.4,582.9 L1052.3,584.5 L1051.7,586.1 L1051.0,587.5 L1049.0,587.1 L1047.0,586.6 L1044.8,586.0 L1044.6,584.2 L1044.7,582.3 L1044.9,580.5 L1044.9,578.7 L1045.0,576.8 Z" fill="none" stroke="#fb7d5d" stroke-width="1.5" stroke-linejoin="round"/>
</g>
<rect x="1532.2" y="400.4" width="128.7" height="228.9" rx="5.5" fill="#fff" fill-opacity="0.8" stroke="#6a6a6a" stroke-width="1.6"/>
<text x="1596.6" y="423.1" font-size="16.3" text-anchor="middle" font-family="'Liberation Sans', Arial, sans-serif">S/N</text>
<line x1="1542.5" y1="450.8" x2="1598.0" y2="450.8" stroke="#2a2a2a" stroke-width="1.9"/>
<text x="1621.4" y="459.6" font-size="24.6" font-family="'Liberation Sans', Arial, sans-serif">10</text>
<line x1="1542.5" y1="489.2" x2="1598.0" y2="489.2" stroke="#7a2d92" stroke-width="1.9"/>
<text x="1621.4" y="498.0" font-size="24.6" font-family="'Liberation Sans', Arial, sans-serif">15</text>
<line x1="1542.5" y1="527.6" x2="1598.0" y2="527.6" stroke="#d4337c" stroke-width="1.9"/>
<text x="1621.4" y="536.5" font-size="24.6" font-family="'Liberation Sans', Arial, sans-serif">20</text>
<line x1="1542.5" y1="566.0" x2="1598.0" y2="566.0" stroke="#fb7d5d" stroke-width="1.9"/>
<text x="1621.4" y="574.9" font-size="24.6" font-family="'Liberation Sans', Arial, sans-serif">25</text>
<line x1="1542.5" y1="604.5" x2="1598.0" y2="604.5" stroke="#f4fbc4" stroke-width="1.9"/>
<text x="1621.4" y="613.3" font-size="24.6" font-family="'Liberation Sans', Arial, sans-serif">30</text>
<rect x="1043.6" y="50.9" width="630.3" height="591.3" fill="none" stroke="#000" stroke-width="1.2"/>
<line x1="1113.0" y1="642.2" x2="1113.0" y2="649.8" stroke="#000" stroke-width="1.2"/>
<text x="1113.0" y="672.2" font-size="21.4" text-anchor="middle" font-family="'Liberation Sans', Arial, sans-serif">12</text>
<line x1="1206.5" y1="642.2" x2="1206.5" y2="649.8" stroke="#000" stroke-width="1.2"/>
<text x="1206.5" y="672.2" font-size="21.4" text-anchor="middle" font-family="'Liberation Sans', Arial, sans-serif">10</text>
<line x1="1300.0" y1="642.2" x2="1300.0" y2="649.8" stroke="#000" stroke-width="1.2"/>
<text x="1300.0" y="672.2" font-size="21.4" text-anchor="middle" font-family="'Liberation Sans', Arial, sans-serif">8</text>
<line x1="1393.5" y1="642.2" x2="1393.5" y2="649.8" stroke="#000" stroke-width="1.2"/>
<text x="1393.5" y="672.2" font-size="21.4" text-anchor="middle" font-family="'Liberation Sans', Arial, sans-serif">6</text>
<line x1="1486.9" y1="642.2" x2="1486.9" y2="649.8" stroke="#000" stroke-width="1.2"/>
<text x="1486.9" y="672.2" font-size="21.4" text-anchor="middle" font-family="'Liberation Sans', Arial, sans-serif">4</text>
<line x1="1580.4" y1="642.2" x2="1580.4" y2="649.8" stroke="#000" stroke-width="1.2"/>
<text x="1580.4" y="672.2" font-size="21.4" text-anchor="middle" font-family="'Liberation Sans', Arial, sans-serif">2</text>
<line x1="1673.9" y1="642.2" x2="1673.9" y2="649.8" stroke="#000" stroke-width="1.2"/>
<text x="1673.9" y="672.2" font-size="21.4" text-anchor="middle" font-family="'Liberation Sans', Arial, sans-serif">0</text>
<line x1="1036.0" y1="154.8" x2="1043.6" y2="154.8" stroke="#000" stroke-width="1.2"/>
<text x="1029.6" y="162.4" font-size="21.4" text-anchor="end" font-family="'Liberation Sans', Arial, sans-serif">0.0</text>
<line x1="1036.0" y1="270.4" x2="1043.6" y2="270.4" stroke="#000" stroke-width="1.2"/>
<text x="1029.6" y="278.0" font-size="21.4" text-anchor="end" font-family="'Liberation Sans', Arial, sans-serif">−0.5</text>
<line x1="1036.0" y1="385.9" x2="1043.6" y2="385.9" stroke="#000" stroke-width="1.2"/>
<text x="1029.6" y="393.5" font-size="21.4" text-anchor="end" font-family="'Liberation Sans', Arial, sans-serif">−1.0</text>
<line x1="1036.0" y1="501.4" x2="1043.6" y2="501.4" stroke="#000" stroke-width="1.2"/>
<text x="1029.6" y="509.1" font-size="21.4" text-anchor="end" font-family="'Liberation Sans', Arial, sans-serif">−1.5</text>
<line x1="1036.0" y1="617.0" x2="1043.6" y2="617.0" stroke="#000" stroke-width="1.2"/>
<text x="1029.6" y="624.6" font-size="21.4" text-anchor="end" font-family="'Liberation Sans', Arial, sans-serif">−2.0</text>
<text x="1359.2" y="703.2" font-size="27.0" text-anchor="middle" font-family="'DejaVu Sans', sans-serif">Age [Gyr]</text>
<text transform="translate(976.0,345.6) rotate(-90)" font-size="27.0" text-anchor="middle" font-family="'DejaVu Sans', sans-serif">[Z/H]</text>
<defs><linearGradient id="gR" x1="0" y1="1" x2="0" y2="0"><stop offset="0" stop-color="#ffffff"/><stop offset="0.05" stop-color="#e7e0df"/><stop offset="0.1" stop-color="#cdbfbc"/><stop offset="0.15" stop-color="#b39e99"/><stop offset="0.2" stop-color="#997c76"/><stop offset="0.25" stop-color="#805c54"/><stop offset="0.3" stop-color="#987b61"/><stop offset="0.35" stop-color="#b29c6f"/><stop offset="0.4" stop-color="#ccbe7d"/><stop offset="0.45" stop-color="#e6df8c"/><stop offset="0.5" stop-color="#fdff99"/><stop offset="0.55" stop-color="#cdf58f"/><stop offset="0.6" stop-color="#99eb85"/><stop offset="0.65" stop-color="#50e07e"/><stop offset="0.7" stop-color="#10d47a"/><stop offset="0.75" stop-color="#00c878"/><stop offset="0.8" stop-color="#00b0b0"/><stop offset="0.85" stop-color="#0098fe"/><stop offset="0.9" stop-color="#1276dc"/><stop offset="0.95" stop-color="#2353b9"/><stop offset="1.0" stop-color="#48249e"/></linearGradient></defs>
<rect x="1689.3" y="51.0" width="29.4" height="591.3" fill="url(#gR)" stroke="#000" stroke-width="1.2"/>
<line x1="1718.7" y1="642.5" x2="1727.0" y2="642.5" stroke="#000" stroke-width="1.2"/>
<text x="1733.3" y="650.1" font-size="21.4" font-family="'Liberation Sans', Arial, sans-serif">0.0</text>
<line x1="1718.7" y1="564.4" x2="1727.0" y2="564.4" stroke="#000" stroke-width="1.2"/>
<text x="1733.3" y="572.0" font-size="21.4" font-family="'Liberation Sans', Arial, sans-serif">0.5</text>
<line x1="1718.7" y1="486.3" x2="1727.0" y2="486.3" stroke="#000" stroke-width="1.2"/>
<text x="1733.3" y="493.9" font-size="21.4" font-family="'Liberation Sans', Arial, sans-serif">1.0</text>
<line x1="1718.7" y1="408.2" x2="1727.0" y2="408.2" stroke="#000" stroke-width="1.2"/>
<text x="1733.3" y="415.8" font-size="21.4" font-family="'Liberation Sans', Arial, sans-serif">1.5</text>
<line x1="1718.7" y1="330.2" x2="1727.0" y2="330.2" stroke="#000" stroke-width="1.2"/>
<text x="1733.3" y="337.8" font-size="21.4" font-family="'Liberation Sans', Arial, sans-serif">2.0</text>
<line x1="1718.7" y1="252.1" x2="1727.0" y2="252.1" stroke="#000" stroke-width="1.2"/>
<text x="1733.3" y="259.7" font-size="21.4" font-family="'Liberation Sans', Arial, sans-serif">2.5</text>
<line x1="1718.7" y1="174.0" x2="1727.0" y2="174.0" stroke="#000" stroke-width="1.2"/>
<text x="1733.3" y="181.6" font-size="21.4" font-family="'Liberation Sans', Arial, sans-serif">3.0</text>
<line x1="1718.7" y1="95.9" x2="1727.0" y2="95.9" stroke="#000" stroke-width="1.2"/>
<text x="1733.3" y="103.5" font-size="21.4" font-family="'Liberation Sans', Arial, sans-serif">3.5</text>
<text x="1674.1" y="46.4" font-size="21.4" font-family="'Liberation Sans', Arial, sans-serif">×10<tspan font-size="15" dy="-14.5">6</tspan></text>
<text transform="translate(1792.0,503.6) rotate(-90)" font-size="27.6" font-family="'DejaVu Sans', sans-serif">deSFH [M<tspan font-size="19.3" dy="4.9">⊙</tspan><tspan dy="-4.9">Gyr</tspan><tspan font-size="19.3" dy="-10.8">−1</tspan><tspan dy="10.8">dex</tspan><tspan font-size="19.3" dy="-10.8">−1</tspan><tspan dy="10.8">]</tspan></text>
</svg></body></html>
